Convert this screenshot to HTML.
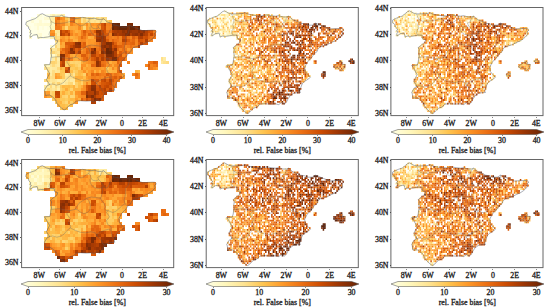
<!DOCTYPE html><html><head><meta charset="utf-8"><style>html,body{margin:0;padding:0;background:#fff;}svg{display:block}text{font-family:"Liberation Serif", serif;fill:#1a1a1a;stroke:#1a1a1a;stroke-width:0.28px}</style></head><body>
<svg width="550" height="308" viewBox="0 0 550 308" shape-rendering="crispEdges">
<defs><linearGradient id="cg" x1="0" x2="1" y1="0" y2="0">
<stop offset="0.000" stop-color="#ffffe5"/>
<stop offset="0.125" stop-color="#fff7bc"/>
<stop offset="0.250" stop-color="#fee391"/>
<stop offset="0.375" stop-color="#fec44f"/>
<stop offset="0.500" stop-color="#fe9929"/>
<stop offset="0.625" stop-color="#ec7014"/>
<stop offset="0.750" stop-color="#cc4c02"/>
<stop offset="0.875" stop-color="#993404"/>
<stop offset="1.000" stop-color="#662506"/>
</linearGradient>
</defs>
<clipPath id="cp0"><rect x="22" y="8" width="152" height="108"/></clipPath><g clip-path="url(#cp0)">
<rect x="36.61" y="14.09" width="2.74" height="3.24" fill="#fffcd4"/><rect x="39.20" y="14.09" width="2.74" height="3.24" fill="#fffdd8"/><rect x="41.79" y="14.09" width="5.33" height="3.24" fill="#ffffe5"/><rect x="46.96" y="14.09" width="2.74" height="3.24" fill="#ffffe4"/><rect x="49.55" y="14.09" width="2.74" height="3.24" fill="#fff8c1"/><rect x="52.14" y="14.09" width="2.74" height="3.24" fill="#fff0ad"/><rect x="54.73" y="14.09" width="2.74" height="3.24" fill="#fff9c6"/><rect x="57.31" y="14.09" width="2.74" height="3.24" fill="#fff7bd"/><rect x="59.90" y="14.09" width="2.74" height="3.24" fill="#fff5b8"/><rect x="62.49" y="14.09" width="2.74" height="3.24" fill="#ffeda7"/><rect x="31.44" y="17.19" width="5.33" height="3.24" fill="#ffffe5"/><rect x="36.61" y="17.19" width="2.74" height="3.24" fill="#fffdd8"/><rect x="39.20" y="17.19" width="2.74" height="3.24" fill="#fffedf"/><rect x="41.79" y="17.19" width="2.74" height="3.24" fill="#ffffe5"/><rect x="44.38" y="17.19" width="2.74" height="3.24" fill="#fffbd1"/><rect x="46.96" y="17.19" width="2.74" height="3.24" fill="#fffacd"/><rect x="49.55" y="17.19" width="2.74" height="3.24" fill="#fff0ac"/><rect x="52.14" y="17.19" width="2.74" height="3.24" fill="#ffeda7"/><rect x="54.73" y="17.19" width="2.74" height="3.24" fill="#f07919"/><rect x="57.31" y="17.19" width="2.74" height="3.24" fill="#e3660f"/><rect x="59.90" y="17.19" width="2.74" height="3.24" fill="#f5851f"/><rect x="62.49" y="17.19" width="2.74" height="3.24" fill="#fa9024"/><rect x="65.08" y="17.19" width="2.74" height="3.24" fill="#fec551"/><rect x="67.66" y="17.19" width="2.74" height="3.24" fill="#fed36f"/><rect x="70.25" y="17.19" width="2.74" height="3.24" fill="#ed7316"/><rect x="72.84" y="17.19" width="2.74" height="3.24" fill="#e86b12"/><rect x="75.43" y="17.19" width="2.74" height="3.24" fill="#feaf3c"/><rect x="78.01" y="17.19" width="2.74" height="3.24" fill="#feac3a"/><rect x="80.60" y="17.19" width="2.74" height="3.24" fill="#fee492"/><rect x="83.19" y="17.19" width="2.74" height="3.24" fill="#fed574"/><rect x="85.78" y="17.19" width="2.74" height="3.24" fill="#fee99d"/><rect x="88.36" y="17.19" width="2.74" height="3.24" fill="#fed879"/><rect x="90.95" y="17.19" width="2.74" height="3.24" fill="#fee18d"/><rect x="93.54" y="17.19" width="2.74" height="3.24" fill="#ffefaa"/><rect x="96.12" y="17.19" width="2.74" height="3.24" fill="#fedb80"/><rect x="98.71" y="17.19" width="2.74" height="3.24" fill="#fee596"/><rect x="101.30" y="17.19" width="2.74" height="3.24" fill="#fed777"/><rect x="103.89" y="17.19" width="2.74" height="3.24" fill="#fedd84"/><rect x="26.26" y="20.28" width="5.33" height="3.24" fill="#ffffe5"/><rect x="31.44" y="20.28" width="2.74" height="3.24" fill="#fffbd3"/><rect x="34.03" y="20.28" width="5.32" height="3.24" fill="#ffffe5"/><rect x="39.20" y="20.28" width="2.74" height="3.24" fill="#fffbd3"/><rect x="41.79" y="20.28" width="2.74" height="3.24" fill="#ffffe5"/><rect x="44.38" y="20.28" width="2.74" height="3.24" fill="#fffee2"/><rect x="46.96" y="20.28" width="2.74" height="3.24" fill="#ffffe5"/><rect x="49.55" y="20.28" width="2.74" height="3.24" fill="#feeca4"/><rect x="52.14" y="20.28" width="2.74" height="3.24" fill="#fff0ac"/><rect x="54.73" y="20.28" width="2.74" height="3.24" fill="#ed7315"/><rect x="57.31" y="20.28" width="2.74" height="3.24" fill="#f5851f"/><rect x="59.90" y="20.28" width="2.74" height="3.24" fill="#fea231"/><rect x="62.49" y="20.28" width="2.74" height="3.24" fill="#fe9929"/><rect x="65.08" y="20.28" width="2.74" height="3.24" fill="#feae3b"/><rect x="67.66" y="20.28" width="2.74" height="3.24" fill="#fed36e"/><rect x="70.25" y="20.28" width="2.74" height="3.24" fill="#ea6e13"/><rect x="72.84" y="20.28" width="2.74" height="3.24" fill="#e46710"/><rect x="75.43" y="20.28" width="2.74" height="3.24" fill="#fec24d"/><rect x="78.01" y="20.28" width="2.74" height="3.24" fill="#feb441"/><rect x="80.60" y="20.28" width="2.74" height="3.24" fill="#fee28e"/><rect x="83.19" y="20.28" width="2.74" height="3.24" fill="#fed26c"/><rect x="85.78" y="20.28" width="2.74" height="3.24" fill="#fedf89"/><rect x="88.36" y="20.28" width="2.74" height="3.24" fill="#fee08a"/><rect x="90.95" y="20.28" width="2.74" height="3.24" fill="#fee494"/><rect x="93.54" y="20.28" width="2.74" height="3.24" fill="#fedf89"/><rect x="96.12" y="20.28" width="2.74" height="3.24" fill="#fee697"/><rect x="98.71" y="20.28" width="2.74" height="3.24" fill="#fee08b"/><rect x="101.30" y="20.28" width="2.74" height="3.24" fill="#fee89c"/><rect x="103.89" y="20.28" width="2.74" height="3.24" fill="#feeaa1"/><rect x="106.47" y="20.28" width="2.74" height="3.24" fill="#fed068"/><rect x="109.06" y="20.28" width="2.74" height="3.24" fill="#febe4a"/><rect x="26.26" y="23.38" width="2.74" height="3.24" fill="#fffddd"/><rect x="28.85" y="23.38" width="5.33" height="3.24" fill="#ffffe5"/><rect x="34.03" y="23.38" width="2.74" height="3.24" fill="#fffdd8"/><rect x="36.61" y="23.38" width="2.74" height="3.24" fill="#fffbd2"/><rect x="39.20" y="23.38" width="2.74" height="3.24" fill="#fffbd0"/><rect x="41.79" y="23.38" width="2.74" height="3.24" fill="#fffcd4"/><rect x="44.38" y="23.38" width="2.74" height="3.24" fill="#fffbd1"/><rect x="46.96" y="23.38" width="2.74" height="3.24" fill="#fffbd0"/><rect x="49.55" y="23.38" width="2.74" height="3.24" fill="#fff6ba"/><rect x="52.14" y="23.38" width="2.74" height="3.24" fill="#fff8c1"/><rect x="54.73" y="23.38" width="2.74" height="3.24" fill="#e46710"/><rect x="57.31" y="23.38" width="2.74" height="3.24" fill="#f17b1a"/><rect x="59.90" y="23.38" width="2.74" height="3.24" fill="#f78a21"/><rect x="62.49" y="23.38" width="2.74" height="3.24" fill="#f68820"/><rect x="65.08" y="23.38" width="2.74" height="3.24" fill="#feb03d"/><rect x="67.66" y="23.38" width="2.74" height="3.24" fill="#febf4b"/><rect x="70.25" y="23.38" width="2.74" height="3.24" fill="#f4831e"/><rect x="72.84" y="23.38" width="2.74" height="3.24" fill="#fc9527"/><rect x="75.43" y="23.38" width="2.74" height="3.24" fill="#fe9c2b"/><rect x="78.01" y="23.38" width="2.74" height="3.24" fill="#fb9125"/><rect x="80.60" y="23.38" width="2.74" height="3.24" fill="#feaa38"/><rect x="83.19" y="23.38" width="2.74" height="3.24" fill="#feae3c"/><rect x="85.78" y="23.38" width="2.74" height="3.24" fill="#f88b22"/><rect x="88.36" y="23.38" width="2.74" height="3.24" fill="#feaf3c"/><rect x="90.95" y="23.38" width="2.74" height="3.24" fill="#fc9326"/><rect x="93.54" y="23.38" width="2.74" height="3.24" fill="#fe9a2a"/><rect x="96.12" y="23.38" width="2.74" height="3.24" fill="#fb9326"/><rect x="98.71" y="23.38" width="2.74" height="3.24" fill="#f78820"/><rect x="101.30" y="23.38" width="2.74" height="3.24" fill="#d65708"/><rect x="103.89" y="23.38" width="2.74" height="3.24" fill="#be4503"/><rect x="106.47" y="23.38" width="2.74" height="3.24" fill="#f4831e"/><rect x="109.06" y="23.38" width="2.74" height="3.24" fill="#f27e1b"/><rect x="111.65" y="23.38" width="2.74" height="3.24" fill="#662506"/><rect x="114.24" y="23.38" width="2.74" height="3.24" fill="#702806"/><rect x="116.83" y="23.38" width="2.74" height="3.24" fill="#662506"/><rect x="127.17" y="23.38" width="2.74" height="3.24" fill="#7e2c05"/><rect x="129.76" y="23.38" width="2.74" height="3.24" fill="#7c2b05"/><rect x="28.85" y="26.47" width="2.74" height="3.24" fill="#fffddb"/><rect x="31.44" y="26.47" width="2.74" height="3.24" fill="#ffffe5"/><rect x="34.03" y="26.47" width="2.74" height="3.24" fill="#fffee1"/><rect x="36.61" y="26.47" width="2.74" height="3.24" fill="#fffbd1"/><rect x="39.20" y="26.47" width="2.74" height="3.24" fill="#ffffe3"/><rect x="41.79" y="26.47" width="2.74" height="3.24" fill="#fffddc"/><rect x="44.38" y="26.47" width="2.74" height="3.24" fill="#ffffe5"/><rect x="46.96" y="26.47" width="2.74" height="3.24" fill="#fffede"/><rect x="49.55" y="26.47" width="2.74" height="3.24" fill="#fff4b7"/><rect x="52.14" y="26.47" width="2.74" height="3.24" fill="#fff5b8"/><rect x="54.73" y="26.47" width="2.74" height="3.24" fill="#ee7517"/><rect x="57.31" y="26.47" width="2.74" height="3.24" fill="#ef7617"/><rect x="59.90" y="26.47" width="2.74" height="3.24" fill="#f4811d"/><rect x="62.49" y="26.47" width="2.74" height="3.24" fill="#feb13e"/><rect x="65.08" y="26.47" width="2.74" height="3.24" fill="#fed675"/><rect x="67.66" y="26.47" width="2.74" height="3.24" fill="#feac3a"/><rect x="70.25" y="26.47" width="2.74" height="3.24" fill="#fea937"/><rect x="72.84" y="26.47" width="2.74" height="3.24" fill="#feac3a"/><rect x="75.43" y="26.47" width="2.74" height="3.24" fill="#fea836"/><rect x="78.01" y="26.47" width="2.74" height="3.24" fill="#f88a21"/><rect x="80.60" y="26.47" width="2.74" height="3.24" fill="#fead3b"/><rect x="83.19" y="26.47" width="2.74" height="3.24" fill="#fed675"/><rect x="85.78" y="26.47" width="2.74" height="3.24" fill="#fe9d2c"/><rect x="88.36" y="26.47" width="2.74" height="3.24" fill="#feae3b"/><rect x="90.95" y="26.47" width="2.74" height="3.24" fill="#fea534"/><rect x="93.54" y="26.47" width="2.74" height="3.24" fill="#fea736"/><rect x="96.12" y="26.47" width="2.74" height="3.24" fill="#fb9225"/><rect x="98.71" y="26.47" width="2.74" height="3.24" fill="#fea130"/><rect x="101.30" y="26.47" width="2.74" height="3.24" fill="#d85a09"/><rect x="103.89" y="26.47" width="2.74" height="3.24" fill="#cc4c02"/><rect x="106.47" y="26.47" width="2.74" height="3.24" fill="#f68720"/><rect x="109.06" y="26.47" width="2.74" height="3.24" fill="#f5841e"/><rect x="111.65" y="26.47" width="2.74" height="3.24" fill="#662506"/><rect x="114.24" y="26.47" width="2.74" height="3.24" fill="#782a05"/><rect x="116.83" y="26.47" width="2.74" height="3.24" fill="#6f2806"/><rect x="119.41" y="26.47" width="7.91" height="3.24" fill="#662506"/><rect x="127.17" y="26.47" width="2.74" height="3.24" fill="#7a2b05"/><rect x="129.76" y="26.47" width="5.33" height="3.24" fill="#662506"/><rect x="134.94" y="26.47" width="2.74" height="3.24" fill="#812d05"/><rect x="137.53" y="26.47" width="2.74" height="3.24" fill="#662506"/><rect x="28.85" y="29.56" width="2.74" height="3.24" fill="#fffcd4"/><rect x="31.44" y="29.56" width="5.33" height="3.24" fill="#ffffe5"/><rect x="36.61" y="29.56" width="2.74" height="3.24" fill="#fffee0"/><rect x="39.20" y="29.56" width="10.50" height="3.24" fill="#ffffe5"/><rect x="49.55" y="29.56" width="2.74" height="3.24" fill="#fd9627"/><rect x="52.14" y="29.56" width="2.74" height="3.24" fill="#fe9929"/><rect x="54.73" y="29.56" width="2.74" height="3.24" fill="#fee89b"/><rect x="57.31" y="29.56" width="2.74" height="3.24" fill="#fee698"/><rect x="59.90" y="29.56" width="2.74" height="3.24" fill="#b74203"/><rect x="62.49" y="29.56" width="2.74" height="3.24" fill="#d65707"/><rect x="65.08" y="29.56" width="2.74" height="3.24" fill="#c84a02"/><rect x="67.66" y="29.56" width="2.74" height="3.24" fill="#df610d"/><rect x="70.25" y="29.56" width="2.74" height="3.24" fill="#f98d23"/><rect x="72.84" y="29.56" width="2.74" height="3.24" fill="#fea130"/><rect x="75.43" y="29.56" width="2.74" height="3.24" fill="#feb03e"/><rect x="78.01" y="29.56" width="2.74" height="3.24" fill="#fea433"/><rect x="80.60" y="29.56" width="2.74" height="3.24" fill="#f27d1b"/><rect x="83.19" y="29.56" width="2.74" height="3.24" fill="#db5c0a"/><rect x="85.78" y="29.56" width="2.74" height="3.24" fill="#ef7718"/><rect x="88.36" y="29.56" width="2.74" height="3.24" fill="#f17a19"/><rect x="90.95" y="29.56" width="2.74" height="3.24" fill="#ef7718"/><rect x="93.54" y="29.56" width="2.74" height="3.24" fill="#db5d0a"/><rect x="96.12" y="29.56" width="2.74" height="3.24" fill="#913204"/><rect x="98.71" y="29.56" width="2.74" height="3.24" fill="#923204"/><rect x="101.30" y="29.56" width="2.74" height="3.24" fill="#bf4603"/><rect x="103.89" y="29.56" width="2.74" height="3.24" fill="#d05104"/><rect x="106.47" y="29.56" width="2.74" height="3.24" fill="#ee7416"/><rect x="109.06" y="29.56" width="2.74" height="3.24" fill="#e66911"/><rect x="111.65" y="29.56" width="2.74" height="3.24" fill="#b84203"/><rect x="114.24" y="29.56" width="2.74" height="3.24" fill="#ac3d03"/><rect x="116.83" y="29.56" width="2.74" height="3.24" fill="#a33904"/><rect x="119.41" y="29.56" width="2.74" height="3.24" fill="#a93c03"/><rect x="122.00" y="29.56" width="2.74" height="3.24" fill="#913204"/><rect x="124.59" y="29.56" width="2.74" height="3.24" fill="#a03704"/><rect x="127.17" y="29.56" width="2.74" height="3.24" fill="#822d05"/><rect x="129.76" y="29.56" width="2.74" height="3.24" fill="#953304"/><rect x="132.35" y="29.56" width="2.74" height="3.24" fill="#9e3604"/><rect x="134.94" y="29.56" width="2.74" height="3.24" fill="#9f3704"/><rect x="137.53" y="29.56" width="2.74" height="3.24" fill="#8d3004"/><rect x="140.11" y="29.56" width="2.74" height="3.24" fill="#9e3604"/><rect x="142.70" y="29.56" width="2.74" height="3.24" fill="#8f3104"/><rect x="145.29" y="29.56" width="2.74" height="3.24" fill="#b54103"/><rect x="147.88" y="29.56" width="2.74" height="3.24" fill="#ce4e03"/><rect x="150.46" y="29.56" width="2.74" height="3.24" fill="#d55607"/><rect x="153.05" y="29.56" width="2.74" height="3.24" fill="#f3811d"/><rect x="28.85" y="32.66" width="2.74" height="3.24" fill="#ffffe4"/><rect x="31.44" y="32.66" width="2.74" height="3.24" fill="#ffffe5"/><rect x="34.03" y="32.66" width="2.74" height="3.24" fill="#fffee2"/><rect x="36.61" y="32.66" width="2.74" height="3.24" fill="#fffdd8"/><rect x="39.20" y="32.66" width="2.74" height="3.24" fill="#fffbd2"/><rect x="41.79" y="32.66" width="7.91" height="3.24" fill="#ffffe5"/><rect x="49.55" y="32.66" width="2.74" height="3.24" fill="#f78a21"/><rect x="52.14" y="32.66" width="2.74" height="3.24" fill="#f68720"/><rect x="54.73" y="32.66" width="2.74" height="3.24" fill="#fed778"/><rect x="57.31" y="32.66" width="2.74" height="3.24" fill="#feeaa1"/><rect x="59.90" y="32.66" width="2.74" height="3.24" fill="#ad3e03"/><rect x="62.49" y="32.66" width="2.74" height="3.24" fill="#c44802"/><rect x="65.08" y="32.66" width="2.74" height="3.24" fill="#dc5e0b"/><rect x="67.66" y="32.66" width="2.74" height="3.24" fill="#be4603"/><rect x="70.25" y="32.66" width="2.74" height="3.24" fill="#f3811d"/><rect x="72.84" y="32.66" width="2.74" height="3.24" fill="#fe9e2d"/><rect x="75.43" y="32.66" width="2.74" height="3.24" fill="#fa9025"/><rect x="78.01" y="32.66" width="2.74" height="3.24" fill="#fea231"/><rect x="80.60" y="32.66" width="2.74" height="3.24" fill="#f27e1b"/><rect x="83.19" y="32.66" width="2.74" height="3.24" fill="#e4670f"/><rect x="85.78" y="32.66" width="2.74" height="3.24" fill="#f78821"/><rect x="88.36" y="32.66" width="2.74" height="3.24" fill="#e0620d"/><rect x="90.95" y="32.66" width="2.74" height="3.24" fill="#eb6f13"/><rect x="93.54" y="32.66" width="2.74" height="3.24" fill="#f5841e"/><rect x="96.12" y="32.66" width="2.74" height="3.24" fill="#b03f03"/><rect x="98.71" y="32.66" width="2.74" height="3.24" fill="#903104"/><rect x="101.30" y="32.66" width="2.74" height="3.24" fill="#b54103"/><rect x="103.89" y="32.66" width="2.74" height="3.24" fill="#d45607"/><rect x="106.47" y="32.66" width="2.74" height="3.24" fill="#da5b0a"/><rect x="109.06" y="32.66" width="2.74" height="3.24" fill="#f5841e"/><rect x="111.65" y="32.66" width="2.74" height="3.24" fill="#832e05"/><rect x="114.24" y="32.66" width="2.74" height="3.24" fill="#9f3704"/><rect x="116.83" y="32.66" width="2.74" height="3.24" fill="#b34003"/><rect x="119.41" y="32.66" width="2.74" height="3.24" fill="#a73a03"/><rect x="122.00" y="32.66" width="2.74" height="3.24" fill="#9c3504"/><rect x="124.59" y="32.66" width="2.74" height="3.24" fill="#872f05"/><rect x="127.17" y="32.66" width="2.74" height="3.24" fill="#832d05"/><rect x="129.76" y="32.66" width="2.74" height="3.24" fill="#af3f03"/><rect x="132.35" y="32.66" width="2.74" height="3.24" fill="#983404"/><rect x="134.94" y="32.66" width="2.74" height="3.24" fill="#903104"/><rect x="137.53" y="32.66" width="2.74" height="3.24" fill="#a23804"/><rect x="140.11" y="32.66" width="2.74" height="3.24" fill="#822d05"/><rect x="142.70" y="32.66" width="2.74" height="3.24" fill="#a73a03"/><rect x="145.29" y="32.66" width="2.74" height="3.24" fill="#b64203"/><rect x="147.88" y="32.66" width="2.74" height="3.24" fill="#de600c"/><rect x="150.46" y="32.66" width="2.74" height="3.24" fill="#c14702"/><rect x="153.05" y="32.66" width="2.74" height="3.24" fill="#ea6d13"/><rect x="28.85" y="35.75" width="2.74" height="3.24" fill="#fffbcf"/><rect x="36.61" y="35.75" width="2.74" height="3.24" fill="#fffbcf"/><rect x="39.20" y="35.75" width="2.74" height="3.24" fill="#fffbd1"/><rect x="41.79" y="35.75" width="2.74" height="3.24" fill="#ffffe5"/><rect x="44.38" y="35.75" width="2.74" height="3.24" fill="#fffdd9"/><rect x="46.96" y="35.75" width="2.74" height="3.24" fill="#fffddb"/><rect x="49.55" y="35.75" width="2.74" height="3.24" fill="#fff3b4"/><rect x="52.14" y="35.75" width="2.74" height="3.24" fill="#fff2b1"/><rect x="54.73" y="35.75" width="2.74" height="3.24" fill="#fed471"/><rect x="57.31" y="35.75" width="2.74" height="3.24" fill="#fede86"/><rect x="59.90" y="35.75" width="2.74" height="3.24" fill="#fea02f"/><rect x="62.49" y="35.75" width="2.74" height="3.24" fill="#fd9728"/><rect x="65.08" y="35.75" width="2.74" height="3.24" fill="#fea836"/><rect x="67.66" y="35.75" width="2.74" height="3.24" fill="#fc9527"/><rect x="70.25" y="35.75" width="2.74" height="3.24" fill="#feb23f"/><rect x="72.84" y="35.75" width="2.74" height="3.24" fill="#feab39"/><rect x="75.43" y="35.75" width="2.74" height="3.24" fill="#fea231"/><rect x="78.01" y="35.75" width="2.74" height="3.24" fill="#f88b22"/><rect x="80.60" y="35.75" width="2.74" height="3.24" fill="#e4670f"/><rect x="83.19" y="35.75" width="2.74" height="3.24" fill="#ef7818"/><rect x="85.78" y="35.75" width="2.74" height="3.24" fill="#fb9326"/><rect x="88.36" y="35.75" width="2.74" height="3.24" fill="#feb13e"/><rect x="90.95" y="35.75" width="2.74" height="3.24" fill="#feaa38"/><rect x="93.54" y="35.75" width="2.74" height="3.24" fill="#f4811d"/><rect x="96.12" y="35.75" width="2.74" height="3.24" fill="#a63a03"/><rect x="98.71" y="35.75" width="2.74" height="3.24" fill="#9f3704"/><rect x="101.30" y="35.75" width="2.74" height="3.24" fill="#963304"/><rect x="103.89" y="35.75" width="2.74" height="3.24" fill="#a63a04"/><rect x="106.47" y="35.75" width="2.74" height="3.24" fill="#ec7115"/><rect x="109.06" y="35.75" width="2.74" height="3.24" fill="#f27d1b"/><rect x="111.65" y="35.75" width="2.74" height="3.24" fill="#f6861f"/><rect x="114.24" y="35.75" width="2.74" height="3.24" fill="#f3801c"/><rect x="116.83" y="35.75" width="2.74" height="3.24" fill="#eb6f14"/><rect x="119.41" y="35.75" width="2.74" height="3.24" fill="#f5851f"/><rect x="122.00" y="35.75" width="2.74" height="3.24" fill="#d05004"/><rect x="124.59" y="35.75" width="2.74" height="3.24" fill="#d35306"/><rect x="127.17" y="35.75" width="2.74" height="3.24" fill="#ee7416"/><rect x="129.76" y="35.75" width="2.74" height="3.24" fill="#f5841e"/><rect x="132.35" y="35.75" width="2.74" height="3.24" fill="#dc5e0b"/><rect x="134.94" y="35.75" width="2.74" height="3.24" fill="#ed7115"/><rect x="137.53" y="35.75" width="2.74" height="3.24" fill="#b74203"/><rect x="140.11" y="35.75" width="2.74" height="3.24" fill="#af3e03"/><rect x="142.70" y="35.75" width="2.74" height="3.24" fill="#d25305"/><rect x="145.29" y="35.75" width="2.74" height="3.24" fill="#cd4d02"/><rect x="147.88" y="35.75" width="2.74" height="3.24" fill="#e46710"/><rect x="150.46" y="35.75" width="2.74" height="3.24" fill="#ee7416"/><rect x="153.05" y="35.75" width="2.74" height="3.24" fill="#f07a19"/><rect x="54.73" y="38.84" width="2.74" height="3.24" fill="#feda7e"/><rect x="57.31" y="38.84" width="2.74" height="3.24" fill="#fed472"/><rect x="59.90" y="38.84" width="2.74" height="3.24" fill="#f5841e"/><rect x="62.49" y="38.84" width="2.74" height="3.24" fill="#fb9326"/><rect x="65.08" y="38.84" width="2.74" height="3.24" fill="#fe9f2f"/><rect x="67.66" y="38.84" width="2.74" height="3.24" fill="#f4821d"/><rect x="70.25" y="38.84" width="2.74" height="3.24" fill="#fb9226"/><rect x="72.84" y="38.84" width="2.74" height="3.24" fill="#feaf3d"/><rect x="75.43" y="38.84" width="2.74" height="3.24" fill="#feae3c"/><rect x="78.01" y="38.84" width="2.74" height="3.24" fill="#f98d23"/><rect x="80.60" y="38.84" width="2.74" height="3.24" fill="#f5861f"/><rect x="83.19" y="38.84" width="2.74" height="3.24" fill="#f78820"/><rect x="85.78" y="38.84" width="2.74" height="3.24" fill="#fe9e2e"/><rect x="88.36" y="38.84" width="2.74" height="3.24" fill="#fe9829"/><rect x="90.95" y="38.84" width="2.74" height="3.24" fill="#fe9c2b"/><rect x="93.54" y="38.84" width="2.74" height="3.24" fill="#fe9a2a"/><rect x="96.12" y="38.84" width="2.74" height="3.24" fill="#943204"/><rect x="98.71" y="38.84" width="2.74" height="3.24" fill="#8e3104"/><rect x="101.30" y="38.84" width="2.74" height="3.24" fill="#9e3604"/><rect x="103.89" y="38.84" width="2.74" height="3.24" fill="#a13804"/><rect x="106.47" y="38.84" width="2.74" height="3.24" fill="#d95b09"/><rect x="109.06" y="38.84" width="2.74" height="3.24" fill="#f17c1a"/><rect x="111.65" y="38.84" width="2.74" height="3.24" fill="#e1640e"/><rect x="114.24" y="38.84" width="2.74" height="3.24" fill="#ed7316"/><rect x="116.83" y="38.84" width="2.74" height="3.24" fill="#ef7718"/><rect x="119.41" y="38.84" width="2.74" height="3.24" fill="#f5851f"/><rect x="122.00" y="38.84" width="2.74" height="3.24" fill="#b64203"/><rect x="124.59" y="38.84" width="2.74" height="3.24" fill="#c04602"/><rect x="127.17" y="38.84" width="2.74" height="3.24" fill="#dd5f0b"/><rect x="129.76" y="38.84" width="2.74" height="3.24" fill="#ed7215"/><rect x="132.35" y="38.84" width="2.74" height="3.24" fill="#e56810"/><rect x="134.94" y="38.84" width="2.74" height="3.24" fill="#f4831e"/><rect x="137.53" y="38.84" width="2.74" height="3.24" fill="#d05004"/><rect x="140.11" y="38.84" width="2.74" height="3.24" fill="#d75908"/><rect x="142.70" y="38.84" width="2.74" height="3.24" fill="#de600c"/><rect x="145.29" y="38.84" width="2.74" height="3.24" fill="#b13f03"/><rect x="147.88" y="38.84" width="2.74" height="3.24" fill="#f27e1b"/><rect x="150.46" y="38.84" width="2.74" height="3.24" fill="#f4811d"/><rect x="54.73" y="41.94" width="2.74" height="3.24" fill="#feeaa1"/><rect x="57.31" y="41.94" width="2.74" height="3.24" fill="#fee697"/><rect x="59.90" y="41.94" width="2.74" height="3.24" fill="#fd9728"/><rect x="62.49" y="41.94" width="2.74" height="3.24" fill="#feab39"/><rect x="65.08" y="41.94" width="2.74" height="3.24" fill="#d95b09"/><rect x="67.66" y="41.94" width="2.74" height="3.24" fill="#d95b0a"/><rect x="70.25" y="41.94" width="2.74" height="3.24" fill="#da5b0a"/><rect x="72.84" y="41.94" width="2.74" height="3.24" fill="#d05004"/><rect x="75.43" y="41.94" width="2.74" height="3.24" fill="#8e3104"/><rect x="78.01" y="41.94" width="2.74" height="3.24" fill="#822d05"/><rect x="80.60" y="41.94" width="2.74" height="3.24" fill="#ec7014"/><rect x="83.19" y="41.94" width="2.74" height="3.24" fill="#dc5e0b"/><rect x="85.78" y="41.94" width="2.74" height="3.24" fill="#fea231"/><rect x="88.36" y="41.94" width="5.32" height="3.24" fill="#fe9929"/><rect x="93.54" y="41.94" width="2.74" height="3.24" fill="#fa9125"/><rect x="96.12" y="41.94" width="2.74" height="3.24" fill="#f27f1c"/><rect x="98.71" y="41.94" width="2.74" height="3.24" fill="#e86b12"/><rect x="101.30" y="41.94" width="2.74" height="3.24" fill="#aa3c03"/><rect x="103.89" y="41.94" width="2.74" height="3.24" fill="#a33904"/><rect x="106.47" y="41.94" width="2.74" height="3.24" fill="#7d2c05"/><rect x="109.06" y="41.94" width="2.74" height="3.24" fill="#812d05"/><rect x="111.65" y="41.94" width="2.74" height="3.24" fill="#b94303"/><rect x="114.24" y="41.94" width="2.74" height="3.24" fill="#de600c"/><rect x="116.83" y="41.94" width="2.74" height="3.24" fill="#f4811d"/><rect x="119.41" y="41.94" width="2.74" height="3.24" fill="#f17c1a"/><rect x="122.00" y="41.94" width="2.74" height="3.24" fill="#e1640e"/><rect x="124.59" y="41.94" width="2.74" height="3.24" fill="#df610d"/><rect x="127.17" y="41.94" width="2.74" height="3.24" fill="#e96c12"/><rect x="129.76" y="41.94" width="2.74" height="3.24" fill="#e4670f"/><rect x="132.35" y="41.94" width="2.74" height="3.24" fill="#e0630d"/><rect x="134.94" y="41.94" width="2.74" height="3.24" fill="#f5851f"/><rect x="137.53" y="41.94" width="2.74" height="3.24" fill="#dc5e0b"/><rect x="140.11" y="41.94" width="2.74" height="3.24" fill="#b54103"/><rect x="142.70" y="41.94" width="2.74" height="3.24" fill="#de600c"/><rect x="145.29" y="41.94" width="2.74" height="3.24" fill="#d75808"/><rect x="49.55" y="45.03" width="2.74" height="3.24" fill="#fffbd3"/><rect x="52.14" y="45.03" width="2.74" height="3.24" fill="#fffcd4"/><rect x="54.73" y="45.03" width="2.74" height="3.24" fill="#fed676"/><rect x="57.31" y="45.03" width="2.74" height="3.24" fill="#fee79a"/><rect x="59.90" y="45.03" width="2.74" height="3.24" fill="#feab38"/><rect x="62.49" y="45.03" width="2.74" height="3.24" fill="#feab39"/><rect x="65.08" y="45.03" width="2.74" height="3.24" fill="#e66911"/><rect x="67.66" y="45.03" width="2.74" height="3.24" fill="#da5c0a"/><rect x="70.25" y="45.03" width="2.74" height="3.24" fill="#cc4c02"/><rect x="72.84" y="45.03" width="2.74" height="3.24" fill="#b34003"/><rect x="75.43" y="45.03" width="2.74" height="3.24" fill="#993404"/><rect x="78.01" y="45.03" width="2.74" height="3.24" fill="#943304"/><rect x="80.60" y="45.03" width="2.74" height="3.24" fill="#e56810"/><rect x="83.19" y="45.03" width="2.74" height="3.24" fill="#e0630d"/><rect x="85.78" y="45.03" width="2.74" height="3.24" fill="#f88c23"/><rect x="88.36" y="45.03" width="2.74" height="3.24" fill="#f3811d"/><rect x="90.95" y="45.03" width="2.74" height="3.24" fill="#f98d23"/><rect x="93.54" y="45.03" width="2.74" height="3.24" fill="#f5851f"/><rect x="96.12" y="45.03" width="2.74" height="3.24" fill="#f27e1b"/><rect x="98.71" y="45.03" width="2.74" height="3.24" fill="#eb6e13"/><rect x="101.30" y="45.03" width="2.74" height="3.24" fill="#933204"/><rect x="103.89" y="45.03" width="2.74" height="3.24" fill="#852e05"/><rect x="106.47" y="45.03" width="2.74" height="3.24" fill="#9a3504"/><rect x="109.06" y="45.03" width="2.74" height="3.24" fill="#872f05"/><rect x="111.65" y="45.03" width="2.74" height="3.24" fill="#d05104"/><rect x="114.24" y="45.03" width="2.74" height="3.24" fill="#c74a02"/><rect x="116.83" y="45.03" width="2.74" height="3.24" fill="#df610c"/><rect x="119.41" y="45.03" width="2.74" height="3.24" fill="#e1630e"/><rect x="122.00" y="45.03" width="2.74" height="3.24" fill="#e66911"/><rect x="124.59" y="45.03" width="2.74" height="3.24" fill="#f78921"/><rect x="127.17" y="45.03" width="2.74" height="3.24" fill="#f3801c"/><rect x="129.76" y="45.03" width="2.74" height="3.24" fill="#ec7014"/><rect x="132.35" y="45.03" width="2.74" height="3.24" fill="#f17c1a"/><rect x="134.94" y="45.03" width="2.74" height="3.24" fill="#f5851f"/><rect x="137.53" y="45.03" width="2.74" height="3.24" fill="#b64203"/><rect x="49.55" y="48.12" width="2.74" height="3.24" fill="#fed36e"/><rect x="52.14" y="48.12" width="2.74" height="3.24" fill="#fee89b"/><rect x="54.73" y="48.12" width="2.74" height="3.24" fill="#fee596"/><rect x="57.31" y="48.12" width="2.74" height="3.24" fill="#fed778"/><rect x="59.90" y="48.12" width="2.74" height="3.24" fill="#f5861f"/><rect x="62.49" y="48.12" width="2.74" height="3.24" fill="#e76a11"/><rect x="65.08" y="48.12" width="2.74" height="3.24" fill="#da5c0a"/><rect x="67.66" y="48.12" width="2.74" height="3.24" fill="#d45507"/><rect x="70.25" y="48.12" width="2.74" height="3.24" fill="#852e05"/><rect x="72.84" y="48.12" width="2.74" height="3.24" fill="#b44103"/><rect x="75.43" y="48.12" width="2.74" height="3.24" fill="#de600c"/><rect x="78.01" y="48.12" width="2.74" height="3.24" fill="#cf5004"/><rect x="80.60" y="48.12" width="2.74" height="3.24" fill="#fe9929"/><rect x="83.19" y="48.12" width="2.74" height="3.24" fill="#f68720"/><rect x="85.78" y="48.12" width="2.74" height="3.24" fill="#e4670f"/><rect x="88.36" y="48.12" width="2.74" height="3.24" fill="#e56910"/><rect x="90.95" y="48.12" width="2.74" height="3.24" fill="#ae3e03"/><rect x="93.54" y="48.12" width="2.74" height="3.24" fill="#7b2b05"/><rect x="96.12" y="48.12" width="2.74" height="3.24" fill="#ee7416"/><rect x="98.71" y="48.12" width="2.74" height="3.24" fill="#e86b12"/><rect x="101.30" y="48.12" width="2.74" height="3.24" fill="#a03704"/><rect x="103.89" y="48.12" width="2.74" height="3.24" fill="#b54103"/><rect x="106.47" y="48.12" width="2.74" height="3.24" fill="#682606"/><rect x="109.06" y="48.12" width="2.74" height="3.24" fill="#7b2b05"/><rect x="111.65" y="48.12" width="2.74" height="3.24" fill="#b64103"/><rect x="114.24" y="48.12" width="2.74" height="3.24" fill="#923204"/><rect x="116.83" y="48.12" width="2.74" height="3.24" fill="#e76a11"/><rect x="119.41" y="48.12" width="2.74" height="3.24" fill="#f5831e"/><rect x="122.00" y="48.12" width="2.74" height="3.24" fill="#ea6e13"/><rect x="124.59" y="48.12" width="2.74" height="3.24" fill="#ef7818"/><rect x="127.17" y="48.12" width="2.74" height="3.24" fill="#fe9f2e"/><rect x="129.76" y="48.12" width="2.74" height="3.24" fill="#f88b22"/><rect x="49.55" y="51.22" width="2.74" height="3.24" fill="#fee391"/><rect x="52.14" y="51.22" width="2.74" height="3.24" fill="#fed573"/><rect x="54.73" y="51.22" width="2.74" height="3.24" fill="#fedf88"/><rect x="57.31" y="51.22" width="2.74" height="3.24" fill="#fee493"/><rect x="59.90" y="51.22" width="2.74" height="3.24" fill="#e76a11"/><rect x="62.49" y="51.22" width="2.74" height="3.24" fill="#f07818"/><rect x="65.08" y="51.22" width="2.74" height="3.24" fill="#da5c0a"/><rect x="67.66" y="51.22" width="2.74" height="3.24" fill="#c14702"/><rect x="70.25" y="51.22" width="2.74" height="3.24" fill="#923204"/><rect x="72.84" y="51.22" width="2.74" height="3.24" fill="#872f05"/><rect x="75.43" y="51.22" width="2.74" height="3.24" fill="#da5c0a"/><rect x="78.01" y="51.22" width="2.74" height="3.24" fill="#b34003"/><rect x="80.60" y="51.22" width="2.74" height="3.24" fill="#f88a21"/><rect x="83.19" y="51.22" width="2.74" height="3.24" fill="#f5841e"/><rect x="85.78" y="51.22" width="2.74" height="3.24" fill="#de600c"/><rect x="88.36" y="51.22" width="2.74" height="3.24" fill="#e56810"/><rect x="90.95" y="51.22" width="2.74" height="3.24" fill="#862e05"/><rect x="93.54" y="51.22" width="2.74" height="3.24" fill="#983404"/><rect x="96.12" y="51.22" width="2.74" height="3.24" fill="#e1640e"/><rect x="98.71" y="51.22" width="2.74" height="3.24" fill="#f37f1c"/><rect x="101.30" y="51.22" width="2.74" height="3.24" fill="#882f05"/><rect x="103.89" y="51.22" width="2.74" height="3.24" fill="#9c3604"/><rect x="106.47" y="51.22" width="2.74" height="3.24" fill="#662506"/><rect x="109.06" y="51.22" width="2.74" height="3.24" fill="#692606"/><rect x="111.65" y="51.22" width="2.74" height="3.24" fill="#872f05"/><rect x="114.24" y="51.22" width="2.74" height="3.24" fill="#b34003"/><rect x="116.83" y="51.22" width="2.74" height="3.24" fill="#f6861f"/><rect x="119.41" y="51.22" width="2.74" height="3.24" fill="#db5d0b"/><rect x="122.00" y="51.22" width="2.74" height="3.24" fill="#ec7114"/><rect x="124.59" y="51.22" width="2.74" height="3.24" fill="#dd5f0b"/><rect x="127.17" y="51.22" width="2.74" height="3.24" fill="#f4831e"/><rect x="129.76" y="51.22" width="2.74" height="3.24" fill="#fa9125"/><rect x="49.55" y="54.31" width="2.74" height="3.24" fill="#fff5b8"/><rect x="52.14" y="54.31" width="2.74" height="3.24" fill="#fffaca"/><rect x="54.73" y="54.31" width="2.74" height="3.24" fill="#feeda6"/><rect x="57.31" y="54.31" width="2.74" height="3.24" fill="#fed778"/><rect x="59.90" y="54.31" width="2.74" height="3.24" fill="#812d05"/><rect x="62.49" y="54.31" width="2.74" height="3.24" fill="#882f05"/><rect x="65.08" y="54.31" width="2.74" height="3.24" fill="#e46710"/><rect x="67.66" y="54.31" width="2.74" height="3.24" fill="#ee7416"/><rect x="70.25" y="54.31" width="2.74" height="3.24" fill="#fea332"/><rect x="72.84" y="54.31" width="2.74" height="3.24" fill="#fead3b"/><rect x="75.43" y="54.31" width="2.74" height="3.24" fill="#fe9d2c"/><rect x="78.01" y="54.31" width="2.74" height="3.24" fill="#fd9627"/><rect x="80.60" y="54.31" width="2.74" height="3.24" fill="#dc5e0b"/><rect x="83.19" y="54.31" width="2.74" height="3.24" fill="#db5d0b"/><rect x="85.78" y="54.31" width="2.74" height="3.24" fill="#ee7416"/><rect x="88.36" y="54.31" width="2.74" height="3.24" fill="#f5841e"/><rect x="90.95" y="54.31" width="2.74" height="3.24" fill="#bb4403"/><rect x="93.54" y="54.31" width="2.74" height="3.24" fill="#be4503"/><rect x="96.12" y="54.31" width="2.74" height="3.24" fill="#de600c"/><rect x="98.71" y="54.31" width="2.74" height="3.24" fill="#ce4e03"/><rect x="101.30" y="54.31" width="2.74" height="3.24" fill="#c14702"/><rect x="103.89" y="54.31" width="2.74" height="3.24" fill="#de600c"/><rect x="106.47" y="54.31" width="2.74" height="3.24" fill="#7f2c05"/><rect x="109.06" y="54.31" width="2.74" height="3.24" fill="#7d2c05"/><rect x="111.65" y="54.31" width="2.74" height="3.24" fill="#8b3005"/><rect x="114.24" y="54.31" width="2.74" height="3.24" fill="#b34003"/><rect x="116.83" y="54.31" width="2.74" height="3.24" fill="#dc5f0b"/><rect x="119.41" y="54.31" width="2.74" height="3.24" fill="#d15205"/><rect x="122.00" y="54.31" width="2.74" height="3.24" fill="#f68720"/><rect x="124.59" y="54.31" width="2.74" height="3.24" fill="#ef7718"/><rect x="49.55" y="57.41" width="2.74" height="3.24" fill="#fffcd4"/><rect x="52.14" y="57.41" width="2.74" height="3.24" fill="#feeca4"/><rect x="54.73" y="57.41" width="2.74" height="3.24" fill="#fed778"/><rect x="57.31" y="57.41" width="2.74" height="3.24" fill="#ffeda7"/><rect x="59.90" y="57.41" width="2.74" height="3.24" fill="#812d05"/><rect x="62.49" y="57.41" width="2.74" height="3.24" fill="#ab3c03"/><rect x="65.08" y="57.41" width="2.74" height="3.24" fill="#f27f1b"/><rect x="67.66" y="57.41" width="2.74" height="3.24" fill="#e56810"/><rect x="70.25" y="57.41" width="2.74" height="3.24" fill="#f5831e"/><rect x="72.84" y="57.41" width="2.74" height="3.24" fill="#feac3a"/><rect x="75.43" y="57.41" width="2.74" height="3.24" fill="#feb23f"/><rect x="78.01" y="57.41" width="2.74" height="3.24" fill="#fea02f"/><rect x="80.60" y="57.41" width="2.74" height="3.24" fill="#f68720"/><rect x="83.19" y="57.41" width="2.74" height="3.24" fill="#e86b12"/><rect x="85.78" y="57.41" width="2.74" height="3.24" fill="#de600c"/><rect x="88.36" y="57.41" width="2.74" height="3.24" fill="#f37f1c"/><rect x="90.95" y="57.41" width="2.74" height="3.24" fill="#db5d0a"/><rect x="93.54" y="57.41" width="2.74" height="3.24" fill="#d25305"/><rect x="96.12" y="57.41" width="2.74" height="3.24" fill="#b03f03"/><rect x="98.71" y="57.41" width="2.74" height="3.24" fill="#da5c0a"/><rect x="101.30" y="57.41" width="2.74" height="3.24" fill="#af3f03"/><rect x="103.89" y="57.41" width="2.74" height="3.24" fill="#d15205"/><rect x="106.47" y="57.41" width="2.74" height="3.24" fill="#9b3504"/><rect x="109.06" y="57.41" width="2.74" height="3.24" fill="#a63a04"/><rect x="111.65" y="57.41" width="2.74" height="3.24" fill="#7e2c05"/><rect x="114.24" y="57.41" width="2.74" height="3.24" fill="#7d2c05"/><rect x="116.83" y="57.41" width="2.74" height="3.24" fill="#c44802"/><rect x="119.41" y="57.41" width="2.74" height="3.24" fill="#d85a09"/><rect x="122.00" y="57.41" width="2.74" height="3.24" fill="#d95b09"/><rect x="124.59" y="57.41" width="2.74" height="3.24" fill="#f5841e"/><rect x="160.81" y="57.41" width="2.74" height="3.24" fill="#fee08b"/><rect x="163.40" y="57.41" width="2.74" height="3.24" fill="#feeba3"/><rect x="49.55" y="60.50" width="2.74" height="3.24" fill="#fed472"/><rect x="52.14" y="60.50" width="2.74" height="3.24" fill="#fed26e"/><rect x="54.73" y="60.50" width="2.74" height="3.24" fill="#fed879"/><rect x="57.31" y="60.50" width="2.74" height="3.24" fill="#fee79b"/><rect x="59.90" y="60.50" width="2.74" height="3.24" fill="#d65708"/><rect x="62.49" y="60.50" width="2.74" height="3.24" fill="#bc4503"/><rect x="65.08" y="60.50" width="2.74" height="3.24" fill="#fecc60"/><rect x="67.66" y="60.50" width="2.74" height="3.24" fill="#fec755"/><rect x="70.25" y="60.50" width="2.74" height="3.24" fill="#fed573"/><rect x="72.84" y="60.50" width="2.74" height="3.24" fill="#fed26c"/><rect x="75.43" y="60.50" width="2.74" height="3.24" fill="#fed675"/><rect x="78.01" y="60.50" width="2.74" height="3.24" fill="#fed470"/><rect x="80.60" y="60.50" width="2.74" height="3.24" fill="#feaf3c"/><rect x="83.19" y="60.50" width="2.74" height="3.24" fill="#fe9d2d"/><rect x="85.78" y="60.50" width="2.74" height="3.24" fill="#fd9728"/><rect x="88.36" y="60.50" width="2.74" height="3.24" fill="#f98d23"/><rect x="90.95" y="60.50" width="2.74" height="3.24" fill="#f4821d"/><rect x="93.54" y="60.50" width="2.74" height="3.24" fill="#ee7416"/><rect x="96.12" y="60.50" width="2.74" height="3.24" fill="#913204"/><rect x="98.71" y="60.50" width="2.74" height="3.24" fill="#b24003"/><rect x="101.30" y="60.50" width="2.74" height="3.24" fill="#ed7315"/><rect x="103.89" y="60.50" width="2.74" height="3.24" fill="#ef7617"/><rect x="106.47" y="60.50" width="2.74" height="3.24" fill="#f4831e"/><rect x="109.06" y="60.50" width="2.74" height="3.24" fill="#feb03d"/><rect x="111.65" y="60.50" width="2.74" height="3.24" fill="#fe9e2d"/><rect x="114.24" y="60.50" width="2.74" height="3.24" fill="#fe9d2d"/><rect x="116.83" y="60.50" width="2.74" height="3.24" fill="#e3660f"/><rect x="119.41" y="60.50" width="2.74" height="3.24" fill="#f07919"/><rect x="127.17" y="60.50" width="2.74" height="3.24" fill="#f27f1b"/><rect x="147.88" y="60.50" width="2.74" height="3.24" fill="#f07a19"/><rect x="150.46" y="60.50" width="2.74" height="3.24" fill="#ed7115"/><rect x="153.05" y="60.50" width="2.74" height="3.24" fill="#db5d0a"/><rect x="155.64" y="60.50" width="2.74" height="3.24" fill="#e1630e"/><rect x="160.81" y="60.50" width="2.74" height="3.24" fill="#fee89d"/><rect x="163.40" y="60.50" width="2.74" height="3.24" fill="#fee18c"/><rect x="165.99" y="60.50" width="2.74" height="3.24" fill="#fedc82"/><rect x="44.38" y="63.59" width="2.74" height="3.24" fill="#fff0ad"/><rect x="46.96" y="63.59" width="2.74" height="3.24" fill="#fff8bf"/><rect x="49.55" y="63.59" width="2.74" height="3.24" fill="#fee596"/><rect x="52.14" y="63.59" width="2.74" height="3.24" fill="#fed97c"/><rect x="54.73" y="63.59" width="2.74" height="3.24" fill="#fee595"/><rect x="57.31" y="63.59" width="2.74" height="3.24" fill="#fee99e"/><rect x="59.90" y="63.59" width="2.74" height="3.24" fill="#ce4e03"/><rect x="62.49" y="63.59" width="2.74" height="3.24" fill="#b13f03"/><rect x="65.08" y="63.59" width="2.74" height="3.24" fill="#fed16b"/><rect x="67.66" y="63.59" width="2.74" height="3.24" fill="#fec552"/><rect x="70.25" y="63.59" width="2.74" height="3.24" fill="#febd49"/><rect x="72.84" y="63.59" width="2.74" height="3.24" fill="#fec550"/><rect x="75.43" y="63.59" width="2.74" height="3.24" fill="#fecf66"/><rect x="78.01" y="63.59" width="2.74" height="3.24" fill="#fed776"/><rect x="80.60" y="63.59" width="2.74" height="3.24" fill="#fa8f24"/><rect x="83.19" y="63.59" width="2.74" height="3.24" fill="#fb9326"/><rect x="85.78" y="63.59" width="2.74" height="3.24" fill="#feb23f"/><rect x="88.36" y="63.59" width="2.74" height="3.24" fill="#fea332"/><rect x="90.95" y="63.59" width="2.74" height="3.24" fill="#e2640e"/><rect x="93.54" y="63.59" width="2.74" height="3.24" fill="#e76a11"/><rect x="96.12" y="63.59" width="2.74" height="3.24" fill="#963304"/><rect x="98.71" y="63.59" width="2.74" height="3.24" fill="#ae3e03"/><rect x="101.30" y="63.59" width="2.74" height="3.24" fill="#e46710"/><rect x="103.89" y="63.59" width="2.74" height="3.24" fill="#ed7115"/><rect x="106.47" y="63.59" width="2.74" height="3.24" fill="#fa9025"/><rect x="109.06" y="63.59" width="2.74" height="3.24" fill="#f88c22"/><rect x="111.65" y="63.59" width="2.74" height="3.24" fill="#fea735"/><rect x="114.24" y="63.59" width="2.74" height="3.24" fill="#f88c22"/><rect x="116.83" y="63.59" width="2.74" height="3.24" fill="#f17b1a"/><rect x="119.41" y="63.59" width="2.74" height="3.24" fill="#d95b0a"/><rect x="145.29" y="63.59" width="2.74" height="3.24" fill="#f4831e"/><rect x="147.88" y="63.59" width="2.74" height="3.24" fill="#dd5f0c"/><rect x="150.46" y="63.59" width="2.74" height="3.24" fill="#f68720"/><rect x="153.05" y="63.59" width="2.74" height="3.24" fill="#f17c1a"/><rect x="155.64" y="63.59" width="2.74" height="3.24" fill="#eb6f13"/><rect x="44.38" y="66.69" width="2.74" height="3.24" fill="#fee08b"/><rect x="46.96" y="66.69" width="2.74" height="3.24" fill="#fee596"/><rect x="49.55" y="66.69" width="2.74" height="3.24" fill="#feeda6"/><rect x="52.14" y="66.69" width="2.74" height="3.24" fill="#fee99e"/><rect x="54.73" y="66.69" width="2.74" height="3.24" fill="#fee89c"/><rect x="57.31" y="66.69" width="2.74" height="3.24" fill="#feda7d"/><rect x="59.90" y="66.69" width="2.74" height="3.24" fill="#feaf3c"/><rect x="62.49" y="66.69" width="2.74" height="3.24" fill="#febf4b"/><rect x="65.08" y="66.69" width="2.74" height="3.24" fill="#de600c"/><rect x="67.66" y="66.69" width="2.74" height="3.24" fill="#ba4403"/><rect x="70.25" y="66.69" width="2.74" height="3.24" fill="#fecb5e"/><rect x="72.84" y="66.69" width="2.74" height="3.24" fill="#feca5c"/><rect x="75.43" y="66.69" width="2.74" height="3.24" fill="#fec24e"/><rect x="78.01" y="66.69" width="2.74" height="3.24" fill="#fecd63"/><rect x="80.60" y="66.69" width="2.74" height="3.24" fill="#f5841e"/><rect x="83.19" y="66.69" width="2.74" height="3.24" fill="#feaa38"/><rect x="85.78" y="66.69" width="2.74" height="3.24" fill="#fe9d2d"/><rect x="88.36" y="66.69" width="2.74" height="3.24" fill="#fea433"/><rect x="90.95" y="66.69" width="2.74" height="3.24" fill="#fe9829"/><rect x="93.54" y="66.69" width="2.74" height="3.24" fill="#fc9527"/><rect x="96.12" y="66.69" width="2.74" height="3.24" fill="#fb9326"/><rect x="98.71" y="66.69" width="2.74" height="3.24" fill="#fd9728"/><rect x="101.30" y="66.69" width="2.74" height="3.24" fill="#fe9e2d"/><rect x="103.89" y="66.69" width="2.74" height="3.24" fill="#fb9226"/><rect x="106.47" y="66.69" width="2.74" height="3.24" fill="#fec857"/><rect x="109.06" y="66.69" width="2.74" height="3.24" fill="#feb642"/><rect x="111.65" y="66.69" width="2.74" height="3.24" fill="#f88b22"/><rect x="114.24" y="66.69" width="2.74" height="3.24" fill="#fea432"/><rect x="116.83" y="66.69" width="2.74" height="3.24" fill="#ef7617"/><rect x="147.88" y="66.69" width="2.74" height="3.24" fill="#e76a11"/><rect x="150.46" y="66.69" width="2.74" height="3.24" fill="#f3811d"/><rect x="153.05" y="66.69" width="2.74" height="3.24" fill="#fa8f24"/><rect x="155.64" y="66.69" width="2.74" height="3.24" fill="#fe9f2e"/><rect x="46.96" y="69.78" width="2.74" height="3.24" fill="#fee08a"/><rect x="49.55" y="69.78" width="2.74" height="3.24" fill="#feeca4"/><rect x="52.14" y="69.78" width="2.74" height="3.24" fill="#fedd84"/><rect x="54.73" y="69.78" width="2.74" height="3.24" fill="#fee799"/><rect x="57.31" y="69.78" width="2.74" height="3.24" fill="#fee492"/><rect x="59.90" y="69.78" width="2.74" height="3.24" fill="#fec756"/><rect x="62.49" y="69.78" width="2.74" height="3.24" fill="#fec551"/><rect x="65.08" y="69.78" width="2.74" height="3.24" fill="#c04602"/><rect x="67.66" y="69.78" width="2.74" height="3.24" fill="#d35406"/><rect x="70.25" y="69.78" width="2.74" height="3.24" fill="#febc48"/><rect x="72.84" y="69.78" width="2.74" height="3.24" fill="#fed472"/><rect x="75.43" y="69.78" width="2.74" height="3.24" fill="#fecb5f"/><rect x="78.01" y="69.78" width="2.74" height="3.24" fill="#feb744"/><rect x="80.60" y="69.78" width="2.74" height="3.24" fill="#feb03d"/><rect x="83.19" y="69.78" width="2.74" height="3.24" fill="#fb9326"/><rect x="85.78" y="69.78" width="2.74" height="3.24" fill="#feb13f"/><rect x="88.36" y="69.78" width="2.74" height="3.24" fill="#fe9a2a"/><rect x="90.95" y="69.78" width="2.74" height="3.24" fill="#f6861f"/><rect x="93.54" y="69.78" width="2.74" height="3.24" fill="#feb23f"/><rect x="96.12" y="69.78" width="2.74" height="3.24" fill="#fd9828"/><rect x="98.71" y="69.78" width="2.74" height="3.24" fill="#feaf3d"/><rect x="101.30" y="69.78" width="2.74" height="3.24" fill="#f68720"/><rect x="103.89" y="69.78" width="2.74" height="3.24" fill="#fa9024"/><rect x="106.47" y="69.78" width="2.74" height="3.24" fill="#feb844"/><rect x="109.06" y="69.78" width="2.74" height="3.24" fill="#febb47"/><rect x="111.65" y="69.78" width="2.74" height="3.24" fill="#feb240"/><rect x="114.24" y="69.78" width="2.74" height="3.24" fill="#feb13e"/><rect x="116.83" y="69.78" width="2.74" height="3.24" fill="#e76b11"/><rect x="119.41" y="69.78" width="2.74" height="3.24" fill="#d95a09"/><rect x="134.94" y="69.78" width="2.74" height="3.24" fill="#feb13e"/><rect x="137.53" y="69.78" width="2.74" height="3.24" fill="#feba46"/><rect x="46.96" y="72.88" width="2.74" height="3.24" fill="#feb845"/><rect x="49.55" y="72.88" width="2.74" height="3.24" fill="#feea9f"/><rect x="52.14" y="72.88" width="2.74" height="3.24" fill="#feda7d"/><rect x="54.73" y="72.88" width="2.74" height="3.24" fill="#fea433"/><rect x="57.31" y="72.88" width="2.74" height="3.24" fill="#fead3b"/><rect x="59.90" y="72.88" width="2.74" height="3.24" fill="#fec552"/><rect x="62.49" y="72.88" width="2.74" height="3.24" fill="#feca5c"/><rect x="65.08" y="72.88" width="2.74" height="3.24" fill="#feeba2"/><rect x="67.66" y="72.88" width="2.74" height="3.24" fill="#fee595"/><rect x="70.25" y="72.88" width="2.74" height="3.24" fill="#fed472"/><rect x="72.84" y="72.88" width="2.74" height="3.24" fill="#fee594"/><rect x="75.43" y="72.88" width="2.74" height="3.24" fill="#fec653"/><rect x="78.01" y="72.88" width="2.74" height="3.24" fill="#feb945"/><rect x="80.60" y="72.88" width="2.74" height="3.24" fill="#fec34e"/><rect x="83.19" y="72.88" width="2.74" height="3.24" fill="#fed26c"/><rect x="85.78" y="72.88" width="2.74" height="3.24" fill="#f5851f"/><rect x="88.36" y="72.88" width="2.74" height="3.24" fill="#fe9c2c"/><rect x="90.95" y="72.88" width="2.74" height="3.24" fill="#e1640e"/><rect x="93.54" y="72.88" width="2.74" height="3.24" fill="#ee7517"/><rect x="96.12" y="72.88" width="2.74" height="3.24" fill="#e0630d"/><rect x="98.71" y="72.88" width="2.74" height="3.24" fill="#ee7517"/><rect x="101.30" y="72.88" width="2.74" height="3.24" fill="#f27e1b"/><rect x="103.89" y="72.88" width="2.74" height="3.24" fill="#f37f1c"/><rect x="106.47" y="72.88" width="2.74" height="3.24" fill="#db5d0a"/><rect x="109.06" y="72.88" width="2.74" height="3.24" fill="#e96c12"/><rect x="111.65" y="72.88" width="2.74" height="3.24" fill="#f6861f"/><rect x="114.24" y="72.88" width="2.74" height="3.24" fill="#ee7517"/><rect x="116.83" y="72.88" width="2.74" height="3.24" fill="#f27d1b"/><rect x="119.41" y="72.88" width="2.74" height="3.24" fill="#f5841e"/><rect x="122.00" y="72.88" width="2.74" height="3.24" fill="#fea937"/><rect x="132.35" y="72.88" width="2.74" height="3.24" fill="#f6861f"/><rect x="134.94" y="72.88" width="2.74" height="3.24" fill="#e76a11"/><rect x="137.53" y="72.88" width="2.74" height="3.24" fill="#f3801c"/><rect x="46.96" y="75.97" width="2.74" height="3.24" fill="#febe4a"/><rect x="49.55" y="75.97" width="2.74" height="3.24" fill="#fedf88"/><rect x="52.14" y="75.97" width="2.74" height="3.24" fill="#fedb81"/><rect x="54.73" y="75.97" width="2.74" height="3.24" fill="#fe9829"/><rect x="57.31" y="75.97" width="2.74" height="3.24" fill="#fea433"/><rect x="59.90" y="75.97" width="2.74" height="3.24" fill="#feb13e"/><rect x="62.49" y="75.97" width="2.74" height="3.24" fill="#fec95b"/><rect x="65.08" y="75.97" width="2.74" height="3.24" fill="#fee493"/><rect x="67.66" y="75.97" width="2.74" height="3.24" fill="#fede87"/><rect x="70.25" y="75.97" width="2.74" height="3.24" fill="#fee290"/><rect x="72.84" y="75.97" width="2.74" height="3.24" fill="#fed26d"/><rect x="75.43" y="75.97" width="2.74" height="3.24" fill="#fead3a"/><rect x="78.01" y="75.97" width="5.32" height="3.24" fill="#feae3b"/><rect x="83.19" y="75.97" width="2.74" height="3.24" fill="#fec04b"/><rect x="85.78" y="75.97" width="2.74" height="3.24" fill="#fe9a29"/><rect x="88.36" y="75.97" width="2.74" height="3.24" fill="#fa8f24"/><rect x="90.95" y="75.97" width="2.74" height="3.24" fill="#f27e1b"/><rect x="93.54" y="75.97" width="2.74" height="3.24" fill="#f17c1a"/><rect x="96.12" y="75.97" width="2.74" height="3.24" fill="#f6861f"/><rect x="98.71" y="75.97" width="2.74" height="3.24" fill="#f3811c"/><rect x="101.30" y="75.97" width="2.74" height="3.24" fill="#f78821"/><rect x="103.89" y="75.97" width="2.74" height="3.24" fill="#e66911"/><rect x="106.47" y="75.97" width="2.74" height="3.24" fill="#f4821d"/><rect x="109.06" y="75.97" width="2.74" height="3.24" fill="#e1640e"/><rect x="111.65" y="75.97" width="2.74" height="3.24" fill="#e56810"/><rect x="114.24" y="75.97" width="2.74" height="3.24" fill="#da5c0a"/><rect x="116.83" y="75.97" width="2.74" height="3.24" fill="#ee7517"/><rect x="119.41" y="75.97" width="2.74" height="3.24" fill="#dc5e0b"/><rect x="122.00" y="75.97" width="2.74" height="3.24" fill="#fe9b2b"/><rect x="134.94" y="75.97" width="2.74" height="3.24" fill="#ef7818"/><rect x="137.53" y="75.97" width="2.74" height="3.24" fill="#f5841e"/><rect x="44.38" y="79.06" width="2.74" height="3.24" fill="#fed573"/><rect x="46.96" y="79.06" width="2.74" height="3.24" fill="#fed87a"/><rect x="49.55" y="79.06" width="2.74" height="3.24" fill="#fee79a"/><rect x="52.14" y="79.06" width="2.74" height="3.24" fill="#fee493"/><rect x="54.73" y="79.06" width="2.74" height="3.24" fill="#fee79a"/><rect x="57.31" y="79.06" width="5.32" height="3.24" fill="#ffeea9"/><rect x="62.49" y="79.06" width="2.74" height="3.24" fill="#fee698"/><rect x="65.08" y="79.06" width="2.74" height="3.24" fill="#feeaa0"/><rect x="67.66" y="79.06" width="2.74" height="3.24" fill="#fee28f"/><rect x="70.25" y="79.06" width="2.74" height="3.24" fill="#feeaa1"/><rect x="72.84" y="79.06" width="2.74" height="3.24" fill="#feeaa0"/><rect x="75.43" y="79.06" width="2.74" height="3.24" fill="#febb47"/><rect x="78.01" y="79.06" width="2.74" height="3.24" fill="#feb844"/><rect x="80.60" y="79.06" width="2.74" height="3.24" fill="#fecb5e"/><rect x="83.19" y="79.06" width="2.74" height="3.24" fill="#feb13f"/><rect x="85.78" y="79.06" width="2.74" height="3.24" fill="#fea634"/><rect x="88.36" y="79.06" width="2.74" height="3.24" fill="#fea130"/><rect x="90.95" y="79.06" width="2.74" height="3.24" fill="#bf4603"/><rect x="93.54" y="79.06" width="2.74" height="3.24" fill="#dd600c"/><rect x="96.12" y="79.06" width="2.74" height="3.24" fill="#db5d0b"/><rect x="98.71" y="79.06" width="2.74" height="3.24" fill="#f5851f"/><rect x="101.30" y="79.06" width="2.74" height="3.24" fill="#ce4e03"/><rect x="103.89" y="79.06" width="2.74" height="3.24" fill="#be4603"/><rect x="106.47" y="79.06" width="2.74" height="3.24" fill="#dd600c"/><rect x="109.06" y="79.06" width="2.74" height="3.24" fill="#b94303"/><rect x="111.65" y="79.06" width="2.74" height="3.24" fill="#da5b0a"/><rect x="114.24" y="79.06" width="2.74" height="3.24" fill="#ed7215"/><rect x="116.83" y="79.06" width="2.74" height="3.24" fill="#f4831e"/><rect x="46.96" y="82.16" width="2.74" height="3.24" fill="#ffeda7"/><rect x="49.55" y="82.16" width="2.74" height="3.24" fill="#feeda6"/><rect x="52.14" y="82.16" width="2.74" height="3.24" fill="#fed97c"/><rect x="54.73" y="82.16" width="2.74" height="3.24" fill="#fee595"/><rect x="57.31" y="82.16" width="2.74" height="3.24" fill="#fed370"/><rect x="59.90" y="82.16" width="2.74" height="3.24" fill="#fee494"/><rect x="62.49" y="82.16" width="2.74" height="3.24" fill="#ffeda7"/><rect x="65.08" y="82.16" width="2.74" height="3.24" fill="#fee595"/><rect x="67.66" y="82.16" width="2.74" height="3.24" fill="#feda7d"/><rect x="70.25" y="82.16" width="2.74" height="3.24" fill="#fed777"/><rect x="72.84" y="82.16" width="2.74" height="3.24" fill="#ffeea9"/><rect x="75.43" y="82.16" width="2.74" height="3.24" fill="#fed068"/><rect x="78.01" y="82.16" width="2.74" height="3.24" fill="#fec450"/><rect x="80.60" y="82.16" width="2.74" height="3.24" fill="#fed26c"/><rect x="83.19" y="82.16" width="2.74" height="3.24" fill="#feb13e"/><rect x="85.78" y="82.16" width="2.74" height="3.24" fill="#f5841e"/><rect x="88.36" y="82.16" width="2.74" height="3.24" fill="#fea231"/><rect x="90.95" y="82.16" width="2.74" height="3.24" fill="#cf4f03"/><rect x="93.54" y="82.16" width="2.74" height="3.24" fill="#c94a02"/><rect x="96.12" y="82.16" width="2.74" height="3.24" fill="#f17b19"/><rect x="98.71" y="82.16" width="2.74" height="3.24" fill="#ea6e13"/><rect x="101.30" y="82.16" width="2.74" height="3.24" fill="#d75908"/><rect x="103.89" y="82.16" width="2.74" height="3.24" fill="#d45506"/><rect x="106.47" y="82.16" width="2.74" height="3.24" fill="#ce4f03"/><rect x="109.06" y="82.16" width="2.74" height="3.24" fill="#c64902"/><rect x="111.65" y="82.16" width="2.74" height="3.24" fill="#eb6e13"/><rect x="114.24" y="82.16" width="2.74" height="3.24" fill="#f17c1a"/><rect x="44.38" y="85.25" width="2.74" height="3.24" fill="#fee99f"/><rect x="46.96" y="85.25" width="2.74" height="3.24" fill="#feeca5"/><rect x="49.55" y="85.25" width="2.74" height="3.24" fill="#fed87b"/><rect x="52.14" y="85.25" width="2.74" height="3.24" fill="#feeda6"/><rect x="54.73" y="85.25" width="2.74" height="3.24" fill="#feda7f"/><rect x="57.31" y="85.25" width="2.74" height="3.24" fill="#fee99e"/><rect x="59.90" y="85.25" width="2.74" height="3.24" fill="#fecc60"/><rect x="62.49" y="85.25" width="2.74" height="3.24" fill="#feb844"/><rect x="65.08" y="85.25" width="2.74" height="3.24" fill="#febc48"/><rect x="67.66" y="85.25" width="2.74" height="3.24" fill="#feb844"/><rect x="70.25" y="85.25" width="2.74" height="3.24" fill="#fec34e"/><rect x="72.84" y="85.25" width="2.74" height="3.24" fill="#feb13f"/><rect x="75.43" y="85.25" width="2.74" height="3.24" fill="#fed26d"/><rect x="78.01" y="85.25" width="2.74" height="3.24" fill="#febd48"/><rect x="80.60" y="85.25" width="2.74" height="3.24" fill="#fead3a"/><rect x="83.19" y="85.25" width="2.74" height="3.24" fill="#f98d23"/><rect x="85.78" y="85.25" width="2.74" height="3.24" fill="#d15205"/><rect x="88.36" y="85.25" width="2.74" height="3.24" fill="#c14702"/><rect x="90.95" y="85.25" width="2.74" height="3.24" fill="#8d3004"/><rect x="93.54" y="85.25" width="2.74" height="3.24" fill="#8f3104"/><rect x="96.12" y="85.25" width="2.74" height="3.24" fill="#d75808"/><rect x="98.71" y="85.25" width="2.74" height="3.24" fill="#b84203"/><rect x="101.30" y="85.25" width="2.74" height="3.24" fill="#d65708"/><rect x="103.89" y="85.25" width="2.74" height="3.24" fill="#cb4b02"/><rect x="106.47" y="85.25" width="2.74" height="3.24" fill="#c14702"/><rect x="109.06" y="85.25" width="2.74" height="3.24" fill="#d65808"/><rect x="111.65" y="85.25" width="2.74" height="3.24" fill="#e76a11"/><rect x="114.24" y="85.25" width="2.74" height="3.24" fill="#f17a19"/><rect x="44.38" y="88.34" width="2.74" height="3.24" fill="#feeba2"/><rect x="46.96" y="88.34" width="2.74" height="3.24" fill="#fed778"/><rect x="49.55" y="88.34" width="2.74" height="3.24" fill="#fee18d"/><rect x="52.14" y="88.34" width="2.74" height="3.24" fill="#fee79a"/><rect x="54.73" y="88.34" width="2.74" height="3.24" fill="#fee08a"/><rect x="57.31" y="88.34" width="2.74" height="3.24" fill="#ffeea9"/><rect x="59.90" y="88.34" width="2.74" height="3.24" fill="#fed26c"/><rect x="62.49" y="88.34" width="2.74" height="3.24" fill="#fec857"/><rect x="65.08" y="88.34" width="2.74" height="3.24" fill="#feab39"/><rect x="67.66" y="88.34" width="2.74" height="3.24" fill="#fec34f"/><rect x="70.25" y="88.34" width="2.74" height="3.24" fill="#fed471"/><rect x="72.84" y="88.34" width="2.74" height="3.24" fill="#feb643"/><rect x="75.43" y="88.34" width="2.74" height="3.24" fill="#feb542"/><rect x="78.01" y="88.34" width="2.74" height="3.24" fill="#feb642"/><rect x="80.60" y="88.34" width="2.74" height="3.24" fill="#fc9627"/><rect x="83.19" y="88.34" width="2.74" height="3.24" fill="#fa8f24"/><rect x="85.78" y="88.34" width="2.74" height="3.24" fill="#d75808"/><rect x="88.36" y="88.34" width="2.74" height="3.24" fill="#be4503"/><rect x="90.95" y="88.34" width="2.74" height="3.24" fill="#862e05"/><rect x="93.54" y="88.34" width="2.74" height="3.24" fill="#892f05"/><rect x="96.12" y="88.34" width="2.74" height="3.24" fill="#d25205"/><rect x="98.71" y="88.34" width="2.74" height="3.24" fill="#c64902"/><rect x="101.30" y="88.34" width="2.74" height="3.24" fill="#c44802"/><rect x="103.89" y="88.34" width="2.74" height="3.24" fill="#b34003"/><rect x="106.47" y="88.34" width="2.74" height="3.24" fill="#db5d0a"/><rect x="109.06" y="88.34" width="2.74" height="3.24" fill="#b84203"/><rect x="111.65" y="88.34" width="2.74" height="3.24" fill="#eb6f13"/><rect x="44.38" y="91.44" width="2.74" height="3.24" fill="#fea02f"/><rect x="46.96" y="91.44" width="2.74" height="3.24" fill="#fe9b2b"/><rect x="49.55" y="91.44" width="2.74" height="3.24" fill="#fed676"/><rect x="52.14" y="91.44" width="2.74" height="3.24" fill="#fece65"/><rect x="54.73" y="91.44" width="2.74" height="3.24" fill="#c34802"/><rect x="57.31" y="91.44" width="2.74" height="3.24" fill="#c24702"/><rect x="59.90" y="91.44" width="2.74" height="3.24" fill="#fec44f"/><rect x="62.49" y="91.44" width="2.74" height="3.24" fill="#fead3a"/><rect x="65.08" y="91.44" width="2.74" height="3.24" fill="#fec551"/><rect x="67.66" y="91.44" width="2.74" height="3.24" fill="#fecb5e"/><rect x="70.25" y="91.44" width="2.74" height="3.24" fill="#feb23f"/><rect x="72.84" y="91.44" width="2.74" height="3.24" fill="#fecd62"/><rect x="75.43" y="91.44" width="2.74" height="3.24" fill="#fc9426"/><rect x="78.01" y="91.44" width="2.74" height="3.24" fill="#fa8f24"/><rect x="80.60" y="91.44" width="2.74" height="3.24" fill="#e0620d"/><rect x="83.19" y="91.44" width="2.74" height="3.24" fill="#e1640e"/><rect x="85.78" y="91.44" width="2.74" height="3.24" fill="#a03704"/><rect x="88.36" y="91.44" width="2.74" height="3.24" fill="#b44103"/><rect x="90.95" y="91.44" width="2.74" height="3.24" fill="#b54103"/><rect x="93.54" y="91.44" width="2.74" height="3.24" fill="#8b3005"/><rect x="96.12" y="91.44" width="2.74" height="3.24" fill="#b03f03"/><rect x="98.71" y="91.44" width="2.74" height="3.24" fill="#d25305"/><rect x="101.30" y="91.44" width="2.74" height="3.24" fill="#ce4f03"/><rect x="103.89" y="91.44" width="2.74" height="3.24" fill="#be4503"/><rect x="44.38" y="94.53" width="2.74" height="3.24" fill="#fb9125"/><rect x="46.96" y="94.53" width="2.74" height="3.24" fill="#fea534"/><rect x="49.55" y="94.53" width="2.74" height="3.24" fill="#febb47"/><rect x="52.14" y="94.53" width="2.74" height="3.24" fill="#fecb5e"/><rect x="54.73" y="94.53" width="2.74" height="3.24" fill="#d25205"/><rect x="57.31" y="94.53" width="2.74" height="3.24" fill="#ca4b02"/><rect x="59.90" y="94.53" width="2.74" height="3.24" fill="#feb844"/><rect x="62.49" y="94.53" width="2.74" height="3.24" fill="#fed16b"/><rect x="65.08" y="94.53" width="2.74" height="3.24" fill="#fed675"/><rect x="67.66" y="94.53" width="2.74" height="3.24" fill="#febd49"/><rect x="70.25" y="94.53" width="2.74" height="3.24" fill="#fed675"/><rect x="72.84" y="94.53" width="2.74" height="3.24" fill="#fed573"/><rect x="75.43" y="94.53" width="2.74" height="3.24" fill="#fea736"/><rect x="78.01" y="94.53" width="2.74" height="3.24" fill="#fb9125"/><rect x="80.60" y="94.53" width="2.74" height="3.24" fill="#f5851f"/><rect x="83.19" y="94.53" width="2.74" height="3.24" fill="#f5861f"/><rect x="85.78" y="94.53" width="2.74" height="3.24" fill="#7c2c05"/><rect x="88.36" y="94.53" width="2.74" height="3.24" fill="#9e3604"/><rect x="90.95" y="94.53" width="2.74" height="3.24" fill="#812d05"/><rect x="93.54" y="94.53" width="2.74" height="3.24" fill="#aa3c03"/><rect x="96.12" y="94.53" width="2.74" height="3.24" fill="#ce4f03"/><rect x="98.71" y="94.53" width="2.74" height="3.24" fill="#d15205"/><rect x="101.30" y="94.53" width="2.74" height="3.24" fill="#d85a09"/><rect x="52.14" y="97.62" width="2.74" height="3.24" fill="#feca5d"/><rect x="54.73" y="97.62" width="2.74" height="3.24" fill="#feab39"/><rect x="57.31" y="97.62" width="2.74" height="3.24" fill="#feb744"/><rect x="59.90" y="97.62" width="2.74" height="3.24" fill="#fec858"/><rect x="62.49" y="97.62" width="2.74" height="3.24" fill="#fec756"/><rect x="65.08" y="97.62" width="2.74" height="3.24" fill="#fecd62"/><rect x="67.66" y="97.62" width="2.74" height="3.24" fill="#fec24e"/><rect x="70.25" y="97.62" width="2.74" height="3.24" fill="#feb844"/><rect x="72.84" y="97.62" width="2.74" height="3.24" fill="#feba46"/><rect x="75.43" y="97.62" width="2.74" height="3.24" fill="#fe9b2b"/><rect x="78.01" y="97.62" width="2.74" height="3.24" fill="#feb13e"/><rect x="80.60" y="97.62" width="2.74" height="3.24" fill="#dc5e0b"/><rect x="83.19" y="97.62" width="2.74" height="3.24" fill="#ee7416"/><rect x="85.78" y="97.62" width="2.74" height="3.24" fill="#d05104"/><rect x="88.36" y="97.62" width="2.74" height="3.24" fill="#df610d"/><rect x="90.95" y="97.62" width="2.74" height="3.24" fill="#af3e03"/><rect x="93.54" y="97.62" width="2.74" height="3.24" fill="#822d05"/><rect x="96.12" y="97.62" width="2.74" height="3.24" fill="#983404"/><rect x="98.71" y="97.62" width="2.74" height="3.24" fill="#8b3005"/><rect x="101.30" y="97.62" width="2.74" height="3.24" fill="#da5b0a"/><rect x="54.73" y="100.72" width="2.74" height="3.24" fill="#feca5c"/><rect x="57.31" y="100.72" width="2.74" height="3.24" fill="#feb23f"/><rect x="59.90" y="100.72" width="2.74" height="3.24" fill="#feb340"/><rect x="62.49" y="100.72" width="2.74" height="3.24" fill="#fecd63"/><rect x="65.08" y="100.72" width="2.74" height="3.24" fill="#fed675"/><rect x="67.66" y="100.72" width="2.74" height="3.24" fill="#feb441"/><rect x="70.25" y="100.72" width="2.74" height="3.24" fill="#fed069"/><rect x="72.84" y="100.72" width="2.74" height="3.24" fill="#feb542"/><rect x="75.43" y="100.72" width="2.74" height="3.24" fill="#fa9024"/><rect x="90.95" y="100.72" width="2.74" height="3.24" fill="#ad3e03"/><rect x="93.54" y="100.72" width="2.74" height="3.24" fill="#b34003"/><rect x="57.31" y="103.81" width="2.74" height="3.24" fill="#feae3b"/><rect x="59.90" y="103.81" width="2.74" height="3.24" fill="#febf4b"/><rect x="62.49" y="103.81" width="2.74" height="3.24" fill="#febe4a"/><rect x="65.08" y="103.81" width="2.74" height="3.24" fill="#fec652"/><rect x="67.66" y="103.81" width="2.74" height="3.24" fill="#fed16b"/><rect x="70.25" y="103.81" width="2.74" height="3.24" fill="#febf4a"/><rect x="59.90" y="106.91" width="2.74" height="3.24" fill="#fecd63"/><rect x="62.49" y="106.91" width="2.74" height="3.24" fill="#feb441"/><rect x="65.08" y="106.91" width="2.74" height="3.24" fill="#feb844"/>
<path d="M30.2,37.4 30.1,35.1 31.4,33.3 29.9,32.7 30.9,30.8 28.9,28.9 28.3,26.5 25.7,24.6 26.3,22.1 28.9,20.9 32.0,19.7 35.1,18.7 37.1,17.2 40.2,14.5 42.3,13.7 46.4,15.9 49.1,16.6 54.7,16.4 59.9,16.2 61.5,15.2 64.0,16.6 68.2,17.4 72.8,18.2 77.5,18.4 82.7,17.4 86.8,18.2 91.0,18.7 94.1,18.2 98.2,19.4 101.5,19.4 103.5,18.7 105.4,20.3 107.5,22.1 111.7,23.4 114.8,25.2 118.9,25.9 122.0,27.1 126.1,27.1 129.2,25.2 132.3,26.5 137.0,28.3 140.1,29.6 142.7,30.8 147.9,30.4 153.1,30.2 154.8,30.4 156.4,31.8 154.6,33.3 155.1,35.8 153.1,38.2 151.0,39.8 147.9,41.9 144.8,43.2 140.6,45.3 136.5,46.6 133.4,47.5 131.3,50.0 130.8,51.8 128.2,53.7 125.6,57.4 123.0,59.9 121.0,62.4 118.9,66.7 119.4,70.4 122.0,73.5 124.4,76.0 122.0,77.8 118.9,79.7 116.8,81.5 115.3,85.2 114.2,89.0 114.8,90.2 111.7,90.4 108.5,90.8 104.9,93.3 102.9,96.4 101.3,99.5 99.3,101.1 96.6,99.7 94.1,101.6 91.0,100.8 85.8,101.1 80.6,100.7 76.3,101.1 73.4,103.8 70.2,104.8 67.1,107.5 65.6,109.4 64.0,110.0 60.9,107.5 58.9,105.7 56.8,103.2 55.8,100.1 52.7,97.0 49.6,95.1 45.4,95.4 44.9,91.4 44.4,90.2 47.0,85.9 49.6,84.6 48.5,82.8 46.4,79.7 48.0,76.6 49.6,73.5 48.5,71.6 46.4,67.9 44.4,64.8 49.6,64.6 50.6,61.7 51.1,57.4 51.6,56.2 51.1,53.1 51.6,50.0 50.6,48.1 53.7,45.6 56.8,43.2 57.8,40.7 54.7,39.8 54.2,36.4 50.6,36.4 47.5,37.0 43.3,37.6 40.2,37.4 38.2,38.2 37.1,34.5 33.5,35.1Z" fill="none" stroke="#4a5064" stroke-opacity="0.85" stroke-width="0.55" stroke-linejoin="round" shape-rendering="auto"/>
<path d="M49.1,16.6 50.1,19.0 51.1,21.5 51.1,24.6 50.1,26.5 51.1,29.6 49.6,32.0 49.0,34.5 50.6,36.4M51.1,21.5 54.7,23.4 59.9,23.4 65.1,22.8 70.2,21.5 72.8,21.5 74.9,19.7 75.4,18.2M72.8,21.5 75.4,22.8 78.0,24.6 80.6,25.9 83.2,25.2 86.3,22.8 88.9,21.5 89.4,18.8M88.9,21.5 90.4,23.4 91.0,26.5 93.0,28.3 96.1,28.9 98.7,27.7 97.7,25.2 100.3,24.0 101.3,20.9 103.4,18.9M98.7,27.7 101.3,30.2 103.4,33.9 105.4,36.4 108.0,35.1 109.6,31.4 111.7,27.7 114.2,25.0M91.0,26.5 89.9,27.7 90.4,30.8 92.0,33.9 95.1,35.8 99.2,36.4 102.3,35.8 103.4,33.9M102.3,35.8 102.3,40.7 101.3,44.4 100.8,46.3M100.8,46.3 96.1,45.6 91.0,45.0 86.8,46.3 82.7,48.7 79.0,51.2 77.0,54.3 74.9,57.4 70.2,58.6 65.1,58.0 59.9,56.8 55.8,56.8 51.1,57.4M86.8,46.3 88.9,48.7 90.4,53.1 89.9,58.0 87.3,60.5 83.7,61.7 80.1,59.9 77.0,57.4 74.9,57.4M70.2,58.6 66.6,61.7 70.2,66.7 68.2,71.0 70.8,74.1 70.2,76.0M70.2,76.0 67.1,78.4 64.0,82.2 60.9,84.0 56.8,85.2 52.7,84.0 48.5,84.6M70.2,76.0 75.4,78.4 80.6,80.3 85.8,80.9 91.0,79.7 95.6,80.9 96.6,84.0 99.2,85.9 101.3,88.3 102.9,92.1 104.9,93.2M96.6,84.0 97.7,81.5 101.3,79.7 104.4,78.4 108.5,77.2 111.1,78.4 111.7,82.2 112.2,85.2 114.2,87.1M111.1,78.4 111.1,74.7 107.5,72.3 106.5,68.5 109.6,64.8 106.5,60.5 108.0,58.6 112.7,60.5 115.8,59.3 118.9,56.8 122.5,53.1 125.1,51.8 127.4,54.1M100.8,46.3 101.8,48.7 103.9,51.2 105.4,54.9 104.4,56.8 106.0,58.6 108.0,58.6M129.2,25.2 129.2,29.6 128.2,33.3 125.6,36.4 125.6,40.7 125.1,44.4 124.1,48.1 125.1,51.8" fill="none" stroke="#5a5e62" stroke-opacity="0.7" stroke-width="0.45" stroke-linejoin="round" shape-rendering="auto"/>
</g>
<rect x="21.6" y="7.5" width="152.1" height="108.1" fill="none" stroke="#666" stroke-width="1" shape-rendering="auto"/>
<line x1="19.5" x2="21" y1="11.0" y2="11.0" stroke="#333" stroke-width="0.8"/>
<text transform="translate(18.50,13.50) scale(1.08,1)" font-size="7.3" text-anchor="end">44N</text>
<line x1="19.5" x2="21" y1="35.8" y2="35.8" stroke="#333" stroke-width="0.8"/>
<text transform="translate(18.50,38.25) scale(1.08,1)" font-size="7.3" text-anchor="end">42N</text>
<line x1="19.5" x2="21" y1="60.5" y2="60.5" stroke="#333" stroke-width="0.8"/>
<text transform="translate(18.50,63.00) scale(1.08,1)" font-size="7.3" text-anchor="end">40N</text>
<line x1="19.5" x2="21" y1="85.2" y2="85.2" stroke="#333" stroke-width="0.8"/>
<text transform="translate(18.50,87.75) scale(1.08,1)" font-size="7.3" text-anchor="end">38N</text>
<line x1="19.5" x2="21" y1="110.0" y2="110.0" stroke="#333" stroke-width="0.8"/>
<text transform="translate(18.50,112.50) scale(1.08,1)" font-size="7.3" text-anchor="end">36N</text>
<line x1="39.2" x2="39.2" y1="117" y2="118.2" stroke="#555" stroke-width="0.7"/>
<text transform="translate(39.20,125.80) scale(1.08,1)" font-size="7.3" text-anchor="middle">8W</text>
<line x1="59.9" x2="59.9" y1="117" y2="118.2" stroke="#555" stroke-width="0.7"/>
<text transform="translate(59.90,125.80) scale(1.08,1)" font-size="7.3" text-anchor="middle">6W</text>
<line x1="80.6" x2="80.6" y1="117" y2="118.2" stroke="#555" stroke-width="0.7"/>
<text transform="translate(80.60,125.80) scale(1.08,1)" font-size="7.3" text-anchor="middle">4W</text>
<line x1="101.3" x2="101.3" y1="117" y2="118.2" stroke="#555" stroke-width="0.7"/>
<text transform="translate(101.30,125.80) scale(1.08,1)" font-size="7.3" text-anchor="middle">2W</text>
<line x1="122.0" x2="122.0" y1="117" y2="118.2" stroke="#555" stroke-width="0.7"/>
<text transform="translate(122.00,125.80) scale(1.08,1)" font-size="7.3" text-anchor="middle">0</text>
<line x1="142.7" x2="142.7" y1="117" y2="118.2" stroke="#555" stroke-width="0.7"/>
<text transform="translate(142.70,125.80) scale(1.08,1)" font-size="7.3" text-anchor="middle">2E</text>
<line x1="163.4" x2="163.4" y1="117" y2="118.2" stroke="#555" stroke-width="0.7"/>
<text transform="translate(163.40,125.80) scale(1.08,1)" font-size="7.3" text-anchor="middle">4E</text>
<polygon points="21,132.0 28,129.5 166.6,129.5 174,132.0 166.6,134.5 28,134.5" fill="url(#cg)" stroke="#444" stroke-width="0.5" shape-rendering="auto"/>
<line x1="28.0" x2="28.0" y1="134.5" y2="136.0" stroke="#333" stroke-width="0.6"/>
<text transform="translate(28.00,143.30) scale(1.08,1)" font-size="7.3" text-anchor="middle">0</text>
<line x1="62.6" x2="62.6" y1="134.5" y2="136.0" stroke="#333" stroke-width="0.6"/>
<text transform="translate(62.65,143.30) scale(1.08,1)" font-size="7.3" text-anchor="middle">10</text>
<line x1="97.3" x2="97.3" y1="134.5" y2="136.0" stroke="#333" stroke-width="0.6"/>
<text transform="translate(97.30,143.30) scale(1.08,1)" font-size="7.3" text-anchor="middle">20</text>
<line x1="131.9" x2="131.9" y1="134.5" y2="136.0" stroke="#333" stroke-width="0.6"/>
<text transform="translate(131.95,143.30) scale(1.08,1)" font-size="7.3" text-anchor="middle">30</text>
<line x1="166.6" x2="166.6" y1="134.5" y2="136.0" stroke="#333" stroke-width="0.6"/>
<text transform="translate(166.60,143.30) scale(1.08,1)" font-size="7.3" text-anchor="middle">40</text>
<text transform="translate(97.30,153.20) scale(1.08,1)" font-size="7.3" text-anchor="middle">rel. False bias [%]</text>
<clipPath id="cp1"><rect x="207" y="8" width="152" height="108"/></clipPath><g clip-path="url(#cp1)">
<g transform="translate(202.89,6.68) scale(1.5162,1.8480)" shape-rendering="auto"><path fill="#fff0ae" d="M14 2h1v1h-1zM16 3h2v1h-2zM21 4h1v1h-1zM34 4h1v1h-1zM15 6h1v1h-1zM53 6h1v1h-1zM4 7h2v1h-2zM11 8h1v1h-1zM18 8h1v1h-1zM3 9h1v1h-1zM9 9h1v1h-1zM12 9h1v1h-1zM16 10h1v1h-1zM14 11h1v1h-1zM52 11h1v1h-1zM9 12h1v1h-1zM25 12h1v1h-1zM7 13h1v1h-1zM49 13h1v1h-1zM6 14h1v1h-1zM11 14h1v1h-1zM16 14h1v1h-1zM18 14h1v1h-1zM12 15h1v1h-1zM14 15h1v1h-1zM18 15h1v1h-1zM31 16h1v1h-1zM25 18h1v1h-1zM32 18h1v1h-1zM29 19h1v1h-1zM32 19h1v1h-1zM25 20h1v1h-1zM27 22h1v1h-1zM20 26h1v1h-1zM20 27h1v1h-1zM21 29h1v1h-1zM26 35h1v1h-1zM17 41h1v1h-1zM29 41h1v1h-1zM36 41h1v1h-1zM35 44h1v1h-1zM27 49h1v1h-1z"/><path fill="#fffaca" d="M15 2h1v1h-1zM7 5h1v1h-1zM11 5h1v1h-1zM15 5h1v1h-1zM14 7h1v1h-1zM16 7h1v1h-1zM9 8h1v1h-1zM7 10h1v1h-1zM40 11h1v1h-1zM12 13h1v1h-1zM9 14h1v1h-1zM15 14h1v1h-1zM6 15h1v1h-1zM11 15h1v1h-1zM17 15h1v1h-1zM25 24h1v1h-1zM32 27h1v1h-1zM24 29h1v1h-1zM32 33h1v1h-1zM32 46h1v1h-1zM36 46h1v1h-1zM40 50h1v1h-1z"/><path fill="#fffcd7" d="M12 3h1v1h-1zM9 5h1v1h-1zM13 5h1v1h-1zM5 6h1v1h-1zM9 7h1v1h-1zM19 8h1v1h-1zM53 8h1v1h-1zM10 9h1v1h-1zM16 9h4v1h-4zM11 10h1v1h-1zM12 11h1v1h-1zM8 12h1v1h-1zM11 16h1v1h-1z"/><path fill="#ffffe5" d="M15 3h1v1h-1zM18 4h1v1h-1zM12 5h1v1h-1zM8 6h1v1h-1zM12 6h1v1h-1zM10 7h1v1h-1zM15 7h1v1h-1zM10 8h1v1h-1zM12 8h1v1h-1zM5 9h2v1h-2zM13 9h1v1h-1zM5 10h1v1h-1zM14 10h1v1h-1zM9 11h1v1h-1zM15 11h1v1h-1zM17 11h1v1h-1zM15 12h1v1h-1zM18 12h1v1h-1zM11 13h1v1h-1zM18 13h1v1h-1zM7 14h1v1h-1zM10 14h1v1h-1zM14 14h1v1h-1z"/><path fill="#feea9f" d="M18 3h1v1h-1zM20 4h1v1h-1zM14 5h1v1h-1zM16 5h1v1h-1zM18 5h1v1h-1zM10 6h1v1h-1zM54 6h1v1h-1zM54 7h1v1h-1zM15 8h1v1h-1zM47 8h1v1h-1zM22 9h1v1h-1zM6 10h1v1h-1zM27 10h1v1h-1zM37 11h1v1h-1zM5 13h1v1h-1zM14 13h1v1h-1zM28 13h1v1h-1zM17 14h1v1h-1zM20 14h2v1h-2zM29 14h1v1h-1zM5 15h1v1h-1zM16 15h1v1h-1zM19 15h1v1h-1zM21 15h1v1h-1zM22 17h1v1h-1zM37 19h1v1h-1zM49 19h1v1h-1zM21 25h1v1h-1zM24 25h1v1h-1zM27 25h1v1h-1zM30 26h1v1h-1zM29 28h2v1h-2zM23 29h1v1h-1zM25 29h1v1h-1zM17 31h1v1h-1zM36 31h1v1h-1zM90 33h1v1h-1zM23 34h1v1h-1zM24 35h1v1h-1zM39 35h1v1h-1zM50 37h1v1h-1zM21 41h1v1h-1zM32 42h1v1h-1zM38 42h1v1h-1zM28 44h1v1h-1zM30 44h1v1h-1zM30 48h1v1h-1zM24 51h1v1h-1z"/><path fill="#fe9929" d="M19 3h1v1h-1zM35 4h1v1h-1zM24 5h1v1h-1zM29 5h2v1h-2zM56 5h1v1h-1zM23 6h1v1h-1zM28 6h1v1h-1zM42 6h1v1h-1zM44 6h1v1h-1zM46 7h1v1h-1zM50 7h1v1h-1zM43 8h1v1h-1zM51 8h1v1h-1zM55 8h2v1h-2zM62 8h1v1h-1zM24 9h1v1h-1zM28 9h1v1h-1zM33 9h2v1h-2zM50 9h1v1h-1zM61 9h1v1h-1zM58 10h1v1h-1zM8 11h1v1h-1zM26 11h1v1h-1zM29 11h1v1h-1zM33 11h1v1h-1zM51 11h1v1h-1zM62 11h1v1h-1zM49 12h1v1h-1zM85 12h2v1h-2zM88 12h1v1h-1zM22 13h2v1h-2zM29 13h1v1h-1zM39 13h1v1h-1zM47 13h1v1h-1zM51 13h1v1h-1zM54 13h1v1h-1zM79 13h1v1h-1zM25 14h1v1h-1zM32 14h1v1h-1zM77 14h1v1h-1zM83 14h1v1h-1zM22 15h1v1h-1zM25 15h1v1h-1zM33 15h1v1h-1zM33 16h1v1h-1zM44 16h1v1h-1zM48 16h1v1h-1zM50 16h2v1h-2zM85 16h1v1h-1zM48 17h1v1h-1zM51 17h1v1h-1zM74 18h1v1h-1zM85 18h1v1h-1zM33 19h1v1h-1zM38 19h1v1h-1zM51 19h1v1h-1zM37 20h1v1h-1zM43 20h1v1h-1zM53 20h1v1h-1zM25 21h1v1h-1zM68 21h1v1h-1zM74 21h1v1h-1zM23 22h1v1h-1zM32 22h1v1h-1zM40 22h1v1h-1zM69 22h1v1h-1zM74 22h1v1h-1zM24 24h1v1h-1zM46 24h1v1h-1zM31 25h1v1h-1zM33 25h1v1h-1zM38 25h1v1h-1zM23 27h1v1h-1zM35 27h1v1h-1zM25 28h1v1h-1zM27 28h2v1h-2zM70 28h1v1h-1zM29 29h1v1h-1zM38 29h1v1h-1zM29 30h1v1h-1zM49 30h1v1h-1zM63 30h1v1h-1zM90 30h1v1h-1zM24 31h1v1h-1zM26 31h1v1h-1zM53 31h1v1h-1zM88 31h1v1h-1zM93 31h1v1h-1zM32 32h1v1h-1zM18 33h1v1h-1zM31 33h1v1h-1zM39 33h1v1h-1zM50 33h1v1h-1zM89 33h1v1h-1zM26 34h1v1h-1zM29 34h1v1h-1zM37 34h1v1h-1zM65 34h1v1h-1zM22 35h1v1h-1zM32 35h1v1h-1zM35 35h1v1h-1zM47 35h1v1h-1zM44 36h1v1h-1zM53 36h1v1h-1zM68 36h1v1h-1zM37 37h1v1h-1zM46 37h1v1h-1zM21 38h1v1h-1zM41 38h1v1h-1zM48 38h2v1h-2zM67 38h1v1h-1zM19 39h1v1h-1zM26 40h1v1h-1zM34 40h1v1h-1zM38 40h1v1h-1zM43 40h1v1h-1zM62 40h1v1h-1zM26 41h1v1h-1zM28 41h1v1h-1zM35 41h1v1h-1zM18 42h1v1h-1zM27 42h1v1h-1zM43 42h1v1h-1zM21 44h1v1h-1zM37 44h1v1h-1zM21 45h1v1h-1zM30 45h1v1h-1zM39 45h1v1h-1zM18 46h1v1h-1zM21 46h1v1h-1zM25 47h1v1h-1zM31 47h1v1h-1zM36 47h1v1h-1zM27 48h1v1h-1zM31 48h1v1h-1zM30 49h1v1h-1zM23 50h1v1h-1zM27 50h1v1h-1zM36 51h1v1h-1zM42 51h1v1h-1zM51 51h1v1h-1zM30 52h1v1h-1zM38 52h1v1h-1zM27 53h1v1h-1zM29 53h1v1h-1zM35 53h1v1h-1zM32 54h1v1h-1zM31 55h1v1h-1zM26 56h1v1h-1zM29 57h1v1h-1z"/><path fill="#feb642" d="M22 3h1v1h-1zM25 3h2v1h-2zM28 3h1v1h-1zM25 4h1v1h-1zM28 4h1v1h-1zM43 4h1v1h-1zM23 5h1v1h-1zM50 5h1v1h-1zM6 6h1v1h-1zM13 6h1v1h-1zM21 6h1v1h-1zM21 7h2v1h-2zM29 7h1v1h-1zM59 7h1v1h-1zM40 8h1v1h-1zM42 8h1v1h-1zM60 8h1v1h-1zM26 9h2v1h-2zM9 10h1v1h-1zM32 10h1v1h-1zM5 11h1v1h-1zM13 11h1v1h-1zM16 11h1v1h-1zM20 11h1v1h-1zM25 11h1v1h-1zM27 11h1v1h-1zM34 11h1v1h-1zM53 11h1v1h-1zM83 13h1v1h-1zM13 14h1v1h-1zM24 14h1v1h-1zM30 14h1v1h-1zM72 15h1v1h-1zM32 16h1v1h-1zM37 16h1v1h-1zM39 16h1v1h-1zM23 17h1v1h-1zM27 17h2v1h-2zM30 17h1v1h-1zM32 17h1v1h-1zM34 17h1v1h-1zM37 17h1v1h-1zM27 18h1v1h-1zM30 18h1v1h-1zM68 18h1v1h-1zM36 19h1v1h-1zM44 19h1v1h-1zM81 19h1v1h-1zM33 20h1v1h-1zM47 20h1v1h-1zM50 20h1v1h-1zM33 21h1v1h-1zM29 22h1v1h-1zM31 23h1v1h-1zM43 23h1v1h-1zM26 25h1v1h-1zM29 25h1v1h-1zM40 25h1v1h-1zM25 26h2v1h-2zM48 26h1v1h-1zM21 27h1v1h-1zM25 27h1v1h-1zM44 27h1v1h-1zM46 27h1v1h-1zM26 28h1v1h-1zM42 28h1v1h-1zM49 28h1v1h-1zM20 29h1v1h-1zM51 29h1v1h-1zM18 31h2v1h-2zM22 31h1v1h-1zM31 31h1v1h-1zM26 32h1v1h-1zM31 32h1v1h-1zM46 32h1v1h-1zM55 32h1v1h-1zM30 33h1v1h-1zM49 33h1v1h-1zM88 33h1v1h-1zM24 34h1v1h-1zM31 34h1v1h-1zM38 34h1v1h-1zM45 34h1v1h-1zM18 35h1v1h-1zM21 35h1v1h-1zM36 35h1v1h-1zM20 36h1v1h-1zM27 36h1v1h-1zM33 36h1v1h-1zM38 36h1v1h-1zM40 36h1v1h-1zM42 36h1v1h-1zM23 37h1v1h-1zM27 37h1v1h-1zM54 37h1v1h-1zM65 37h1v1h-1zM22 38h1v1h-1zM28 38h1v1h-1zM46 38h1v1h-1zM68 38h1v1h-1zM32 39h2v1h-2zM35 39h1v1h-1zM43 39h1v1h-1zM66 39h1v1h-1zM21 40h1v1h-1zM36 40h1v1h-1zM49 40h2v1h-2zM27 41h1v1h-1zM30 41h1v1h-1zM29 42h1v1h-1zM31 42h1v1h-1zM34 42h1v1h-1zM50 42h1v1h-1zM38 43h1v1h-1zM40 44h2v1h-2zM19 45h1v1h-1zM35 46h1v1h-1zM37 46h1v1h-1zM17 47h1v1h-1zM27 47h1v1h-1zM32 47h1v1h-1zM37 47h1v1h-1zM29 48h1v1h-1zM35 48h1v1h-1zM20 49h1v1h-1zM36 49h1v1h-1zM20 50h1v1h-1zM28 50h1v1h-1zM35 50h1v1h-1zM27 51h1v1h-1zM29 51h1v1h-1zM26 55h1v1h-1zM29 56h1v1h-1zM28 57h1v1h-1z"/><path fill="#fed97b" d="M23 3h1v1h-1zM14 4h1v1h-1zM23 4h1v1h-1zM29 4h1v1h-1zM33 4h1v1h-1zM42 4h1v1h-1zM8 5h1v1h-1zM51 5h2v1h-2zM4 6h1v1h-1zM14 6h1v1h-1zM58 6h1v1h-1zM7 7h1v1h-1zM12 7h1v1h-1zM48 7h1v1h-1zM7 8h1v1h-1zM21 8h1v1h-1zM27 8h2v1h-2zM54 8h1v1h-1zM57 8h1v1h-1zM8 9h1v1h-1zM57 9h1v1h-1zM12 10h1v1h-1zM18 10h3v1h-3zM29 10h1v1h-1zM46 10h1v1h-1zM19 11h1v1h-1zM36 11h1v1h-1zM7 12h1v1h-1zM11 12h1v1h-1zM16 12h1v1h-1zM9 13h1v1h-1zM13 13h1v1h-1zM42 13h1v1h-1zM48 13h1v1h-1zM26 15h1v1h-1zM31 15h1v1h-1zM37 15h1v1h-1zM14 16h1v1h-1zM36 16h1v1h-1zM25 22h1v1h-1zM21 23h2v1h-2zM28 24h1v1h-1zM34 24h1v1h-1zM48 25h1v1h-1zM32 26h1v1h-1zM22 27h1v1h-1zM47 27h1v1h-1zM27 29h1v1h-1zM31 29h4v1h-4zM24 30h1v1h-1zM28 31h1v1h-1zM49 31h1v1h-1zM19 32h2v1h-2zM38 32h1v1h-1zM34 33h1v1h-1zM38 33h1v1h-1zM45 33h1v1h-1zM92 33h2v1h-2zM46 34h1v1h-1zM19 36h1v1h-1zM36 36h1v1h-1zM21 37h1v1h-1zM20 38h1v1h-1zM29 38h1v1h-1zM34 38h1v1h-1zM27 39h2v1h-2zM31 39h1v1h-1zM47 40h1v1h-1zM31 41h1v1h-1zM26 42h1v1h-1zM39 42h1v1h-1zM36 44h1v1h-1zM38 44h1v1h-1zM23 45h1v1h-1zM25 45h1v1h-1zM28 45h1v1h-1zM32 45h1v1h-1zM26 48h1v1h-1zM41 50h1v1h-1zM33 51h1v1h-1zM35 52h1v1h-1zM40 52h1v1h-1zM23 53h2v1h-2zM33 53h1v1h-1zM24 54h1v1h-1zM33 54h1v1h-1zM27 55h1v1h-1z"/><path fill="#fea736" d="M24 3h1v1h-1zM29 3h1v1h-1zM27 4h1v1h-1zM32 4h1v1h-1zM28 5h1v1h-1zM41 5h1v1h-1zM57 5h1v1h-1zM34 6h1v1h-1zM52 6h1v1h-1zM25 7h1v1h-1zM32 7h1v1h-1zM44 7h1v1h-1zM48 8h1v1h-1zM58 8h1v1h-1zM63 8h1v1h-1zM21 9h1v1h-1zM43 9h1v1h-1zM56 9h1v1h-1zM23 10h1v1h-1zM25 10h1v1h-1zM33 10h1v1h-1zM35 10h1v1h-1zM37 10h1v1h-1zM40 10h1v1h-1zM38 11h1v1h-1zM47 11h1v1h-1zM50 11h1v1h-1zM22 12h1v1h-1zM35 12h1v1h-1zM45 12h1v1h-1zM48 12h1v1h-1zM52 12h1v1h-1zM20 13h2v1h-2zM31 13h1v1h-1zM38 14h1v1h-1zM40 14h1v1h-1zM45 14h1v1h-1zM49 14h1v1h-1zM51 14h1v1h-1zM27 15h1v1h-1zM36 15h1v1h-1zM38 15h1v1h-1zM81 15h1v1h-1zM80 16h1v1h-1zM84 16h1v1h-1zM31 17h1v1h-1zM33 17h1v1h-1zM84 17h1v1h-1zM33 18h1v1h-1zM41 18h1v1h-1zM50 18h1v1h-1zM83 18h1v1h-1zM41 19h1v1h-1zM36 20h1v1h-1zM49 20h1v1h-1zM24 21h1v1h-1zM31 21h1v1h-1zM45 21h1v1h-1zM39 22h1v1h-1zM43 22h1v1h-1zM23 23h1v1h-1zM26 23h2v1h-2zM21 24h1v1h-1zM28 26h1v1h-1zM38 26h1v1h-1zM47 26h1v1h-1zM39 27h1v1h-1zM48 27h1v1h-1zM24 28h1v1h-1zM34 28h1v1h-1zM36 28h1v1h-1zM44 28h1v1h-1zM26 29h1v1h-1zM28 29h1v1h-1zM21 30h2v1h-2zM28 30h1v1h-1zM35 30h1v1h-1zM41 30h1v1h-1zM48 30h1v1h-1zM50 30h1v1h-1zM73 30h1v1h-1zM33 31h3v1h-3zM42 31h2v1h-2zM46 31h1v1h-1zM50 31h1v1h-1zM22 32h1v1h-1zM34 32h1v1h-1zM41 32h1v1h-1zM50 32h1v1h-1zM87 32h1v1h-1zM19 33h1v1h-1zM27 33h2v1h-2zM87 33h1v1h-1zM20 34h1v1h-1zM36 34h1v1h-1zM43 34h2v1h-2zM67 34h1v1h-1zM91 34h2v1h-2zM31 35h1v1h-1zM33 35h2v1h-2zM43 35h2v1h-2zM65 35h1v1h-1zM18 36h1v1h-1zM32 36h1v1h-1zM47 36h1v1h-1zM64 36h1v1h-1zM29 37h1v1h-1zM39 37h1v1h-1zM68 37h1v1h-1zM27 38h1v1h-1zM37 38h1v1h-1zM45 38h1v1h-1zM47 38h1v1h-1zM47 39h1v1h-1zM67 39h1v1h-1zM35 40h1v1h-1zM55 40h1v1h-1zM65 40h2v1h-2zM25 41h1v1h-1zM33 41h1v1h-1zM37 41h1v1h-1zM22 42h1v1h-1zM24 42h2v1h-2zM36 42h1v1h-1zM41 42h1v1h-1zM45 42h1v1h-1zM25 43h1v1h-1zM35 43h1v1h-1zM41 43h1v1h-1zM24 44h1v1h-1zM39 44h1v1h-1zM17 45h1v1h-1zM46 45h1v1h-1zM38 47h1v1h-1zM40 47h1v1h-1zM17 48h1v1h-1zM33 48h1v1h-1zM16 49h1v1h-1zM25 49h1v1h-1zM28 49h1v1h-1zM35 49h1v1h-1zM30 51h1v1h-1zM37 51h1v1h-1zM24 52h1v1h-1zM26 52h1v1h-1zM28 52h1v1h-1zM31 52h2v1h-2zM34 53h1v1h-1zM30 56h1v1h-1z"/><path fill="#f88b22" d="M27 3h1v1h-1zM36 4h1v1h-1zM44 5h1v1h-1zM9 6h1v1h-1zM27 6h1v1h-1zM47 6h1v1h-1zM37 7h1v1h-1zM34 8h1v1h-1zM45 8h1v1h-1zM36 9h1v1h-1zM41 9h1v1h-1zM47 9h1v1h-1zM52 9h1v1h-1zM39 10h1v1h-1zM49 10h2v1h-2zM56 10h1v1h-1zM6 11h1v1h-1zM22 11h1v1h-1zM48 11h2v1h-2zM54 11h1v1h-1zM43 12h1v1h-1zM58 12h1v1h-1zM84 12h1v1h-1zM90 12h1v1h-1zM92 12h1v1h-1zM38 13h1v1h-1zM43 13h1v1h-1zM61 13h1v1h-1zM67 13h1v1h-1zM28 14h1v1h-1zM31 14h1v1h-1zM70 14h1v1h-1zM28 15h1v1h-1zM41 15h1v1h-1zM43 15h1v1h-1zM25 16h1v1h-1zM34 16h1v1h-1zM45 16h1v1h-1zM86 16h1v1h-1zM24 17h1v1h-1zM39 17h1v1h-1zM41 17h1v1h-1zM65 17h1v1h-1zM71 17h1v1h-1zM77 17h2v1h-2zM83 17h1v1h-1zM38 18h1v1h-1zM46 18h1v1h-1zM75 18h1v1h-1zM28 19h1v1h-1zM39 19h2v1h-2zM45 19h1v1h-1zM24 20h1v1h-1zM28 20h1v1h-1zM31 20h1v1h-1zM44 20h1v1h-1zM46 20h1v1h-1zM48 20h1v1h-1zM27 21h1v1h-1zM44 21h1v1h-1zM71 21h1v1h-1zM46 22h1v1h-1zM75 22h1v1h-1zM34 23h1v1h-1zM72 24h1v1h-1zM32 25h1v1h-1zM34 25h1v1h-1zM36 26h1v1h-1zM71 26h1v1h-1zM28 27h2v1h-2zM38 27h1v1h-1zM41 27h1v1h-1zM43 27h1v1h-1zM23 28h1v1h-1zM48 28h1v1h-1zM51 28h1v1h-1zM66 28h1v1h-1zM57 29h1v1h-1zM53 30h1v1h-1zM23 31h1v1h-1zM25 31h1v1h-1zM30 31h1v1h-1zM37 31h1v1h-1zM44 31h1v1h-1zM66 31h1v1h-1zM86 31h2v1h-2zM23 32h1v1h-1zM27 32h2v1h-2zM56 32h1v1h-1zM62 32h1v1h-1zM92 32h1v1h-1zM42 35h1v1h-1zM49 35h1v1h-1zM61 35h1v1h-1zM67 35h1v1h-1zM45 36h1v1h-1zM63 36h1v1h-1zM66 36h1v1h-1zM69 36h1v1h-1zM24 37h1v1h-1zM26 37h1v1h-1zM41 37h1v1h-1zM53 37h1v1h-1zM56 37h1v1h-1zM61 37h1v1h-1zM69 37h1v1h-1zM38 38h1v1h-1zM40 38h1v1h-1zM62 38h1v1h-1zM22 39h1v1h-1zM29 39h1v1h-1zM49 39h1v1h-1zM51 39h1v1h-1zM58 39h1v1h-1zM44 40h1v1h-1zM46 40h1v1h-1zM57 40h1v1h-1zM22 41h1v1h-1zM45 41h1v1h-1zM47 41h1v1h-1zM35 42h1v1h-1zM40 42h1v1h-1zM44 42h1v1h-1zM46 42h1v1h-1zM20 43h1v1h-1zM31 43h1v1h-1zM39 43h1v1h-1zM26 44h1v1h-1zM34 44h1v1h-1zM29 45h1v1h-1zM17 46h1v1h-1zM20 46h1v1h-1zM31 46h1v1h-1zM38 46h1v1h-1zM48 46h1v1h-1zM42 47h1v1h-1zM43 48h1v1h-1zM29 49h1v1h-1zM42 49h3v1h-3zM30 50h1v1h-1zM43 50h1v1h-1zM26 51h1v1h-1zM34 51h1v1h-1zM34 52h1v1h-1zM26 54h1v1h-1z"/><path fill="#fff7bc" d="M10 4h2v1h-2zM15 4h2v1h-2zM54 5h1v1h-1zM18 6h1v1h-1zM20 6h1v1h-1zM11 7h1v1h-1zM3 8h1v1h-1zM14 8h1v1h-1zM20 9h1v1h-1zM16 13h1v1h-1zM15 15h1v1h-1zM24 15h1v1h-1zM48 15h1v1h-1zM35 16h1v1h-1zM26 22h1v1h-1zM47 33h1v1h-1zM33 34h1v1h-1zM34 36h1v1h-1zM20 42h1v1h-1zM23 47h1v1h-1zM28 48h1v1h-1zM39 48h1v1h-1zM29 52h1v1h-1z"/><path fill="#fee391" d="M12 4h2v1h-2zM24 4h1v1h-1zM26 4h1v1h-1zM41 4h1v1h-1zM53 5h1v1h-1zM17 6h1v1h-1zM19 6h1v1h-1zM22 6h1v1h-1zM8 7h1v1h-1zM13 7h1v1h-1zM23 7h1v1h-1zM57 7h2v1h-2zM20 8h1v1h-1zM46 8h1v1h-1zM7 9h1v1h-1zM51 9h1v1h-1zM4 10h1v1h-1zM10 10h1v1h-1zM15 10h1v1h-1zM28 10h1v1h-1zM18 11h1v1h-1zM12 12h3v1h-3zM17 12h1v1h-1zM20 12h1v1h-1zM39 12h1v1h-1zM10 13h1v1h-1zM15 13h1v1h-1zM25 13h1v1h-1zM8 14h1v1h-1zM22 14h1v1h-1zM13 15h1v1h-1zM23 15h1v1h-1zM30 16h1v1h-1zM38 16h1v1h-1zM73 18h1v1h-1zM25 19h1v1h-1zM29 20h1v1h-1zM22 21h2v1h-2zM36 21h1v1h-1zM22 22h1v1h-1zM20 23h1v1h-1zM28 25h1v1h-1zM34 26h1v1h-1zM31 27h1v1h-1zM33 27h1v1h-1zM30 30h1v1h-1zM20 31h1v1h-1zM25 32h1v1h-1zM34 34h2v1h-2zM40 34h1v1h-1zM45 35h1v1h-1zM29 36h1v1h-1zM20 37h1v1h-1zM25 37h1v1h-1zM45 37h1v1h-1zM26 38h1v1h-1zM18 39h1v1h-1zM20 39h2v1h-2zM27 40h1v1h-1zM32 40h1v1h-1zM19 41h1v1h-1zM39 41h1v1h-1zM29 43h1v1h-1zM33 43h1v1h-1zM25 44h1v1h-1zM40 45h1v1h-1zM16 46h1v1h-1zM33 46h1v1h-1zM24 47h1v1h-1zM41 47h1v1h-1zM34 49h1v1h-1zM38 49h1v1h-1zM24 50h1v1h-1zM22 51h1v1h-1zM25 55h1v1h-1z"/><path fill="#fece65" d="M17 4h1v1h-1zM22 4h1v1h-1zM45 4h1v1h-1zM19 5h2v1h-2zM25 5h1v1h-1zM47 5h1v1h-1zM29 6h2v1h-2zM3 7h1v1h-1zM6 7h1v1h-1zM18 7h1v1h-1zM55 7h2v1h-2zM61 7h1v1h-1zM13 8h1v1h-1zM16 8h1v1h-1zM22 8h2v1h-2zM49 8h1v1h-1zM14 9h1v1h-1zM25 9h1v1h-1zM8 10h1v1h-1zM13 10h1v1h-1zM21 10h1v1h-1zM26 10h1v1h-1zM45 10h1v1h-1zM7 11h1v1h-1zM6 12h1v1h-1zM10 12h1v1h-1zM27 12h1v1h-1zM33 12h1v1h-1zM40 12h1v1h-1zM51 12h1v1h-1zM6 13h1v1h-1zM8 13h1v1h-1zM17 13h1v1h-1zM19 13h1v1h-1zM26 13h2v1h-2zM19 14h1v1h-1zM20 15h1v1h-1zM40 15h1v1h-1zM22 16h1v1h-1zM24 16h1v1h-1zM26 17h1v1h-1zM36 17h1v1h-1zM26 18h1v1h-1zM34 18h2v1h-2zM26 19h1v1h-1zM30 19h1v1h-1zM21 21h1v1h-1zM31 22h1v1h-1zM29 23h1v1h-1zM20 24h1v1h-1zM22 24h1v1h-1zM22 25h1v1h-1zM25 25h1v1h-1zM23 26h1v1h-1zM31 26h1v1h-1zM34 27h1v1h-1zM31 28h1v1h-1zM69 28h1v1h-1zM91 29h1v1h-1zM40 30h1v1h-1zM16 31h1v1h-1zM64 31h1v1h-1zM92 31h1v1h-1zM30 32h1v1h-1zM36 32h1v1h-1zM43 32h1v1h-1zM67 32h1v1h-1zM89 32h1v1h-1zM91 32h1v1h-1zM21 33h1v1h-1zM25 33h1v1h-1zM33 33h1v1h-1zM28 34h1v1h-1zM32 34h1v1h-1zM30 35h1v1h-1zM41 35h1v1h-1zM21 36h1v1h-1zM39 36h1v1h-1zM19 37h1v1h-1zM33 37h2v1h-2zM44 37h1v1h-1zM70 37h1v1h-1zM23 38h1v1h-1zM17 40h2v1h-2zM20 40h1v1h-1zM23 40h1v1h-1zM25 40h1v1h-1zM23 42h1v1h-1zM37 42h1v1h-1zM36 43h1v1h-1zM17 44h1v1h-1zM32 44h2v1h-2zM34 46h1v1h-1zM29 47h1v1h-1zM33 47h1v1h-1zM36 48h1v1h-1zM38 48h1v1h-1zM22 49h1v1h-1zM31 49h1v1h-1zM33 49h1v1h-1zM31 50h1v1h-1zM34 50h1v1h-1zM23 51h1v1h-1zM39 52h1v1h-1zM25 53h1v1h-1zM36 53h1v1h-1z"/><path fill="#fec44f" d="M31 4h1v1h-1zM50 4h1v1h-1zM45 5h1v1h-1zM55 5h1v1h-1zM11 6h1v1h-1zM48 6h1v1h-1zM26 7h1v1h-1zM43 7h1v1h-1zM45 7h1v1h-1zM53 7h1v1h-1zM6 8h1v1h-1zM8 8h1v1h-1zM26 8h1v1h-1zM4 9h1v1h-1zM15 9h1v1h-1zM23 9h1v1h-1zM29 9h1v1h-1zM39 9h1v1h-1zM38 10h1v1h-1zM10 11h1v1h-1zM21 11h1v1h-1zM43 11h1v1h-1zM45 11h1v1h-1zM23 12h1v1h-1zM28 12h1v1h-1zM32 12h1v1h-1zM50 12h1v1h-1zM85 13h1v1h-1zM37 14h1v1h-1zM39 14h1v1h-1zM47 14h1v1h-1zM63 14h1v1h-1zM89 14h1v1h-1zM39 15h1v1h-1zM26 16h1v1h-1zM41 16h1v1h-1zM43 16h1v1h-1zM49 16h1v1h-1zM29 18h1v1h-1zM31 18h1v1h-1zM51 18h1v1h-1zM24 19h1v1h-1zM27 19h1v1h-1zM20 22h2v1h-2zM32 23h1v1h-1zM38 23h1v1h-1zM44 23h1v1h-1zM56 23h1v1h-1zM29 24h1v1h-1zM45 24h1v1h-1zM35 26h1v1h-1zM24 27h1v1h-1zM40 27h1v1h-1zM22 28h1v1h-1zM38 28h1v1h-1zM20 30h1v1h-1zM25 30h1v1h-1zM27 30h1v1h-1zM38 30h1v1h-1zM32 31h1v1h-1zM47 31h1v1h-1zM15 32h2v1h-2zM37 32h1v1h-1zM17 33h1v1h-1zM22 33h1v1h-1zM26 33h1v1h-1zM36 33h1v1h-1zM42 33h2v1h-2zM42 34h1v1h-1zM19 35h1v1h-1zM23 35h1v1h-1zM38 35h1v1h-1zM68 35h1v1h-1zM24 36h2v1h-2zM30 36h1v1h-1zM28 37h1v1h-1zM43 37h1v1h-1zM18 38h1v1h-1zM24 38h1v1h-1zM35 38h1v1h-1zM43 38h1v1h-1zM52 38h1v1h-1zM17 39h1v1h-1zM24 39h1v1h-1zM34 39h1v1h-1zM40 39h1v1h-1zM44 39h2v1h-2zM30 40h1v1h-1zM37 40h1v1h-1zM40 40h1v1h-1zM18 41h1v1h-1zM40 41h1v1h-1zM52 41h1v1h-1zM19 43h1v1h-1zM30 43h1v1h-1zM26 45h1v1h-1zM31 45h1v1h-1zM35 45h1v1h-1zM30 46h1v1h-1zM19 48h1v1h-1zM25 48h1v1h-1zM17 49h1v1h-1zM25 50h1v1h-1zM37 50h2v1h-2zM40 51h1v1h-1zM26 53h1v1h-1zM30 53h2v1h-2zM31 54h1v1h-1zM28 56h1v1h-1z"/><path fill="#cc4c02" d="M37 4h1v1h-1zM38 7h1v1h-1zM32 8h1v1h-1zM32 9h1v1h-1zM64 9h1v1h-1zM77 9h1v1h-1zM48 10h1v1h-1zM78 10h1v1h-1zM39 11h1v1h-1zM44 11h1v1h-1zM55 11h1v1h-1zM59 11h1v1h-1zM75 11h1v1h-1zM78 11h1v1h-1zM80 11h1v1h-1zM24 12h1v1h-1zM33 13h1v1h-1zM91 13h1v1h-1zM42 14h1v1h-1zM55 14h1v1h-1zM57 14h1v1h-1zM35 15h1v1h-1zM47 15h1v1h-1zM67 16h1v1h-1zM70 16h1v1h-1zM77 16h1v1h-1zM54 18h1v1h-1zM70 18h3v1h-3zM35 19h1v1h-1zM66 19h1v1h-1zM79 19h1v1h-1zM80 20h1v1h-1zM67 21h1v1h-1zM75 21h1v1h-1zM41 22h1v1h-1zM59 22h2v1h-2zM65 22h1v1h-1zM36 23h1v1h-1zM40 23h1v1h-1zM50 23h1v1h-1zM52 23h1v1h-1zM59 23h1v1h-1zM63 23h1v1h-1zM71 23h1v1h-1zM39 24h1v1h-1zM63 24h1v1h-1zM39 26h1v1h-1zM41 26h1v1h-1zM52 26h1v1h-1zM52 28h1v1h-1zM42 29h1v1h-1zM52 29h1v1h-1zM64 29h1v1h-1zM98 29h1v1h-1zM42 30h1v1h-1zM41 31h1v1h-1zM90 31h1v1h-1zM64 32h1v1h-1zM55 33h1v1h-1zM63 33h1v1h-1zM56 34h1v1h-1zM63 34h1v1h-1zM55 35h1v1h-1zM57 35h2v1h-2zM63 35h1v1h-1zM55 37h1v1h-1zM59 37h1v1h-1zM78 37h1v1h-1zM56 38h1v1h-1zM61 38h1v1h-1zM64 38h1v1h-1zM56 39h1v1h-1zM64 40h1v1h-1zM53 41h1v1h-1zM58 41h1v1h-1zM51 42h1v1h-1zM56 42h1v1h-1zM53 43h2v1h-2zM48 44h1v1h-1zM64 44h1v1h-1zM61 45h2v1h-2zM47 46h1v1h-1zM60 46h1v1h-1zM49 47h1v1h-1zM46 48h1v1h-1zM19 49h1v1h-1zM45 49h1v1h-1zM50 49h1v1h-1zM42 50h1v1h-1zM46 50h1v1h-1zM43 51h1v1h-1zM43 52h2v1h-2z"/><path fill="#e1640e" d="M40 4h1v1h-1zM37 5h1v1h-1zM43 5h1v1h-1zM33 6h1v1h-1zM39 6h1v1h-1zM56 6h1v1h-1zM28 7h1v1h-1zM35 7h1v1h-1zM54 9h1v1h-1zM31 10h1v1h-1zM64 10h1v1h-1zM30 11h1v1h-1zM61 11h1v1h-1zM79 11h1v1h-1zM42 12h1v1h-1zM62 12h1v1h-1zM67 12h1v1h-1zM79 12h2v1h-2zM46 13h1v1h-1zM58 13h1v1h-1zM66 13h1v1h-1zM84 13h1v1h-1zM87 13h1v1h-1zM26 14h1v1h-1zM44 14h1v1h-1zM54 14h1v1h-1zM61 14h1v1h-1zM82 14h1v1h-1zM62 15h1v1h-1zM40 16h1v1h-1zM53 16h1v1h-1zM78 16h2v1h-2zM89 16h1v1h-1zM53 17h1v1h-1zM76 17h1v1h-1zM24 18h1v1h-1zM40 18h1v1h-1zM82 18h1v1h-1zM84 18h1v1h-1zM31 19h1v1h-1zM48 19h1v1h-1zM62 19h1v1h-1zM84 19h1v1h-1zM55 20h2v1h-2zM66 20h1v1h-1zM74 20h1v1h-1zM76 20h1v1h-1zM39 21h1v1h-1zM41 21h1v1h-1zM63 21h1v1h-1zM37 22h1v1h-1zM47 22h1v1h-1zM49 22h1v1h-1zM51 23h1v1h-1zM55 23h1v1h-1zM67 23h1v1h-1zM73 23h1v1h-1zM31 24h1v1h-1zM47 24h1v1h-1zM66 24h1v1h-1zM65 25h1v1h-1zM73 25h1v1h-1zM42 26h2v1h-2zM64 26h2v1h-2zM70 26h1v1h-1zM30 27h1v1h-1zM36 27h1v1h-1zM45 27h1v1h-1zM68 27h1v1h-1zM61 28h1v1h-1zM64 28h1v1h-1zM30 29h1v1h-1zM37 29h1v1h-1zM47 29h1v1h-1zM65 29h1v1h-1zM31 30h1v1h-1zM62 30h1v1h-1zM66 30h1v1h-1zM74 30h1v1h-1zM21 31h1v1h-1zM58 31h1v1h-1zM91 31h1v1h-1zM53 32h1v1h-1zM88 32h1v1h-1zM48 33h1v1h-1zM60 33h1v1h-1zM18 34h1v1h-1zM49 34h1v1h-1zM61 34h1v1h-1zM90 34h1v1h-1zM46 36h1v1h-1zM32 37h1v1h-1zM25 39h1v1h-1zM42 39h1v1h-1zM42 40h1v1h-1zM34 41h1v1h-1zM59 41h1v1h-1zM53 42h1v1h-1zM46 43h1v1h-1zM49 43h1v1h-1zM61 43h1v1h-1zM43 44h1v1h-1zM54 45h1v1h-1zM53 46h1v1h-1zM58 46h1v1h-1zM44 47h1v1h-1zM20 48h1v1h-1zM24 48h1v1h-1zM34 48h1v1h-1zM21 49h1v1h-1zM32 49h1v1h-1zM39 49h1v1h-1zM26 50h1v1h-1zM29 50h1v1h-1zM53 50h1v1h-1zM35 51h1v1h-1zM38 51h1v1h-1zM41 51h1v1h-1zM54 51h1v1h-1zM28 53h1v1h-1z"/><path fill="#f27e1b" d="M27 5h1v1h-1zM31 6h1v1h-1zM35 6h1v1h-1zM49 6h1v1h-1zM31 7h1v1h-1zM24 8h1v1h-1zM61 8h1v1h-1zM30 9h1v1h-1zM42 9h1v1h-1zM58 9h1v1h-1zM60 9h1v1h-1zM62 9h1v1h-1zM36 10h1v1h-1zM53 10h1v1h-1zM60 10h1v1h-1zM68 10h1v1h-1zM42 11h1v1h-1zM56 11h2v1h-2zM64 11h1v1h-1zM26 12h1v1h-1zM82 12h1v1h-1zM30 13h1v1h-1zM53 13h1v1h-1zM78 13h1v1h-1zM90 13h1v1h-1zM81 14h1v1h-1zM90 14h1v1h-1zM29 15h2v1h-2zM45 15h2v1h-2zM49 15h3v1h-3zM46 16h1v1h-1zM66 16h1v1h-1zM73 16h2v1h-2zM43 17h2v1h-2zM75 17h1v1h-1zM85 17h2v1h-2zM37 18h1v1h-1zM39 18h1v1h-1zM53 18h1v1h-1zM72 19h2v1h-2zM77 19h1v1h-1zM39 20h1v1h-1zM45 20h1v1h-1zM77 20h1v1h-1zM30 21h1v1h-1zM38 21h1v1h-1zM76 21h1v1h-1zM28 22h1v1h-1zM34 22h1v1h-1zM44 22h1v1h-1zM46 23h1v1h-1zM48 23h1v1h-1zM68 23h2v1h-2zM33 24h1v1h-1zM37 24h1v1h-1zM41 24h1v1h-1zM44 24h1v1h-1zM57 25h1v1h-1zM27 26h1v1h-1zM40 26h1v1h-1zM50 26h1v1h-1zM66 26h1v1h-1zM51 27h1v1h-1zM71 27h1v1h-1zM35 29h2v1h-2zM40 29h1v1h-1zM44 29h1v1h-1zM48 29h1v1h-1zM67 29h1v1h-1zM32 30h1v1h-1zM52 30h1v1h-1zM57 30h1v1h-1zM60 30h1v1h-1zM64 30h2v1h-2zM45 31h1v1h-1zM63 31h1v1h-1zM89 31h1v1h-1zM29 32h1v1h-1zM40 32h1v1h-1zM49 32h1v1h-1zM58 32h1v1h-1zM66 32h1v1h-1zM44 33h1v1h-1zM64 33h2v1h-2zM31 36h1v1h-1zM43 36h1v1h-1zM50 36h1v1h-1zM30 37h2v1h-2zM40 37h1v1h-1zM54 38h1v1h-1zM23 39h1v1h-1zM30 39h1v1h-1zM46 39h1v1h-1zM55 39h1v1h-1zM65 39h1v1h-1zM39 40h1v1h-1zM45 40h1v1h-1zM20 41h1v1h-1zM19 44h2v1h-2zM22 44h1v1h-1zM16 45h1v1h-1zM20 45h1v1h-1zM22 45h1v1h-1zM42 45h1v1h-1zM39 46h1v1h-1zM42 46h1v1h-1zM18 47h1v1h-1zM26 47h1v1h-1zM37 48h1v1h-1zM42 48h1v1h-1zM44 48h1v1h-1zM23 49h1v1h-1zM40 49h1v1h-1zM47 50h1v1h-1zM32 51h1v1h-1zM25 52h1v1h-1zM27 52h1v1h-1zM33 52h1v1h-1zM36 52h2v1h-2zM28 54h1v1h-1zM32 55h1v1h-1z"/><path fill="#ec7014" d="M31 5h1v1h-1zM39 5h1v1h-1zM46 5h1v1h-1zM46 6h1v1h-1zM41 7h2v1h-2zM60 7h1v1h-1zM62 7h1v1h-1zM25 8h1v1h-1zM29 8h1v1h-1zM35 8h1v1h-1zM38 8h1v1h-1zM64 8h1v1h-1zM45 9h1v1h-1zM59 9h1v1h-1zM51 10h1v1h-1zM62 10h1v1h-1zM66 11h1v1h-1zM81 11h1v1h-1zM91 11h1v1h-1zM30 12h1v1h-1zM34 12h1v1h-1zM41 12h1v1h-1zM44 12h1v1h-1zM61 12h1v1h-1zM89 12h1v1h-1zM41 13h1v1h-1zM88 13h1v1h-1zM35 14h1v1h-1zM50 14h1v1h-1zM65 14h1v1h-1zM67 14h1v1h-1zM53 15h1v1h-1zM87 15h1v1h-1zM42 16h1v1h-1zM55 16h1v1h-1zM60 16h1v1h-1zM69 16h1v1h-1zM82 16h1v1h-1zM45 17h1v1h-1zM47 17h1v1h-1zM43 18h2v1h-2zM47 18h2v1h-2zM66 18h1v1h-1zM76 18h1v1h-1zM81 18h1v1h-1zM87 18h1v1h-1zM43 19h1v1h-1zM46 19h2v1h-2zM75 19h1v1h-1zM22 20h1v1h-1zM63 20h1v1h-1zM65 20h1v1h-1zM69 20h3v1h-3zM73 20h1v1h-1zM43 21h1v1h-1zM49 21h3v1h-3zM73 21h1v1h-1zM42 22h1v1h-1zM51 22h3v1h-3zM72 22h1v1h-1zM37 23h1v1h-1zM42 23h1v1h-1zM70 23h1v1h-1zM74 23h1v1h-1zM27 24h1v1h-1zM70 24h1v1h-1zM50 25h1v1h-1zM54 25h1v1h-1zM37 26h1v1h-1zM44 26h1v1h-1zM49 26h1v1h-1zM55 26h1v1h-1zM69 27h1v1h-1zM39 28h1v1h-1zM65 28h1v1h-1zM43 29h1v1h-1zM61 29h1v1h-1zM73 29h1v1h-1zM34 30h1v1h-1zM37 30h1v1h-1zM56 30h1v1h-1zM40 31h1v1h-1zM51 31h1v1h-1zM65 31h1v1h-1zM17 32h1v1h-1zM39 32h1v1h-1zM42 32h1v1h-1zM44 32h1v1h-1zM60 32h1v1h-1zM40 33h1v1h-1zM58 33h1v1h-1zM61 33h1v1h-1zM53 34h3v1h-3zM52 35h1v1h-1zM56 35h1v1h-1zM60 35h1v1h-1zM22 36h1v1h-1zM28 36h1v1h-1zM58 36h1v1h-1zM60 36h1v1h-1zM22 37h1v1h-1zM51 37h2v1h-2zM32 38h1v1h-1zM36 38h1v1h-1zM42 38h1v1h-1zM55 38h1v1h-1zM53 39h1v1h-1zM57 39h1v1h-1zM41 40h1v1h-1zM48 40h1v1h-1zM52 40h1v1h-1zM61 40h1v1h-1zM38 41h1v1h-1zM44 41h1v1h-1zM30 42h1v1h-1zM54 42h1v1h-1zM18 43h1v1h-1zM21 43h1v1h-1zM24 43h1v1h-1zM32 43h1v1h-1zM45 43h1v1h-1zM47 43h1v1h-1zM18 45h1v1h-1zM27 45h1v1h-1zM56 45h1v1h-1zM22 47h1v1h-1zM43 47h1v1h-1zM41 48h1v1h-1zM22 50h1v1h-1zM33 50h1v1h-1zM39 50h1v1h-1zM31 51h1v1h-1zM23 52h1v1h-1zM41 52h1v1h-1zM27 54h1v1h-1zM30 54h1v1h-1z"/><path fill="#d75808" d="M35 5h1v1h-1zM48 5h1v1h-1zM38 6h1v1h-1zM45 6h1v1h-1zM34 7h1v1h-1zM31 8h1v1h-1zM37 8h1v1h-1zM44 8h1v1h-1zM38 9h1v1h-1zM46 9h1v1h-1zM49 9h1v1h-1zM63 9h1v1h-1zM42 10h1v1h-1zM59 10h1v1h-1zM65 10h1v1h-1zM35 11h1v1h-1zM60 11h1v1h-1zM68 11h1v1h-1zM36 12h1v1h-1zM47 12h1v1h-1zM57 12h1v1h-1zM64 12h1v1h-1zM44 13h1v1h-1zM52 13h1v1h-1zM57 13h1v1h-1zM73 13h1v1h-1zM69 14h1v1h-1zM79 14h1v1h-1zM32 15h1v1h-1zM55 15h1v1h-1zM47 16h1v1h-1zM76 16h1v1h-1zM83 16h1v1h-1zM87 16h1v1h-1zM40 17h1v1h-1zM55 17h1v1h-1zM68 17h1v1h-1zM82 17h1v1h-1zM88 17h1v1h-1zM49 18h1v1h-1zM61 18h2v1h-2zM79 18h1v1h-1zM74 19h1v1h-1zM78 19h1v1h-1zM80 19h1v1h-1zM23 20h1v1h-1zM32 20h1v1h-1zM51 20h1v1h-1zM75 20h1v1h-1zM42 21h1v1h-1zM57 21h1v1h-1zM77 21h1v1h-1zM79 21h1v1h-1zM36 22h1v1h-1zM45 22h1v1h-1zM64 22h1v1h-1zM30 24h1v1h-1zM51 24h1v1h-1zM73 24h1v1h-1zM43 25h1v1h-1zM51 25h1v1h-1zM69 25h1v1h-1zM71 25h2v1h-2zM46 26h1v1h-1zM54 26h1v1h-1zM54 27h1v1h-1zM33 28h1v1h-1zM43 28h1v1h-1zM55 28h3v1h-3zM60 28h1v1h-1zM63 28h1v1h-1zM45 30h1v1h-1zM59 30h1v1h-1zM68 30h1v1h-1zM88 30h2v1h-2zM59 31h1v1h-1zM59 32h1v1h-1zM86 32h1v1h-1zM93 32h1v1h-1zM52 33h2v1h-2zM56 33h1v1h-1zM91 33h1v1h-1zM52 34h1v1h-1zM57 34h1v1h-1zM59 34h1v1h-1zM25 35h1v1h-1zM51 35h1v1h-1zM53 35h1v1h-1zM62 35h1v1h-1zM66 35h1v1h-1zM51 36h1v1h-1zM78 36h1v1h-1zM49 37h1v1h-1zM67 37h1v1h-1zM51 38h1v1h-1zM61 39h1v1h-1zM32 41h1v1h-1zM48 41h1v1h-1zM44 43h1v1h-1zM56 43h1v1h-1zM47 44h1v1h-1zM52 44h2v1h-2zM48 45h1v1h-1zM22 46h1v1h-1zM57 47h1v1h-1zM16 48h1v1h-1zM40 48h1v1h-1zM48 48h1v1h-1zM45 51h1v1h-1zM50 51h1v1h-1zM45 52h1v1h-1zM47 52h1v1h-1zM35 54h1v1h-1z"/><path fill="#bb4403" d="M36 5h1v1h-1zM40 5h1v1h-1zM40 7h1v1h-1zM48 9h1v1h-1zM55 9h1v1h-1zM66 9h2v1h-2zM63 10h1v1h-1zM67 10h1v1h-1zM32 11h1v1h-1zM69 11h1v1h-1zM83 11h1v1h-1zM90 11h1v1h-1zM65 12h2v1h-2zM78 12h1v1h-1zM87 12h1v1h-1zM68 13h1v1h-1zM85 14h2v1h-2zM65 15h1v1h-1zM69 15h1v1h-1zM91 15h1v1h-1zM63 16h1v1h-1zM52 17h1v1h-1zM74 17h1v1h-1zM52 18h1v1h-1zM69 18h1v1h-1zM71 19h1v1h-1zM82 19h1v1h-1zM54 20h1v1h-1zM61 20h1v1h-1zM78 20h1v1h-1zM47 21h1v1h-1zM54 21h1v1h-1zM66 21h1v1h-1zM48 22h1v1h-1zM50 22h1v1h-1zM66 22h2v1h-2zM45 23h1v1h-1zM53 23h2v1h-2zM57 23h1v1h-1zM38 24h1v1h-1zM48 24h1v1h-1zM53 24h1v1h-1zM53 26h1v1h-1zM56 26h1v1h-1zM67 26h1v1h-1zM55 27h1v1h-1zM62 27h1v1h-1zM70 27h1v1h-1zM54 28h1v1h-1zM59 28h1v1h-1zM97 28h1v1h-1zM41 29h1v1h-1zM56 29h1v1h-1zM74 29h1v1h-1zM90 29h1v1h-1zM55 30h1v1h-1zM67 30h1v1h-1zM91 30h1v1h-1zM97 30h1v1h-1zM54 31h1v1h-1zM54 32h1v1h-1zM61 32h1v1h-1zM90 32h1v1h-1zM66 33h1v1h-1zM58 34h1v1h-1zM50 35h1v1h-1zM64 35h1v1h-1zM56 36h1v1h-1zM59 36h1v1h-1zM61 36h1v1h-1zM67 36h1v1h-1zM25 38h1v1h-1zM65 38h1v1h-1zM54 40h1v1h-1zM54 41h1v1h-1zM56 41h1v1h-1zM58 42h1v1h-1zM60 42h1v1h-1zM62 42h2v1h-2zM62 43h1v1h-1zM61 44h1v1h-1zM59 45h1v1h-1zM45 47h1v1h-1zM23 48h1v1h-1zM45 48h1v1h-1zM51 48h1v1h-1zM55 49h1v1h-1z"/><path fill="#772a05" d="M38 5h1v1h-1zM80 10h1v1h-1zM63 11h1v1h-1zM65 11h1v1h-1zM72 11h1v1h-1zM68 12h1v1h-1zM40 13h1v1h-1zM59 13h1v1h-1zM70 13h1v1h-1zM71 14h1v1h-1zM70 15h1v1h-1zM82 15h1v1h-1zM62 16h1v1h-1zM54 19h1v1h-1zM59 19h1v1h-1zM65 19h1v1h-1zM53 21h1v1h-1zM63 22h1v1h-1zM60 23h1v1h-1zM64 23h1v1h-1zM56 24h1v1h-1zM60 26h1v1h-1zM53 27h1v1h-1zM59 27h1v1h-1zM65 27h1v1h-1zM58 29h1v1h-1zM96 29h1v1h-1zM48 31h1v1h-1zM80 36h1v1h-1zM51 46h2v1h-2zM46 47h1v1h-1zM52 51h1v1h-1z"/><path fill="#993404" d="M36 6h1v1h-1zM36 7h1v1h-1zM72 10h1v1h-1zM74 11h1v1h-1zM73 12h1v1h-1zM65 13h1v1h-1zM53 14h1v1h-1zM62 14h1v1h-1zM76 14h1v1h-1zM68 15h1v1h-1zM76 15h1v1h-1zM89 15h1v1h-1zM57 17h1v1h-1zM66 17h2v1h-2zM57 18h1v1h-1zM55 19h2v1h-2zM63 19h1v1h-1zM52 20h1v1h-1zM72 20h1v1h-1zM81 20h1v1h-1zM55 21h1v1h-1zM58 21h1v1h-1zM64 21h1v1h-1zM70 21h1v1h-1zM58 22h1v1h-1zM50 24h1v1h-1zM53 25h1v1h-1zM63 26h1v1h-1zM58 27h1v1h-1zM50 28h1v1h-1zM50 29h1v1h-1zM66 29h1v1h-1zM98 30h1v1h-1zM54 33h1v1h-1zM66 34h1v1h-1zM80 37h1v1h-1zM60 38h1v1h-1zM63 40h1v1h-1zM47 42h1v1h-1zM61 42h1v1h-1zM58 43h2v1h-2zM49 44h1v1h-1zM50 45h1v1h-1zM19 46h1v1h-1zM46 46h1v1h-1zM62 46h1v1h-1zM52 47h1v1h-1zM50 48h1v1h-1zM51 49h2v1h-2zM21 50h1v1h-1z"/><path fill="#aa3c03" d="M37 9h1v1h-1zM68 9h1v1h-1zM73 9h1v1h-1zM30 10h1v1h-1zM69 10h1v1h-1zM58 11h1v1h-1zM67 11h1v1h-1zM82 11h1v1h-1zM31 12h1v1h-1zM75 12h1v1h-1zM56 13h1v1h-1zM63 13h1v1h-1zM69 13h1v1h-1zM81 13h1v1h-1zM59 14h1v1h-1zM80 14h1v1h-1zM92 14h1v1h-1zM59 15h1v1h-1zM64 15h1v1h-1zM66 15h2v1h-2zM71 15h1v1h-1zM56 16h1v1h-1zM90 16h1v1h-1zM60 17h1v1h-1zM64 18h1v1h-1zM58 19h1v1h-1zM70 19h1v1h-1zM57 20h1v1h-1zM67 20h1v1h-1zM69 21h1v1h-1zM57 22h1v1h-1zM62 22h1v1h-1zM35 23h1v1h-1zM61 23h1v1h-1zM37 25h1v1h-1zM64 25h1v1h-1zM68 25h1v1h-1zM51 26h1v1h-1zM63 27h1v1h-1zM40 28h1v1h-1zM53 29h2v1h-2zM58 30h1v1h-1zM56 31h1v1h-1zM52 32h1v1h-1zM48 34h1v1h-1zM64 34h1v1h-1zM79 36h1v1h-1zM57 38h1v1h-1zM59 38h1v1h-1zM63 38h1v1h-1zM79 38h1v1h-1zM29 40h1v1h-1zM59 40h1v1h-1zM50 41h1v1h-1zM64 41h1v1h-1zM57 43h1v1h-1zM60 43h1v1h-1zM45 44h1v1h-1zM62 44h1v1h-1zM63 46h1v1h-1zM54 47h2v1h-2zM58 47h1v1h-1zM54 50h1v1h-1zM49 51h1v1h-1zM46 52h1v1h-1zM52 52h1v1h-1z"/><path fill="#662506" d="M69 9h1v1h-1zM74 9h1v1h-1zM76 9h1v1h-1zM66 10h1v1h-1zM74 10h2v1h-2zM79 10h1v1h-1zM71 11h1v1h-1zM77 11h1v1h-1zM83 12h1v1h-1zM71 13h1v1h-1zM58 14h1v1h-1zM52 15h1v1h-1zM63 15h1v1h-1zM84 15h1v1h-1zM61 16h1v1h-1zM64 16h1v1h-1zM70 17h1v1h-1zM60 19h1v1h-1zM62 20h1v1h-1zM64 20h1v1h-1zM62 23h1v1h-1zM52 24h1v1h-1zM64 24h1v1h-1zM63 25h1v1h-1zM66 25h1v1h-1zM59 26h1v1h-1zM62 26h1v1h-1zM58 28h1v1h-1zM62 28h1v1h-1zM67 28h1v1h-1zM98 28h1v1h-1zM97 29h1v1h-1zM99 29h1v1h-1zM99 30h1v1h-1zM79 35h2v1h-2zM56 44h1v1h-1zM63 44h1v1h-1zM57 45h2v1h-2zM63 45h1v1h-1zM50 46h1v1h-1zM48 47h1v1h-1zM50 47h1v1h-1zM56 47h1v1h-1zM47 48h1v1h-1zM53 48h1v1h-1zM46 49h3v1h-3zM53 49h2v1h-2zM44 51h1v1h-1zM46 51h1v1h-1z"/><path fill="#882f05" d="M73 10h1v1h-1zM70 12h3v1h-3zM86 13h1v1h-1zM61 15h1v1h-1zM59 18h1v1h-1zM65 18h1v1h-1zM56 21h1v1h-1zM47 23h1v1h-1zM65 23h1v1h-1zM60 27h1v1h-1zM66 27h1v1h-1zM55 29h1v1h-1zM60 31h1v1h-1zM62 34h1v1h-1zM59 35h1v1h-1zM48 37h1v1h-1zM79 37h1v1h-1zM58 38h1v1h-1zM41 39h1v1h-1zM53 40h1v1h-1zM56 40h1v1h-1zM57 42h1v1h-1zM55 43h1v1h-1zM43 45h1v1h-1zM47 45h1v1h-1zM52 45h2v1h-2zM49 46h1v1h-1zM51 47h1v1h-1zM53 47h1v1h-1zM54 48h1v1h-1zM51 50h1v1h-1zM53 52h1v1h-1z"/></g>
<path d="M211.9,36.1 211.8,33.7 213.2,31.8 211.6,31.1 212.6,29.1 210.5,27.1 209.9,24.5 207.2,22.5 207.8,19.9 210.5,18.6 213.7,17.2 217.0,16.2 219.1,14.6 222.4,11.7 224.5,10.9 228.9,13.3 231.7,13.9 237.5,13.8 243.0,13.5 244.6,12.5 247.3,13.9 251.6,14.9 256.5,15.7 261.4,15.9 266.8,14.9 271.1,15.7 275.4,16.2 278.7,15.7 283.0,17.0 286.5,17.0 288.6,16.2 290.6,17.9 292.8,19.9 297.1,21.2 300.4,23.2 304.7,23.8 307.9,25.2 312.3,25.2 315.5,23.2 318.8,24.5 323.6,26.5 326.9,27.8 329.6,29.1 335.0,28.7 340.4,28.5 342.3,28.7 343.9,30.2 342.1,31.8 342.6,34.4 340.4,37.0 338.3,38.8 335.0,41.0 331.8,42.3 327.4,44.6 323.1,46.0 319.9,46.9 317.7,49.6 317.1,51.6 314.4,53.5 311.7,57.5 309.0,60.1 306.9,62.8 304.7,67.4 305.2,71.4 307.9,74.7 310.4,77.3 307.9,79.3 304.7,81.3 302.5,83.2 300.9,87.2 299.8,91.2 300.4,92.5 297.1,92.7 293.9,93.1 290.1,95.8 287.9,99.1 286.3,102.4 284.2,104.1 281.4,102.6 278.7,104.6 275.4,103.8 270.0,104.1 264.6,103.7 260.1,104.1 257.0,107.0 253.8,108.1 250.5,111.0 248.9,112.9 247.3,113.6 244.0,111.0 241.9,109.0 239.7,106.3 238.6,103.0 235.4,99.7 232.1,97.8 227.8,98.0 227.3,93.8 226.7,92.5 229.4,87.9 232.1,86.5 231.0,84.6 228.9,81.3 230.5,78.0 232.1,74.7 231.0,72.7 228.9,68.7 226.7,65.4 232.1,65.2 233.2,62.1 233.8,57.5 234.3,56.2 233.8,52.9 234.3,49.6 233.2,47.6 236.5,45.0 239.7,42.3 240.8,39.7 237.5,38.8 237.0,35.1 233.2,35.1 230.0,35.7 225.6,36.4 222.4,36.1 220.2,37.0 219.1,33.1 215.3,33.7ZM333.4,66.7 335.6,64.8 338.3,62.8 341.5,61.5 342.6,62.8 341.5,64.1 345.3,64.5 344.2,68.1 341.5,70.7 339.9,69.4 337.7,67.4 335.6,68.1ZM349.3,60.8 352.3,59.7 354.5,62.4 352.3,62.8 349.6,62.1ZM320.9,74.7 323.1,72.7 325.3,73.3 324.7,75.6 322.6,76.0Z" fill="none" stroke="#4a5064" stroke-opacity="0.85" stroke-width="0.55" stroke-linejoin="round" shape-rendering="auto"/>
<path d="M231.7,13.9 232.7,16.6 233.8,19.2 233.8,22.5 232.7,24.5 233.8,27.8 232.1,30.4 231.6,33.1 233.2,35.1M233.8,19.2 237.5,21.2 243.0,21.2 248.4,20.5 253.8,19.2 256.5,19.2 258.7,17.2 259.2,15.7M256.5,19.2 259.2,20.5 261.9,22.5 264.6,23.8 267.3,23.2 270.6,20.5 273.3,19.2 273.8,16.3M273.3,19.2 274.9,21.2 275.4,24.5 277.6,26.5 280.9,27.1 283.6,25.8 282.5,23.2 285.2,21.9 286.3,18.6 288.4,16.4M283.6,25.8 286.3,28.5 288.4,32.4 290.6,35.1 293.3,33.7 294.9,29.8 297.1,25.8 299.8,22.9M275.4,24.5 274.4,25.8 274.9,29.1 276.5,32.4 279.8,34.4 284.1,35.1 287.4,34.4 288.4,32.4M287.4,34.4 287.4,39.7 286.3,43.6 285.7,45.6M285.7,45.6 280.9,45.0 275.4,44.3 271.1,45.6 266.8,48.3 263.0,50.9 260.8,54.2 258.7,57.5 253.8,58.8 248.4,58.2 243.0,56.8 238.6,56.8 233.8,57.5M271.1,45.6 273.3,48.3 274.9,52.9 274.4,58.2 271.7,60.8 267.9,62.1 264.1,60.1 260.8,57.5 258.7,57.5M253.8,58.8 250.0,62.1 253.8,67.4 251.6,72.0 254.3,75.3 253.8,77.3M253.8,77.3 250.5,79.9 247.3,83.9 244.0,85.9 239.7,87.2 235.4,85.9 231.0,86.5M253.8,77.3 259.2,79.9 264.6,81.9 270.0,82.6 275.4,81.3 280.3,82.6 281.4,85.9 284.1,87.9 286.3,90.5 287.9,94.5 290.1,95.6M281.4,85.9 282.5,83.2 286.3,81.3 289.5,79.9 293.9,78.6 296.6,79.9 297.1,83.9 297.7,87.2 299.8,89.2M296.6,79.9 296.6,76.0 292.8,73.3 291.7,69.4 294.9,65.4 291.7,60.8 293.3,58.8 298.2,60.8 301.4,59.5 304.7,56.8 308.5,52.9 311.2,51.6 313.6,53.9M285.7,45.6 286.8,48.3 289.0,50.9 290.6,54.9 289.5,56.8 291.2,58.8 293.3,58.8M315.5,23.2 315.5,27.8 314.4,31.8 311.7,35.1 311.7,39.7 311.2,43.6 310.1,47.6 311.2,51.6" fill="none" stroke="#5a5e62" stroke-opacity="0.7" stroke-width="0.45" stroke-linejoin="round" shape-rendering="auto"/>
</g>
<rect x="206.2" y="7.5" width="152.1" height="108.1" fill="none" stroke="#666" stroke-width="1" shape-rendering="auto"/>
<line x1="204.5" x2="206" y1="8.0" y2="8.0" stroke="#333" stroke-width="0.8"/>
<text transform="translate(203.50,10.50) scale(1.08,1)" font-size="7.3" text-anchor="end">44N</text>
<line x1="204.5" x2="206" y1="34.4" y2="34.4" stroke="#333" stroke-width="0.8"/>
<text transform="translate(203.50,36.90) scale(1.08,1)" font-size="7.3" text-anchor="end">42N</text>
<line x1="204.5" x2="206" y1="60.8" y2="60.8" stroke="#333" stroke-width="0.8"/>
<text transform="translate(203.50,63.30) scale(1.08,1)" font-size="7.3" text-anchor="end">40N</text>
<line x1="204.5" x2="206" y1="87.2" y2="87.2" stroke="#333" stroke-width="0.8"/>
<text transform="translate(203.50,89.70) scale(1.08,1)" font-size="7.3" text-anchor="end">38N</text>
<line x1="204.5" x2="206" y1="113.6" y2="113.6" stroke="#333" stroke-width="0.8"/>
<text transform="translate(203.50,116.10) scale(1.08,1)" font-size="7.3" text-anchor="end">36N</text>
<line x1="221.3" x2="221.3" y1="117" y2="118.2" stroke="#555" stroke-width="0.7"/>
<text transform="translate(221.30,125.80) scale(1.08,1)" font-size="7.3" text-anchor="middle">8W</text>
<line x1="243.0" x2="243.0" y1="117" y2="118.2" stroke="#555" stroke-width="0.7"/>
<text transform="translate(242.96,125.80) scale(1.08,1)" font-size="7.3" text-anchor="middle">6W</text>
<line x1="264.6" x2="264.6" y1="117" y2="118.2" stroke="#555" stroke-width="0.7"/>
<text transform="translate(264.62,125.80) scale(1.08,1)" font-size="7.3" text-anchor="middle">4W</text>
<line x1="286.3" x2="286.3" y1="117" y2="118.2" stroke="#555" stroke-width="0.7"/>
<text transform="translate(286.28,125.80) scale(1.08,1)" font-size="7.3" text-anchor="middle">2W</text>
<line x1="307.9" x2="307.9" y1="117" y2="118.2" stroke="#555" stroke-width="0.7"/>
<text transform="translate(307.94,125.80) scale(1.08,1)" font-size="7.3" text-anchor="middle">0</text>
<line x1="329.6" x2="329.6" y1="117" y2="118.2" stroke="#555" stroke-width="0.7"/>
<text transform="translate(329.60,125.80) scale(1.08,1)" font-size="7.3" text-anchor="middle">2E</text>
<line x1="351.3" x2="351.3" y1="117" y2="118.2" stroke="#555" stroke-width="0.7"/>
<text transform="translate(351.26,125.80) scale(1.08,1)" font-size="7.3" text-anchor="middle">4E</text>
<polygon points="206,132.0 213,129.5 351.6,129.5 359,132.0 351.6,134.5 213,134.5" fill="url(#cg)" stroke="#444" stroke-width="0.5" shape-rendering="auto"/>
<line x1="213.0" x2="213.0" y1="134.5" y2="136.0" stroke="#333" stroke-width="0.6"/>
<text transform="translate(213.00,143.30) scale(1.08,1)" font-size="7.3" text-anchor="middle">0</text>
<line x1="247.7" x2="247.7" y1="134.5" y2="136.0" stroke="#333" stroke-width="0.6"/>
<text transform="translate(247.65,143.30) scale(1.08,1)" font-size="7.3" text-anchor="middle">10</text>
<line x1="282.3" x2="282.3" y1="134.5" y2="136.0" stroke="#333" stroke-width="0.6"/>
<text transform="translate(282.30,143.30) scale(1.08,1)" font-size="7.3" text-anchor="middle">20</text>
<line x1="317.0" x2="317.0" y1="134.5" y2="136.0" stroke="#333" stroke-width="0.6"/>
<text transform="translate(316.95,143.30) scale(1.08,1)" font-size="7.3" text-anchor="middle">30</text>
<line x1="351.6" x2="351.6" y1="134.5" y2="136.0" stroke="#333" stroke-width="0.6"/>
<text transform="translate(351.60,143.30) scale(1.08,1)" font-size="7.3" text-anchor="middle">40</text>
<text transform="translate(282.30,153.20) scale(1.08,1)" font-size="7.3" text-anchor="middle">rel. False bias [%]</text>
<clipPath id="cp2"><rect x="392" y="8" width="152" height="108"/></clipPath><g clip-path="url(#cp2)">
<g transform="translate(387.89,6.68) scale(1.5162,1.8480)" shape-rendering="auto"><path fill="#fed97b" d="M13 2h1v1h-1zM21 3h1v1h-1zM24 3h1v1h-1zM28 3h1v1h-1zM17 4h1v1h-1zM20 4h1v1h-1zM22 4h1v1h-1zM28 4h1v1h-1zM5 7h1v1h-1zM12 7h1v1h-1zM20 7h1v1h-1zM27 7h1v1h-1zM34 7h1v1h-1zM51 7h1v1h-1zM10 8h1v1h-1zM12 8h1v1h-1zM14 8h1v1h-1zM17 8h1v1h-1zM25 8h1v1h-1zM34 8h1v1h-1zM55 8h1v1h-1zM8 9h1v1h-1zM11 9h2v1h-2zM30 9h1v1h-1zM6 10h1v1h-1zM11 10h1v1h-1zM14 10h1v1h-1zM10 11h1v1h-1zM21 11h1v1h-1zM11 12h1v1h-1zM16 12h1v1h-1zM18 12h1v1h-1zM30 12h1v1h-1zM90 12h1v1h-1zM92 12h1v1h-1zM13 13h1v1h-1zM17 13h1v1h-1zM49 13h1v1h-1zM16 14h1v1h-1zM21 14h2v1h-2zM85 14h1v1h-1zM16 15h1v1h-1zM78 15h1v1h-1zM80 15h1v1h-1zM80 16h1v1h-1zM47 17h1v1h-1zM78 18h1v1h-1zM78 19h1v1h-1zM78 20h1v1h-1zM38 21h1v1h-1zM25 23h1v1h-1zM31 23h1v1h-1zM28 25h1v1h-1zM70 25h1v1h-1zM20 26h1v1h-1zM69 26h1v1h-1zM21 27h1v1h-1zM37 27h1v1h-1zM23 30h1v1h-1zM18 31h1v1h-1zM30 31h1v1h-1zM89 31h1v1h-1zM26 32h1v1h-1zM67 32h1v1h-1zM28 33h1v1h-1zM20 34h1v1h-1zM66 34h1v1h-1zM18 35h1v1h-1zM22 35h1v1h-1zM32 36h1v1h-1zM69 36h1v1h-1zM24 37h1v1h-1zM69 37h1v1h-1zM78 37h1v1h-1zM26 39h1v1h-1zM29 39h1v1h-1zM17 41h1v1h-1zM29 41h1v1h-1zM54 41h1v1h-1zM59 41h1v1h-1zM61 42h1v1h-1zM27 44h1v1h-1zM16 45h1v1h-1zM26 47h1v1h-1zM17 48h1v1h-1zM26 48h3v1h-3zM38 48h1v1h-1zM17 49h1v1h-1zM22 49h1v1h-1zM52 50h1v1h-1zM32 51h1v1h-1zM26 52h1v1h-1zM25 53h1v1h-1zM35 54h1v1h-1zM27 55h1v1h-1zM30 55h2v1h-2zM29 56h1v1h-1z"/><path fill="#feea9f" d="M15 2h1v1h-1zM15 3h1v1h-1zM16 4h1v1h-1zM11 5h1v1h-1zM25 5h1v1h-1zM51 5h1v1h-1zM6 6h1v1h-1zM8 6h1v1h-1zM11 6h1v1h-1zM50 6h1v1h-1zM56 6h1v1h-1zM7 7h1v1h-1zM52 8h1v1h-1zM14 9h2v1h-2zM16 10h1v1h-1zM19 10h1v1h-1zM5 11h1v1h-1zM16 11h1v1h-1zM24 11h1v1h-1zM48 11h1v1h-1zM5 13h1v1h-1zM11 13h1v1h-1zM16 13h1v1h-1zM19 14h1v1h-1zM28 14h2v1h-2zM19 15h1v1h-1zM28 15h1v1h-1zM11 16h1v1h-1zM24 21h1v1h-1zM67 29h1v1h-1zM25 30h1v1h-1zM66 31h1v1h-1zM19 32h1v1h-1zM17 34h1v1h-1zM19 34h1v1h-1zM24 35h1v1h-1zM27 35h1v1h-1zM18 36h1v1h-1zM23 36h1v1h-1zM65 36h1v1h-1zM22 37h1v1h-1zM18 38h1v1h-1zM29 38h1v1h-1zM20 40h1v1h-1zM37 42h1v1h-1zM46 42h1v1h-1zM16 46h1v1h-1zM23 49h1v1h-1zM54 50h1v1h-1zM27 56h1v1h-1z"/><path fill="#fff0ae" d="M12 3h1v1h-1zM14 3h1v1h-1zM16 3h1v1h-1zM21 4h1v1h-1zM25 4h1v1h-1zM10 5h1v1h-1zM37 5h1v1h-1zM55 5h1v1h-1zM4 6h1v1h-1zM22 6h1v1h-1zM9 7h1v1h-1zM13 7h1v1h-1zM17 7h1v1h-1zM55 7h1v1h-1zM59 7h1v1h-1zM3 8h1v1h-1zM6 8h1v1h-1zM15 8h1v1h-1zM21 8h1v1h-1zM29 8h1v1h-1zM61 8h1v1h-1zM21 9h1v1h-1zM7 11h1v1h-1zM15 13h1v1h-1zM13 14h2v1h-2zM91 14h1v1h-1zM5 15h1v1h-1zM80 19h1v1h-1zM45 26h1v1h-1zM22 27h1v1h-1zM62 30h1v1h-1zM18 32h1v1h-1zM57 34h1v1h-1zM34 39h1v1h-1zM19 41h1v1h-1zM63 42h1v1h-1zM28 44h1v1h-1zM23 47h1v1h-1zM19 48h1v1h-1z"/><path fill="#fff7bc" d="M13 3h1v1h-1zM18 3h1v1h-1zM12 4h1v1h-1zM18 4h1v1h-1zM27 4h1v1h-1zM22 5h1v1h-1zM16 6h1v1h-1zM10 7h1v1h-1zM23 7h1v1h-1zM56 7h1v1h-1zM9 8h1v1h-1zM17 10h1v1h-1zM12 11h1v1h-1zM18 11h1v1h-1zM20 11h1v1h-1zM6 12h1v1h-1zM9 12h1v1h-1zM8 13h1v1h-1zM11 15h1v1h-1zM87 18h1v1h-1zM82 19h1v1h-1zM24 20h1v1h-1zM21 24h1v1h-1zM19 36h1v1h-1zM45 41h1v1h-1zM35 42h1v1h-1z"/><path fill="#ffffe5" d="M17 3h1v1h-1zM7 6h1v1h-1zM19 6h1v1h-1zM15 7h1v1h-1zM18 7h1v1h-1zM22 8h1v1h-1zM10 10h1v1h-1z"/><path fill="#fffaca" d="M22 3h1v1h-1zM15 4h1v1h-1zM19 4h1v1h-1zM15 5h1v1h-1zM17 5h1v1h-1zM15 6h1v1h-1zM6 7h1v1h-1zM19 8h1v1h-1zM24 8h1v1h-1zM16 9h1v1h-1zM8 10h2v1h-2zM15 11h1v1h-1zM8 12h1v1h-1zM15 12h1v1h-1zM24 13h1v1h-1zM7 14h1v1h-1zM22 21h1v1h-1zM23 33h1v1h-1zM67 39h1v1h-1zM42 47h1v1h-1z"/><path fill="#fe9929" d="M23 3h1v1h-1zM27 3h1v1h-1zM30 4h1v1h-1zM36 4h1v1h-1zM42 4h1v1h-1zM44 5h1v1h-1zM46 5h1v1h-1zM21 6h1v1h-1zM51 6h1v1h-1zM21 7h1v1h-1zM42 7h1v1h-1zM45 7h1v1h-1zM50 7h1v1h-1zM20 8h1v1h-1zM31 8h1v1h-1zM46 8h1v1h-1zM54 8h1v1h-1zM27 9h2v1h-2zM38 9h1v1h-1zM48 9h2v1h-2zM12 10h1v1h-1zM26 10h1v1h-1zM30 10h1v1h-1zM38 10h1v1h-1zM29 11h1v1h-1zM54 11h1v1h-1zM60 11h1v1h-1zM88 11h1v1h-1zM28 12h1v1h-1zM31 12h1v1h-1zM55 12h1v1h-1zM86 12h1v1h-1zM89 12h1v1h-1zM29 13h1v1h-1zM48 13h1v1h-1zM51 13h1v1h-1zM62 13h1v1h-1zM86 13h1v1h-1zM12 14h1v1h-1zM23 14h2v1h-2zM65 14h1v1h-1zM86 14h1v1h-1zM32 15h1v1h-1zM53 15h1v1h-1zM66 15h1v1h-1zM74 15h1v1h-1zM87 15h1v1h-1zM39 16h1v1h-1zM33 17h1v1h-1zM49 17h1v1h-1zM68 17h1v1h-1zM30 18h1v1h-1zM32 18h1v1h-1zM39 18h1v1h-1zM45 18h1v1h-1zM25 19h1v1h-1zM32 19h1v1h-1zM44 20h1v1h-1zM50 20h1v1h-1zM52 20h1v1h-1zM64 20h1v1h-1zM79 20h1v1h-1zM29 21h1v1h-1zM40 21h1v1h-1zM48 21h1v1h-1zM75 21h1v1h-1zM34 22h1v1h-1zM64 22h1v1h-1zM29 23h1v1h-1zM32 23h1v1h-1zM39 23h1v1h-1zM64 23h1v1h-1zM69 23h2v1h-2zM26 24h2v1h-2zM72 24h1v1h-1zM37 25h1v1h-1zM22 26h1v1h-1zM44 26h1v1h-1zM48 26h1v1h-1zM52 27h1v1h-1zM42 28h1v1h-1zM28 29h1v1h-1zM30 29h1v1h-1zM34 29h1v1h-1zM64 29h1v1h-1zM91 29h1v1h-1zM30 30h1v1h-1zM32 30h1v1h-1zM37 30h1v1h-1zM42 30h2v1h-2zM50 30h1v1h-1zM53 30h1v1h-1zM60 30h1v1h-1zM65 30h1v1h-1zM38 31h1v1h-1zM50 31h1v1h-1zM52 31h1v1h-1zM55 31h1v1h-1zM92 31h1v1h-1zM16 32h1v1h-1zM21 32h1v1h-1zM31 32h1v1h-1zM33 32h1v1h-1zM36 32h1v1h-1zM66 32h1v1h-1zM89 32h1v1h-1zM92 32h1v1h-1zM27 33h1v1h-1zM35 33h1v1h-1zM38 33h1v1h-1zM48 33h1v1h-1zM89 33h1v1h-1zM93 33h1v1h-1zM46 34h1v1h-1zM53 34h1v1h-1zM65 34h1v1h-1zM90 34h1v1h-1zM34 35h1v1h-1zM37 35h1v1h-1zM40 35h1v1h-1zM42 35h1v1h-1zM46 35h1v1h-1zM55 35h1v1h-1zM80 35h1v1h-1zM21 36h1v1h-1zM25 36h1v1h-1zM29 36h1v1h-1zM44 36h1v1h-1zM79 36h1v1h-1zM28 37h1v1h-1zM31 37h1v1h-1zM41 37h1v1h-1zM46 37h1v1h-1zM37 38h1v1h-1zM46 38h1v1h-1zM55 38h1v1h-1zM18 39h1v1h-1zM24 39h1v1h-1zM38 39h2v1h-2zM65 39h1v1h-1zM25 40h1v1h-1zM27 40h2v1h-2zM34 40h1v1h-1zM44 40h1v1h-1zM48 40h1v1h-1zM28 41h1v1h-1zM44 41h1v1h-1zM48 41h1v1h-1zM22 42h1v1h-1zM28 42h1v1h-1zM40 42h1v1h-1zM47 42h2v1h-2zM53 42h1v1h-1zM58 42h2v1h-2zM36 43h1v1h-1zM42 43h1v1h-1zM63 43h1v1h-1zM24 44h1v1h-1zM29 44h2v1h-2zM51 44h1v1h-1zM64 44h1v1h-1zM33 45h1v1h-1zM40 45h2v1h-2zM57 45h1v1h-1zM63 45h1v1h-1zM47 46h1v1h-1zM57 46h1v1h-1zM18 47h1v1h-1zM31 47h1v1h-1zM41 48h1v1h-1zM49 48h2v1h-2zM26 49h1v1h-1zM29 49h1v1h-1zM46 49h1v1h-1zM53 49h2v1h-2zM22 50h1v1h-1zM24 50h1v1h-1zM31 50h1v1h-1zM24 51h1v1h-1zM33 51h1v1h-1zM24 52h1v1h-1zM34 52h1v1h-1zM41 52h1v1h-1zM26 53h1v1h-1zM24 54h1v1h-1zM26 54h1v1h-1zM28 54h1v1h-1z"/><path fill="#fece65" d="M25 3h1v1h-1zM30 5h1v1h-1zM43 5h1v1h-1zM52 5h1v1h-1zM13 6h1v1h-1zM30 6h1v1h-1zM34 6h1v1h-1zM49 6h1v1h-1zM58 6h1v1h-1zM26 7h1v1h-1zM33 7h1v1h-1zM58 7h1v1h-1zM8 8h1v1h-1zM13 8h1v1h-1zM16 8h1v1h-1zM27 8h1v1h-1zM7 9h1v1h-1zM22 9h1v1h-1zM54 9h1v1h-1zM4 10h1v1h-1zM15 10h1v1h-1zM6 11h1v1h-1zM9 11h1v1h-1zM42 11h1v1h-1zM44 11h1v1h-1zM87 11h1v1h-1zM10 12h1v1h-1zM48 12h1v1h-1zM87 12h1v1h-1zM19 13h1v1h-1zM25 13h1v1h-1zM50 13h1v1h-1zM89 13h1v1h-1zM9 14h1v1h-1zM18 14h1v1h-1zM20 14h1v1h-1zM75 14h3v1h-3zM82 14h1v1h-1zM13 15h1v1h-1zM15 15h1v1h-1zM20 15h1v1h-1zM22 15h1v1h-1zM31 15h1v1h-1zM35 16h1v1h-1zM78 16h1v1h-1zM81 16h1v1h-1zM83 16h1v1h-1zM89 16h1v1h-1zM71 17h1v1h-1zM81 18h1v1h-1zM79 19h1v1h-1zM27 20h1v1h-1zM76 20h1v1h-1zM73 21h1v1h-1zM24 22h1v1h-1zM45 23h1v1h-1zM23 24h1v1h-1zM39 25h1v1h-1zM23 26h1v1h-1zM28 26h1v1h-1zM20 27h1v1h-1zM48 27h2v1h-2zM71 27h1v1h-1zM38 29h1v1h-1zM41 29h1v1h-1zM52 29h1v1h-1zM68 29h1v1h-1zM90 29h1v1h-1zM96 29h2v1h-2zM24 30h1v1h-1zM28 30h1v1h-1zM36 30h1v1h-1zM40 30h1v1h-1zM67 30h2v1h-2zM91 30h1v1h-1zM24 31h1v1h-1zM24 32h1v1h-1zM87 32h1v1h-1zM91 32h1v1h-1zM21 33h1v1h-1zM42 33h1v1h-1zM52 33h2v1h-2zM18 34h1v1h-1zM25 34h1v1h-1zM19 35h1v1h-1zM23 35h1v1h-1zM65 35h1v1h-1zM36 36h1v1h-1zM26 37h1v1h-1zM42 37h1v1h-1zM48 37h1v1h-1zM30 38h1v1h-1zM32 39h1v1h-1zM41 39h1v1h-1zM49 39h1v1h-1zM59 39h1v1h-1zM18 41h1v1h-1zM24 41h1v1h-1zM51 41h1v1h-1zM64 41h1v1h-1zM23 43h1v1h-1zM39 43h1v1h-1zM17 44h1v1h-1zM35 44h1v1h-1zM37 44h1v1h-1zM40 44h1v1h-1zM17 45h1v1h-1zM29 45h1v1h-1zM35 45h1v1h-1zM38 45h1v1h-1zM40 46h1v1h-1zM29 48h1v1h-1zM44 48h1v1h-1zM25 49h1v1h-1zM28 50h1v1h-1zM30 50h1v1h-1zM23 51h1v1h-1zM53 51h1v1h-1zM35 52h2v1h-2zM35 53h1v1h-1zM27 54h1v1h-1z"/><path fill="#fec44f" d="M29 3h1v1h-1zM13 4h1v1h-1zM29 4h1v1h-1zM31 5h1v1h-1zM53 5h1v1h-1zM56 5h1v1h-1zM9 6h1v1h-1zM27 6h1v1h-1zM31 6h1v1h-1zM54 6h1v1h-1zM24 7h1v1h-1zM28 7h1v1h-1zM48 7h1v1h-1zM57 7h1v1h-1zM36 8h1v1h-1zM59 8h1v1h-1zM47 9h1v1h-1zM23 10h1v1h-1zM34 10h1v1h-1zM49 10h1v1h-1zM54 10h1v1h-1zM22 11h1v1h-1zM35 11h1v1h-1zM50 11h1v1h-1zM7 12h1v1h-1zM19 12h1v1h-1zM47 12h1v1h-1zM31 13h1v1h-1zM44 13h1v1h-1zM75 13h1v1h-1zM82 13h1v1h-1zM91 13h1v1h-1zM10 14h1v1h-1zM17 14h1v1h-1zM27 14h1v1h-1zM87 14h2v1h-2zM21 15h1v1h-1zM47 15h1v1h-1zM64 15h1v1h-1zM82 15h1v1h-1zM88 15h1v1h-1zM22 16h1v1h-1zM82 16h1v1h-1zM23 17h1v1h-1zM28 17h1v1h-1zM42 17h1v1h-1zM26 18h1v1h-1zM79 18h1v1h-1zM86 18h1v1h-1zM83 19h1v1h-1zM41 20h1v1h-1zM68 20h1v1h-1zM20 22h1v1h-1zM49 22h1v1h-1zM72 22h1v1h-1zM74 22h1v1h-1zM22 23h1v1h-1zM72 23h2v1h-2zM20 24h1v1h-1zM22 24h1v1h-1zM39 24h1v1h-1zM42 24h1v1h-1zM21 25h1v1h-1zM71 26h1v1h-1zM25 27h1v1h-1zM65 27h1v1h-1zM67 27h1v1h-1zM21 28h1v1h-1zM23 28h1v1h-1zM25 28h1v1h-1zM34 28h1v1h-1zM64 28h1v1h-1zM68 28h1v1h-1zM33 29h1v1h-1zM39 29h1v1h-1zM20 30h2v1h-2zM33 30h1v1h-1zM38 30h1v1h-1zM64 30h1v1h-1zM66 30h1v1h-1zM89 30h1v1h-1zM19 31h1v1h-1zM21 31h1v1h-1zM26 31h1v1h-1zM31 31h2v1h-2zM87 31h2v1h-2zM90 31h1v1h-1zM17 32h1v1h-1zM37 32h1v1h-1zM41 32h1v1h-1zM17 33h1v1h-1zM20 33h1v1h-1zM25 33h1v1h-1zM87 33h1v1h-1zM91 33h1v1h-1zM36 34h1v1h-1zM42 34h1v1h-1zM56 34h1v1h-1zM61 34h1v1h-1zM91 34h1v1h-1zM44 35h1v1h-1zM51 35h1v1h-1zM60 36h1v1h-1zM80 36h1v1h-1zM20 37h1v1h-1zM29 37h1v1h-1zM37 37h1v1h-1zM36 38h1v1h-1zM41 38h1v1h-1zM33 39h1v1h-1zM48 39h1v1h-1zM56 39h1v1h-1zM61 39h1v1h-1zM68 39h1v1h-1zM24 40h1v1h-1zM30 40h1v1h-1zM45 40h1v1h-1zM23 41h1v1h-1zM37 41h1v1h-1zM40 41h1v1h-1zM56 41h1v1h-1zM65 41h1v1h-1zM18 42h2v1h-2zM21 42h1v1h-1zM21 43h1v1h-1zM32 43h1v1h-1zM59 43h1v1h-1zM32 44h1v1h-1zM61 44h1v1h-1zM27 46h1v1h-1zM34 46h1v1h-1zM43 46h1v1h-1zM35 47h1v1h-1zM44 47h1v1h-1zM38 50h1v1h-1zM30 51h2v1h-2zM45 51h1v1h-1zM28 52h1v1h-1zM30 52h1v1h-1zM37 52h1v1h-1zM29 55h1v1h-1zM32 55h1v1h-1zM28 57h1v1h-1z"/><path fill="#fffcd7" d="M10 4h1v1h-1zM20 5h1v1h-1zM14 7h1v1h-1zM52 7h1v1h-1zM11 8h1v1h-1zM18 8h1v1h-1zM5 10h1v1h-1zM7 10h1v1h-1zM13 12h1v1h-1zM12 15h1v1h-1zM47 27h1v1h-1z"/><path fill="#fee391" d="M11 4h1v1h-1zM9 5h1v1h-1zM12 5h1v1h-1zM19 5h1v1h-1zM23 5h1v1h-1zM17 6h1v1h-1zM23 6h2v1h-2zM32 6h1v1h-1zM54 7h1v1h-1zM18 9h1v1h-1zM23 9h1v1h-1zM18 10h1v1h-1zM22 10h1v1h-1zM24 10h2v1h-2zM13 11h1v1h-1zM19 11h1v1h-1zM17 12h1v1h-1zM21 12h1v1h-1zM12 13h1v1h-1zM18 13h1v1h-1zM20 13h1v1h-1zM37 13h1v1h-1zM8 14h1v1h-1zM15 14h1v1h-1zM6 15h1v1h-1zM17 15h1v1h-1zM27 15h1v1h-1zM46 15h1v1h-1zM91 15h1v1h-1zM14 16h1v1h-1zM84 16h1v1h-1zM79 17h1v1h-1zM41 19h1v1h-1zM84 19h1v1h-1zM22 20h1v1h-1zM72 20h1v1h-1zM80 20h1v1h-1zM21 21h1v1h-1zM42 22h1v1h-1zM50 22h1v1h-1zM26 23h1v1h-1zM47 23h1v1h-1zM22 25h1v1h-1zM32 27h1v1h-1zM20 29h1v1h-1zM22 31h1v1h-1zM24 34h1v1h-1zM69 38h1v1h-1zM52 39h1v1h-1zM20 41h1v1h-1zM27 42h1v1h-1zM30 42h1v1h-1zM20 43h1v1h-1zM36 44h1v1h-1zM41 44h1v1h-1zM33 46h1v1h-1zM30 47h1v1h-1zM41 47h1v1h-1zM42 48h1v1h-1zM20 49h1v1h-1zM25 51h1v1h-1zM25 55h1v1h-1z"/><path fill="#feb642" d="M14 4h1v1h-1zM33 4h1v1h-1zM43 4h1v1h-1zM7 5h1v1h-1zM21 5h1v1h-1zM26 5h1v1h-1zM41 6h1v1h-1zM48 6h1v1h-1zM53 6h1v1h-1zM55 6h1v1h-1zM4 7h1v1h-1zM8 7h1v1h-1zM11 7h1v1h-1zM60 7h1v1h-1zM48 8h1v1h-1zM36 9h1v1h-1zM46 9h1v1h-1zM62 9h1v1h-1zM36 10h1v1h-1zM67 10h1v1h-1zM28 11h1v1h-1zM51 11h1v1h-1zM90 11h2v1h-2zM41 12h1v1h-1zM78 12h1v1h-1zM85 12h1v1h-1zM22 13h1v1h-1zM81 14h1v1h-1zM41 15h2v1h-2zM79 15h1v1h-1zM26 16h1v1h-1zM41 16h1v1h-1zM46 16h1v1h-1zM69 16h1v1h-1zM79 16h1v1h-1zM69 17h1v1h-1zM31 18h1v1h-1zM34 18h1v1h-1zM36 18h1v1h-1zM44 18h1v1h-1zM68 18h1v1h-1zM70 18h1v1h-1zM77 18h1v1h-1zM80 18h1v1h-1zM82 18h3v1h-3zM30 19h1v1h-1zM34 19h1v1h-1zM43 19h1v1h-1zM70 19h1v1h-1zM73 19h1v1h-1zM76 19h1v1h-1zM49 20h1v1h-1zM75 20h1v1h-1zM82 20h1v1h-1zM41 21h1v1h-1zM47 21h1v1h-1zM21 22h1v1h-1zM36 22h1v1h-1zM65 22h1v1h-1zM70 22h2v1h-2zM20 23h1v1h-1zM52 23h1v1h-1zM75 23h1v1h-1zM28 24h1v1h-1zM32 25h1v1h-1zM35 25h1v1h-1zM41 25h1v1h-1zM49 25h1v1h-1zM51 26h2v1h-2zM35 27h1v1h-1zM47 28h1v1h-1zM53 28h1v1h-1zM97 28h1v1h-1zM29 29h1v1h-1zM26 30h1v1h-1zM29 30h1v1h-1zM35 30h1v1h-1zM73 30h1v1h-1zM17 31h1v1h-1zM53 31h1v1h-1zM91 31h1v1h-1zM86 32h1v1h-1zM93 32h1v1h-1zM16 33h1v1h-1zM19 33h1v1h-1zM34 33h1v1h-1zM36 33h1v1h-1zM64 33h1v1h-1zM67 33h1v1h-1zM92 33h1v1h-1zM22 34h2v1h-2zM37 34h1v1h-1zM67 34h1v1h-1zM20 35h1v1h-1zM31 35h1v1h-1zM39 35h1v1h-1zM41 35h1v1h-1zM20 36h1v1h-1zM22 36h1v1h-1zM30 36h1v1h-1zM56 36h1v1h-1zM33 37h1v1h-1zM53 37h1v1h-1zM79 37h1v1h-1zM23 38h2v1h-2zM34 38h2v1h-2zM38 38h2v1h-2zM43 38h1v1h-1zM58 38h1v1h-1zM65 38h1v1h-1zM33 40h1v1h-1zM37 40h1v1h-1zM43 40h1v1h-1zM52 40h1v1h-1zM57 40h1v1h-1zM26 41h1v1h-1zM50 41h1v1h-1zM63 41h1v1h-1zM27 43h1v1h-1zM58 43h1v1h-1zM60 43h1v1h-1zM34 44h1v1h-1zM43 44h1v1h-1zM62 44h1v1h-1zM30 45h1v1h-1zM62 45h1v1h-1zM29 46h1v1h-1zM44 46h1v1h-1zM24 47h1v1h-1zM38 47h1v1h-1zM24 48h1v1h-1zM32 49h1v1h-1zM40 49h1v1h-1zM51 49h1v1h-1zM47 50h1v1h-1zM36 51h1v1h-1zM29 52h1v1h-1zM33 52h1v1h-1zM23 53h1v1h-1zM36 53h1v1h-1zM25 54h1v1h-1zM32 54h1v1h-1zM34 54h1v1h-1zM29 57h1v1h-1z"/><path fill="#fea736" d="M23 4h1v1h-1zM32 4h1v1h-1zM27 5h1v1h-1zM48 5h1v1h-1zM50 5h1v1h-1zM33 6h1v1h-1zM36 6h1v1h-1zM47 6h1v1h-1zM52 6h1v1h-1zM31 7h2v1h-2zM35 7h1v1h-1zM61 7h1v1h-1zM28 8h1v1h-1zM58 8h1v1h-1zM62 8h2v1h-2zM5 9h2v1h-2zM20 9h1v1h-1zM33 9h1v1h-1zM57 9h1v1h-1zM45 10h1v1h-1zM30 11h1v1h-1zM40 11h1v1h-1zM57 11h1v1h-1zM82 11h1v1h-1zM12 12h1v1h-1zM7 13h1v1h-1zM21 13h1v1h-1zM26 13h1v1h-1zM47 13h1v1h-1zM74 13h1v1h-1zM77 13h1v1h-1zM90 13h1v1h-1zM26 14h1v1h-1zM37 14h1v1h-1zM47 14h1v1h-1zM51 14h1v1h-1zM80 14h1v1h-1zM89 14h1v1h-1zM92 14h1v1h-1zM18 15h1v1h-1zM65 15h1v1h-1zM77 15h1v1h-1zM81 15h1v1h-1zM28 16h1v1h-1zM49 16h1v1h-1zM68 16h1v1h-1zM76 16h1v1h-1zM85 16h1v1h-1zM26 17h2v1h-2zM44 17h1v1h-1zM66 17h1v1h-1zM70 17h1v1h-1zM75 17h1v1h-1zM84 17h5v1h-5zM41 18h2v1h-2zM47 18h2v1h-2zM72 18h1v1h-1zM85 18h1v1h-1zM31 19h1v1h-1zM42 19h1v1h-1zM44 19h1v1h-1zM63 19h1v1h-1zM23 20h1v1h-1zM28 20h1v1h-1zM69 20h1v1h-1zM71 20h1v1h-1zM28 21h1v1h-1zM78 21h1v1h-1zM28 22h1v1h-1zM38 22h1v1h-1zM48 22h1v1h-1zM53 22h1v1h-1zM44 23h1v1h-1zM48 23h1v1h-1zM24 24h1v1h-1zM53 24h1v1h-1zM74 24h1v1h-1zM25 25h3v1h-3zM43 26h1v1h-1zM27 27h1v1h-1zM33 27h1v1h-1zM54 27h1v1h-1zM24 28h1v1h-1zM32 28h1v1h-1zM25 29h3v1h-3zM98 29h1v1h-1zM23 31h1v1h-1zM28 31h1v1h-1zM34 31h1v1h-1zM48 31h1v1h-1zM93 31h1v1h-1zM22 32h1v1h-1zM54 32h1v1h-1zM65 32h1v1h-1zM90 32h1v1h-1zM37 33h1v1h-1zM39 33h1v1h-1zM51 33h1v1h-1zM66 33h1v1h-1zM32 34h1v1h-1zM34 34h1v1h-1zM26 35h1v1h-1zM33 35h1v1h-1zM35 35h2v1h-2zM64 35h1v1h-1zM45 36h1v1h-1zM55 36h1v1h-1zM66 36h1v1h-1zM21 37h1v1h-1zM34 37h1v1h-1zM50 37h1v1h-1zM70 37h1v1h-1zM25 38h1v1h-1zM52 38h1v1h-1zM59 38h1v1h-1zM19 39h1v1h-1zM21 39h3v1h-3zM51 39h1v1h-1zM17 40h2v1h-2zM22 40h1v1h-1zM26 40h1v1h-1zM66 40h1v1h-1zM35 41h2v1h-2zM60 41h1v1h-1zM31 42h1v1h-1zM33 42h1v1h-1zM41 42h1v1h-1zM44 42h1v1h-1zM64 42h1v1h-1zM26 44h1v1h-1zM57 44h1v1h-1zM21 45h1v1h-1zM25 45h1v1h-1zM43 45h1v1h-1zM45 45h1v1h-1zM30 46h1v1h-1zM36 46h1v1h-1zM19 47h1v1h-1zM32 47h1v1h-1zM34 47h1v1h-1zM37 47h1v1h-1zM43 47h1v1h-1zM16 48h1v1h-1zM32 48h1v1h-1zM35 48h1v1h-1zM54 48h1v1h-1zM28 49h1v1h-1zM30 49h2v1h-2zM38 49h1v1h-1zM40 50h1v1h-1zM43 50h1v1h-1zM41 51h1v1h-1zM50 51h1v1h-1zM25 52h1v1h-1zM32 52h1v1h-1zM27 53h1v1h-1zM34 53h1v1h-1zM31 54h1v1h-1zM26 56h1v1h-1z"/><path fill="#f88b22" d="M24 4h1v1h-1zM31 4h1v1h-1zM28 5h1v1h-1zM37 6h1v1h-1zM46 6h1v1h-1zM57 6h1v1h-1zM25 7h1v1h-1zM47 7h1v1h-1zM23 8h1v1h-1zM26 8h1v1h-1zM34 9h1v1h-1zM60 9h1v1h-1zM27 10h1v1h-1zM50 10h1v1h-1zM27 11h1v1h-1zM37 11h1v1h-1zM47 11h1v1h-1zM55 11h1v1h-1zM59 11h1v1h-1zM63 11h1v1h-1zM83 11h1v1h-1zM89 11h1v1h-1zM22 12h1v1h-1zM24 12h1v1h-1zM26 12h1v1h-1zM61 12h1v1h-1zM71 12h1v1h-1zM74 12h1v1h-1zM91 12h1v1h-1zM27 13h2v1h-2zM36 13h1v1h-1zM40 13h1v1h-1zM42 13h1v1h-1zM73 13h1v1h-1zM88 13h1v1h-1zM44 14h1v1h-1zM52 14h1v1h-1zM44 15h1v1h-1zM85 15h1v1h-1zM24 16h2v1h-2zM29 16h1v1h-1zM34 16h1v1h-1zM37 16h1v1h-1zM50 16h1v1h-1zM64 16h1v1h-1zM70 16h1v1h-1zM74 16h1v1h-1zM88 16h1v1h-1zM43 17h1v1h-1zM45 17h1v1h-1zM62 17h1v1h-1zM25 18h1v1h-1zM28 18h1v1h-1zM49 18h1v1h-1zM75 18h1v1h-1zM53 19h1v1h-1zM62 19h1v1h-1zM69 19h1v1h-1zM29 20h3v1h-3zM42 20h1v1h-1zM45 20h1v1h-1zM30 21h1v1h-1zM44 21h1v1h-1zM49 21h1v1h-1zM22 22h1v1h-1zM27 22h1v1h-1zM30 22h1v1h-1zM47 22h1v1h-1zM66 22h2v1h-2zM24 23h1v1h-1zM37 23h1v1h-1zM68 23h1v1h-1zM71 23h1v1h-1zM25 24h1v1h-1zM36 24h1v1h-1zM44 24h1v1h-1zM73 24h1v1h-1zM23 25h2v1h-2zM53 25h1v1h-1zM66 25h1v1h-1zM34 26h1v1h-1zM40 26h2v1h-2zM23 27h1v1h-1zM40 27h1v1h-1zM44 27h1v1h-1zM53 27h1v1h-1zM31 28h1v1h-1zM65 28h1v1h-1zM24 29h1v1h-1zM36 29h1v1h-1zM54 29h1v1h-1zM62 29h1v1h-1zM73 29h1v1h-1zM99 29h1v1h-1zM27 30h1v1h-1zM31 30h1v1h-1zM46 30h1v1h-1zM25 31h1v1h-1zM35 31h1v1h-1zM86 31h1v1h-1zM40 32h1v1h-1zM43 32h2v1h-2zM55 32h1v1h-1zM33 33h1v1h-1zM43 33h1v1h-1zM54 33h1v1h-1zM63 33h1v1h-1zM27 34h1v1h-1zM29 34h1v1h-1zM49 34h1v1h-1zM62 34h1v1h-1zM92 34h1v1h-1zM21 35h1v1h-1zM29 35h1v1h-1zM56 35h1v1h-1zM63 35h1v1h-1zM79 35h1v1h-1zM27 36h1v1h-1zM33 36h1v1h-1zM37 36h1v1h-1zM46 36h1v1h-1zM61 36h3v1h-3zM56 37h2v1h-2zM19 38h1v1h-1zM40 38h1v1h-1zM44 38h1v1h-1zM53 38h1v1h-1zM60 38h1v1h-1zM35 39h1v1h-1zM46 39h1v1h-1zM54 39h1v1h-1zM57 39h1v1h-1zM40 40h1v1h-1zM49 40h1v1h-1zM60 40h1v1h-1zM64 40h1v1h-1zM32 41h1v1h-1zM47 41h1v1h-1zM58 41h1v1h-1zM61 41h1v1h-1zM20 42h1v1h-1zM39 42h1v1h-1zM22 43h1v1h-1zM28 43h2v1h-2zM33 43h1v1h-1zM38 43h1v1h-1zM43 43h3v1h-3zM54 43h1v1h-1zM18 44h1v1h-1zM21 44h2v1h-2zM25 44h1v1h-1zM47 44h1v1h-1zM23 45h1v1h-1zM61 45h1v1h-1zM20 46h2v1h-2zM31 46h1v1h-1zM53 46h1v1h-1zM62 46h1v1h-1zM28 47h1v1h-1zM33 47h1v1h-1zM48 47h1v1h-1zM54 47h1v1h-1zM34 48h1v1h-1zM45 48h1v1h-1zM47 48h1v1h-1zM56 48h1v1h-1zM16 49h1v1h-1zM18 49h2v1h-2zM49 49h1v1h-1zM21 50h1v1h-1zM23 50h1v1h-1zM29 50h1v1h-1zM32 50h1v1h-1zM27 52h1v1h-1zM28 56h1v1h-1zM30 56h1v1h-1z"/><path fill="#ec7014" d="M26 4h1v1h-1zM35 4h1v1h-1zM41 4h1v1h-1zM29 5h1v1h-1zM42 5h1v1h-1zM45 6h1v1h-1zM41 7h1v1h-1zM62 7h1v1h-1zM45 8h1v1h-1zM47 8h1v1h-1zM56 8h1v1h-1zM39 9h1v1h-1zM43 9h1v1h-1zM59 9h1v1h-1zM68 9h1v1h-1zM47 10h1v1h-1zM62 10h2v1h-2zM74 10h1v1h-1zM79 10h1v1h-1zM33 11h1v1h-1zM38 11h1v1h-1zM46 11h1v1h-1zM52 11h1v1h-1zM61 11h1v1h-1zM65 11h1v1h-1zM74 11h1v1h-1zM38 12h1v1h-1zM51 12h2v1h-2zM66 12h1v1h-1zM68 12h1v1h-1zM36 14h1v1h-1zM54 14h1v1h-1zM68 14h1v1h-1zM70 14h1v1h-1zM83 14h1v1h-1zM34 15h1v1h-1zM75 15h1v1h-1zM36 16h1v1h-1zM43 16h1v1h-1zM45 16h1v1h-1zM62 16h1v1h-1zM75 16h1v1h-1zM87 16h1v1h-1zM39 17h1v1h-1zM46 17h1v1h-1zM67 17h1v1h-1zM72 17h1v1h-1zM37 18h1v1h-1zM28 19h1v1h-1zM33 19h1v1h-1zM38 19h2v1h-2zM47 19h1v1h-1zM50 19h1v1h-1zM61 19h1v1h-1zM65 19h1v1h-1zM67 19h1v1h-1zM75 19h1v1h-1zM59 20h1v1h-1zM27 21h1v1h-1zM31 21h1v1h-1zM43 21h1v1h-1zM45 21h1v1h-1zM39 22h1v1h-1zM38 23h1v1h-1zM42 23h1v1h-1zM50 23h1v1h-1zM63 23h1v1h-1zM37 24h1v1h-1zM62 24h1v1h-1zM33 25h1v1h-1zM43 25h2v1h-2zM47 25h1v1h-1zM63 25h1v1h-1zM69 25h1v1h-1zM72 25h1v1h-1zM35 26h1v1h-1zM46 26h1v1h-1zM68 26h1v1h-1zM28 27h1v1h-1zM30 27h1v1h-1zM66 27h1v1h-1zM39 28h1v1h-1zM46 28h1v1h-1zM55 28h1v1h-1zM59 28h1v1h-1zM61 28h1v1h-1zM70 28h1v1h-1zM22 30h1v1h-1zM55 30h1v1h-1zM88 30h1v1h-1zM98 30h2v1h-2zM16 31h1v1h-1zM29 31h1v1h-1zM36 31h1v1h-1zM44 31h2v1h-2zM47 31h1v1h-1zM65 33h1v1h-1zM28 34h1v1h-1zM31 34h1v1h-1zM50 34h1v1h-1zM59 34h1v1h-1zM25 35h1v1h-1zM28 35h1v1h-1zM32 35h1v1h-1zM48 35h1v1h-1zM50 35h1v1h-1zM52 35h1v1h-1zM26 36h1v1h-1zM28 36h1v1h-1zM41 36h1v1h-1zM48 36h1v1h-1zM54 36h1v1h-1zM67 36h1v1h-1zM44 37h1v1h-1zM55 37h1v1h-1zM63 37h1v1h-1zM45 38h1v1h-1zM56 38h2v1h-2zM67 38h1v1h-1zM17 39h1v1h-1zM25 39h1v1h-1zM27 39h2v1h-2zM36 39h1v1h-1zM45 39h1v1h-1zM64 39h1v1h-1zM32 40h1v1h-1zM53 40h1v1h-1zM58 40h2v1h-2zM38 41h2v1h-2zM42 41h1v1h-1zM62 41h1v1h-1zM24 42h1v1h-1zM52 42h1v1h-1zM60 42h1v1h-1zM26 43h1v1h-1zM49 43h1v1h-1zM64 43h1v1h-1zM42 44h1v1h-1zM49 44h1v1h-1zM59 44h1v1h-1zM44 45h1v1h-1zM50 45h2v1h-2zM55 45h1v1h-1zM24 46h1v1h-1zM37 46h1v1h-1zM46 46h1v1h-1zM48 46h1v1h-1zM51 47h1v1h-1zM18 48h1v1h-1zM20 48h3v1h-3zM51 48h2v1h-2zM21 49h1v1h-1zM37 49h1v1h-1zM50 49h1v1h-1zM27 50h1v1h-1zM35 50h1v1h-1zM41 50h1v1h-1zM53 50h1v1h-1zM34 51h1v1h-1zM47 51h1v1h-1zM31 52h1v1h-1zM31 53h1v1h-1zM29 54h1v1h-1z"/><path fill="#993404" d="M39 4h1v1h-1zM39 7h1v1h-1zM56 9h1v1h-1zM66 9h1v1h-1zM58 11h1v1h-1zM46 12h1v1h-1zM63 12h1v1h-1zM41 14h1v1h-1zM58 17h1v1h-1zM57 18h1v1h-1zM58 21h1v1h-1zM43 22h1v1h-1zM56 22h1v1h-1zM60 24h1v1h-1zM54 25h2v1h-2zM58 26h1v1h-1zM38 27h1v1h-1zM57 28h1v1h-1zM44 33h1v1h-1zM30 35h1v1h-1zM53 35h1v1h-1zM55 49h1v1h-1zM48 50h1v1h-1z"/><path fill="#f27e1b" d="M40 4h1v1h-1zM38 5h1v1h-1zM54 5h1v1h-1zM28 6h1v1h-1zM40 6h1v1h-1zM19 7h1v1h-1zM29 7h1v1h-1zM49 7h1v1h-1zM5 8h1v1h-1zM49 8h1v1h-1zM57 8h1v1h-1zM31 9h1v1h-1zM50 9h1v1h-1zM75 9h1v1h-1zM28 10h1v1h-1zM48 10h1v1h-1zM51 10h1v1h-1zM55 10h1v1h-1zM32 11h1v1h-1zM45 11h1v1h-1zM78 11h1v1h-1zM33 12h1v1h-1zM36 12h2v1h-2zM45 12h1v1h-1zM57 12h1v1h-1zM76 12h2v1h-2zM82 12h1v1h-1zM30 13h1v1h-1zM34 13h1v1h-1zM65 13h1v1h-1zM87 13h1v1h-1zM35 14h1v1h-1zM38 14h1v1h-1zM78 14h1v1h-1zM29 15h1v1h-1zM49 15h1v1h-1zM54 15h1v1h-1zM60 15h1v1h-1zM70 15h1v1h-1zM83 15h2v1h-2zM86 15h1v1h-1zM27 16h1v1h-1zM52 16h1v1h-1zM71 16h1v1h-1zM24 17h2v1h-2zM32 17h1v1h-1zM35 17h1v1h-1zM37 17h1v1h-1zM50 17h1v1h-1zM65 17h1v1h-1zM81 17h2v1h-2zM71 18h1v1h-1zM76 18h1v1h-1zM40 19h1v1h-1zM49 19h1v1h-1zM52 19h1v1h-1zM59 19h1v1h-1zM35 20h1v1h-1zM47 20h1v1h-1zM62 20h1v1h-1zM65 20h1v1h-1zM74 20h1v1h-1zM26 21h1v1h-1zM34 21h1v1h-1zM64 21h2v1h-2zM33 22h1v1h-1zM62 22h1v1h-1zM73 22h1v1h-1zM75 22h1v1h-1zM28 23h1v1h-1zM36 23h1v1h-1zM46 23h1v1h-1zM74 23h1v1h-1zM31 24h1v1h-1zM40 24h1v1h-1zM43 24h1v1h-1zM50 24h1v1h-1zM63 24h1v1h-1zM66 24h2v1h-2zM20 25h1v1h-1zM62 25h1v1h-1zM73 25h1v1h-1zM27 26h1v1h-1zM29 26h2v1h-2zM39 26h1v1h-1zM53 26h1v1h-1zM65 26h1v1h-1zM26 27h1v1h-1zM34 27h1v1h-1zM39 27h1v1h-1zM46 27h1v1h-1zM51 27h1v1h-1zM36 28h3v1h-3zM43 28h1v1h-1zM98 28h1v1h-1zM23 29h1v1h-1zM35 29h1v1h-1zM44 29h1v1h-1zM53 29h1v1h-1zM56 30h3v1h-3zM74 30h1v1h-1zM37 31h1v1h-1zM40 31h1v1h-1zM58 31h1v1h-1zM60 31h1v1h-1zM30 32h1v1h-1zM32 32h1v1h-1zM46 32h1v1h-1zM60 32h1v1h-1zM88 32h1v1h-1zM40 33h1v1h-1zM50 33h1v1h-1zM88 33h1v1h-1zM43 34h2v1h-2zM55 34h1v1h-1zM57 35h1v1h-1zM24 36h1v1h-1zM39 36h1v1h-1zM78 36h1v1h-1zM25 37h1v1h-1zM27 37h1v1h-1zM39 37h2v1h-2zM51 37h2v1h-2zM54 37h1v1h-1zM48 38h2v1h-2zM64 38h1v1h-1zM30 39h1v1h-1zM42 39h1v1h-1zM35 40h1v1h-1zM39 40h1v1h-1zM41 40h1v1h-1zM47 40h1v1h-1zM27 41h1v1h-1zM41 41h1v1h-1zM43 41h1v1h-1zM25 42h1v1h-1zM34 42h1v1h-1zM38 42h1v1h-1zM50 42h1v1h-1zM48 43h1v1h-1zM39 44h1v1h-1zM44 44h1v1h-1zM19 45h2v1h-2zM39 45h1v1h-1zM56 45h1v1h-1zM59 45h1v1h-1zM17 46h1v1h-1zM19 46h1v1h-1zM38 46h1v1h-1zM51 46h1v1h-1zM55 46h1v1h-1zM60 46h1v1h-1zM55 47h1v1h-1zM23 48h1v1h-1zM30 48h1v1h-1zM48 48h1v1h-1zM24 49h1v1h-1zM27 49h1v1h-1zM41 49h1v1h-1zM47 49h1v1h-1zM28 51h2v1h-2zM44 51h1v1h-1zM46 51h1v1h-1zM42 52h1v1h-1zM49 52h1v1h-1zM30 54h1v1h-1z"/><path fill="#cc4c02" d="M45 4h1v1h-1zM41 5h1v1h-1zM38 6h1v1h-1zM42 6h1v1h-1zM35 8h1v1h-1zM38 8h1v1h-1zM42 8h1v1h-1zM60 8h1v1h-1zM63 9h1v1h-1zM76 9h1v1h-1zM29 10h1v1h-1zM58 10h3v1h-3zM73 10h1v1h-1zM68 11h1v1h-1zM67 12h1v1h-1zM84 12h1v1h-1zM56 13h1v1h-1zM63 13h1v1h-1zM66 13h1v1h-1zM76 13h1v1h-1zM45 14h1v1h-1zM56 14h1v1h-1zM43 15h1v1h-1zM59 15h1v1h-1zM61 15h1v1h-1zM67 15h1v1h-1zM89 15h1v1h-1zM56 16h1v1h-1zM59 16h1v1h-1zM53 17h1v1h-1zM60 17h1v1h-1zM53 18h1v1h-1zM66 18h1v1h-1zM54 19h1v1h-1zM64 19h1v1h-1zM66 19h1v1h-1zM37 20h1v1h-1zM50 21h1v1h-1zM52 21h1v1h-1zM62 21h1v1h-1zM77 21h1v1h-1zM29 22h1v1h-1zM44 22h1v1h-1zM57 22h1v1h-1zM61 22h1v1h-1zM63 22h1v1h-1zM61 23h1v1h-1zM49 24h1v1h-1zM54 24h1v1h-1zM30 25h1v1h-1zM40 25h1v1h-1zM60 25h1v1h-1zM49 26h1v1h-1zM59 26h1v1h-1zM50 27h1v1h-1zM64 27h1v1h-1zM52 28h1v1h-1zM56 28h1v1h-1zM60 28h1v1h-1zM43 29h1v1h-1zM74 29h1v1h-1zM46 31h1v1h-1zM57 31h1v1h-1zM53 32h1v1h-1zM64 32h1v1h-1zM60 33h1v1h-1zM54 34h1v1h-1zM63 34h1v1h-1zM59 35h1v1h-1zM52 36h1v1h-1zM45 37h1v1h-1zM47 37h1v1h-1zM44 39h1v1h-1zM62 39h1v1h-1zM53 41h1v1h-1zM26 42h1v1h-1zM25 50h1v1h-1zM36 50h1v1h-1zM40 51h1v1h-1zM49 51h1v1h-1z"/><path fill="#e1640e" d="M39 5h1v1h-1zM43 6h1v1h-1zM36 7h1v1h-1zM64 8h1v1h-1zM35 9h1v1h-1zM37 9h1v1h-1zM42 9h1v1h-1zM55 9h1v1h-1zM77 9h1v1h-1zM37 10h1v1h-1zM64 10h1v1h-1zM26 11h1v1h-1zM49 11h1v1h-1zM79 11h1v1h-1zM25 12h1v1h-1zM39 12h2v1h-2zM43 12h1v1h-1zM56 12h1v1h-1zM81 12h1v1h-1zM53 13h1v1h-1zM31 14h1v1h-1zM33 14h2v1h-2zM39 14h1v1h-1zM53 14h1v1h-1zM60 14h1v1h-1zM64 14h1v1h-1zM25 15h1v1h-1zM33 15h1v1h-1zM37 15h1v1h-1zM40 15h1v1h-1zM55 15h1v1h-1zM63 15h1v1h-1zM47 16h1v1h-1zM65 16h1v1h-1zM72 16h1v1h-1zM38 17h1v1h-1zM46 18h1v1h-1zM51 18h1v1h-1zM55 18h1v1h-1zM24 19h1v1h-1zM27 19h1v1h-1zM58 19h1v1h-1zM71 19h1v1h-1zM38 20h1v1h-1zM54 20h1v1h-1zM32 21h1v1h-1zM37 21h1v1h-1zM67 21h2v1h-2zM31 22h2v1h-2zM45 22h2v1h-2zM51 22h1v1h-1zM54 22h1v1h-1zM60 22h1v1h-1zM40 23h1v1h-1zM49 23h1v1h-1zM53 23h1v1h-1zM57 23h1v1h-1zM33 24h1v1h-1zM52 25h1v1h-1zM31 26h1v1h-1zM42 26h1v1h-1zM72 26h1v1h-1zM36 27h1v1h-1zM41 27h2v1h-2zM70 27h1v1h-1zM30 28h1v1h-1zM40 28h1v1h-1zM45 28h1v1h-1zM51 28h1v1h-1zM54 28h1v1h-1zM37 29h1v1h-1zM40 29h1v1h-1zM47 29h1v1h-1zM51 29h1v1h-1zM57 29h1v1h-1zM60 29h2v1h-2zM65 29h1v1h-1zM39 30h1v1h-1zM41 30h1v1h-1zM44 30h1v1h-1zM49 30h1v1h-1zM61 30h1v1h-1zM97 30h1v1h-1zM39 31h1v1h-1zM41 31h1v1h-1zM43 31h1v1h-1zM51 31h1v1h-1zM65 31h1v1h-1zM29 32h1v1h-1zM45 32h1v1h-1zM32 33h1v1h-1zM90 33h1v1h-1zM38 34h1v1h-1zM40 34h1v1h-1zM64 34h1v1h-1zM47 35h1v1h-1zM47 36h1v1h-1zM49 36h1v1h-1zM53 36h1v1h-1zM43 37h1v1h-1zM61 37h2v1h-2zM65 37h1v1h-1zM80 37h1v1h-1zM26 38h1v1h-1zM32 38h1v1h-1zM62 38h1v1h-1zM31 39h1v1h-1zM38 40h1v1h-1zM51 40h1v1h-1zM62 40h1v1h-1zM33 41h1v1h-1zM19 43h1v1h-1zM41 43h1v1h-1zM47 43h1v1h-1zM20 44h1v1h-1zM50 44h1v1h-1zM53 44h1v1h-1zM27 45h2v1h-2zM34 45h1v1h-1zM48 45h2v1h-2zM53 45h1v1h-1zM45 46h1v1h-1zM49 46h1v1h-1zM27 47h1v1h-1zM39 47h1v1h-1zM33 48h1v1h-1zM37 48h1v1h-1zM34 49h1v1h-1zM48 49h1v1h-1zM37 50h1v1h-1zM44 50h1v1h-1zM22 51h1v1h-1zM44 52h1v1h-1zM46 52h1v1h-1zM48 52h1v1h-1z"/><path fill="#d75808" d="M35 6h1v1h-1zM39 8h1v1h-1zM29 9h1v1h-1zM41 9h1v1h-1zM69 9h1v1h-1zM41 10h1v1h-1zM66 10h1v1h-1zM80 10h1v1h-1zM36 11h1v1h-1zM41 11h1v1h-1zM43 11h1v1h-1zM76 11h1v1h-1zM35 12h1v1h-1zM60 12h1v1h-1zM80 12h1v1h-1zM83 12h1v1h-1zM35 13h1v1h-1zM46 13h1v1h-1zM54 13h1v1h-1zM58 13h1v1h-1zM81 13h1v1h-1zM85 13h1v1h-1zM30 14h1v1h-1zM40 14h1v1h-1zM57 14h1v1h-1zM62 14h1v1h-1zM66 14h1v1h-1zM74 14h1v1h-1zM84 14h1v1h-1zM90 14h1v1h-1zM62 15h1v1h-1zM73 15h1v1h-1zM23 16h1v1h-1zM66 16h1v1h-1zM61 17h1v1h-1zM73 17h1v1h-1zM29 18h1v1h-1zM52 18h1v1h-1zM62 18h1v1h-1zM74 18h1v1h-1zM55 19h1v1h-1zM60 19h1v1h-1zM68 19h1v1h-1zM48 20h1v1h-1zM53 20h1v1h-1zM56 20h1v1h-1zM61 20h1v1h-1zM66 20h2v1h-2zM23 21h1v1h-1zM36 21h1v1h-1zM51 21h1v1h-1zM63 21h1v1h-1zM41 22h1v1h-1zM35 23h1v1h-1zM54 23h1v1h-1zM67 23h1v1h-1zM46 24h1v1h-1zM51 24h1v1h-1zM59 24h1v1h-1zM65 24h1v1h-1zM69 24h1v1h-1zM31 25h1v1h-1zM56 25h1v1h-1zM61 25h1v1h-1zM67 25h1v1h-1zM32 26h1v1h-1zM36 26h1v1h-1zM61 26h1v1h-1zM68 27h1v1h-1zM48 28h1v1h-1zM52 30h1v1h-1zM90 30h1v1h-1zM49 31h1v1h-1zM61 31h1v1h-1zM28 32h1v1h-1zM29 33h1v1h-1zM55 33h1v1h-1zM41 34h1v1h-1zM51 34h1v1h-1zM58 34h1v1h-1zM43 35h1v1h-1zM58 35h1v1h-1zM61 35h1v1h-1zM31 36h1v1h-1zM40 36h1v1h-1zM58 36h1v1h-1zM50 38h1v1h-1zM61 38h1v1h-1zM47 39h1v1h-1zM42 40h1v1h-1zM46 40h1v1h-1zM54 42h1v1h-1zM57 42h1v1h-1zM50 43h1v1h-1zM62 43h1v1h-1zM56 44h1v1h-1zM60 44h1v1h-1zM54 45h1v1h-1zM18 46h1v1h-1zM23 46h1v1h-1zM59 46h1v1h-1zM46 47h1v1h-1zM49 47h1v1h-1zM56 47h1v1h-1zM25 48h1v1h-1zM49 50h1v1h-1zM55 50h1v1h-1zM35 51h1v1h-1zM51 51h1v1h-1zM54 51h1v1h-1zM52 52h1v1h-1z"/><path fill="#772a05" d="M40 7h1v1h-1zM74 9h1v1h-1zM42 10h1v1h-1zM58 15h1v1h-1zM40 16h1v1h-1zM56 18h1v1h-1zM54 21h1v1h-1zM52 22h1v1h-1zM58 27h1v1h-1zM44 28h1v1h-1zM59 33h1v1h-1zM58 45h1v1h-1z"/><path fill="#882f05" d="M41 8h1v1h-1zM61 9h1v1h-1zM65 10h1v1h-1zM78 10h1v1h-1zM66 11h1v1h-1zM70 11h1v1h-1zM77 11h1v1h-1zM70 13h1v1h-1zM67 14h1v1h-1zM52 17h1v1h-1zM60 21h1v1h-1zM65 23h1v1h-1zM58 24h1v1h-1zM61 24h1v1h-1zM57 27h1v1h-1zM58 28h1v1h-1zM62 32h1v1h-1zM38 44h1v1h-1zM35 49h1v1h-1z"/><path fill="#bb4403" d="M40 9h1v1h-1zM56 10h1v1h-1zM61 10h1v1h-1zM69 10h1v1h-1zM71 10h1v1h-1zM75 10h1v1h-1zM56 11h1v1h-1zM75 11h1v1h-1zM53 12h1v1h-1zM59 12h1v1h-1zM72 12h1v1h-1zM55 13h1v1h-1zM60 13h2v1h-2zM69 13h1v1h-1zM55 14h1v1h-1zM58 14h1v1h-1zM79 14h1v1h-1zM76 15h1v1h-1zM51 16h1v1h-1zM54 16h1v1h-1zM67 16h1v1h-1zM73 16h1v1h-1zM29 17h1v1h-1zM57 17h1v1h-1zM46 19h1v1h-1zM51 19h1v1h-1zM72 19h1v1h-1zM33 20h2v1h-2zM33 21h1v1h-1zM35 21h1v1h-1zM53 21h1v1h-1zM56 21h2v1h-2zM70 21h1v1h-1zM69 22h1v1h-1zM62 23h1v1h-1zM41 24h1v1h-1zM64 24h1v1h-1zM70 24h2v1h-2zM46 25h1v1h-1zM58 25h2v1h-2zM37 26h1v1h-1zM61 27h1v1h-1zM26 28h1v1h-1zM63 28h1v1h-1zM66 28h1v1h-1zM46 29h1v1h-1zM59 29h1v1h-1zM45 30h1v1h-1zM33 31h1v1h-1zM63 31h2v1h-2zM47 32h1v1h-1zM50 32h1v1h-1zM59 32h1v1h-1zM46 33h1v1h-1zM49 33h1v1h-1zM49 35h1v1h-1zM60 35h1v1h-1zM50 36h1v1h-1zM49 37h1v1h-1zM64 37h1v1h-1zM79 38h1v1h-1zM46 41h1v1h-1zM34 43h1v1h-1zM51 43h1v1h-1zM53 43h1v1h-1zM57 43h1v1h-1zM46 45h1v1h-1zM53 47h1v1h-1zM58 47h1v1h-1zM46 48h1v1h-1zM53 48h1v1h-1zM43 49h1v1h-1zM46 50h1v1h-1zM39 52h1v1h-1zM53 52h1v1h-1z"/><path fill="#aa3c03" d="M64 9h1v1h-1zM73 9h1v1h-1zM43 10h1v1h-1zM72 10h1v1h-1zM39 11h1v1h-1zM69 11h1v1h-1zM81 11h1v1h-1zM49 12h1v1h-1zM64 12h1v1h-1zM73 12h1v1h-1zM67 13h2v1h-2zM71 13h1v1h-1zM59 14h1v1h-1zM71 14h1v1h-1zM52 15h1v1h-1zM72 15h1v1h-1zM33 16h1v1h-1zM60 16h1v1h-1zM55 17h1v1h-1zM59 17h1v1h-1zM63 17h1v1h-1zM60 18h1v1h-1zM65 18h1v1h-1zM73 18h1v1h-1zM48 19h1v1h-1zM40 20h1v1h-1zM55 20h1v1h-1zM58 20h1v1h-1zM39 21h1v1h-1zM59 22h1v1h-1zM34 23h1v1h-1zM41 23h1v1h-1zM43 23h1v1h-1zM35 24h1v1h-1zM57 24h1v1h-1zM51 25h1v1h-1zM55 29h2v1h-2zM58 29h1v1h-1zM54 30h1v1h-1zM39 32h1v1h-1zM48 32h2v1h-2zM34 36h1v1h-1zM63 38h1v1h-1zM55 40h1v1h-1zM21 41h1v1h-1zM52 45h1v1h-1zM35 46h1v1h-1zM52 49h1v1h-1zM52 51h1v1h-1zM23 52h1v1h-1z"/><path fill="#662506" d="M70 10h1v1h-1zM59 13h1v1h-1zM56 17h1v1h-1zM61 18h1v1h-1zM57 20h1v1h-1zM56 23h1v1h-1zM60 26h1v1h-1z"/></g>
<path d="M396.9,36.1 396.8,33.7 398.2,31.8 396.6,31.1 397.6,29.1 395.5,27.1 394.9,24.5 392.2,22.5 392.8,19.9 395.5,18.6 398.7,17.2 402.0,16.2 404.1,14.6 407.4,11.7 409.5,10.9 413.9,13.3 416.7,13.9 422.5,13.8 428.0,13.5 429.6,12.5 432.3,13.9 436.6,14.9 441.5,15.7 446.4,15.9 451.8,14.9 456.1,15.7 460.4,16.2 463.7,15.7 468.0,17.0 471.5,17.0 473.6,16.2 475.6,17.9 477.8,19.9 482.1,21.2 485.4,23.2 489.7,23.8 492.9,25.2 497.3,25.2 500.5,23.2 503.8,24.5 508.6,26.5 511.9,27.8 514.6,29.1 520.0,28.7 525.4,28.5 527.3,28.7 528.9,30.2 527.1,31.8 527.6,34.4 525.4,37.0 523.3,38.8 520.0,41.0 516.8,42.3 512.4,44.6 508.1,46.0 504.9,46.9 502.7,49.6 502.1,51.6 499.4,53.5 496.7,57.5 494.0,60.1 491.9,62.8 489.7,67.4 490.2,71.4 492.9,74.7 495.4,77.3 492.9,79.3 489.7,81.3 487.5,83.2 485.9,87.2 484.8,91.2 485.4,92.5 482.1,92.7 478.9,93.1 475.1,95.8 472.9,99.1 471.3,102.4 469.2,104.1 466.4,102.6 463.7,104.6 460.4,103.8 455.0,104.1 449.6,103.7 445.1,104.1 442.0,107.0 438.8,108.1 435.5,111.0 433.9,112.9 432.3,113.6 429.0,111.0 426.9,109.0 424.7,106.3 423.6,103.0 420.4,99.7 417.1,97.8 412.8,98.0 412.3,93.8 411.7,92.5 414.4,87.9 417.1,86.5 416.0,84.6 413.9,81.3 415.5,78.0 417.1,74.7 416.0,72.7 413.9,68.7 411.7,65.4 417.1,65.2 418.2,62.1 418.8,57.5 419.3,56.2 418.8,52.9 419.3,49.6 418.2,47.6 421.5,45.0 424.7,42.3 425.8,39.7 422.5,38.8 422.0,35.1 418.2,35.1 415.0,35.7 410.6,36.4 407.4,36.1 405.2,37.0 404.1,33.1 400.3,33.7ZM518.4,66.7 520.6,64.8 523.3,62.8 526.5,61.5 527.6,62.8 526.5,64.1 530.3,64.5 529.2,68.1 526.5,70.7 524.9,69.4 522.7,67.4 520.6,68.1ZM534.3,60.8 537.3,59.7 539.5,62.4 537.3,62.8 534.6,62.1ZM505.9,74.7 508.1,72.7 510.3,73.3 509.7,75.6 507.6,76.0Z" fill="none" stroke="#4a5064" stroke-opacity="0.85" stroke-width="0.55" stroke-linejoin="round" shape-rendering="auto"/>
<path d="M416.7,13.9 417.7,16.6 418.8,19.2 418.8,22.5 417.7,24.5 418.8,27.8 417.1,30.4 416.6,33.1 418.2,35.1M418.8,19.2 422.5,21.2 428.0,21.2 433.4,20.5 438.8,19.2 441.5,19.2 443.7,17.2 444.2,15.7M441.5,19.2 444.2,20.5 446.9,22.5 449.6,23.8 452.3,23.2 455.6,20.5 458.3,19.2 458.8,16.3M458.3,19.2 459.9,21.2 460.4,24.5 462.6,26.5 465.9,27.1 468.6,25.8 467.5,23.2 470.2,21.9 471.3,18.6 473.4,16.4M468.6,25.8 471.3,28.5 473.4,32.4 475.6,35.1 478.3,33.7 479.9,29.8 482.1,25.8 484.8,22.9M460.4,24.5 459.4,25.8 459.9,29.1 461.5,32.4 464.8,34.4 469.1,35.1 472.4,34.4 473.4,32.4M472.4,34.4 472.4,39.7 471.3,43.6 470.7,45.6M470.7,45.6 465.9,45.0 460.4,44.3 456.1,45.6 451.8,48.3 448.0,50.9 445.8,54.2 443.7,57.5 438.8,58.8 433.4,58.2 428.0,56.8 423.6,56.8 418.8,57.5M456.1,45.6 458.3,48.3 459.9,52.9 459.4,58.2 456.7,60.8 452.9,62.1 449.1,60.1 445.8,57.5 443.7,57.5M438.8,58.8 435.0,62.1 438.8,67.4 436.6,72.0 439.3,75.3 438.8,77.3M438.8,77.3 435.5,79.9 432.3,83.9 429.0,85.9 424.7,87.2 420.4,85.9 416.0,86.5M438.8,77.3 444.2,79.9 449.6,81.9 455.0,82.6 460.4,81.3 465.3,82.6 466.4,85.9 469.1,87.9 471.3,90.5 472.9,94.5 475.1,95.6M466.4,85.9 467.5,83.2 471.3,81.3 474.5,79.9 478.9,78.6 481.6,79.9 482.1,83.9 482.7,87.2 484.8,89.2M481.6,79.9 481.6,76.0 477.8,73.3 476.7,69.4 479.9,65.4 476.7,60.8 478.3,58.8 483.2,60.8 486.4,59.5 489.7,56.8 493.5,52.9 496.2,51.6 498.6,53.9M470.7,45.6 471.8,48.3 474.0,50.9 475.6,54.9 474.5,56.8 476.2,58.8 478.3,58.8M500.5,23.2 500.5,27.8 499.4,31.8 496.7,35.1 496.7,39.7 496.2,43.6 495.1,47.6 496.2,51.6" fill="none" stroke="#5a5e62" stroke-opacity="0.7" stroke-width="0.45" stroke-linejoin="round" shape-rendering="auto"/>
</g>
<rect x="390.9" y="7.5" width="152.1" height="108.1" fill="none" stroke="#666" stroke-width="1" shape-rendering="auto"/>
<line x1="389.5" x2="391" y1="8.0" y2="8.0" stroke="#333" stroke-width="0.8"/>
<text transform="translate(388.50,10.50) scale(1.08,1)" font-size="7.3" text-anchor="end">44N</text>
<line x1="389.5" x2="391" y1="34.4" y2="34.4" stroke="#333" stroke-width="0.8"/>
<text transform="translate(388.50,36.90) scale(1.08,1)" font-size="7.3" text-anchor="end">42N</text>
<line x1="389.5" x2="391" y1="60.8" y2="60.8" stroke="#333" stroke-width="0.8"/>
<text transform="translate(388.50,63.30) scale(1.08,1)" font-size="7.3" text-anchor="end">40N</text>
<line x1="389.5" x2="391" y1="87.2" y2="87.2" stroke="#333" stroke-width="0.8"/>
<text transform="translate(388.50,89.70) scale(1.08,1)" font-size="7.3" text-anchor="end">38N</text>
<line x1="389.5" x2="391" y1="113.6" y2="113.6" stroke="#333" stroke-width="0.8"/>
<text transform="translate(388.50,116.10) scale(1.08,1)" font-size="7.3" text-anchor="end">36N</text>
<line x1="406.3" x2="406.3" y1="117" y2="118.2" stroke="#555" stroke-width="0.7"/>
<text transform="translate(406.30,125.80) scale(1.08,1)" font-size="7.3" text-anchor="middle">8W</text>
<line x1="428.0" x2="428.0" y1="117" y2="118.2" stroke="#555" stroke-width="0.7"/>
<text transform="translate(427.96,125.80) scale(1.08,1)" font-size="7.3" text-anchor="middle">6W</text>
<line x1="449.6" x2="449.6" y1="117" y2="118.2" stroke="#555" stroke-width="0.7"/>
<text transform="translate(449.62,125.80) scale(1.08,1)" font-size="7.3" text-anchor="middle">4W</text>
<line x1="471.3" x2="471.3" y1="117" y2="118.2" stroke="#555" stroke-width="0.7"/>
<text transform="translate(471.28,125.80) scale(1.08,1)" font-size="7.3" text-anchor="middle">2W</text>
<line x1="492.9" x2="492.9" y1="117" y2="118.2" stroke="#555" stroke-width="0.7"/>
<text transform="translate(492.94,125.80) scale(1.08,1)" font-size="7.3" text-anchor="middle">0</text>
<line x1="514.6" x2="514.6" y1="117" y2="118.2" stroke="#555" stroke-width="0.7"/>
<text transform="translate(514.60,125.80) scale(1.08,1)" font-size="7.3" text-anchor="middle">2E</text>
<line x1="536.3" x2="536.3" y1="117" y2="118.2" stroke="#555" stroke-width="0.7"/>
<text transform="translate(536.26,125.80) scale(1.08,1)" font-size="7.3" text-anchor="middle">4E</text>
<polygon points="391,132.0 398,129.5 536.6,129.5 544,132.0 536.6,134.5 398,134.5" fill="url(#cg)" stroke="#444" stroke-width="0.5" shape-rendering="auto"/>
<line x1="398.0" x2="398.0" y1="134.5" y2="136.0" stroke="#333" stroke-width="0.6"/>
<text transform="translate(398.00,143.30) scale(1.08,1)" font-size="7.3" text-anchor="middle">0</text>
<line x1="432.6" x2="432.6" y1="134.5" y2="136.0" stroke="#333" stroke-width="0.6"/>
<text transform="translate(432.65,143.30) scale(1.08,1)" font-size="7.3" text-anchor="middle">10</text>
<line x1="467.3" x2="467.3" y1="134.5" y2="136.0" stroke="#333" stroke-width="0.6"/>
<text transform="translate(467.30,143.30) scale(1.08,1)" font-size="7.3" text-anchor="middle">20</text>
<line x1="502.0" x2="502.0" y1="134.5" y2="136.0" stroke="#333" stroke-width="0.6"/>
<text transform="translate(501.95,143.30) scale(1.08,1)" font-size="7.3" text-anchor="middle">30</text>
<line x1="536.6" x2="536.6" y1="134.5" y2="136.0" stroke="#333" stroke-width="0.6"/>
<text transform="translate(536.60,143.30) scale(1.08,1)" font-size="7.3" text-anchor="middle">40</text>
<text transform="translate(467.30,153.20) scale(1.08,1)" font-size="7.3" text-anchor="middle">rel. False bias [%]</text>
<clipPath id="cp3"><rect x="22" y="160" width="152" height="108"/></clipPath><g clip-path="url(#cp3)">
<rect x="36.61" y="166.09" width="2.74" height="3.24" fill="#fece64"/><rect x="39.20" y="166.09" width="2.74" height="3.24" fill="#fee18d"/><rect x="41.79" y="166.09" width="2.74" height="3.24" fill="#fee698"/><rect x="44.38" y="166.09" width="2.74" height="3.24" fill="#fedf89"/><rect x="46.96" y="166.09" width="2.74" height="3.24" fill="#fede87"/><rect x="49.55" y="166.09" width="2.74" height="3.24" fill="#feaf3d"/><rect x="52.14" y="166.09" width="2.74" height="3.24" fill="#feb23f"/><rect x="54.73" y="166.09" width="2.74" height="3.24" fill="#f78820"/><rect x="57.31" y="166.09" width="2.74" height="3.24" fill="#fea534"/><rect x="59.90" y="166.09" width="2.74" height="3.24" fill="#fea735"/><rect x="62.49" y="166.09" width="2.74" height="3.24" fill="#f3811d"/><rect x="31.44" y="169.19" width="2.74" height="3.24" fill="#fff7bd"/><rect x="34.03" y="169.19" width="2.74" height="3.24" fill="#ffefab"/><rect x="36.61" y="169.19" width="2.74" height="3.24" fill="#fff7bd"/><rect x="39.20" y="169.19" width="2.74" height="3.24" fill="#fff4b5"/><rect x="41.79" y="169.19" width="2.74" height="3.24" fill="#fffacd"/><rect x="44.38" y="169.19" width="2.74" height="3.24" fill="#fff4b5"/><rect x="46.96" y="169.19" width="2.74" height="3.24" fill="#ffeea9"/><rect x="49.55" y="169.19" width="2.74" height="3.24" fill="#fec34e"/><rect x="52.14" y="169.19" width="2.74" height="3.24" fill="#feb844"/><rect x="54.73" y="169.19" width="2.74" height="3.24" fill="#8f3104"/><rect x="57.31" y="169.19" width="2.74" height="3.24" fill="#b44103"/><rect x="59.90" y="169.19" width="2.74" height="3.24" fill="#f88c22"/><rect x="62.49" y="169.19" width="2.74" height="3.24" fill="#fc9527"/><rect x="65.08" y="169.19" width="2.74" height="3.24" fill="#fea332"/><rect x="67.66" y="169.19" width="2.74" height="3.24" fill="#feb13e"/><rect x="70.25" y="169.19" width="2.74" height="3.24" fill="#b64103"/><rect x="72.84" y="169.19" width="2.74" height="3.24" fill="#cd4d03"/><rect x="75.43" y="169.19" width="2.74" height="3.24" fill="#f98e23"/><rect x="78.01" y="169.19" width="2.74" height="3.24" fill="#f6861f"/><rect x="80.60" y="169.19" width="2.74" height="3.24" fill="#feb945"/><rect x="83.19" y="169.19" width="2.74" height="3.24" fill="#feae3c"/><rect x="85.78" y="169.19" width="2.74" height="3.24" fill="#fec857"/><rect x="88.36" y="169.19" width="2.74" height="3.24" fill="#feb441"/><rect x="90.95" y="169.19" width="2.74" height="3.24" fill="#fec653"/><rect x="93.54" y="169.19" width="2.74" height="3.24" fill="#feae3b"/><rect x="96.12" y="169.19" width="2.74" height="3.24" fill="#fed573"/><rect x="98.71" y="169.19" width="2.74" height="3.24" fill="#feeda6"/><rect x="101.30" y="169.19" width="2.74" height="3.24" fill="#feeca4"/><rect x="103.89" y="169.19" width="2.74" height="3.24" fill="#feeaa0"/><rect x="26.26" y="172.28" width="2.74" height="3.24" fill="#feac3a"/><rect x="28.85" y="172.28" width="2.74" height="3.24" fill="#fff8bf"/><rect x="31.44" y="172.28" width="2.74" height="3.24" fill="#fff4b5"/><rect x="34.03" y="172.28" width="2.74" height="3.24" fill="#fff9c6"/><rect x="36.61" y="172.28" width="2.74" height="3.24" fill="#fff7bc"/><rect x="39.20" y="172.28" width="2.74" height="3.24" fill="#fff8c2"/><rect x="41.79" y="172.28" width="2.74" height="3.24" fill="#fff8c3"/><rect x="44.38" y="172.28" width="5.33" height="3.24" fill="#fff5b8"/><rect x="49.55" y="172.28" width="2.74" height="3.24" fill="#feaf3d"/><rect x="52.14" y="172.28" width="2.74" height="3.24" fill="#febb47"/><rect x="54.73" y="172.28" width="2.74" height="3.24" fill="#7f2c05"/><rect x="57.31" y="172.28" width="2.74" height="3.24" fill="#832e05"/><rect x="59.90" y="172.28" width="2.74" height="3.24" fill="#f3811d"/><rect x="62.49" y="172.28" width="2.74" height="3.24" fill="#fa9125"/><rect x="65.08" y="172.28" width="2.74" height="3.24" fill="#feaa38"/><rect x="67.66" y="172.28" width="2.74" height="3.24" fill="#f68720"/><rect x="70.25" y="172.28" width="2.74" height="3.24" fill="#b03f03"/><rect x="72.84" y="172.28" width="2.74" height="3.24" fill="#b34003"/><rect x="75.43" y="172.28" width="2.74" height="3.24" fill="#fd9627"/><rect x="78.01" y="172.28" width="2.74" height="3.24" fill="#f98e24"/><rect x="80.60" y="172.28" width="2.74" height="3.24" fill="#fecf66"/><rect x="83.19" y="172.28" width="2.74" height="3.24" fill="#feb340"/><rect x="85.78" y="172.28" width="2.74" height="3.24" fill="#fec04c"/><rect x="88.36" y="172.28" width="2.74" height="3.24" fill="#fecc60"/><rect x="90.95" y="172.28" width="2.74" height="3.24" fill="#fed472"/><rect x="93.54" y="172.28" width="2.74" height="3.24" fill="#feb23f"/><rect x="96.12" y="172.28" width="2.74" height="3.24" fill="#fed16a"/><rect x="98.71" y="172.28" width="2.74" height="3.24" fill="#feeda6"/><rect x="101.30" y="172.28" width="2.74" height="3.24" fill="#fed879"/><rect x="103.89" y="172.28" width="2.74" height="3.24" fill="#fee596"/><rect x="106.47" y="172.28" width="2.74" height="3.24" fill="#fed16b"/><rect x="109.06" y="172.28" width="2.74" height="3.24" fill="#fecc5f"/><rect x="26.26" y="175.38" width="2.74" height="3.24" fill="#feb643"/><rect x="28.85" y="175.38" width="2.74" height="3.24" fill="#ffeea9"/><rect x="31.44" y="175.38" width="2.74" height="3.24" fill="#fffbd2"/><rect x="34.03" y="175.38" width="2.74" height="3.24" fill="#fff4b6"/><rect x="36.61" y="175.38" width="2.74" height="3.24" fill="#fffbd2"/><rect x="39.20" y="175.38" width="2.74" height="3.24" fill="#fff2b1"/><rect x="41.79" y="175.38" width="2.74" height="3.24" fill="#fff9c4"/><rect x="44.38" y="175.38" width="2.74" height="3.24" fill="#ffeea8"/><rect x="46.96" y="175.38" width="2.74" height="3.24" fill="#feeba3"/><rect x="49.55" y="175.38" width="2.74" height="3.24" fill="#fec44f"/><rect x="52.14" y="175.38" width="2.74" height="3.24" fill="#feaa38"/><rect x="54.73" y="175.38" width="2.74" height="3.24" fill="#f07919"/><rect x="57.31" y="175.38" width="2.74" height="3.24" fill="#f5851f"/><rect x="59.90" y="175.38" width="2.74" height="3.24" fill="#fc9426"/><rect x="62.49" y="175.38" width="2.74" height="3.24" fill="#feb13e"/><rect x="65.08" y="175.38" width="2.74" height="3.24" fill="#d85909"/><rect x="67.66" y="175.38" width="2.74" height="3.24" fill="#d05004"/><rect x="70.25" y="175.38" width="2.74" height="3.24" fill="#fc9426"/><rect x="72.84" y="175.38" width="2.74" height="3.24" fill="#feab39"/><rect x="75.43" y="175.38" width="2.74" height="3.24" fill="#feb13e"/><rect x="78.01" y="175.38" width="2.74" height="3.24" fill="#f68720"/><rect x="80.60" y="175.38" width="2.74" height="3.24" fill="#fea331"/><rect x="83.19" y="175.38" width="2.74" height="3.24" fill="#f4821d"/><rect x="85.78" y="175.38" width="2.74" height="3.24" fill="#f5851f"/><rect x="88.36" y="175.38" width="2.74" height="3.24" fill="#fe9f2f"/><rect x="90.95" y="175.38" width="2.74" height="3.24" fill="#fec552"/><rect x="93.54" y="175.38" width="2.74" height="3.24" fill="#fec34e"/><rect x="96.12" y="175.38" width="2.74" height="3.24" fill="#febd48"/><rect x="98.71" y="175.38" width="2.74" height="3.24" fill="#febf4b"/><rect x="101.30" y="175.38" width="2.74" height="3.24" fill="#fec14c"/><rect x="103.89" y="175.38" width="2.74" height="3.24" fill="#febe4a"/><rect x="106.47" y="175.38" width="2.74" height="3.24" fill="#db5d0a"/><rect x="109.06" y="175.38" width="2.74" height="3.24" fill="#ec7014"/><rect x="111.65" y="175.38" width="2.74" height="3.24" fill="#6a2606"/><rect x="114.24" y="175.38" width="2.74" height="3.24" fill="#662506"/><rect x="116.83" y="175.38" width="2.74" height="3.24" fill="#762a05"/><rect x="127.17" y="175.38" width="2.74" height="3.24" fill="#722906"/><rect x="129.76" y="175.38" width="2.74" height="3.24" fill="#662506"/><rect x="28.85" y="178.47" width="2.74" height="3.24" fill="#fff6bb"/><rect x="31.44" y="178.47" width="2.74" height="3.24" fill="#fff6ba"/><rect x="34.03" y="178.47" width="2.74" height="3.24" fill="#fffcd4"/><rect x="36.61" y="178.47" width="2.74" height="3.24" fill="#fff8c0"/><rect x="39.20" y="178.47" width="2.74" height="3.24" fill="#fff5b8"/><rect x="41.79" y="178.47" width="2.74" height="3.24" fill="#fffcd4"/><rect x="44.38" y="178.47" width="2.74" height="3.24" fill="#fff4b6"/><rect x="46.96" y="178.47" width="2.74" height="3.24" fill="#fff4b5"/><rect x="49.55" y="178.47" width="2.74" height="3.24" fill="#fed472"/><rect x="52.14" y="178.47" width="2.74" height="3.24" fill="#febd49"/><rect x="54.73" y="178.47" width="2.74" height="3.24" fill="#ed7215"/><rect x="57.31" y="178.47" width="2.74" height="3.24" fill="#e56810"/><rect x="59.90" y="178.47" width="2.74" height="3.24" fill="#fea130"/><rect x="62.49" y="178.47" width="2.74" height="3.24" fill="#fa8f24"/><rect x="65.08" y="178.47" width="2.74" height="3.24" fill="#bd4503"/><rect x="67.66" y="178.47" width="2.74" height="3.24" fill="#de610c"/><rect x="70.25" y="178.47" width="2.74" height="3.24" fill="#feb03d"/><rect x="72.84" y="178.47" width="2.74" height="3.24" fill="#fa9025"/><rect x="75.43" y="178.47" width="2.74" height="3.24" fill="#f4821d"/><rect x="78.01" y="178.47" width="2.74" height="3.24" fill="#fea634"/><rect x="80.60" y="178.47" width="2.74" height="3.24" fill="#fe9b2b"/><rect x="83.19" y="178.47" width="2.74" height="3.24" fill="#fc9427"/><rect x="85.78" y="178.47" width="2.74" height="3.24" fill="#fea231"/><rect x="88.36" y="178.47" width="2.74" height="3.24" fill="#fea02f"/><rect x="90.95" y="178.47" width="2.74" height="3.24" fill="#fecb5e"/><rect x="93.54" y="178.47" width="2.74" height="3.24" fill="#fec959"/><rect x="96.12" y="178.47" width="2.74" height="3.24" fill="#febf4b"/><rect x="98.71" y="178.47" width="2.74" height="3.24" fill="#fecb5f"/><rect x="101.30" y="178.47" width="2.74" height="3.24" fill="#fec959"/><rect x="103.89" y="178.47" width="2.74" height="3.24" fill="#feb643"/><rect x="106.47" y="178.47" width="2.74" height="3.24" fill="#f68720"/><rect x="109.06" y="178.47" width="2.74" height="3.24" fill="#e96d13"/><rect x="111.65" y="178.47" width="2.74" height="3.24" fill="#662506"/><rect x="114.24" y="178.47" width="2.74" height="3.24" fill="#722806"/><rect x="116.83" y="178.47" width="2.74" height="3.24" fill="#772a05"/><rect x="119.41" y="178.47" width="2.74" height="3.24" fill="#662506"/><rect x="122.00" y="178.47" width="2.74" height="3.24" fill="#762a05"/><rect x="124.59" y="178.47" width="2.74" height="3.24" fill="#792b05"/><rect x="127.17" y="178.47" width="2.74" height="3.24" fill="#6a2606"/><rect x="129.76" y="178.47" width="2.74" height="3.24" fill="#662506"/><rect x="132.35" y="178.47" width="2.74" height="3.24" fill="#7e2c05"/><rect x="134.94" y="178.47" width="2.74" height="3.24" fill="#712806"/><rect x="137.53" y="178.47" width="2.74" height="3.24" fill="#702806"/><rect x="28.85" y="181.56" width="2.74" height="3.24" fill="#ffefab"/><rect x="31.44" y="181.56" width="2.74" height="3.24" fill="#fff8bf"/><rect x="34.03" y="181.56" width="2.74" height="3.24" fill="#ffeeaa"/><rect x="36.61" y="181.56" width="2.74" height="3.24" fill="#fffacc"/><rect x="39.20" y="181.56" width="2.74" height="3.24" fill="#fff9c4"/><rect x="41.79" y="181.56" width="2.74" height="3.24" fill="#fff3b4"/><rect x="44.38" y="181.56" width="2.74" height="3.24" fill="#fed573"/><rect x="46.96" y="181.56" width="2.74" height="3.24" fill="#fee494"/><rect x="49.55" y="181.56" width="2.74" height="3.24" fill="#d75808"/><rect x="52.14" y="181.56" width="2.74" height="3.24" fill="#db5c0a"/><rect x="54.73" y="181.56" width="2.74" height="3.24" fill="#fd9828"/><rect x="57.31" y="181.56" width="2.74" height="3.24" fill="#fea937"/><rect x="59.90" y="181.56" width="2.74" height="3.24" fill="#b94303"/><rect x="62.49" y="181.56" width="2.74" height="3.24" fill="#b74203"/><rect x="65.08" y="181.56" width="2.74" height="3.24" fill="#f3801c"/><rect x="67.66" y="181.56" width="2.74" height="3.24" fill="#f17b1a"/><rect x="70.25" y="181.56" width="2.74" height="3.24" fill="#f78a21"/><rect x="72.84" y="181.56" width="2.74" height="3.24" fill="#fb9225"/><rect x="75.43" y="181.56" width="2.74" height="3.24" fill="#f78a21"/><rect x="78.01" y="181.56" width="2.74" height="3.24" fill="#fea130"/><rect x="80.60" y="181.56" width="2.74" height="3.24" fill="#feac3a"/><rect x="83.19" y="181.56" width="2.74" height="3.24" fill="#fea432"/><rect x="85.78" y="181.56" width="2.74" height="3.24" fill="#f88b22"/><rect x="88.36" y="181.56" width="2.74" height="3.24" fill="#fea533"/><rect x="90.95" y="181.56" width="2.74" height="3.24" fill="#fea130"/><rect x="93.54" y="181.56" width="2.74" height="3.24" fill="#fe9d2d"/><rect x="96.12" y="181.56" width="5.32" height="3.24" fill="#ee7416"/><rect x="101.30" y="181.56" width="2.74" height="3.24" fill="#b24003"/><rect x="103.89" y="181.56" width="2.74" height="3.24" fill="#d95b09"/><rect x="106.47" y="181.56" width="2.74" height="3.24" fill="#df610d"/><rect x="109.06" y="181.56" width="2.74" height="3.24" fill="#b13f03"/><rect x="111.65" y="181.56" width="2.74" height="3.24" fill="#dd600c"/><rect x="114.24" y="181.56" width="2.74" height="3.24" fill="#d95b09"/><rect x="116.83" y="181.56" width="2.74" height="3.24" fill="#cf4f03"/><rect x="119.41" y="181.56" width="2.74" height="3.24" fill="#b03f03"/><rect x="122.00" y="181.56" width="2.74" height="3.24" fill="#b24003"/><rect x="124.59" y="181.56" width="2.74" height="3.24" fill="#d75808"/><rect x="127.17" y="181.56" width="2.74" height="3.24" fill="#bd4503"/><rect x="129.76" y="181.56" width="2.74" height="3.24" fill="#b74203"/><rect x="132.35" y="181.56" width="2.74" height="3.24" fill="#c24702"/><rect x="134.94" y="181.56" width="2.74" height="3.24" fill="#cb4b02"/><rect x="137.53" y="181.56" width="2.74" height="3.24" fill="#d45507"/><rect x="140.11" y="181.56" width="2.74" height="3.24" fill="#d25305"/><rect x="142.70" y="181.56" width="2.74" height="3.24" fill="#d65808"/><rect x="145.29" y="181.56" width="2.74" height="3.24" fill="#dd5f0b"/><rect x="147.88" y="181.56" width="2.74" height="3.24" fill="#fc9527"/><rect x="150.46" y="181.56" width="2.74" height="3.24" fill="#fea433"/><rect x="153.05" y="181.56" width="2.74" height="3.24" fill="#f78a21"/><rect x="28.85" y="184.66" width="2.74" height="3.24" fill="#fffbd2"/><rect x="31.44" y="184.66" width="2.74" height="3.24" fill="#ffeda7"/><rect x="34.03" y="184.66" width="2.74" height="3.24" fill="#fff2b2"/><rect x="36.61" y="184.66" width="2.74" height="3.24" fill="#feeda6"/><rect x="39.20" y="184.66" width="2.74" height="3.24" fill="#ffeda8"/><rect x="41.79" y="184.66" width="2.74" height="3.24" fill="#ffeda7"/><rect x="44.38" y="184.66" width="2.74" height="3.24" fill="#fee08b"/><rect x="46.96" y="184.66" width="2.74" height="3.24" fill="#ffefaa"/><rect x="49.55" y="184.66" width="2.74" height="3.24" fill="#bd4503"/><rect x="52.14" y="184.66" width="2.74" height="3.24" fill="#d95a09"/><rect x="54.73" y="184.66" width="2.74" height="3.24" fill="#fea332"/><rect x="57.31" y="184.66" width="2.74" height="3.24" fill="#fa9125"/><rect x="59.90" y="184.66" width="2.74" height="3.24" fill="#ca4b02"/><rect x="62.49" y="184.66" width="2.74" height="3.24" fill="#cf5004"/><rect x="65.08" y="184.66" width="2.74" height="3.24" fill="#db5d0b"/><rect x="67.66" y="184.66" width="2.74" height="3.24" fill="#e86b12"/><rect x="70.25" y="184.66" width="2.74" height="3.24" fill="#fea130"/><rect x="72.84" y="184.66" width="2.74" height="3.24" fill="#fea634"/><rect x="75.43" y="184.66" width="2.74" height="3.24" fill="#f68720"/><rect x="78.01" y="184.66" width="2.74" height="3.24" fill="#fe9a2a"/><rect x="80.60" y="184.66" width="2.74" height="3.24" fill="#f88b22"/><rect x="83.19" y="184.66" width="2.74" height="3.24" fill="#fea130"/><rect x="85.78" y="184.66" width="2.74" height="3.24" fill="#fea937"/><rect x="88.36" y="184.66" width="2.74" height="3.24" fill="#fd9728"/><rect x="90.95" y="184.66" width="2.74" height="3.24" fill="#f78921"/><rect x="93.54" y="184.66" width="2.74" height="3.24" fill="#feaa38"/><rect x="96.12" y="184.66" width="2.74" height="3.24" fill="#e1630e"/><rect x="98.71" y="184.66" width="2.74" height="3.24" fill="#dc5e0b"/><rect x="101.30" y="184.66" width="2.74" height="3.24" fill="#b94303"/><rect x="103.89" y="184.66" width="2.74" height="3.24" fill="#b84303"/><rect x="106.47" y="184.66" width="2.74" height="3.24" fill="#df610d"/><rect x="109.06" y="184.66" width="2.74" height="3.24" fill="#c44802"/><rect x="111.65" y="184.66" width="2.74" height="3.24" fill="#de600c"/><rect x="114.24" y="184.66" width="2.74" height="3.24" fill="#f6861f"/><rect x="116.83" y="184.66" width="5.32" height="3.24" fill="#d55607"/><rect x="122.00" y="184.66" width="2.74" height="3.24" fill="#ca4b02"/><rect x="124.59" y="184.66" width="2.74" height="3.24" fill="#cf4f04"/><rect x="127.17" y="184.66" width="2.74" height="3.24" fill="#cd4d03"/><rect x="129.76" y="184.66" width="2.74" height="3.24" fill="#bb4403"/><rect x="132.35" y="184.66" width="2.74" height="3.24" fill="#df620d"/><rect x="134.94" y="184.66" width="2.74" height="3.24" fill="#dd5f0c"/><rect x="137.53" y="184.66" width="5.32" height="3.24" fill="#da5c0a"/><rect x="142.70" y="184.66" width="2.74" height="3.24" fill="#dd5f0b"/><rect x="145.29" y="184.66" width="2.74" height="3.24" fill="#af3e03"/><rect x="147.88" y="184.66" width="2.74" height="3.24" fill="#f68820"/><rect x="150.46" y="184.66" width="2.74" height="3.24" fill="#feae3c"/><rect x="153.05" y="184.66" width="2.74" height="3.24" fill="#fe9929"/><rect x="28.85" y="187.75" width="2.74" height="3.24" fill="#fee79a"/><rect x="36.61" y="187.75" width="2.74" height="3.24" fill="#fee79b"/><rect x="39.20" y="187.75" width="2.74" height="3.24" fill="#fee799"/><rect x="41.79" y="187.75" width="2.74" height="3.24" fill="#fede85"/><rect x="44.38" y="187.75" width="2.74" height="3.24" fill="#e96c12"/><rect x="46.96" y="187.75" width="2.74" height="3.24" fill="#ef7718"/><rect x="49.55" y="187.75" width="2.74" height="3.24" fill="#fecf67"/><rect x="52.14" y="187.75" width="2.74" height="3.24" fill="#feca5d"/><rect x="54.73" y="187.75" width="2.74" height="3.24" fill="#feac3a"/><rect x="57.31" y="187.75" width="2.74" height="3.24" fill="#fd9628"/><rect x="59.90" y="187.75" width="2.74" height="3.24" fill="#f98e24"/><rect x="62.49" y="187.75" width="2.74" height="3.24" fill="#fe9f2e"/><rect x="65.08" y="187.75" width="2.74" height="3.24" fill="#feaf3c"/><rect x="67.66" y="187.75" width="2.74" height="3.24" fill="#feaa38"/><rect x="70.25" y="187.75" width="2.74" height="3.24" fill="#fea02f"/><rect x="72.84" y="187.75" width="2.74" height="3.24" fill="#fc9426"/><rect x="75.43" y="187.75" width="2.74" height="3.24" fill="#f88b22"/><rect x="78.01" y="187.75" width="2.74" height="3.24" fill="#fe9f2e"/><rect x="80.60" y="187.75" width="2.74" height="3.24" fill="#f78a21"/><rect x="83.19" y="187.75" width="2.74" height="3.24" fill="#fb9326"/><rect x="85.78" y="187.75" width="2.74" height="3.24" fill="#fe9d2c"/><rect x="88.36" y="187.75" width="2.74" height="3.24" fill="#fea02f"/><rect x="90.95" y="187.75" width="2.74" height="3.24" fill="#fe9929"/><rect x="93.54" y="187.75" width="2.74" height="3.24" fill="#fa8f24"/><rect x="96.12" y="187.75" width="2.74" height="3.24" fill="#fe9d2d"/><rect x="98.71" y="187.75" width="2.74" height="3.24" fill="#fa8f24"/><rect x="101.30" y="187.75" width="2.74" height="3.24" fill="#ce4e03"/><rect x="103.89" y="187.75" width="2.74" height="3.24" fill="#d65708"/><rect x="106.47" y="187.75" width="2.74" height="3.24" fill="#eb6e13"/><rect x="109.06" y="187.75" width="2.74" height="3.24" fill="#e56810"/><rect x="111.65" y="187.75" width="2.74" height="3.24" fill="#f5851f"/><rect x="114.24" y="187.75" width="5.32" height="3.24" fill="#ee7416"/><rect x="119.41" y="187.75" width="2.74" height="3.24" fill="#dd600c"/><rect x="122.00" y="187.75" width="2.74" height="3.24" fill="#db5d0b"/><rect x="124.59" y="187.75" width="2.74" height="3.24" fill="#ef7617"/><rect x="127.17" y="187.75" width="2.74" height="3.24" fill="#dd5f0b"/><rect x="129.76" y="187.75" width="2.74" height="3.24" fill="#e1630e"/><rect x="132.35" y="187.75" width="2.74" height="3.24" fill="#fea534"/><rect x="134.94" y="187.75" width="2.74" height="3.24" fill="#fe9b2b"/><rect x="137.53" y="187.75" width="2.74" height="3.24" fill="#feac3a"/><rect x="140.11" y="187.75" width="2.74" height="3.24" fill="#f78a21"/><rect x="142.70" y="187.75" width="2.74" height="3.24" fill="#fa9125"/><rect x="145.29" y="187.75" width="2.74" height="3.24" fill="#f6861f"/><rect x="147.88" y="187.75" width="2.74" height="3.24" fill="#f88b22"/><rect x="150.46" y="187.75" width="2.74" height="3.24" fill="#fa9125"/><rect x="153.05" y="187.75" width="2.74" height="3.24" fill="#f98e23"/><rect x="54.73" y="190.84" width="2.74" height="3.24" fill="#fd9627"/><rect x="57.31" y="190.84" width="2.74" height="3.24" fill="#fead3b"/><rect x="59.90" y="190.84" width="2.74" height="3.24" fill="#fc9527"/><rect x="62.49" y="190.84" width="2.74" height="3.24" fill="#feb340"/><rect x="65.08" y="190.84" width="2.74" height="3.24" fill="#feab39"/><rect x="67.66" y="190.84" width="2.74" height="3.24" fill="#f88c22"/><rect x="70.25" y="190.84" width="2.74" height="3.24" fill="#feb13e"/><rect x="72.84" y="190.84" width="2.74" height="3.24" fill="#feae3c"/><rect x="75.43" y="190.84" width="2.74" height="3.24" fill="#feae3b"/><rect x="78.01" y="190.84" width="2.74" height="3.24" fill="#f6861f"/><rect x="80.60" y="190.84" width="2.74" height="3.24" fill="#feaa38"/><rect x="83.19" y="190.84" width="2.74" height="3.24" fill="#feb23f"/><rect x="85.78" y="190.84" width="2.74" height="3.24" fill="#f78820"/><rect x="88.36" y="190.84" width="2.74" height="3.24" fill="#fead3a"/><rect x="90.95" y="190.84" width="2.74" height="3.24" fill="#f78820"/><rect x="93.54" y="190.84" width="2.74" height="3.24" fill="#fa9025"/><rect x="96.12" y="190.84" width="2.74" height="3.24" fill="#f78821"/><rect x="98.71" y="190.84" width="2.74" height="3.24" fill="#f4831e"/><rect x="101.30" y="190.84" width="2.74" height="3.24" fill="#c74a02"/><rect x="103.89" y="190.84" width="2.74" height="3.24" fill="#ba4303"/><rect x="106.47" y="190.84" width="2.74" height="3.24" fill="#f68720"/><rect x="109.06" y="190.84" width="2.74" height="3.24" fill="#e2640e"/><rect x="111.65" y="190.84" width="2.74" height="3.24" fill="#ec7014"/><rect x="114.24" y="190.84" width="2.74" height="3.24" fill="#e4670f"/><rect x="116.83" y="190.84" width="2.74" height="3.24" fill="#f4831e"/><rect x="119.41" y="190.84" width="2.74" height="3.24" fill="#e2650f"/><rect x="122.00" y="190.84" width="2.74" height="3.24" fill="#db5d0b"/><rect x="124.59" y="190.84" width="2.74" height="3.24" fill="#f5861f"/><rect x="127.17" y="190.84" width="2.74" height="3.24" fill="#f07918"/><rect x="129.76" y="190.84" width="2.74" height="3.24" fill="#ea6d13"/><rect x="132.35" y="190.84" width="2.74" height="3.24" fill="#f78921"/><rect x="134.94" y="190.84" width="2.74" height="3.24" fill="#fea635"/><rect x="137.53" y="190.84" width="2.74" height="3.24" fill="#feaa38"/><rect x="140.11" y="190.84" width="2.74" height="3.24" fill="#fea634"/><rect x="142.70" y="190.84" width="2.74" height="3.24" fill="#fb9326"/><rect x="145.29" y="190.84" width="2.74" height="3.24" fill="#f98d23"/><rect x="147.88" y="190.84" width="2.74" height="3.24" fill="#fe9e2e"/><rect x="150.46" y="190.84" width="2.74" height="3.24" fill="#fea02f"/><rect x="54.73" y="193.94" width="2.74" height="3.24" fill="#fe9e2e"/><rect x="57.31" y="193.94" width="2.74" height="3.24" fill="#fea130"/><rect x="59.90" y="193.94" width="2.74" height="3.24" fill="#ee7416"/><rect x="62.49" y="193.94" width="2.74" height="3.24" fill="#f5851f"/><rect x="65.08" y="193.94" width="2.74" height="3.24" fill="#fe9929"/><rect x="67.66" y="193.94" width="2.74" height="3.24" fill="#f4821d"/><rect x="70.25" y="193.94" width="2.74" height="3.24" fill="#cf5004"/><rect x="72.84" y="193.94" width="2.74" height="3.24" fill="#bd4503"/><rect x="75.43" y="193.94" width="2.74" height="3.24" fill="#d95b09"/><rect x="78.01" y="193.94" width="2.74" height="3.24" fill="#c04702"/><rect x="80.60" y="193.94" width="2.74" height="3.24" fill="#e2650e"/><rect x="83.19" y="193.94" width="2.74" height="3.24" fill="#e56810"/><rect x="85.78" y="193.94" width="2.74" height="3.24" fill="#fe9829"/><rect x="88.36" y="193.94" width="2.74" height="3.24" fill="#fe9a2a"/><rect x="90.95" y="193.94" width="2.74" height="3.24" fill="#fb9225"/><rect x="93.54" y="193.94" width="2.74" height="3.24" fill="#f5851f"/><rect x="96.12" y="193.94" width="2.74" height="3.24" fill="#feab39"/><rect x="98.71" y="193.94" width="2.74" height="3.24" fill="#feae3b"/><rect x="101.30" y="193.94" width="2.74" height="3.24" fill="#f98d23"/><rect x="103.89" y="193.94" width="2.74" height="3.24" fill="#f5851f"/><rect x="106.47" y="193.94" width="2.74" height="3.24" fill="#fe9829"/><rect x="109.06" y="193.94" width="2.74" height="3.24" fill="#fe9c2c"/><rect x="111.65" y="193.94" width="2.74" height="3.24" fill="#f98e23"/><rect x="114.24" y="193.94" width="2.74" height="3.24" fill="#fea937"/><rect x="116.83" y="193.94" width="2.74" height="3.24" fill="#fea534"/><rect x="119.41" y="193.94" width="2.74" height="3.24" fill="#fea937"/><rect x="122.00" y="193.94" width="2.74" height="3.24" fill="#fc9527"/><rect x="124.59" y="193.94" width="2.74" height="3.24" fill="#fea331"/><rect x="127.17" y="193.94" width="2.74" height="3.24" fill="#f27d1b"/><rect x="129.76" y="193.94" width="2.74" height="3.24" fill="#e56810"/><rect x="132.35" y="193.94" width="2.74" height="3.24" fill="#7d2c05"/><rect x="134.94" y="193.94" width="2.74" height="3.24" fill="#a53a04"/><rect x="137.53" y="193.94" width="2.74" height="3.24" fill="#bf4602"/><rect x="140.11" y="193.94" width="2.74" height="3.24" fill="#cf5004"/><rect x="142.70" y="193.94" width="2.74" height="3.24" fill="#f68820"/><rect x="145.29" y="193.94" width="2.74" height="3.24" fill="#fc9527"/><rect x="49.55" y="197.03" width="2.74" height="3.24" fill="#fea534"/><rect x="52.14" y="197.03" width="2.74" height="3.24" fill="#fea836"/><rect x="54.73" y="197.03" width="2.74" height="3.24" fill="#feb23f"/><rect x="57.31" y="197.03" width="2.74" height="3.24" fill="#fe9a2a"/><rect x="59.90" y="197.03" width="2.74" height="3.24" fill="#ef7617"/><rect x="62.49" y="197.03" width="2.74" height="3.24" fill="#f3801c"/><rect x="65.08" y="197.03" width="2.74" height="3.24" fill="#fea02f"/><rect x="67.66" y="197.03" width="2.74" height="3.24" fill="#fea231"/><rect x="70.25" y="197.03" width="2.74" height="3.24" fill="#bb4403"/><rect x="72.84" y="197.03" width="2.74" height="3.24" fill="#da5b0a"/><rect x="75.43" y="197.03" width="2.74" height="3.24" fill="#ae3e03"/><rect x="78.01" y="197.03" width="2.74" height="3.24" fill="#cd4d02"/><rect x="80.60" y="197.03" width="2.74" height="3.24" fill="#e86c12"/><rect x="83.19" y="197.03" width="2.74" height="3.24" fill="#ed7215"/><rect x="85.78" y="197.03" width="5.32" height="3.24" fill="#f78921"/><rect x="90.95" y="197.03" width="2.74" height="3.24" fill="#fd9628"/><rect x="93.54" y="197.03" width="2.74" height="3.24" fill="#fe9a2a"/><rect x="96.12" y="197.03" width="2.74" height="3.24" fill="#f98e23"/><rect x="98.71" y="197.03" width="2.74" height="3.24" fill="#f68720"/><rect x="101.30" y="197.03" width="2.74" height="3.24" fill="#fe9e2e"/><rect x="103.89" y="197.03" width="2.74" height="3.24" fill="#f98e23"/><rect x="106.47" y="197.03" width="2.74" height="3.24" fill="#f4821d"/><rect x="109.06" y="197.03" width="2.74" height="3.24" fill="#fe9b2a"/><rect x="111.65" y="197.03" width="5.32" height="3.24" fill="#fea735"/><rect x="116.83" y="197.03" width="2.74" height="3.24" fill="#f98e24"/><rect x="119.41" y="197.03" width="2.74" height="3.24" fill="#fa9025"/><rect x="122.00" y="197.03" width="2.74" height="3.24" fill="#f4821d"/><rect x="124.59" y="197.03" width="2.74" height="3.24" fill="#f68820"/><rect x="127.17" y="197.03" width="2.74" height="3.24" fill="#f27d1a"/><rect x="129.76" y="197.03" width="2.74" height="3.24" fill="#f37f1c"/><rect x="132.35" y="197.03" width="2.74" height="3.24" fill="#a83b03"/><rect x="134.94" y="197.03" width="2.74" height="3.24" fill="#ac3d03"/><rect x="137.53" y="197.03" width="2.74" height="3.24" fill="#bf4602"/><rect x="49.55" y="200.12" width="2.74" height="3.24" fill="#f68720"/><rect x="52.14" y="200.12" width="2.74" height="3.24" fill="#f5851f"/><rect x="54.73" y="200.12" width="2.74" height="3.24" fill="#fea634"/><rect x="57.31" y="200.12" width="2.74" height="3.24" fill="#f68720"/><rect x="59.90" y="200.12" width="2.74" height="3.24" fill="#a43904"/><rect x="62.49" y="200.12" width="2.74" height="3.24" fill="#9e3604"/><rect x="65.08" y="200.12" width="2.74" height="3.24" fill="#8b3005"/><rect x="67.66" y="200.12" width="2.74" height="3.24" fill="#b24003"/><rect x="70.25" y="200.12" width="2.74" height="3.24" fill="#dc5e0b"/><rect x="72.84" y="200.12" width="2.74" height="3.24" fill="#b84203"/><rect x="75.43" y="200.12" width="2.74" height="3.24" fill="#fea432"/><rect x="78.01" y="200.12" width="2.74" height="3.24" fill="#fea030"/><rect x="80.60" y="200.12" width="2.74" height="3.24" fill="#fc9527"/><rect x="83.19" y="200.12" width="2.74" height="3.24" fill="#fa9025"/><rect x="85.78" y="200.12" width="2.74" height="3.24" fill="#feb23f"/><rect x="88.36" y="200.12" width="2.74" height="3.24" fill="#fea231"/><rect x="90.95" y="200.12" width="2.74" height="3.24" fill="#ce4f03"/><rect x="93.54" y="200.12" width="2.74" height="3.24" fill="#cd4d02"/><rect x="96.12" y="200.12" width="2.74" height="3.24" fill="#fea836"/><rect x="98.71" y="200.12" width="2.74" height="3.24" fill="#fc9527"/><rect x="101.30" y="200.12" width="2.74" height="3.24" fill="#f4831e"/><rect x="103.89" y="200.12" width="2.74" height="3.24" fill="#fe9f2e"/><rect x="106.47" y="200.12" width="2.74" height="3.24" fill="#fec24d"/><rect x="109.06" y="200.12" width="2.74" height="3.24" fill="#fed26d"/><rect x="111.65" y="200.12" width="2.74" height="3.24" fill="#fea533"/><rect x="114.24" y="200.12" width="2.74" height="3.24" fill="#fa9125"/><rect x="116.83" y="200.12" width="2.74" height="3.24" fill="#fead3b"/><rect x="119.41" y="200.12" width="2.74" height="3.24" fill="#f6861f"/><rect x="122.00" y="200.12" width="2.74" height="3.24" fill="#f5851f"/><rect x="124.59" y="200.12" width="2.74" height="3.24" fill="#feae3b"/><rect x="127.17" y="200.12" width="2.74" height="3.24" fill="#db5d0a"/><rect x="129.76" y="200.12" width="2.74" height="3.24" fill="#ef7617"/><rect x="49.55" y="203.22" width="2.74" height="3.24" fill="#f88c22"/><rect x="52.14" y="203.22" width="2.74" height="3.24" fill="#f88c23"/><rect x="54.73" y="203.22" width="2.74" height="3.24" fill="#fea432"/><rect x="57.31" y="203.22" width="2.74" height="3.24" fill="#fa9025"/><rect x="59.90" y="203.22" width="2.74" height="3.24" fill="#903104"/><rect x="62.49" y="203.22" width="2.74" height="3.24" fill="#862e05"/><rect x="65.08" y="203.22" width="2.74" height="3.24" fill="#a73b03"/><rect x="67.66" y="203.22" width="2.74" height="3.24" fill="#892f05"/><rect x="70.25" y="203.22" width="2.74" height="3.24" fill="#b03f03"/><rect x="72.84" y="203.22" width="2.74" height="3.24" fill="#c14702"/><rect x="75.43" y="203.22" width="2.74" height="3.24" fill="#fd9728"/><rect x="78.01" y="203.22" width="2.74" height="3.24" fill="#fead3b"/><rect x="80.60" y="203.22" width="2.74" height="3.24" fill="#fe9929"/><rect x="83.19" y="203.22" width="2.74" height="3.24" fill="#fea130"/><rect x="85.78" y="203.22" width="2.74" height="3.24" fill="#f98e24"/><rect x="88.36" y="203.22" width="2.74" height="3.24" fill="#fa9025"/><rect x="90.95" y="203.22" width="2.74" height="3.24" fill="#c84a02"/><rect x="93.54" y="203.22" width="2.74" height="3.24" fill="#d85a09"/><rect x="96.12" y="203.22" width="2.74" height="3.24" fill="#fb9225"/><rect x="98.71" y="203.22" width="2.74" height="3.24" fill="#fb9326"/><rect x="101.30" y="203.22" width="2.74" height="3.24" fill="#feaa38"/><rect x="103.89" y="203.22" width="2.74" height="3.24" fill="#f6861f"/><rect x="106.47" y="203.22" width="2.74" height="3.24" fill="#febc48"/><rect x="109.06" y="203.22" width="2.74" height="3.24" fill="#fed26d"/><rect x="111.65" y="203.22" width="2.74" height="3.24" fill="#f5841e"/><rect x="114.24" y="203.22" width="2.74" height="3.24" fill="#feac39"/><rect x="116.83" y="203.22" width="2.74" height="3.24" fill="#fea231"/><rect x="119.41" y="203.22" width="2.74" height="3.24" fill="#f98e23"/><rect x="122.00" y="203.22" width="2.74" height="3.24" fill="#fc9427"/><rect x="124.59" y="203.22" width="2.74" height="3.24" fill="#fd9628"/><rect x="127.17" y="203.22" width="2.74" height="3.24" fill="#e66a11"/><rect x="129.76" y="203.22" width="2.74" height="3.24" fill="#ed7215"/><rect x="49.55" y="206.31" width="2.74" height="3.24" fill="#fecb5e"/><rect x="52.14" y="206.31" width="2.74" height="3.24" fill="#fed069"/><rect x="54.73" y="206.31" width="2.74" height="3.24" fill="#feaf3d"/><rect x="57.31" y="206.31" width="2.74" height="3.24" fill="#f98e24"/><rect x="59.90" y="206.31" width="2.74" height="3.24" fill="#892f05"/><rect x="62.49" y="206.31" width="2.74" height="3.24" fill="#963304"/><rect x="65.08" y="206.31" width="2.74" height="3.24" fill="#bd4503"/><rect x="67.66" y="206.31" width="2.74" height="3.24" fill="#d15205"/><rect x="70.25" y="206.31" width="2.74" height="3.24" fill="#fea534"/><rect x="72.84" y="206.31" width="2.74" height="3.24" fill="#fe9f2e"/><rect x="75.43" y="206.31" width="2.74" height="3.24" fill="#f68720"/><rect x="78.01" y="206.31" width="2.74" height="3.24" fill="#feb13e"/><rect x="80.60" y="206.31" width="2.74" height="3.24" fill="#fe9929"/><rect x="83.19" y="206.31" width="2.74" height="3.24" fill="#fea635"/><rect x="85.78" y="206.31" width="2.74" height="3.24" fill="#f88c22"/><rect x="88.36" y="206.31" width="2.74" height="3.24" fill="#fea130"/><rect x="90.95" y="206.31" width="2.74" height="3.24" fill="#f07818"/><rect x="93.54" y="206.31" width="2.74" height="3.24" fill="#ee7516"/><rect x="96.12" y="206.31" width="2.74" height="3.24" fill="#fd9728"/><rect x="98.71" y="206.31" width="2.74" height="3.24" fill="#f88c22"/><rect x="101.30" y="206.31" width="2.74" height="3.24" fill="#fea130"/><rect x="103.89" y="206.31" width="2.74" height="3.24" fill="#f78820"/><rect x="106.47" y="206.31" width="2.74" height="3.24" fill="#fed26e"/><rect x="109.06" y="206.31" width="2.74" height="3.24" fill="#fecd61"/><rect x="111.65" y="206.31" width="2.74" height="3.24" fill="#fed36f"/><rect x="114.24" y="206.31" width="2.74" height="3.24" fill="#fed26e"/><rect x="116.83" y="206.31" width="2.74" height="3.24" fill="#feb642"/><rect x="119.41" y="206.31" width="2.74" height="3.24" fill="#feb845"/><rect x="122.00" y="206.31" width="5.32" height="3.24" fill="#fea937"/><rect x="49.55" y="209.41" width="2.74" height="3.24" fill="#fec756"/><rect x="52.14" y="209.41" width="2.74" height="3.24" fill="#feb744"/><rect x="54.73" y="209.41" width="2.74" height="3.24" fill="#f78921"/><rect x="57.31" y="209.41" width="2.74" height="3.24" fill="#f98d23"/><rect x="59.90" y="209.41" width="2.74" height="3.24" fill="#933204"/><rect x="62.49" y="209.41" width="2.74" height="3.24" fill="#af3e03"/><rect x="65.08" y="209.41" width="2.74" height="3.24" fill="#d05004"/><rect x="67.66" y="209.41" width="2.74" height="3.24" fill="#d85909"/><rect x="70.25" y="209.41" width="2.74" height="3.24" fill="#fd9828"/><rect x="72.84" y="209.41" width="2.74" height="3.24" fill="#fd9627"/><rect x="75.43" y="209.41" width="2.74" height="3.24" fill="#fea837"/><rect x="78.01" y="209.41" width="2.74" height="3.24" fill="#fea634"/><rect x="80.60" y="209.41" width="2.74" height="3.24" fill="#f88b22"/><rect x="83.19" y="209.41" width="2.74" height="3.24" fill="#feb13e"/><rect x="85.78" y="209.41" width="2.74" height="3.24" fill="#f78a21"/><rect x="88.36" y="209.41" width="2.74" height="3.24" fill="#f6861f"/><rect x="90.95" y="209.41" width="2.74" height="3.24" fill="#db5d0a"/><rect x="93.54" y="209.41" width="2.74" height="3.24" fill="#ef7617"/><rect x="96.12" y="209.41" width="2.74" height="3.24" fill="#fd9628"/><rect x="98.71" y="209.41" width="2.74" height="3.24" fill="#fc9527"/><rect x="101.30" y="209.41" width="2.74" height="3.24" fill="#fb9226"/><rect x="103.89" y="209.41" width="2.74" height="3.24" fill="#f4821d"/><rect x="106.47" y="209.41" width="2.74" height="3.24" fill="#feba46"/><rect x="109.06" y="209.41" width="2.74" height="3.24" fill="#fecb5f"/><rect x="111.65" y="209.41" width="2.74" height="3.24" fill="#feb13f"/><rect x="114.24" y="209.41" width="2.74" height="3.24" fill="#fec550"/><rect x="116.83" y="209.41" width="2.74" height="3.24" fill="#febf4a"/><rect x="119.41" y="209.41" width="2.74" height="3.24" fill="#feb845"/><rect x="122.00" y="209.41" width="2.74" height="3.24" fill="#feb340"/><rect x="124.59" y="209.41" width="2.74" height="3.24" fill="#f88c22"/><rect x="160.81" y="209.41" width="2.74" height="3.24" fill="#e66911"/><rect x="163.40" y="209.41" width="2.74" height="3.24" fill="#ec7014"/><rect x="49.55" y="212.50" width="2.74" height="3.24" fill="#fd9828"/><rect x="52.14" y="212.50" width="2.74" height="3.24" fill="#fe9b2b"/><rect x="54.73" y="212.50" width="2.74" height="3.24" fill="#fea937"/><rect x="57.31" y="212.50" width="2.74" height="3.24" fill="#fd9828"/><rect x="59.90" y="212.50" width="2.74" height="3.24" fill="#f68720"/><rect x="62.49" y="212.50" width="2.74" height="3.24" fill="#ec7014"/><rect x="65.08" y="212.50" width="2.74" height="3.24" fill="#febc48"/><rect x="67.66" y="212.50" width="2.74" height="3.24" fill="#fec653"/><rect x="70.25" y="212.50" width="2.74" height="3.24" fill="#fd9627"/><rect x="72.84" y="212.50" width="2.74" height="3.24" fill="#f4821d"/><rect x="75.43" y="212.50" width="2.74" height="3.24" fill="#feb03d"/><rect x="78.01" y="212.50" width="2.74" height="3.24" fill="#fed26c"/><rect x="80.60" y="212.50" width="2.74" height="3.24" fill="#f88b22"/><rect x="83.19" y="212.50" width="2.74" height="3.24" fill="#fb9326"/><rect x="85.78" y="212.50" width="2.74" height="3.24" fill="#feb03d"/><rect x="88.36" y="212.50" width="2.74" height="3.24" fill="#fea02f"/><rect x="90.95" y="212.50" width="2.74" height="3.24" fill="#fea735"/><rect x="93.54" y="212.50" width="2.74" height="3.24" fill="#feaf3c"/><rect x="96.12" y="212.50" width="2.74" height="3.24" fill="#ca4b02"/><rect x="98.71" y="212.50" width="2.74" height="3.24" fill="#b24003"/><rect x="101.30" y="212.50" width="2.74" height="3.24" fill="#fea231"/><rect x="103.89" y="212.50" width="2.74" height="3.24" fill="#f68720"/><rect x="106.47" y="212.50" width="2.74" height="3.24" fill="#feba46"/><rect x="109.06" y="212.50" width="2.74" height="3.24" fill="#fed26c"/><rect x="111.65" y="212.50" width="2.74" height="3.24" fill="#feb23f"/><rect x="114.24" y="212.50" width="2.74" height="3.24" fill="#febf4a"/><rect x="116.83" y="212.50" width="2.74" height="3.24" fill="#f5841e"/><rect x="119.41" y="212.50" width="2.74" height="3.24" fill="#f98e24"/><rect x="127.17" y="212.50" width="2.74" height="3.24" fill="#bd4503"/><rect x="147.88" y="212.50" width="2.74" height="3.24" fill="#d25305"/><rect x="150.46" y="212.50" width="2.74" height="3.24" fill="#b94303"/><rect x="153.05" y="212.50" width="2.74" height="3.24" fill="#db5d0b"/><rect x="155.64" y="212.50" width="2.74" height="3.24" fill="#de600c"/><rect x="160.81" y="212.50" width="2.74" height="3.24" fill="#ed7316"/><rect x="163.40" y="212.50" width="2.74" height="3.24" fill="#e2650e"/><rect x="165.99" y="212.50" width="2.74" height="3.24" fill="#ec7114"/><rect x="44.38" y="215.59" width="2.74" height="3.24" fill="#fed36e"/><rect x="46.96" y="215.59" width="2.74" height="3.24" fill="#fed573"/><rect x="49.55" y="215.59" width="2.74" height="3.24" fill="#feaf3c"/><rect x="52.14" y="215.59" width="2.74" height="3.24" fill="#fea837"/><rect x="54.73" y="215.59" width="2.74" height="3.24" fill="#feab38"/><rect x="57.31" y="215.59" width="2.74" height="3.24" fill="#fe9929"/><rect x="59.90" y="215.59" width="2.74" height="3.24" fill="#e46710"/><rect x="62.49" y="215.59" width="2.74" height="3.24" fill="#eb6e13"/><rect x="65.08" y="215.59" width="2.74" height="3.24" fill="#fec755"/><rect x="67.66" y="215.59" width="2.74" height="3.24" fill="#febc48"/><rect x="70.25" y="215.59" width="2.74" height="3.24" fill="#fea332"/><rect x="72.84" y="215.59" width="2.74" height="3.24" fill="#fe9b2b"/><rect x="75.43" y="215.59" width="2.74" height="3.24" fill="#feb743"/><rect x="78.01" y="215.59" width="2.74" height="3.24" fill="#fec857"/><rect x="80.60" y="215.59" width="2.74" height="3.24" fill="#fea938"/><rect x="83.19" y="215.59" width="2.74" height="3.24" fill="#f5851f"/><rect x="85.78" y="215.59" width="2.74" height="3.24" fill="#f98e23"/><rect x="88.36" y="215.59" width="5.32" height="3.24" fill="#fea02f"/><rect x="93.54" y="215.59" width="2.74" height="3.24" fill="#fd9828"/><rect x="96.12" y="215.59" width="2.74" height="3.24" fill="#c64902"/><rect x="98.71" y="215.59" width="2.74" height="3.24" fill="#d75808"/><rect x="101.30" y="215.59" width="2.74" height="3.24" fill="#feb340"/><rect x="103.89" y="215.59" width="2.74" height="3.24" fill="#fea836"/><rect x="106.47" y="215.59" width="2.74" height="3.24" fill="#feb542"/><rect x="109.06" y="215.59" width="2.74" height="3.24" fill="#fed16b"/><rect x="111.65" y="215.59" width="2.74" height="3.24" fill="#fec552"/><rect x="114.24" y="215.59" width="2.74" height="3.24" fill="#fecf67"/><rect x="116.83" y="215.59" width="2.74" height="3.24" fill="#fea836"/><rect x="119.41" y="215.59" width="2.74" height="3.24" fill="#feaa38"/><rect x="145.29" y="215.59" width="2.74" height="3.24" fill="#d05004"/><rect x="147.88" y="215.59" width="2.74" height="3.24" fill="#d95a09"/><rect x="150.46" y="215.59" width="2.74" height="3.24" fill="#de600c"/><rect x="153.05" y="215.59" width="2.74" height="3.24" fill="#f4831e"/><rect x="155.64" y="215.59" width="2.74" height="3.24" fill="#f3801c"/><rect x="44.38" y="218.69" width="2.74" height="3.24" fill="#fec450"/><rect x="46.96" y="218.69" width="2.74" height="3.24" fill="#fed472"/><rect x="49.55" y="218.69" width="2.74" height="3.24" fill="#feb23f"/><rect x="52.14" y="218.69" width="2.74" height="3.24" fill="#fe9c2b"/><rect x="54.73" y="218.69" width="2.74" height="3.24" fill="#fec756"/><rect x="57.31" y="218.69" width="2.74" height="3.24" fill="#feba46"/><rect x="59.90" y="218.69" width="2.74" height="3.24" fill="#fed573"/><rect x="62.49" y="218.69" width="2.74" height="3.24" fill="#fec857"/><rect x="65.08" y="218.69" width="2.74" height="3.24" fill="#d05004"/><rect x="67.66" y="218.69" width="2.74" height="3.24" fill="#de600c"/><rect x="70.25" y="218.69" width="2.74" height="3.24" fill="#feac3a"/><rect x="72.84" y="218.69" width="2.74" height="3.24" fill="#fece65"/><rect x="75.43" y="218.69" width="2.74" height="3.24" fill="#fed36f"/><rect x="78.01" y="218.69" width="2.74" height="3.24" fill="#fec551"/><rect x="80.60" y="218.69" width="2.74" height="3.24" fill="#fed06a"/><rect x="83.19" y="218.69" width="2.74" height="3.24" fill="#febe49"/><rect x="85.78" y="218.69" width="2.74" height="3.24" fill="#fea130"/><rect x="88.36" y="218.69" width="2.74" height="3.24" fill="#feac3a"/><rect x="90.95" y="218.69" width="2.74" height="3.24" fill="#feb03d"/><rect x="93.54" y="218.69" width="2.74" height="3.24" fill="#f98e23"/><rect x="96.12" y="218.69" width="2.74" height="3.24" fill="#fea533"/><rect x="98.71" y="218.69" width="2.74" height="3.24" fill="#f88b22"/><rect x="101.30" y="218.69" width="2.74" height="3.24" fill="#fe9b2b"/><rect x="103.89" y="218.69" width="2.74" height="3.24" fill="#f5841e"/><rect x="106.47" y="218.69" width="2.74" height="3.24" fill="#fecb5f"/><rect x="109.06" y="218.69" width="2.74" height="3.24" fill="#fecd63"/><rect x="111.65" y="218.69" width="2.74" height="3.24" fill="#fecd62"/><rect x="114.24" y="218.69" width="2.74" height="3.24" fill="#feb441"/><rect x="116.83" y="218.69" width="2.74" height="3.24" fill="#fb9326"/><rect x="147.88" y="218.69" width="2.74" height="3.24" fill="#d25305"/><rect x="150.46" y="218.69" width="2.74" height="3.24" fill="#dc5e0b"/><rect x="153.05" y="218.69" width="2.74" height="3.24" fill="#c14702"/><rect x="155.64" y="218.69" width="2.74" height="3.24" fill="#af3e03"/><rect x="46.96" y="221.78" width="2.74" height="3.24" fill="#febf4b"/><rect x="49.55" y="221.78" width="2.74" height="3.24" fill="#feb340"/><rect x="52.14" y="221.78" width="2.74" height="3.24" fill="#feb13e"/><rect x="54.73" y="221.78" width="2.74" height="3.24" fill="#fed36f"/><rect x="57.31" y="221.78" width="2.74" height="3.24" fill="#fed069"/><rect x="59.90" y="221.78" width="2.74" height="3.24" fill="#fed574"/><rect x="62.49" y="221.78" width="2.74" height="3.24" fill="#fed572"/><rect x="65.08" y="221.78" width="2.74" height="3.24" fill="#c34802"/><rect x="67.66" y="221.78" width="2.74" height="3.24" fill="#b44003"/><rect x="70.25" y="221.78" width="2.74" height="3.24" fill="#fecf67"/><rect x="72.84" y="221.78" width="2.74" height="3.24" fill="#feac39"/><rect x="75.43" y="221.78" width="2.74" height="3.24" fill="#fec551"/><rect x="78.01" y="221.78" width="2.74" height="3.24" fill="#feb441"/><rect x="80.60" y="221.78" width="2.74" height="3.24" fill="#feae3c"/><rect x="83.19" y="221.78" width="2.74" height="3.24" fill="#fead3b"/><rect x="85.78" y="221.78" width="2.74" height="3.24" fill="#feb13e"/><rect x="88.36" y="221.78" width="2.74" height="3.24" fill="#fea332"/><rect x="90.95" y="221.78" width="2.74" height="3.24" fill="#fc9426"/><rect x="93.54" y="221.78" width="2.74" height="3.24" fill="#f4831e"/><rect x="96.12" y="221.78" width="2.74" height="3.24" fill="#feae3c"/><rect x="98.71" y="221.78" width="2.74" height="3.24" fill="#fea432"/><rect x="101.30" y="221.78" width="2.74" height="3.24" fill="#f68820"/><rect x="103.89" y="221.78" width="2.74" height="3.24" fill="#fead3b"/><rect x="106.47" y="221.78" width="2.74" height="3.24" fill="#fec858"/><rect x="109.06" y="221.78" width="2.74" height="3.24" fill="#feca5c"/><rect x="111.65" y="221.78" width="2.74" height="3.24" fill="#febb47"/><rect x="114.24" y="221.78" width="2.74" height="3.24" fill="#feae3b"/><rect x="116.83" y="221.78" width="2.74" height="3.24" fill="#feaa38"/><rect x="119.41" y="221.78" width="2.74" height="3.24" fill="#f98d23"/><rect x="134.94" y="221.78" width="2.74" height="3.24" fill="#f98d23"/><rect x="137.53" y="221.78" width="2.74" height="3.24" fill="#f78821"/><rect x="46.96" y="224.88" width="2.74" height="3.24" fill="#fec14d"/><rect x="49.55" y="224.88" width="2.74" height="3.24" fill="#feae3c"/><rect x="52.14" y="224.88" width="2.74" height="3.24" fill="#fec95a"/><rect x="54.73" y="224.88" width="2.74" height="3.24" fill="#fe9d2d"/><rect x="57.31" y="224.88" width="2.74" height="3.24" fill="#fea735"/><rect x="59.90" y="224.88" width="2.74" height="3.24" fill="#feb642"/><rect x="62.49" y="224.88" width="2.74" height="3.24" fill="#fec551"/><rect x="65.08" y="224.88" width="2.74" height="3.24" fill="#fea534"/><rect x="67.66" y="224.88" width="2.74" height="3.24" fill="#feaa38"/><rect x="70.25" y="224.88" width="2.74" height="3.24" fill="#feb945"/><rect x="72.84" y="224.88" width="2.74" height="3.24" fill="#febf4a"/><rect x="75.43" y="224.88" width="2.74" height="3.24" fill="#feb945"/><rect x="78.01" y="224.88" width="2.74" height="3.24" fill="#fec858"/><rect x="80.60" y="224.88" width="2.74" height="3.24" fill="#fec450"/><rect x="83.19" y="224.88" width="2.74" height="3.24" fill="#fed16a"/><rect x="85.78" y="224.88" width="2.74" height="3.24" fill="#f98f24"/><rect x="88.36" y="224.88" width="2.74" height="3.24" fill="#feb23f"/><rect x="90.95" y="224.88" width="2.74" height="3.24" fill="#ed7215"/><rect x="93.54" y="224.88" width="2.74" height="3.24" fill="#e2650e"/><rect x="96.12" y="224.88" width="2.74" height="3.24" fill="#e56810"/><rect x="98.71" y="224.88" width="2.74" height="3.24" fill="#f5841e"/><rect x="101.30" y="224.88" width="2.74" height="3.24" fill="#fea735"/><rect x="103.89" y="224.88" width="2.74" height="3.24" fill="#f78820"/><rect x="106.47" y="224.88" width="2.74" height="3.24" fill="#fb9225"/><rect x="109.06" y="224.88" width="2.74" height="3.24" fill="#f6861f"/><rect x="111.65" y="224.88" width="2.74" height="3.24" fill="#f68720"/><rect x="114.24" y="224.88" width="2.74" height="3.24" fill="#fe9c2b"/><rect x="116.83" y="224.88" width="2.74" height="3.24" fill="#dd5f0b"/><rect x="119.41" y="224.88" width="2.74" height="3.24" fill="#e3660f"/><rect x="122.00" y="224.88" width="2.74" height="3.24" fill="#f07818"/><rect x="132.35" y="224.88" width="2.74" height="3.24" fill="#d15205"/><rect x="134.94" y="224.88" width="2.74" height="3.24" fill="#dc5e0b"/><rect x="137.53" y="224.88" width="2.74" height="3.24" fill="#d05004"/><rect x="46.96" y="227.97" width="2.74" height="3.24" fill="#feac3a"/><rect x="49.55" y="227.97" width="2.74" height="3.24" fill="#fed36e"/><rect x="52.14" y="227.97" width="2.74" height="3.24" fill="#fec04c"/><rect x="54.73" y="227.97" width="2.74" height="3.24" fill="#fead3b"/><rect x="57.31" y="227.97" width="2.74" height="3.24" fill="#feaf3c"/><rect x="59.90" y="227.97" width="2.74" height="3.24" fill="#febc48"/><rect x="62.49" y="227.97" width="2.74" height="3.24" fill="#fece64"/><rect x="65.08" y="227.97" width="2.74" height="3.24" fill="#feb03e"/><rect x="67.66" y="227.97" width="2.74" height="3.24" fill="#feab39"/><rect x="70.25" y="227.97" width="2.74" height="3.24" fill="#febd48"/><rect x="72.84" y="227.97" width="2.74" height="3.24" fill="#fec04b"/><rect x="75.43" y="227.97" width="2.74" height="3.24" fill="#fed676"/><rect x="78.01" y="227.97" width="2.74" height="3.24" fill="#fece64"/><rect x="80.60" y="227.97" width="2.74" height="3.24" fill="#feac3a"/><rect x="83.19" y="227.97" width="2.74" height="3.24" fill="#fece65"/><rect x="85.78" y="227.97" width="2.74" height="3.24" fill="#fd9627"/><rect x="88.36" y="227.97" width="2.74" height="3.24" fill="#fe9d2d"/><rect x="90.95" y="227.97" width="2.74" height="3.24" fill="#e1640e"/><rect x="93.54" y="227.97" width="2.74" height="3.24" fill="#e86b12"/><rect x="96.12" y="227.97" width="2.74" height="3.24" fill="#e1640e"/><rect x="98.71" y="227.97" width="2.74" height="3.24" fill="#eb6e13"/><rect x="101.30" y="227.97" width="2.74" height="3.24" fill="#fea937"/><rect x="103.89" y="227.97" width="2.74" height="3.24" fill="#feaa38"/><rect x="106.47" y="227.97" width="2.74" height="3.24" fill="#feaf3c"/><rect x="109.06" y="227.97" width="2.74" height="3.24" fill="#f78921"/><rect x="111.65" y="227.97" width="2.74" height="3.24" fill="#fead3b"/><rect x="114.24" y="227.97" width="2.74" height="3.24" fill="#feb23f"/><rect x="116.83" y="227.97" width="2.74" height="3.24" fill="#da5c0a"/><rect x="119.41" y="227.97" width="2.74" height="3.24" fill="#f27f1c"/><rect x="122.00" y="227.97" width="2.74" height="3.24" fill="#dd5f0c"/><rect x="134.94" y="227.97" width="2.74" height="3.24" fill="#dc5e0b"/><rect x="137.53" y="227.97" width="2.74" height="3.24" fill="#cd4e03"/><rect x="44.38" y="231.06" width="2.74" height="3.24" fill="#fece65"/><rect x="46.96" y="231.06" width="2.74" height="3.24" fill="#feb340"/><rect x="49.55" y="231.06" width="2.74" height="3.24" fill="#febe4a"/><rect x="52.14" y="231.06" width="2.74" height="3.24" fill="#febd49"/><rect x="54.73" y="231.06" width="2.74" height="3.24" fill="#feb743"/><rect x="57.31" y="231.06" width="2.74" height="3.24" fill="#feb13e"/><rect x="59.90" y="231.06" width="2.74" height="3.24" fill="#feca5b"/><rect x="62.49" y="231.06" width="2.74" height="3.24" fill="#febf4a"/><rect x="65.08" y="231.06" width="2.74" height="3.24" fill="#fec653"/><rect x="67.66" y="231.06" width="2.74" height="3.24" fill="#fed26e"/><rect x="70.25" y="231.06" width="2.74" height="3.24" fill="#feb340"/><rect x="72.84" y="231.06" width="2.74" height="3.24" fill="#febf4b"/><rect x="75.43" y="231.06" width="2.74" height="3.24" fill="#feb441"/><rect x="78.01" y="231.06" width="2.74" height="3.24" fill="#fecf66"/><rect x="80.60" y="231.06" width="2.74" height="3.24" fill="#fd9728"/><rect x="83.19" y="231.06" width="2.74" height="3.24" fill="#fe9b2b"/><rect x="85.78" y="231.06" width="2.74" height="3.24" fill="#e3660f"/><rect x="88.36" y="231.06" width="2.74" height="3.24" fill="#f5851f"/><rect x="90.95" y="231.06" width="2.74" height="3.24" fill="#ef7818"/><rect x="93.54" y="231.06" width="2.74" height="3.24" fill="#ec7114"/><rect x="96.12" y="231.06" width="2.74" height="3.24" fill="#dc5f0b"/><rect x="98.71" y="231.06" width="2.74" height="3.24" fill="#c94a02"/><rect x="101.30" y="231.06" width="2.74" height="3.24" fill="#be4503"/><rect x="103.89" y="231.06" width="2.74" height="3.24" fill="#cf4f04"/><rect x="106.47" y="231.06" width="2.74" height="3.24" fill="#e66a11"/><rect x="109.06" y="231.06" width="2.74" height="3.24" fill="#e86b12"/><rect x="111.65" y="231.06" width="2.74" height="3.24" fill="#d75808"/><rect x="114.24" y="231.06" width="2.74" height="3.24" fill="#d25205"/><rect x="116.83" y="231.06" width="2.74" height="3.24" fill="#d95b09"/><rect x="46.96" y="234.16" width="2.74" height="3.24" fill="#feca5c"/><rect x="49.55" y="234.16" width="2.74" height="3.24" fill="#fec754"/><rect x="52.14" y="234.16" width="2.74" height="3.24" fill="#fed370"/><rect x="54.73" y="234.16" width="2.74" height="3.24" fill="#fece65"/><rect x="57.31" y="234.16" width="2.74" height="3.24" fill="#fed06a"/><rect x="59.90" y="234.16" width="2.74" height="3.24" fill="#feae3b"/><rect x="62.49" y="234.16" width="2.74" height="3.24" fill="#feb845"/><rect x="65.08" y="234.16" width="2.74" height="3.24" fill="#feb13e"/><rect x="67.66" y="234.16" width="2.74" height="3.24" fill="#feab39"/><rect x="70.25" y="234.16" width="2.74" height="3.24" fill="#febe4a"/><rect x="72.84" y="234.16" width="2.74" height="3.24" fill="#feae3b"/><rect x="75.43" y="234.16" width="2.74" height="3.24" fill="#fec24d"/><rect x="78.01" y="234.16" width="2.74" height="3.24" fill="#fec755"/><rect x="80.60" y="234.16" width="2.74" height="3.24" fill="#f4831e"/><rect x="83.19" y="234.16" width="2.74" height="3.24" fill="#f5851f"/><rect x="85.78" y="234.16" width="2.74" height="3.24" fill="#db5d0a"/><rect x="88.36" y="234.16" width="2.74" height="3.24" fill="#ec7114"/><rect x="90.95" y="234.16" width="2.74" height="3.24" fill="#e1640e"/><rect x="93.54" y="234.16" width="2.74" height="3.24" fill="#ee7516"/><rect x="96.12" y="234.16" width="2.74" height="3.24" fill="#ae3e03"/><rect x="98.71" y="234.16" width="2.74" height="3.24" fill="#b24003"/><rect x="101.30" y="234.16" width="2.74" height="3.24" fill="#d45506"/><rect x="103.89" y="234.16" width="2.74" height="3.24" fill="#b13f03"/><rect x="106.47" y="234.16" width="2.74" height="3.24" fill="#f3801c"/><rect x="109.06" y="234.16" width="2.74" height="3.24" fill="#f5841e"/><rect x="111.65" y="234.16" width="2.74" height="3.24" fill="#be4603"/><rect x="114.24" y="234.16" width="2.74" height="3.24" fill="#d45506"/><rect x="44.38" y="237.25" width="2.74" height="3.24" fill="#fec34e"/><rect x="46.96" y="237.25" width="2.74" height="3.24" fill="#febd49"/><rect x="49.55" y="237.25" width="2.74" height="3.24" fill="#fed573"/><rect x="52.14" y="237.25" width="2.74" height="3.24" fill="#feb744"/><rect x="54.73" y="237.25" width="2.74" height="3.24" fill="#fecc61"/><rect x="57.31" y="237.25" width="2.74" height="3.24" fill="#fec754"/><rect x="59.90" y="237.25" width="2.74" height="3.24" fill="#feca5b"/><rect x="62.49" y="237.25" width="2.74" height="3.24" fill="#feb844"/><rect x="65.08" y="237.25" width="2.74" height="3.24" fill="#feb744"/><rect x="67.66" y="237.25" width="2.74" height="3.24" fill="#fecc60"/><rect x="70.25" y="237.25" width="2.74" height="3.24" fill="#fed36e"/><rect x="72.84" y="237.25" width="2.74" height="3.24" fill="#fecb5f"/><rect x="75.43" y="237.25" width="2.74" height="3.24" fill="#fe9e2d"/><rect x="78.01" y="237.25" width="2.74" height="3.24" fill="#feaf3c"/><rect x="80.60" y="237.25" width="2.74" height="3.24" fill="#f3811d"/><rect x="83.19" y="237.25" width="2.74" height="3.24" fill="#e2650e"/><rect x="85.78" y="237.25" width="2.74" height="3.24" fill="#c04602"/><rect x="88.36" y="237.25" width="2.74" height="3.24" fill="#af3e03"/><rect x="90.95" y="237.25" width="2.74" height="3.24" fill="#7c2b05"/><rect x="93.54" y="237.25" width="2.74" height="3.24" fill="#822d05"/><rect x="96.12" y="237.25" width="2.74" height="3.24" fill="#d15205"/><rect x="98.71" y="237.25" width="2.74" height="3.24" fill="#d95b09"/><rect x="101.30" y="237.25" width="2.74" height="3.24" fill="#a53904"/><rect x="103.89" y="237.25" width="2.74" height="3.24" fill="#9b3504"/><rect x="106.47" y="237.25" width="2.74" height="3.24" fill="#973404"/><rect x="109.06" y="237.25" width="2.74" height="3.24" fill="#963304"/><rect x="111.65" y="237.25" width="2.74" height="3.24" fill="#a23804"/><rect x="114.24" y="237.25" width="2.74" height="3.24" fill="#832e05"/><rect x="44.38" y="240.34" width="2.74" height="3.24" fill="#fecc60"/><rect x="46.96" y="240.34" width="2.74" height="3.24" fill="#fec552"/><rect x="49.55" y="240.34" width="2.74" height="3.24" fill="#feb03d"/><rect x="52.14" y="240.34" width="2.74" height="3.24" fill="#feb441"/><rect x="54.73" y="240.34" width="2.74" height="3.24" fill="#fecc5f"/><rect x="57.31" y="240.34" width="2.74" height="3.24" fill="#fece63"/><rect x="59.90" y="240.34" width="2.74" height="3.24" fill="#feb441"/><rect x="62.49" y="240.34" width="2.74" height="3.24" fill="#fed676"/><rect x="65.08" y="240.34" width="2.74" height="3.24" fill="#fed26c"/><rect x="67.66" y="240.34" width="2.74" height="3.24" fill="#fec24e"/><rect x="70.25" y="240.34" width="2.74" height="3.24" fill="#fec24d"/><rect x="72.84" y="240.34" width="2.74" height="3.24" fill="#fed069"/><rect x="75.43" y="240.34" width="2.74" height="3.24" fill="#feb03e"/><rect x="78.01" y="240.34" width="2.74" height="3.24" fill="#fea837"/><rect x="80.60" y="240.34" width="2.74" height="3.24" fill="#e2640e"/><rect x="83.19" y="240.34" width="2.74" height="3.24" fill="#ed7215"/><rect x="85.78" y="240.34" width="2.74" height="3.24" fill="#af3e03"/><rect x="88.36" y="240.34" width="2.74" height="3.24" fill="#bb4403"/><rect x="90.95" y="240.34" width="2.74" height="3.24" fill="#7c2b05"/><rect x="93.54" y="240.34" width="2.74" height="3.24" fill="#b54103"/><rect x="96.12" y="240.34" width="2.74" height="3.24" fill="#d85a09"/><rect x="98.71" y="240.34" width="2.74" height="3.24" fill="#df610d"/><rect x="101.30" y="240.34" width="2.74" height="3.24" fill="#9d3604"/><rect x="103.89" y="240.34" width="2.74" height="3.24" fill="#a33904"/><rect x="106.47" y="240.34" width="2.74" height="3.24" fill="#b44103"/><rect x="109.06" y="240.34" width="2.74" height="3.24" fill="#963304"/><rect x="111.65" y="240.34" width="2.74" height="3.24" fill="#b24003"/><rect x="44.38" y="243.44" width="2.74" height="3.24" fill="#d35406"/><rect x="46.96" y="243.44" width="2.74" height="3.24" fill="#d65707"/><rect x="49.55" y="243.44" width="2.74" height="3.24" fill="#f78a21"/><rect x="52.14" y="243.44" width="2.74" height="3.24" fill="#fe9d2d"/><rect x="54.73" y="243.44" width="2.74" height="3.24" fill="#fea534"/><rect x="57.31" y="243.44" width="2.74" height="3.24" fill="#feb13e"/><rect x="59.90" y="243.44" width="2.74" height="3.24" fill="#fe9d2c"/><rect x="62.49" y="243.44" width="2.74" height="3.24" fill="#fb9326"/><rect x="65.08" y="243.44" width="2.74" height="3.24" fill="#febb47"/><rect x="67.66" y="243.44" width="2.74" height="3.24" fill="#feaf3c"/><rect x="70.25" y="243.44" width="2.74" height="3.24" fill="#f78a21"/><rect x="72.84" y="243.44" width="2.74" height="3.24" fill="#fea635"/><rect x="75.43" y="243.44" width="2.74" height="3.24" fill="#f4821d"/><rect x="78.01" y="243.44" width="2.74" height="3.24" fill="#e2650e"/><rect x="80.60" y="243.44" width="2.74" height="3.24" fill="#ba4403"/><rect x="83.19" y="243.44" width="2.74" height="3.24" fill="#cb4c02"/><rect x="85.78" y="243.44" width="2.74" height="3.24" fill="#852e05"/><rect x="88.36" y="243.44" width="2.74" height="3.24" fill="#963304"/><rect x="90.95" y="243.44" width="2.74" height="3.24" fill="#a63a03"/><rect x="93.54" y="243.44" width="2.74" height="3.24" fill="#ad3e03"/><rect x="96.12" y="243.44" width="2.74" height="3.24" fill="#b74203"/><rect x="98.71" y="243.44" width="2.74" height="3.24" fill="#903104"/><rect x="101.30" y="243.44" width="2.74" height="3.24" fill="#812d05"/><rect x="103.89" y="243.44" width="2.74" height="3.24" fill="#802d05"/><rect x="44.38" y="246.53" width="2.74" height="3.24" fill="#cd4d03"/><rect x="46.96" y="246.53" width="2.74" height="3.24" fill="#c24702"/><rect x="49.55" y="246.53" width="2.74" height="3.24" fill="#f5841e"/><rect x="52.14" y="246.53" width="2.74" height="3.24" fill="#f78a21"/><rect x="54.73" y="246.53" width="2.74" height="3.24" fill="#fc9426"/><rect x="57.31" y="246.53" width="2.74" height="3.24" fill="#fe9d2d"/><rect x="59.90" y="246.53" width="2.74" height="3.24" fill="#fe9829"/><rect x="62.49" y="246.53" width="2.74" height="3.24" fill="#feaa38"/><rect x="65.08" y="246.53" width="2.74" height="3.24" fill="#fed068"/><rect x="67.66" y="246.53" width="2.74" height="3.24" fill="#febb47"/><rect x="70.25" y="246.53" width="2.74" height="3.24" fill="#f3811d"/><rect x="72.84" y="246.53" width="2.74" height="3.24" fill="#fd9728"/><rect x="75.43" y="246.53" width="2.74" height="3.24" fill="#ee7516"/><rect x="78.01" y="246.53" width="2.74" height="3.24" fill="#ef7718"/><rect x="80.60" y="246.53" width="2.74" height="3.24" fill="#ce4e03"/><rect x="83.19" y="246.53" width="2.74" height="3.24" fill="#b94303"/><rect x="85.78" y="246.53" width="2.74" height="3.24" fill="#9c3504"/><rect x="88.36" y="246.53" width="2.74" height="3.24" fill="#7d2c05"/><rect x="90.95" y="246.53" width="2.74" height="3.24" fill="#ae3e03"/><rect x="93.54" y="246.53" width="2.74" height="3.24" fill="#a43904"/><rect x="96.12" y="246.53" width="2.74" height="3.24" fill="#983404"/><rect x="98.71" y="246.53" width="2.74" height="3.24" fill="#9e3704"/><rect x="101.30" y="246.53" width="2.74" height="3.24" fill="#842e05"/><rect x="52.14" y="249.62" width="2.74" height="3.24" fill="#f78921"/><rect x="54.73" y="249.62" width="2.74" height="3.24" fill="#db5d0b"/><rect x="57.31" y="249.62" width="2.74" height="3.24" fill="#e86b12"/><rect x="59.90" y="249.62" width="2.74" height="3.24" fill="#feb13e"/><rect x="62.49" y="249.62" width="2.74" height="3.24" fill="#fc9527"/><rect x="65.08" y="249.62" width="2.74" height="3.24" fill="#fd9728"/><rect x="67.66" y="249.62" width="2.74" height="3.24" fill="#fe9a2a"/><rect x="70.25" y="249.62" width="2.74" height="3.24" fill="#f17b1a"/><rect x="72.84" y="249.62" width="2.74" height="3.24" fill="#e4670f"/><rect x="75.43" y="249.62" width="2.74" height="3.24" fill="#b34003"/><rect x="78.01" y="249.62" width="2.74" height="3.24" fill="#db5d0b"/><rect x="80.60" y="249.62" width="2.74" height="3.24" fill="#8f3104"/><rect x="83.19" y="249.62" width="2.74" height="3.24" fill="#a13804"/><rect x="85.78" y="249.62" width="2.74" height="3.24" fill="#cb4c02"/><rect x="88.36" y="249.62" width="2.74" height="3.24" fill="#b44103"/><rect x="90.95" y="249.62" width="2.74" height="3.24" fill="#b03f03"/><rect x="93.54" y="249.62" width="2.74" height="3.24" fill="#c34802"/><rect x="96.12" y="249.62" width="2.74" height="3.24" fill="#ac3d03"/><rect x="98.71" y="249.62" width="2.74" height="3.24" fill="#7f2c05"/><rect x="101.30" y="249.62" width="2.74" height="3.24" fill="#d85a09"/><rect x="54.73" y="252.72" width="2.74" height="3.24" fill="#ef7617"/><rect x="57.31" y="252.72" width="2.74" height="3.24" fill="#df620d"/><rect x="59.90" y="252.72" width="2.74" height="3.24" fill="#fea231"/><rect x="62.49" y="252.72" width="2.74" height="3.24" fill="#fea533"/><rect x="65.08" y="252.72" width="5.32" height="3.24" fill="#f4831e"/><rect x="70.25" y="252.72" width="2.74" height="3.24" fill="#f07919"/><rect x="72.84" y="252.72" width="2.74" height="3.24" fill="#ee7517"/><rect x="75.43" y="252.72" width="2.74" height="3.24" fill="#d45507"/><rect x="90.95" y="252.72" width="2.74" height="3.24" fill="#da5c0a"/><rect x="93.54" y="252.72" width="2.74" height="3.24" fill="#d65707"/><rect x="57.31" y="255.81" width="2.74" height="3.24" fill="#7c2b05"/><rect x="59.90" y="255.81" width="2.74" height="3.24" fill="#b34003"/><rect x="62.49" y="255.81" width="2.74" height="3.24" fill="#aa3c03"/><rect x="65.08" y="255.81" width="2.74" height="3.24" fill="#d85908"/><rect x="67.66" y="255.81" width="2.74" height="3.24" fill="#dc5e0b"/><rect x="70.25" y="255.81" width="2.74" height="3.24" fill="#ca4b02"/><rect x="59.90" y="258.91" width="2.74" height="3.24" fill="#8a3005"/><rect x="62.49" y="258.91" width="2.74" height="3.24" fill="#842e05"/><rect x="65.08" y="258.91" width="2.74" height="3.24" fill="#c44802"/>
<path d="M30.2,189.4 30.1,187.1 31.4,185.3 29.9,184.7 30.9,182.8 28.9,180.9 28.3,178.5 25.7,176.6 26.3,174.1 28.9,172.9 32.0,171.7 35.1,170.7 37.1,169.2 40.2,166.5 42.3,165.7 46.4,167.9 49.1,168.6 54.7,168.4 59.9,168.2 61.5,167.2 64.0,168.6 68.2,169.4 72.8,170.2 77.5,170.4 82.7,169.4 86.8,170.2 91.0,170.7 94.1,170.2 98.2,171.4 101.5,171.4 103.5,170.7 105.4,172.3 107.5,174.1 111.7,175.4 114.8,177.2 118.9,177.9 122.0,179.1 126.1,179.1 129.2,177.2 132.3,178.5 137.0,180.3 140.1,181.6 142.7,182.8 147.9,182.4 153.1,182.2 154.8,182.4 156.4,183.8 154.6,185.3 155.1,187.8 153.1,190.2 151.0,191.8 147.9,193.9 144.8,195.2 140.6,197.3 136.5,198.6 133.4,199.5 131.3,202.0 130.8,203.8 128.2,205.7 125.6,209.4 123.0,211.9 121.0,214.4 118.9,218.7 119.4,222.4 122.0,225.5 124.4,228.0 122.0,229.8 118.9,231.7 116.8,233.5 115.3,237.2 114.2,241.0 114.8,242.2 111.7,242.4 108.5,242.8 104.9,245.3 102.9,248.4 101.3,251.5 99.3,253.1 96.6,251.7 94.1,253.6 91.0,252.8 85.8,253.1 80.6,252.7 76.3,253.1 73.4,255.8 70.2,256.8 67.1,259.5 65.6,261.4 64.0,262.0 60.9,259.5 58.9,257.7 56.8,255.2 55.8,252.1 52.7,249.0 49.6,247.1 45.4,247.4 44.9,243.4 44.4,242.2 47.0,237.9 49.6,236.6 48.5,234.8 46.4,231.7 48.0,228.6 49.6,225.5 48.5,223.6 46.4,219.9 44.4,216.8 49.6,216.6 50.6,213.7 51.1,209.4 51.6,208.2 51.1,205.1 51.6,202.0 50.6,200.1 53.7,197.6 56.8,195.2 57.8,192.7 54.7,191.8 54.2,188.4 50.6,188.4 47.5,189.0 43.3,189.6 40.2,189.4 38.2,190.2 37.1,186.5 33.5,187.1Z" fill="none" stroke="#4a5064" stroke-opacity="0.85" stroke-width="0.55" stroke-linejoin="round" shape-rendering="auto"/>
<path d="M49.1,168.6 50.1,171.0 51.1,173.5 51.1,176.6 50.1,178.5 51.1,181.6 49.6,184.0 49.0,186.5 50.6,188.4M51.1,173.5 54.7,175.4 59.9,175.4 65.1,174.8 70.2,173.5 72.8,173.5 74.9,171.7 75.4,170.2M72.8,173.5 75.4,174.8 78.0,176.6 80.6,177.9 83.2,177.2 86.3,174.8 88.9,173.5 89.4,170.8M88.9,173.5 90.4,175.4 91.0,178.5 93.0,180.3 96.1,180.9 98.7,179.7 97.7,177.2 100.3,176.0 101.3,172.9 103.4,170.9M98.7,179.7 101.3,182.2 103.4,185.9 105.4,188.4 108.0,187.1 109.6,183.4 111.7,179.7 114.2,177.0M91.0,178.5 89.9,179.7 90.4,182.8 92.0,185.9 95.1,187.8 99.2,188.4 102.3,187.8 103.4,185.9M102.3,187.8 102.3,192.7 101.3,196.4 100.8,198.3M100.8,198.3 96.1,197.6 91.0,197.0 86.8,198.3 82.7,200.7 79.0,203.2 77.0,206.3 74.9,209.4 70.2,210.6 65.1,210.0 59.9,208.8 55.8,208.8 51.1,209.4M86.8,198.3 88.9,200.7 90.4,205.1 89.9,210.0 87.3,212.5 83.7,213.7 80.1,211.9 77.0,209.4 74.9,209.4M70.2,210.6 66.6,213.7 70.2,218.7 68.2,223.0 70.8,226.1 70.2,228.0M70.2,228.0 67.1,230.4 64.0,234.2 60.9,236.0 56.8,237.2 52.7,236.0 48.5,236.6M70.2,228.0 75.4,230.4 80.6,232.3 85.8,232.9 91.0,231.7 95.6,232.9 96.6,236.0 99.2,237.9 101.3,240.3 102.9,244.1 104.9,245.2M96.6,236.0 97.7,233.5 101.3,231.7 104.4,230.4 108.5,229.2 111.1,230.4 111.7,234.2 112.2,237.2 114.2,239.1M111.1,230.4 111.1,226.7 107.5,224.3 106.5,220.5 109.6,216.8 106.5,212.5 108.0,210.6 112.7,212.5 115.8,211.3 118.9,208.8 122.5,205.1 125.1,203.8 127.4,206.1M100.8,198.3 101.8,200.7 103.9,203.2 105.4,206.9 104.4,208.8 106.0,210.6 108.0,210.6M129.2,177.2 129.2,181.6 128.2,185.3 125.6,188.4 125.6,192.7 125.1,196.4 124.1,200.1 125.1,203.8" fill="none" stroke="#5a5e62" stroke-opacity="0.7" stroke-width="0.45" stroke-linejoin="round" shape-rendering="auto"/>
</g>
<rect x="21.6" y="159.5" width="152.1" height="108.1" fill="none" stroke="#666" stroke-width="1" shape-rendering="auto"/>
<line x1="19.5" x2="21" y1="163.0" y2="163.0" stroke="#333" stroke-width="0.8"/>
<text transform="translate(18.50,165.50) scale(1.08,1)" font-size="7.3" text-anchor="end">44N</text>
<line x1="19.5" x2="21" y1="187.8" y2="187.8" stroke="#333" stroke-width="0.8"/>
<text transform="translate(18.50,190.25) scale(1.08,1)" font-size="7.3" text-anchor="end">42N</text>
<line x1="19.5" x2="21" y1="212.5" y2="212.5" stroke="#333" stroke-width="0.8"/>
<text transform="translate(18.50,215.00) scale(1.08,1)" font-size="7.3" text-anchor="end">40N</text>
<line x1="19.5" x2="21" y1="237.2" y2="237.2" stroke="#333" stroke-width="0.8"/>
<text transform="translate(18.50,239.75) scale(1.08,1)" font-size="7.3" text-anchor="end">38N</text>
<line x1="19.5" x2="21" y1="262.0" y2="262.0" stroke="#333" stroke-width="0.8"/>
<text transform="translate(18.50,264.50) scale(1.08,1)" font-size="7.3" text-anchor="end">36N</text>
<line x1="39.2" x2="39.2" y1="269" y2="270.2" stroke="#555" stroke-width="0.7"/>
<text transform="translate(39.20,277.80) scale(1.08,1)" font-size="7.3" text-anchor="middle">8W</text>
<line x1="59.9" x2="59.9" y1="269" y2="270.2" stroke="#555" stroke-width="0.7"/>
<text transform="translate(59.90,277.80) scale(1.08,1)" font-size="7.3" text-anchor="middle">6W</text>
<line x1="80.6" x2="80.6" y1="269" y2="270.2" stroke="#555" stroke-width="0.7"/>
<text transform="translate(80.60,277.80) scale(1.08,1)" font-size="7.3" text-anchor="middle">4W</text>
<line x1="101.3" x2="101.3" y1="269" y2="270.2" stroke="#555" stroke-width="0.7"/>
<text transform="translate(101.30,277.80) scale(1.08,1)" font-size="7.3" text-anchor="middle">2W</text>
<line x1="122.0" x2="122.0" y1="269" y2="270.2" stroke="#555" stroke-width="0.7"/>
<text transform="translate(122.00,277.80) scale(1.08,1)" font-size="7.3" text-anchor="middle">0</text>
<line x1="142.7" x2="142.7" y1="269" y2="270.2" stroke="#555" stroke-width="0.7"/>
<text transform="translate(142.70,277.80) scale(1.08,1)" font-size="7.3" text-anchor="middle">2E</text>
<line x1="163.4" x2="163.4" y1="269" y2="270.2" stroke="#555" stroke-width="0.7"/>
<text transform="translate(163.40,277.80) scale(1.08,1)" font-size="7.3" text-anchor="middle">4E</text>
<polygon points="21,284.0 28,281.5 166.6,281.5 174,284.0 166.6,286.5 28,286.5" fill="url(#cg)" stroke="#444" stroke-width="0.5" shape-rendering="auto"/>
<line x1="28.0" x2="28.0" y1="286.5" y2="288.0" stroke="#333" stroke-width="0.6"/>
<text transform="translate(28.00,295.30) scale(1.08,1)" font-size="7.3" text-anchor="middle">0</text>
<line x1="74.2" x2="74.2" y1="286.5" y2="288.0" stroke="#333" stroke-width="0.6"/>
<text transform="translate(74.20,295.30) scale(1.08,1)" font-size="7.3" text-anchor="middle">10</text>
<line x1="120.4" x2="120.4" y1="286.5" y2="288.0" stroke="#333" stroke-width="0.6"/>
<text transform="translate(120.40,295.30) scale(1.08,1)" font-size="7.3" text-anchor="middle">20</text>
<line x1="166.6" x2="166.6" y1="286.5" y2="288.0" stroke="#333" stroke-width="0.6"/>
<text transform="translate(166.60,295.30) scale(1.08,1)" font-size="7.3" text-anchor="middle">30</text>
<text transform="translate(97.30,305.20) scale(1.08,1)" font-size="7.3" text-anchor="middle">rel. False bias [%]</text>
<clipPath id="cp4"><rect x="207" y="160" width="152" height="108"/></clipPath><g clip-path="url(#cp4)">
<g transform="translate(202.89,158.68) scale(1.5162,1.8480)" shape-rendering="auto"><path fill="#fe9929" d="M13 2h1v1h-1zM12 3h1v1h-1zM19 5h1v1h-1zM21 5h1v1h-1zM6 7h1v1h-1zM51 7h1v1h-1zM54 7h1v1h-1zM8 8h1v1h-1zM10 8h2v1h-2zM18 8h1v1h-1zM25 8h1v1h-1zM57 8h1v1h-1zM6 9h1v1h-1zM20 10h1v1h-1zM18 11h1v1h-1zM20 11h1v1h-1zM7 12h1v1h-1zM31 12h1v1h-1zM50 12h1v1h-1zM19 13h2v1h-2zM31 13h1v1h-1zM39 13h1v1h-1zM44 13h1v1h-1zM46 13h1v1h-1zM25 14h1v1h-1zM27 14h1v1h-1zM33 14h1v1h-1zM45 15h1v1h-1zM74 15h1v1h-1zM86 15h1v1h-1zM55 16h1v1h-1zM52 17h1v1h-1zM33 18h1v1h-1zM48 18h1v1h-1zM37 19h1v1h-1zM51 19h1v1h-1zM21 21h1v1h-1zM27 21h1v1h-1zM36 21h1v1h-1zM57 21h1v1h-1zM20 22h1v1h-1zM47 23h1v1h-1zM74 23h1v1h-1zM22 24h1v1h-1zM52 24h1v1h-1zM73 24h1v1h-1zM20 25h1v1h-1zM25 25h1v1h-1zM53 26h1v1h-1zM72 26h1v1h-1zM21 27h1v1h-1zM53 27h1v1h-1zM68 27h1v1h-1zM29 28h1v1h-1zM56 28h1v1h-1zM22 29h2v1h-2zM35 29h1v1h-1zM63 29h1v1h-1zM68 29h1v1h-1zM42 31h1v1h-1zM52 31h1v1h-1zM93 31h1v1h-1zM35 32h1v1h-1zM60 32h1v1h-1zM30 33h3v1h-3zM37 33h1v1h-1zM50 33h1v1h-1zM28 34h1v1h-1zM31 34h1v1h-1zM46 34h1v1h-1zM21 35h2v1h-2zM35 35h1v1h-1zM53 35h1v1h-1zM49 36h1v1h-1zM58 36h1v1h-1zM22 37h1v1h-1zM24 37h1v1h-1zM30 37h1v1h-1zM32 37h1v1h-1zM36 37h1v1h-1zM41 37h1v1h-1zM43 37h1v1h-1zM67 37h1v1h-1zM18 38h1v1h-1zM26 38h1v1h-1zM40 38h1v1h-1zM48 39h1v1h-1zM20 40h1v1h-1zM23 41h1v1h-1zM51 42h1v1h-1zM30 43h1v1h-1zM19 44h1v1h-1zM22 44h1v1h-1zM25 44h1v1h-1zM43 44h1v1h-1zM29 45h1v1h-1zM21 46h1v1h-1zM28 46h1v1h-1zM36 46h1v1h-1zM36 47h1v1h-1zM32 48h1v1h-1zM28 49h1v1h-1zM30 49h1v1h-1zM34 50h1v1h-1zM38 50h1v1h-1zM29 51h2v1h-2zM34 51h1v1h-1zM35 53h1v1h-1zM27 55h1v1h-1z"/><path fill="#fea736" d="M13 3h1v1h-1zM21 4h1v1h-1zM8 5h1v1h-1zM20 6h1v1h-1zM22 6h1v1h-1zM7 7h1v1h-1zM55 7h1v1h-1zM61 7h1v1h-1zM3 8h1v1h-1zM5 8h2v1h-2zM22 8h1v1h-1zM29 8h1v1h-1zM53 8h1v1h-1zM7 9h1v1h-1zM27 9h1v1h-1zM31 9h1v1h-1zM48 9h1v1h-1zM5 11h1v1h-1zM15 12h1v1h-1zM54 12h1v1h-1zM7 13h1v1h-1zM29 13h1v1h-1zM32 13h1v1h-1zM35 13h1v1h-1zM43 13h1v1h-1zM56 13h1v1h-1zM14 14h1v1h-1zM22 14h1v1h-1zM68 15h1v1h-1zM34 17h1v1h-1zM73 22h1v1h-1zM21 23h1v1h-1zM53 23h1v1h-1zM24 25h1v1h-1zM30 25h1v1h-1zM37 26h1v1h-1zM70 26h1v1h-1zM33 27h1v1h-1zM44 27h1v1h-1zM33 28h1v1h-1zM41 29h1v1h-1zM39 31h1v1h-1zM23 32h2v1h-2zM33 32h1v1h-1zM47 32h1v1h-1zM51 32h1v1h-1zM53 32h1v1h-1zM62 32h1v1h-1zM19 33h1v1h-1zM29 33h1v1h-1zM18 34h1v1h-1zM27 34h1v1h-1zM51 34h1v1h-1zM28 35h1v1h-1zM38 35h1v1h-1zM43 35h1v1h-1zM23 36h1v1h-1zM33 36h1v1h-1zM35 36h1v1h-1zM37 36h1v1h-1zM48 36h1v1h-1zM35 37h1v1h-1zM39 37h1v1h-1zM47 37h1v1h-1zM24 38h1v1h-1zM32 38h1v1h-1zM43 38h1v1h-1zM46 38h1v1h-1zM48 38h1v1h-1zM58 38h1v1h-1zM25 39h2v1h-2zM30 39h1v1h-1zM35 39h1v1h-1zM40 39h1v1h-1zM19 40h1v1h-1zM32 40h1v1h-1zM20 41h1v1h-1zM33 41h1v1h-1zM38 41h1v1h-1zM22 42h2v1h-2zM29 42h1v1h-1zM45 42h1v1h-1zM50 42h1v1h-1zM40 43h1v1h-1zM20 44h1v1h-1zM23 44h1v1h-1zM26 44h1v1h-1zM31 44h1v1h-1zM34 44h1v1h-1zM39 44h1v1h-1zM31 45h1v1h-1zM20 46h1v1h-1zM25 46h1v1h-1zM31 46h1v1h-1zM43 46h1v1h-1zM18 47h1v1h-1zM33 47h1v1h-1zM18 48h1v1h-1zM23 48h1v1h-1zM17 49h1v1h-1zM20 49h1v1h-1zM23 50h1v1h-1zM22 51h1v1h-1zM26 52h1v1h-1zM26 53h1v1h-1zM31 54h1v1h-1zM29 55h1v1h-1z"/><path fill="#fff7bc" d="M14 3h1v1h-1zM17 4h1v1h-1zM16 8h1v1h-1zM12 12h1v1h-1zM17 13h1v1h-1z"/><path fill="#fed97b" d="M15 3h1v1h-1zM16 4h1v1h-1zM10 6h1v1h-1zM14 9h1v1h-1zM19 9h1v1h-1zM19 10h1v1h-1zM17 12h1v1h-1zM36 13h1v1h-1zM9 14h1v1h-1zM21 14h1v1h-1zM17 15h1v1h-1zM24 19h1v1h-1zM25 26h1v1h-1zM24 27h1v1h-1zM32 30h1v1h-1zM20 31h1v1h-1zM15 32h1v1h-1zM38 34h1v1h-1zM42 34h1v1h-1zM18 36h1v1h-1zM24 36h1v1h-1zM28 38h1v1h-1zM29 39h1v1h-1zM22 40h1v1h-1zM37 43h1v1h-1zM36 44h1v1h-1zM28 50h1v1h-1z"/><path fill="#fec44f" d="M17 3h1v1h-1zM23 4h1v1h-1zM7 5h1v1h-1zM9 5h1v1h-1zM12 5h1v1h-1zM20 5h1v1h-1zM9 6h1v1h-1zM11 6h1v1h-1zM16 6h1v1h-1zM19 6h1v1h-1zM3 7h1v1h-1zM22 7h1v1h-1zM53 7h1v1h-1zM7 8h1v1h-1zM19 8h2v1h-2zM8 9h2v1h-2zM12 9h1v1h-1zM17 9h1v1h-1zM20 9h1v1h-1zM12 11h1v1h-1zM27 11h1v1h-1zM49 11h1v1h-1zM22 12h1v1h-1zM9 13h1v1h-1zM42 13h1v1h-1zM6 14h1v1h-1zM23 14h1v1h-1zM27 16h1v1h-1zM45 16h1v1h-1zM27 17h1v1h-1zM27 20h1v1h-1zM41 21h1v1h-1zM21 22h1v1h-1zM51 24h1v1h-1zM51 28h1v1h-1zM27 29h1v1h-1zM31 29h1v1h-1zM31 30h1v1h-1zM18 31h1v1h-1zM23 31h1v1h-1zM19 32h1v1h-1zM22 32h1v1h-1zM65 32h1v1h-1zM22 33h1v1h-1zM24 33h1v1h-1zM36 33h1v1h-1zM41 33h1v1h-1zM51 33h1v1h-1zM33 34h1v1h-1zM41 34h1v1h-1zM26 35h1v1h-1zM31 35h1v1h-1zM28 36h1v1h-1zM34 36h1v1h-1zM45 36h1v1h-1zM50 36h1v1h-1zM20 37h2v1h-2zM30 38h1v1h-1zM34 38h1v1h-1zM19 39h1v1h-1zM23 39h1v1h-1zM30 40h1v1h-1zM39 40h1v1h-1zM21 41h1v1h-1zM28 42h1v1h-1zM41 42h1v1h-1zM21 43h2v1h-2zM26 43h1v1h-1zM35 44h1v1h-1zM27 47h1v1h-1zM24 48h1v1h-1zM24 49h1v1h-1zM27 52h1v1h-1zM27 54h1v1h-1z"/><path fill="#feb642" d="M18 3h1v1h-1zM22 3h1v1h-1zM27 6h1v1h-1zM41 6h1v1h-1zM54 6h1v1h-1zM9 8h1v1h-1zM17 8h1v1h-1zM21 8h1v1h-1zM13 9h1v1h-1zM15 9h1v1h-1zM12 10h1v1h-1zM17 10h2v1h-2zM26 10h1v1h-1zM7 11h1v1h-1zM28 11h1v1h-1zM30 11h2v1h-2zM11 12h1v1h-1zM21 12h1v1h-1zM6 13h1v1h-1zM10 13h1v1h-1zM12 13h1v1h-1zM18 13h1v1h-1zM26 13h1v1h-1zM34 13h1v1h-1zM50 13h1v1h-1zM16 14h2v1h-2zM20 14h1v1h-1zM31 14h1v1h-1zM28 16h1v1h-1zM49 16h1v1h-1zM23 17h1v1h-1zM27 19h1v1h-1zM29 19h1v1h-1zM52 19h1v1h-1zM55 28h1v1h-1zM29 29h1v1h-1zM32 29h1v1h-1zM34 29h1v1h-1zM51 29h1v1h-1zM73 29h1v1h-1zM54 30h1v1h-1zM19 31h1v1h-1zM28 31h1v1h-1zM38 31h1v1h-1zM40 31h1v1h-1zM29 32h1v1h-1zM36 32h3v1h-3zM16 33h1v1h-1zM35 33h1v1h-1zM55 33h1v1h-1zM39 34h1v1h-1zM49 35h1v1h-1zM41 36h1v1h-1zM25 37h1v1h-1zM34 37h1v1h-1zM38 37h1v1h-1zM44 37h1v1h-1zM19 38h1v1h-1zM27 38h1v1h-1zM51 38h1v1h-1zM36 40h1v1h-1zM38 40h1v1h-1zM46 40h1v1h-1zM24 41h1v1h-1zM37 41h1v1h-1zM20 42h1v1h-1zM37 42h1v1h-1zM27 43h1v1h-1zM38 43h1v1h-1zM41 43h1v1h-1zM16 45h1v1h-1zM35 45h1v1h-1zM26 46h1v1h-1zM37 46h1v1h-1zM23 47h1v1h-1zM29 48h1v1h-1zM37 48h1v1h-1zM23 49h1v1h-1zM21 50h2v1h-2zM25 50h1v1h-1zM27 53h1v1h-1z"/><path fill="#fffaca" d="M19 3h1v1h-1zM13 6h1v1h-1zM8 7h1v1h-1zM10 7h1v1h-1zM20 7h1v1h-1zM13 11h1v1h-1zM20 38h1v1h-1z"/><path fill="#fece65" d="M21 3h1v1h-1zM15 4h1v1h-1zM19 4h1v1h-1zM32 5h1v1h-1zM6 6h1v1h-1zM17 6h1v1h-1zM16 7h1v1h-1zM52 7h1v1h-1zM5 9h1v1h-1zM18 9h1v1h-1zM4 10h1v1h-1zM8 11h1v1h-1zM22 11h1v1h-1zM16 12h1v1h-1zM7 14h1v1h-1zM11 14h3v1h-3zM53 14h1v1h-1zM12 15h1v1h-1zM14 15h1v1h-1zM24 17h1v1h-1zM29 24h1v1h-1zM24 26h1v1h-1zM36 30h1v1h-1zM39 30h1v1h-1zM51 30h1v1h-1zM21 31h2v1h-2zM16 32h1v1h-1zM39 32h1v1h-1zM48 32h1v1h-1zM33 33h1v1h-1zM18 35h1v1h-1zM23 35h1v1h-1zM26 37h1v1h-1zM35 38h2v1h-2zM54 38h1v1h-1zM37 39h1v1h-1zM47 39h1v1h-1zM22 41h1v1h-1zM19 43h1v1h-1zM33 43h2v1h-2zM24 44h1v1h-1zM32 45h1v1h-1zM22 48h1v1h-1z"/><path fill="#bb4403" d="M23 3h1v1h-1zM35 4h1v1h-1zM39 4h1v1h-1zM50 5h1v1h-1zM29 6h1v1h-1zM23 7h1v1h-1zM30 7h1v1h-1zM24 8h1v1h-1zM59 9h1v1h-1zM61 9h1v1h-1zM63 9h2v1h-2zM24 10h1v1h-1zM50 10h1v1h-1zM57 10h1v1h-1zM64 10h1v1h-1zM68 10h1v1h-1zM37 11h1v1h-1zM44 11h1v1h-1zM63 11h1v1h-1zM74 11h1v1h-1zM81 11h1v1h-1zM47 12h1v1h-1zM76 12h1v1h-1zM79 12h1v1h-1zM89 12h1v1h-1zM45 13h1v1h-1zM82 13h1v1h-1zM40 14h1v1h-1zM43 14h1v1h-1zM51 14h1v1h-1zM57 14h1v1h-1zM61 14h1v1h-1zM76 14h1v1h-1zM85 14h1v1h-1zM58 15h1v1h-1zM61 15h1v1h-1zM65 15h1v1h-1zM70 15h1v1h-1zM80 15h1v1h-1zM87 15h1v1h-1zM33 16h2v1h-2zM41 16h1v1h-1zM59 16h2v1h-2zM68 16h1v1h-1zM80 16h1v1h-1zM40 17h1v1h-1zM62 17h1v1h-1zM78 17h1v1h-1zM40 18h1v1h-1zM42 18h1v1h-1zM47 18h1v1h-1zM59 18h1v1h-1zM66 18h1v1h-1zM71 18h1v1h-1zM60 19h1v1h-1zM76 19h2v1h-2zM83 19h1v1h-1zM29 20h1v1h-1zM45 20h1v1h-1zM54 20h1v1h-1zM57 20h1v1h-1zM59 20h1v1h-1zM31 21h1v1h-1zM33 21h1v1h-1zM49 21h1v1h-1zM56 21h1v1h-1zM64 21h1v1h-1zM74 21h1v1h-1zM29 22h1v1h-1zM43 22h1v1h-1zM57 22h1v1h-1zM28 23h1v1h-1zM67 23h1v1h-1zM26 24h1v1h-1zM31 24h1v1h-1zM34 24h1v1h-1zM71 24h1v1h-1zM41 25h1v1h-1zM55 25h1v1h-1zM57 25h2v1h-2zM33 26h1v1h-1zM43 26h1v1h-1zM48 26h2v1h-2zM22 27h1v1h-1zM42 27h1v1h-1zM70 27h1v1h-1zM46 29h1v1h-1zM74 29h1v1h-1zM90 29h1v1h-1zM99 30h1v1h-1zM88 31h1v1h-1zM59 32h1v1h-1zM92 32h2v1h-2zM54 33h1v1h-1zM56 33h1v1h-1zM59 33h1v1h-1zM89 33h1v1h-1zM60 34h1v1h-1zM64 34h1v1h-1zM58 35h1v1h-1zM32 36h1v1h-1zM65 36h1v1h-1zM68 36h1v1h-1zM37 37h1v1h-1zM57 37h1v1h-1zM37 38h1v1h-1zM66 38h1v1h-1zM29 40h1v1h-1zM57 40h1v1h-1zM61 42h1v1h-1zM63 42h1v1h-1zM48 43h1v1h-1zM55 43h1v1h-1zM60 43h1v1h-1zM21 44h1v1h-1zM52 44h1v1h-1zM53 45h1v1h-1zM58 45h1v1h-1zM18 46h1v1h-1zM45 46h2v1h-2zM50 47h1v1h-1zM17 48h1v1h-1zM35 48h1v1h-1zM47 48h2v1h-2zM36 49h1v1h-1zM47 49h1v1h-1zM50 50h1v1h-1zM43 51h1v1h-1zM51 51h1v1h-1zM49 52h1v1h-1zM30 53h1v1h-1z"/><path fill="#cc4c02" d="M24 3h1v1h-1zM17 5h1v1h-1zM39 5h1v1h-1zM42 5h1v1h-1zM26 6h1v1h-1zM35 6h2v1h-2zM45 6h1v1h-1zM49 6h1v1h-1zM62 7h1v1h-1zM37 8h4v1h-4zM59 8h1v1h-1zM33 9h1v1h-1zM47 9h1v1h-1zM56 9h1v1h-1zM28 10h1v1h-1zM55 11h1v1h-1zM60 11h1v1h-1zM28 12h1v1h-1zM36 12h1v1h-1zM46 12h1v1h-1zM52 12h1v1h-1zM77 12h1v1h-1zM62 13h1v1h-1zM67 13h1v1h-1zM30 14h1v1h-1zM42 14h1v1h-1zM45 14h1v1h-1zM47 14h1v1h-1zM56 14h1v1h-1zM65 14h1v1h-1zM78 14h1v1h-1zM37 15h1v1h-1zM55 15h1v1h-1zM73 15h1v1h-1zM23 16h1v1h-1zM25 16h1v1h-1zM37 16h1v1h-1zM64 16h1v1h-1zM55 17h1v1h-1zM60 17h1v1h-1zM64 17h2v1h-2zM73 17h1v1h-1zM80 17h1v1h-1zM24 18h1v1h-1zM34 18h1v1h-1zM76 18h1v1h-1zM33 19h1v1h-1zM41 19h1v1h-1zM45 19h1v1h-1zM66 19h2v1h-2zM75 19h1v1h-1zM38 20h1v1h-1zM50 20h2v1h-2zM70 20h2v1h-2zM73 20h1v1h-1zM47 21h1v1h-1zM60 21h1v1h-1zM69 21h1v1h-1zM78 21h2v1h-2zM58 22h1v1h-1zM60 22h1v1h-1zM25 23h1v1h-1zM34 23h1v1h-1zM37 23h1v1h-1zM53 24h1v1h-1zM55 24h1v1h-1zM57 24h1v1h-1zM64 24h1v1h-1zM35 25h1v1h-1zM60 25h1v1h-1zM71 25h1v1h-1zM41 26h1v1h-1zM55 26h1v1h-1zM43 27h1v1h-1zM45 27h1v1h-1zM63 27h2v1h-2zM67 27h1v1h-1zM98 28h1v1h-1zM65 29h1v1h-1zM99 29h1v1h-1zM24 30h1v1h-1zM35 30h1v1h-1zM45 30h1v1h-1zM73 30h1v1h-1zM24 31h1v1h-1zM35 31h1v1h-1zM43 31h1v1h-1zM45 31h1v1h-1zM61 31h1v1h-1zM26 32h1v1h-1zM46 32h1v1h-1zM49 33h1v1h-1zM48 34h1v1h-1zM55 34h1v1h-1zM66 34h1v1h-1zM30 36h1v1h-1zM42 36h1v1h-1zM66 36h1v1h-1zM48 37h1v1h-1zM50 37h1v1h-1zM68 37h1v1h-1zM29 38h1v1h-1zM55 39h1v1h-1zM41 41h1v1h-1zM46 41h1v1h-1zM50 41h1v1h-1zM58 41h1v1h-1zM60 41h1v1h-1zM60 42h1v1h-1zM46 43h1v1h-1zM45 44h2v1h-2zM59 44h1v1h-1zM22 45h1v1h-1zM46 45h1v1h-1zM35 46h1v1h-1zM52 46h1v1h-1zM54 46h1v1h-1zM29 47h1v1h-1zM40 47h1v1h-1zM44 47h1v1h-1zM43 48h2v1h-2zM22 49h1v1h-1zM52 49h1v1h-1zM20 50h1v1h-1zM38 51h1v1h-1zM44 52h1v1h-1zM30 55h2v1h-2zM29 56h1v1h-1z"/><path fill="#d75808" d="M25 3h1v1h-1zM29 3h1v1h-1zM22 4h1v1h-1zM28 4h1v1h-1zM50 4h1v1h-1zM23 5h1v1h-1zM43 5h1v1h-1zM42 6h2v1h-2zM48 6h1v1h-1zM24 7h1v1h-1zM41 7h1v1h-1zM49 7h1v1h-1zM49 8h2v1h-2zM60 8h1v1h-1zM40 9h1v1h-1zM50 9h1v1h-1zM43 10h1v1h-1zM23 11h1v1h-1zM29 11h1v1h-1zM35 11h1v1h-1zM18 12h1v1h-1zM29 12h1v1h-1zM55 12h1v1h-1zM83 12h1v1h-1zM33 13h1v1h-1zM48 13h1v1h-1zM54 13h1v1h-1zM65 13h1v1h-1zM80 13h1v1h-1zM39 14h1v1h-1zM52 14h1v1h-1zM55 14h1v1h-1zM66 14h1v1h-1zM68 14h1v1h-1zM77 14h1v1h-1zM82 14h1v1h-1zM22 15h1v1h-1zM59 15h1v1h-1zM72 15h1v1h-1zM75 15h1v1h-1zM88 15h1v1h-1zM38 16h1v1h-1zM40 16h1v1h-1zM42 16h1v1h-1zM51 16h1v1h-1zM54 16h1v1h-1zM62 16h1v1h-1zM39 17h1v1h-1zM69 17h1v1h-1zM72 17h1v1h-1zM82 17h2v1h-2zM35 18h1v1h-1zM53 18h1v1h-1zM75 18h1v1h-1zM30 19h1v1h-1zM40 19h1v1h-1zM48 19h1v1h-1zM63 19h1v1h-1zM24 20h1v1h-1zM28 20h1v1h-1zM63 20h1v1h-1zM44 21h1v1h-1zM59 21h1v1h-1zM24 22h2v1h-2zM34 22h2v1h-2zM48 22h1v1h-1zM54 22h1v1h-1zM56 22h1v1h-1zM74 22h1v1h-1zM23 23h1v1h-1zM26 23h1v1h-1zM42 23h1v1h-1zM55 23h1v1h-1zM58 23h1v1h-1zM68 23h1v1h-1zM35 24h1v1h-1zM38 24h1v1h-1zM49 24h1v1h-1zM54 24h1v1h-1zM58 24h2v1h-2zM72 24h1v1h-1zM74 24h1v1h-1zM32 25h1v1h-1zM45 25h1v1h-1zM47 25h1v1h-1zM49 25h1v1h-1zM53 25h2v1h-2zM61 25h1v1h-1zM68 25h1v1h-1zM72 25h1v1h-1zM28 26h2v1h-2zM32 26h1v1h-1zM45 26h1v1h-1zM47 26h1v1h-1zM52 26h1v1h-1zM56 26h1v1h-1zM31 27h1v1h-1zM35 27h1v1h-1zM49 27h1v1h-1zM67 28h1v1h-1zM70 28h1v1h-1zM43 29h1v1h-1zM29 30h1v1h-1zM47 30h1v1h-1zM56 30h1v1h-1zM63 30h1v1h-1zM48 31h1v1h-1zM63 31h1v1h-1zM66 31h1v1h-1zM30 32h1v1h-1zM41 32h1v1h-1zM34 33h1v1h-1zM47 34h1v1h-1zM50 34h1v1h-1zM45 35h1v1h-1zM65 35h1v1h-1zM68 35h1v1h-1zM47 36h1v1h-1zM56 36h1v1h-1zM61 36h1v1h-1zM19 37h1v1h-1zM23 38h1v1h-1zM44 38h1v1h-1zM18 39h1v1h-1zM42 39h2v1h-2zM49 39h1v1h-1zM51 39h1v1h-1zM63 39h1v1h-1zM53 40h1v1h-1zM55 40h1v1h-1zM61 40h1v1h-1zM65 40h1v1h-1zM53 41h1v1h-1zM54 42h1v1h-1zM62 42h1v1h-1zM64 42h1v1h-1zM25 43h1v1h-1zM43 43h1v1h-1zM49 43h1v1h-1zM57 43h1v1h-1zM32 44h1v1h-1zM47 44h1v1h-1zM49 44h1v1h-1zM51 44h1v1h-1zM49 45h1v1h-1zM54 45h1v1h-1zM58 46h1v1h-1zM22 47h1v1h-1zM25 47h2v1h-2zM42 47h1v1h-1zM27 48h1v1h-1zM33 48h1v1h-1zM39 48h1v1h-1zM45 48h1v1h-1zM31 49h1v1h-1zM37 49h1v1h-1zM42 49h1v1h-1zM36 50h1v1h-1zM27 51h1v1h-1zM33 51h1v1h-1zM23 52h2v1h-2zM32 53h1v1h-1zM34 53h1v1h-1zM28 55h1v1h-1z"/><path fill="#aa3c03" d="M27 3h1v1h-1zM37 5h1v1h-1zM33 6h2v1h-2zM40 6h1v1h-1zM44 7h1v1h-1zM46 7h1v1h-1zM44 8h1v1h-1zM47 8h1v1h-1zM55 8h1v1h-1zM23 9h1v1h-1zM42 9h1v1h-1zM42 10h1v1h-1zM59 10h1v1h-1zM74 10h1v1h-1zM48 11h1v1h-1zM51 11h1v1h-1zM66 11h2v1h-2zM77 11h1v1h-1zM20 12h1v1h-1zM39 12h1v1h-1zM61 12h1v1h-1zM67 12h2v1h-2zM92 12h1v1h-1zM59 13h1v1h-1zM73 13h1v1h-1zM75 13h1v1h-1zM84 13h1v1h-1zM89 13h1v1h-1zM26 14h1v1h-1zM87 14h1v1h-1zM54 15h1v1h-1zM56 15h1v1h-1zM69 15h1v1h-1zM73 16h1v1h-1zM76 16h2v1h-2zM84 16h1v1h-1zM86 16h1v1h-1zM37 17h1v1h-1zM77 17h1v1h-1zM49 18h1v1h-1zM63 18h1v1h-1zM69 18h1v1h-1zM69 19h1v1h-1zM73 19h1v1h-1zM32 20h1v1h-1zM43 20h1v1h-1zM68 20h2v1h-2zM34 21h1v1h-1zM40 21h1v1h-1zM66 21h1v1h-1zM70 21h1v1h-1zM44 22h1v1h-1zM61 22h1v1h-1zM63 22h1v1h-1zM68 22h2v1h-2zM72 22h1v1h-1zM24 23h1v1h-1zM43 23h2v1h-2zM63 23h1v1h-1zM63 24h1v1h-1zM23 25h1v1h-1zM39 25h2v1h-2zM52 25h1v1h-1zM64 25h1v1h-1zM58 26h2v1h-2zM68 26h1v1h-1zM71 26h1v1h-1zM47 27h1v1h-1zM42 28h1v1h-1zM45 28h1v1h-1zM48 28h1v1h-1zM61 28h1v1h-1zM55 29h1v1h-1zM59 29h1v1h-1zM89 30h1v1h-1zM64 31h1v1h-1zM89 32h2v1h-2zM63 34h1v1h-1zM92 34h1v1h-1zM62 35h1v1h-1zM64 35h1v1h-1zM60 36h1v1h-1zM31 38h1v1h-1zM64 38h1v1h-1zM67 38h1v1h-1zM59 39h1v1h-1zM62 39h1v1h-1zM62 40h1v1h-1zM64 40h1v1h-1zM42 41h1v1h-1zM42 42h1v1h-1zM42 43h1v1h-1zM33 44h1v1h-1zM50 44h1v1h-1zM61 45h1v1h-1zM51 46h1v1h-1zM59 46h1v1h-1zM45 47h1v1h-1zM42 48h1v1h-1zM41 50h1v1h-1zM33 53h1v1h-1zM33 54h1v1h-1zM26 55h1v1h-1z"/><path fill="#ec7014" d="M28 3h1v1h-1zM34 5h1v1h-1zM40 5h1v1h-1zM23 6h1v1h-1zM39 6h1v1h-1zM56 6h2v1h-2zM25 7h1v1h-1zM42 7h1v1h-1zM30 8h1v1h-1zM36 8h1v1h-1zM4 9h1v1h-1zM21 10h1v1h-1zM34 10h1v1h-1zM53 10h1v1h-1zM60 10h1v1h-1zM34 11h1v1h-1zM50 11h1v1h-1zM91 11h1v1h-1zM30 12h1v1h-1zM37 12h1v1h-1zM49 12h1v1h-1zM59 12h1v1h-1zM82 12h1v1h-1zM87 12h1v1h-1zM37 13h1v1h-1zM61 13h1v1h-1zM70 13h1v1h-1zM35 14h2v1h-2zM49 14h1v1h-1zM64 14h1v1h-1zM20 15h1v1h-1zM41 15h1v1h-1zM44 15h1v1h-1zM53 15h1v1h-1zM26 16h1v1h-1zM30 16h1v1h-1zM35 16h1v1h-1zM58 16h1v1h-1zM79 16h1v1h-1zM29 17h1v1h-1zM36 17h1v1h-1zM43 17h1v1h-1zM46 17h1v1h-1zM48 17h1v1h-1zM71 17h1v1h-1zM50 18h1v1h-1zM64 18h1v1h-1zM74 19h1v1h-1zM41 20h1v1h-1zM47 20h1v1h-1zM52 20h1v1h-1zM62 20h1v1h-1zM80 20h2v1h-2zM29 21h1v1h-1zM52 21h1v1h-1zM55 21h1v1h-1zM62 21h1v1h-1zM73 21h1v1h-1zM27 22h1v1h-1zM41 22h1v1h-1zM45 22h1v1h-1zM59 22h1v1h-1zM22 23h1v1h-1zM57 23h1v1h-1zM61 23h1v1h-1zM24 24h1v1h-1zM27 24h1v1h-1zM43 24h2v1h-2zM22 25h1v1h-1zM38 25h1v1h-1zM51 25h1v1h-1zM20 26h1v1h-1zM65 26h1v1h-1zM26 27h1v1h-1zM50 27h1v1h-1zM62 27h1v1h-1zM22 28h1v1h-1zM31 28h1v1h-1zM38 28h1v1h-1zM40 28h1v1h-1zM53 28h2v1h-2zM59 28h1v1h-1zM58 29h1v1h-1zM60 29h1v1h-1zM22 30h1v1h-1zM40 30h1v1h-1zM58 30h1v1h-1zM60 30h1v1h-1zM34 31h1v1h-1zM46 31h1v1h-1zM62 31h1v1h-1zM27 32h1v1h-1zM55 32h1v1h-1zM57 32h1v1h-1zM21 33h1v1h-1zM38 33h1v1h-1zM43 33h1v1h-1zM53 33h1v1h-1zM63 33h1v1h-1zM23 34h1v1h-1zM29 34h1v1h-1zM34 34h2v1h-2zM37 34h1v1h-1zM40 34h1v1h-1zM54 34h1v1h-1zM62 34h1v1h-1zM25 35h1v1h-1zM37 35h1v1h-1zM47 35h2v1h-2zM50 35h1v1h-1zM40 36h1v1h-1zM44 36h1v1h-1zM46 37h1v1h-1zM55 37h1v1h-1zM58 37h1v1h-1zM70 37h1v1h-1zM21 38h1v1h-1zM33 38h1v1h-1zM60 38h1v1h-1zM67 39h1v1h-1zM42 40h1v1h-1zM50 40h2v1h-2zM63 40h1v1h-1zM45 41h1v1h-1zM49 41h1v1h-1zM63 41h1v1h-1zM35 42h2v1h-2zM47 42h1v1h-1zM55 42h1v1h-1zM52 43h1v1h-1zM37 44h1v1h-1zM28 45h1v1h-1zM40 45h1v1h-1zM48 45h1v1h-1zM55 45h1v1h-1zM32 46h2v1h-2zM49 47h1v1h-1zM20 48h1v1h-1zM30 48h1v1h-1zM18 49h1v1h-1zM37 50h1v1h-1zM24 51h1v1h-1zM26 51h1v1h-1zM28 51h1v1h-1zM45 51h1v1h-1zM54 51h1v1h-1zM25 52h1v1h-1zM29 52h1v1h-1zM32 52h1v1h-1zM38 52h1v1h-1zM42 52h1v1h-1zM25 53h1v1h-1z"/><path fill="#f27e1b" d="M10 4h1v1h-1zM27 4h1v1h-1zM35 5h1v1h-1zM41 5h1v1h-1zM7 6h1v1h-1zM32 6h1v1h-1zM60 7h1v1h-1zM27 8h1v1h-1zM24 9h1v1h-1zM26 9h1v1h-1zM32 9h1v1h-1zM57 9h1v1h-1zM60 9h1v1h-1zM7 10h1v1h-1zM29 10h1v1h-1zM35 10h1v1h-1zM37 10h2v1h-2zM55 10h1v1h-1zM26 12h1v1h-1zM32 12h1v1h-1zM38 12h1v1h-1zM43 12h1v1h-1zM48 12h1v1h-1zM5 13h1v1h-1zM21 13h1v1h-1zM27 13h1v1h-1zM30 13h1v1h-1zM10 14h1v1h-1zM37 14h1v1h-1zM23 15h1v1h-1zM26 15h1v1h-1zM39 15h1v1h-1zM62 15h1v1h-1zM76 15h1v1h-1zM82 15h1v1h-1zM84 15h1v1h-1zM43 16h1v1h-1zM61 16h1v1h-1zM71 16h1v1h-1zM31 17h1v1h-1zM74 17h1v1h-1zM26 18h1v1h-1zM43 18h1v1h-1zM52 18h1v1h-1zM26 20h1v1h-1zM34 20h1v1h-1zM40 20h1v1h-1zM44 20h1v1h-1zM77 20h1v1h-1zM28 21h1v1h-1zM43 21h1v1h-1zM28 22h1v1h-1zM30 22h1v1h-1zM52 22h1v1h-1zM62 22h1v1h-1zM40 23h1v1h-1zM50 23h1v1h-1zM28 24h1v1h-1zM48 24h1v1h-1zM69 24h1v1h-1zM31 26h1v1h-1zM35 26h2v1h-2zM40 26h1v1h-1zM46 26h1v1h-1zM57 26h1v1h-1zM69 26h1v1h-1zM27 27h1v1h-1zM34 27h1v1h-1zM40 27h1v1h-1zM48 27h1v1h-1zM65 27h2v1h-2zM39 28h1v1h-1zM47 28h1v1h-1zM57 28h1v1h-1zM25 29h1v1h-1zM33 29h1v1h-1zM23 30h1v1h-1zM27 30h1v1h-1zM30 30h1v1h-1zM34 30h1v1h-1zM53 30h1v1h-1zM55 30h1v1h-1zM67 30h1v1h-1zM74 30h1v1h-1zM27 31h1v1h-1zM41 31h1v1h-1zM49 31h1v1h-1zM25 32h1v1h-1zM32 32h1v1h-1zM34 32h1v1h-1zM42 32h1v1h-1zM49 32h1v1h-1zM25 33h1v1h-1zM27 33h1v1h-1zM48 33h1v1h-1zM25 34h2v1h-2zM43 34h1v1h-1zM45 34h1v1h-1zM53 34h1v1h-1zM57 34h1v1h-1zM24 35h1v1h-1zM52 35h1v1h-1zM59 35h1v1h-1zM66 35h1v1h-1zM19 36h1v1h-1zM21 36h1v1h-1zM39 36h1v1h-1zM52 36h1v1h-1zM59 36h1v1h-1zM64 36h1v1h-1zM33 37h1v1h-1zM45 37h1v1h-1zM52 37h1v1h-1zM62 37h1v1h-1zM52 38h1v1h-1zM59 38h1v1h-1zM62 38h1v1h-1zM69 38h1v1h-1zM20 39h1v1h-1zM24 39h1v1h-1zM41 39h1v1h-1zM53 39h1v1h-1zM21 40h1v1h-1zM23 40h1v1h-1zM44 40h1v1h-1zM18 41h1v1h-1zM26 41h2v1h-2zM44 41h1v1h-1zM51 41h1v1h-1zM19 42h1v1h-1zM27 42h1v1h-1zM38 42h1v1h-1zM43 42h1v1h-1zM20 43h1v1h-1zM31 43h2v1h-2zM35 43h1v1h-1zM18 44h1v1h-1zM27 44h1v1h-1zM30 44h1v1h-1zM41 44h1v1h-1zM27 45h1v1h-1zM34 45h1v1h-1zM36 45h1v1h-1zM41 45h1v1h-1zM30 46h1v1h-1zM42 46h1v1h-1zM20 47h2v1h-2zM31 47h1v1h-1zM38 47h1v1h-1zM21 48h1v1h-1zM25 48h1v1h-1zM36 48h1v1h-1zM38 48h1v1h-1zM44 49h1v1h-1zM24 50h1v1h-1zM26 50h1v1h-1zM29 50h1v1h-1zM36 52h1v1h-1zM23 53h1v1h-1zM36 53h1v1h-1zM26 54h1v1h-1zM32 54h1v1h-1zM26 56h1v1h-1z"/><path fill="#feea9f" d="M11 4h1v1h-1zM8 6h1v1h-1zM14 6h2v1h-2zM11 7h1v1h-1zM19 7h1v1h-1zM15 10h1v1h-1zM15 11h1v1h-1zM6 12h1v1h-1zM32 31h1v1h-1zM17 33h1v1h-1zM17 34h1v1h-1zM29 41h1v1h-1zM35 41h1v1h-1zM39 41h1v1h-1zM25 42h1v1h-1z"/><path fill="#fee391" d="M12 4h1v1h-1zM14 4h1v1h-1zM18 4h1v1h-1zM15 5h1v1h-1zM18 6h1v1h-1zM12 7h1v1h-1zM18 7h1v1h-1zM13 8h1v1h-1zM26 8h1v1h-1zM16 9h1v1h-1zM5 10h1v1h-1zM13 10h1v1h-1zM14 12h1v1h-1zM14 13h1v1h-1zM18 14h1v1h-1zM5 15h1v1h-1zM16 15h1v1h-1zM23 26h1v1h-1zM20 28h1v1h-1zM28 30h1v1h-1zM17 32h1v1h-1zM20 35h1v1h-1zM25 36h1v1h-1zM28 39h1v1h-1zM19 48h1v1h-1zM25 51h1v1h-1z"/><path fill="#f88b22" d="M20 4h1v1h-1zM33 4h1v1h-1zM36 4h1v1h-1zM29 5h1v1h-1zM33 5h1v1h-1zM21 6h1v1h-1zM52 6h1v1h-1zM26 7h2v1h-2zM31 7h1v1h-1zM56 7h1v1h-1zM54 8h1v1h-1zM38 9h1v1h-1zM52 9h2v1h-2zM22 10h1v1h-1zM31 10h1v1h-1zM51 10h1v1h-1zM56 10h1v1h-1zM21 11h1v1h-1zM24 11h1v1h-1zM36 11h1v1h-1zM41 11h1v1h-1zM46 11h1v1h-1zM53 11h1v1h-1zM23 12h1v1h-1zM25 12h1v1h-1zM57 12h1v1h-1zM23 13h1v1h-1zM38 13h1v1h-1zM24 14h1v1h-1zM46 14h1v1h-1zM59 14h1v1h-1zM91 14h1v1h-1zM15 15h1v1h-1zM40 15h1v1h-1zM57 15h1v1h-1zM22 16h1v1h-1zM44 16h1v1h-1zM47 16h1v1h-1zM52 16h1v1h-1zM88 16h1v1h-1zM22 17h1v1h-1zM25 17h2v1h-2zM62 18h1v1h-1zM84 18h1v1h-1zM26 19h1v1h-1zM32 19h1v1h-1zM38 19h1v1h-1zM22 20h1v1h-1zM36 20h1v1h-1zM46 21h1v1h-1zM37 22h1v1h-1zM55 22h1v1h-1zM36 23h1v1h-1zM45 23h1v1h-1zM59 23h1v1h-1zM73 23h1v1h-1zM75 23h1v1h-1zM42 24h1v1h-1zM46 24h2v1h-2zM56 24h1v1h-1zM62 24h1v1h-1zM27 25h1v1h-1zM29 25h1v1h-1zM21 26h2v1h-2zM26 26h1v1h-1zM20 27h1v1h-1zM23 27h1v1h-1zM25 27h1v1h-1zM32 27h1v1h-1zM37 27h1v1h-1zM52 27h1v1h-1zM57 27h1v1h-1zM27 28h1v1h-1zM30 28h1v1h-1zM32 28h1v1h-1zM41 28h1v1h-1zM46 28h1v1h-1zM52 28h1v1h-1zM62 28h1v1h-1zM30 29h1v1h-1zM42 29h1v1h-1zM47 29h1v1h-1zM67 29h1v1h-1zM37 30h2v1h-2zM41 30h1v1h-1zM17 31h1v1h-1zM26 31h1v1h-1zM31 31h1v1h-1zM33 31h1v1h-1zM37 31h1v1h-1zM51 31h1v1h-1zM53 31h3v1h-3zM67 31h1v1h-1zM20 32h1v1h-1zM40 32h1v1h-1zM56 32h1v1h-1zM42 33h1v1h-1zM19 34h1v1h-1zM21 34h1v1h-1zM30 34h1v1h-1zM52 34h1v1h-1zM27 35h1v1h-1zM29 35h1v1h-1zM40 35h1v1h-1zM44 35h1v1h-1zM51 35h1v1h-1zM54 36h1v1h-1zM31 37h1v1h-1zM51 37h1v1h-1zM63 37h1v1h-1zM42 38h1v1h-1zM45 38h1v1h-1zM47 38h1v1h-1zM61 38h1v1h-1zM22 39h1v1h-1zM27 39h1v1h-1zM34 39h1v1h-1zM45 39h1v1h-1zM52 39h1v1h-1zM56 39h1v1h-1zM28 40h1v1h-1zM49 40h1v1h-1zM54 40h1v1h-1zM17 41h1v1h-1zM28 41h1v1h-1zM34 41h1v1h-1zM21 42h1v1h-1zM31 42h1v1h-1zM50 43h1v1h-1zM28 44h2v1h-2zM38 44h1v1h-1zM19 45h1v1h-1zM21 45h1v1h-1zM23 45h1v1h-1zM25 45h1v1h-1zM37 45h1v1h-1zM39 45h1v1h-1zM42 45h1v1h-1zM23 46h1v1h-1zM34 46h1v1h-1zM25 49h1v1h-1zM27 49h1v1h-1zM29 49h1v1h-1zM33 49h1v1h-1zM35 49h1v1h-1zM33 50h1v1h-1zM35 51h1v1h-1zM40 51h1v1h-1zM35 52h1v1h-1zM39 52h1v1h-1zM28 54h1v1h-1zM27 56h1v1h-1z"/><path fill="#993404" d="M30 4h1v1h-1zM34 4h1v1h-1zM40 4h1v1h-1zM36 5h1v1h-1zM48 5h2v1h-2zM23 8h1v1h-1zM34 8h1v1h-1zM42 8h2v1h-2zM48 8h1v1h-1zM61 8h1v1h-1zM41 9h1v1h-1zM43 9h1v1h-1zM39 10h1v1h-1zM44 10h1v1h-1zM62 10h1v1h-1zM76 10h1v1h-1zM38 11h1v1h-1zM52 11h1v1h-1zM58 11h1v1h-1zM61 11h1v1h-1zM53 12h1v1h-1zM62 12h2v1h-2zM74 12h1v1h-1zM81 12h1v1h-1zM25 13h1v1h-1zM47 13h1v1h-1zM60 13h1v1h-1zM66 13h1v1h-1zM71 13h1v1h-1zM87 13h1v1h-1zM91 13h1v1h-1zM73 14h1v1h-1zM33 15h1v1h-1zM38 15h1v1h-1zM49 15h1v1h-1zM64 15h1v1h-1zM39 16h1v1h-1zM56 16h1v1h-1zM78 16h1v1h-1zM33 17h1v1h-1zM44 17h1v1h-1zM56 17h1v1h-1zM88 17h1v1h-1zM80 18h3v1h-3zM85 18h1v1h-1zM42 19h1v1h-1zM55 19h1v1h-1zM57 19h1v1h-1zM72 19h1v1h-1zM25 21h1v1h-1zM53 21h1v1h-1zM32 22h1v1h-1zM47 22h1v1h-1zM49 22h1v1h-1zM35 23h1v1h-1zM39 23h1v1h-1zM48 23h1v1h-1zM62 23h1v1h-1zM65 23h1v1h-1zM34 25h1v1h-1zM46 25h1v1h-1zM48 25h1v1h-1zM29 27h1v1h-1zM46 27h1v1h-1zM55 27h1v1h-1zM61 27h1v1h-1zM69 27h1v1h-1zM49 29h1v1h-1zM62 29h1v1h-1zM98 29h1v1h-1zM90 30h1v1h-1zM97 30h1v1h-1zM87 31h1v1h-1zM89 31h1v1h-1zM91 31h1v1h-1zM87 32h2v1h-2zM91 32h1v1h-1zM78 37h1v1h-1zM56 38h1v1h-1zM48 40h1v1h-1zM66 40h1v1h-1zM52 41h1v1h-1zM61 41h1v1h-1zM46 42h1v1h-1zM56 42h1v1h-1zM59 42h1v1h-1zM54 43h1v1h-1zM38 46h1v1h-1zM40 46h2v1h-2zM48 46h1v1h-1zM43 47h1v1h-1zM48 47h1v1h-1zM55 47h1v1h-1zM57 47h1v1h-1zM46 49h1v1h-1zM56 49h1v1h-1zM27 50h1v1h-1zM52 50h1v1h-1zM49 51h1v1h-1zM40 52h1v1h-1zM48 52h1v1h-1zM25 55h1v1h-1z"/><path fill="#662506" d="M32 4h1v1h-1zM44 5h1v1h-1zM46 5h1v1h-1zM50 7h1v1h-1zM73 9h3v1h-3zM46 10h1v1h-1zM58 10h1v1h-1zM65 10h1v1h-1zM78 10h1v1h-1zM62 11h1v1h-1zM75 11h2v1h-2zM82 11h1v1h-1zM87 11h2v1h-2zM72 12h1v1h-1zM85 12h1v1h-1zM90 12h1v1h-1zM72 13h1v1h-1zM78 13h2v1h-2zM69 14h1v1h-1zM79 14h1v1h-1zM77 15h1v1h-1zM85 15h1v1h-1zM91 15h1v1h-1zM29 16h1v1h-1zM57 16h1v1h-1zM63 16h1v1h-1zM57 17h1v1h-1zM75 17h2v1h-2zM79 17h1v1h-1zM77 18h1v1h-1zM87 18h1v1h-1zM44 19h1v1h-1zM59 19h1v1h-1zM68 19h1v1h-1zM70 19h1v1h-1zM79 19h1v1h-1zM64 20h1v1h-1zM42 21h1v1h-1zM72 21h1v1h-1zM76 21h1v1h-1zM39 22h1v1h-1zM66 22h1v1h-1zM70 22h1v1h-1zM75 22h1v1h-1zM60 23h1v1h-1zM64 23h1v1h-1zM62 25h2v1h-2zM60 26h1v1h-1zM71 27h1v1h-1zM66 29h1v1h-1zM91 29h1v1h-1zM64 30h1v1h-1zM98 30h1v1h-1zM90 31h1v1h-1zM63 32h1v1h-1zM86 32h1v1h-1zM87 33h2v1h-2zM90 33h2v1h-2zM79 35h2v1h-2zM78 36h3v1h-3zM79 37h2v1h-2zM79 38h1v1h-1zM66 39h1v1h-1zM64 41h1v1h-1zM58 43h1v1h-1zM63 43h2v1h-2zM55 44h1v1h-1zM61 44h3v1h-3zM63 45h1v1h-1zM55 46h1v1h-1zM60 46h2v1h-2zM46 47h1v1h-1zM51 47h1v1h-1zM54 47h1v1h-1zM50 48h3v1h-3zM55 48h2v1h-2zM51 49h1v1h-1zM53 49h1v1h-1zM46 50h1v1h-1zM48 50h1v1h-1zM48 51h1v1h-1zM52 51h2v1h-2zM45 52h1v1h-1zM52 52h1v1h-1z"/><path fill="#772a05" d="M37 4h1v1h-1zM45 5h1v1h-1zM63 8h1v1h-1zM68 9h1v1h-1zM67 10h1v1h-1zM71 10h1v1h-1zM40 11h1v1h-1zM89 11h1v1h-1zM64 12h1v1h-1zM70 12h1v1h-1zM78 12h1v1h-1zM58 13h1v1h-1zM83 13h1v1h-1zM29 14h1v1h-1zM50 14h1v1h-1zM74 14h2v1h-2zM71 15h1v1h-1zM58 17h1v1h-1zM67 17h2v1h-2zM64 19h1v1h-1zM39 21h1v1h-1zM65 22h1v1h-1zM71 22h1v1h-1zM65 24h1v1h-1zM61 29h1v1h-1zM97 29h1v1h-1zM66 30h1v1h-1zM86 31h1v1h-1zM92 31h1v1h-1zM92 33h1v1h-1zM90 34h1v1h-1zM59 37h1v1h-1zM53 38h1v1h-1zM57 39h1v1h-1zM55 41h1v1h-1zM57 41h1v1h-1zM59 43h1v1h-1zM64 44h1v1h-1zM57 45h1v1h-1zM59 45h1v1h-1zM50 46h1v1h-1zM63 46h1v1h-1zM53 47h1v1h-1zM16 49h1v1h-1zM43 50h1v1h-1zM44 51h1v1h-1zM46 52h1v1h-1z"/><path fill="#882f05" d="M42 4h1v1h-1zM38 5h1v1h-1zM24 6h1v1h-1zM44 6h1v1h-1zM35 7h1v1h-1zM46 8h1v1h-1zM62 9h1v1h-1zM65 9h1v1h-1zM48 10h1v1h-1zM72 10h1v1h-1zM77 10h1v1h-1zM26 11h1v1h-1zM32 11h1v1h-1zM65 11h1v1h-1zM69 11h1v1h-1zM71 11h1v1h-1zM83 11h1v1h-1zM90 11h1v1h-1zM34 12h1v1h-1zM40 12h1v1h-1zM80 12h1v1h-1zM40 13h1v1h-1zM69 13h1v1h-1zM77 13h1v1h-1zM86 13h1v1h-1zM58 14h1v1h-1zM70 14h1v1h-1zM80 14h1v1h-1zM86 14h1v1h-1zM90 14h1v1h-1zM89 15h1v1h-1zM75 16h1v1h-1zM89 16h1v1h-1zM35 17h1v1h-1zM84 17h1v1h-1zM38 18h1v1h-1zM56 18h1v1h-1zM79 18h1v1h-1zM54 19h1v1h-1zM56 19h1v1h-1zM65 19h1v1h-1zM71 19h1v1h-1zM31 20h1v1h-1zM56 20h1v1h-1zM54 21h1v1h-1zM58 21h1v1h-1zM31 22h1v1h-1zM30 23h1v1h-1zM70 23h1v1h-1zM67 24h1v1h-1zM70 25h1v1h-1zM66 26h1v1h-1zM59 27h1v1h-1zM48 29h1v1h-1zM96 29h1v1h-1zM61 30h1v1h-1zM88 30h1v1h-1zM50 31h1v1h-1zM93 33h1v1h-1zM91 34h1v1h-1zM67 35h1v1h-1zM66 37h1v1h-1zM38 39h1v1h-1zM50 39h1v1h-1zM58 39h1v1h-1zM68 39h1v1h-1zM59 41h1v1h-1zM57 42h1v1h-1zM44 44h1v1h-1zM56 44h1v1h-1zM47 45h1v1h-1zM56 45h1v1h-1zM62 45h1v1h-1zM47 46h1v1h-1zM24 47h1v1h-1zM40 49h2v1h-2zM43 49h1v1h-1zM50 49h1v1h-1zM55 49h1v1h-1zM54 50h1v1h-1zM36 51h1v1h-1zM34 54h1v1h-1z"/><path fill="#ffffe5" d="M18 5h1v1h-1zM15 7h1v1h-1zM15 8h1v1h-1zM9 10h1v1h-1zM11 10h1v1h-1zM16 10h1v1h-1z"/><path fill="#e1640e" d="M51 5h1v1h-1zM56 5h2v1h-2zM46 6h1v1h-1zM55 6h1v1h-1zM28 7h2v1h-2zM39 7h1v1h-1zM57 7h2v1h-2zM45 8h1v1h-1zM56 8h1v1h-1zM58 9h1v1h-1zM30 10h1v1h-1zM32 10h1v1h-1zM36 10h1v1h-1zM49 10h1v1h-1zM61 10h1v1h-1zM33 11h1v1h-1zM47 11h1v1h-1zM59 11h1v1h-1zM35 12h1v1h-1zM51 12h1v1h-1zM56 12h1v1h-1zM53 13h1v1h-1zM63 13h1v1h-1zM48 14h1v1h-1zM54 14h1v1h-1zM67 14h1v1h-1zM11 15h1v1h-1zM18 15h2v1h-2zM25 15h1v1h-1zM28 15h2v1h-2zM35 15h1v1h-1zM48 15h1v1h-1zM78 15h2v1h-2zM81 15h1v1h-1zM14 16h1v1h-1zM32 16h1v1h-1zM46 16h1v1h-1zM50 16h1v1h-1zM66 16h2v1h-2zM81 16h1v1h-1zM28 17h1v1h-1zM41 17h1v1h-1zM81 17h1v1h-1zM25 18h1v1h-1zM29 18h1v1h-1zM41 18h1v1h-1zM45 18h1v1h-1zM55 18h1v1h-1zM58 18h1v1h-1zM65 18h1v1h-1zM72 18h1v1h-1zM34 19h2v1h-2zM47 19h1v1h-1zM62 19h1v1h-1zM81 19h1v1h-1zM23 20h1v1h-1zM37 20h1v1h-1zM46 20h1v1h-1zM49 20h1v1h-1zM55 20h1v1h-1zM65 20h1v1h-1zM74 20h2v1h-2zM79 20h1v1h-1zM22 21h2v1h-2zM37 21h1v1h-1zM67 22h1v1h-1zM29 23h1v1h-1zM32 23h2v1h-2zM71 23h2v1h-2zM36 24h2v1h-2zM40 24h1v1h-1zM70 24h1v1h-1zM21 25h1v1h-1zM28 25h1v1h-1zM36 25h1v1h-1zM50 25h1v1h-1zM30 27h1v1h-1zM39 27h1v1h-1zM21 28h1v1h-1zM23 28h1v1h-1zM69 28h1v1h-1zM97 28h1v1h-1zM24 29h1v1h-1zM26 29h1v1h-1zM37 29h1v1h-1zM39 29h1v1h-1zM53 29h1v1h-1zM25 30h1v1h-1zM62 30h1v1h-1zM91 30h1v1h-1zM16 31h1v1h-1zM36 31h1v1h-1zM57 31h3v1h-3zM52 32h1v1h-1zM58 32h1v1h-1zM66 32h1v1h-1zM28 33h1v1h-1zM44 33h3v1h-3zM60 33h2v1h-2zM22 34h1v1h-1zM32 34h1v1h-1zM36 34h1v1h-1zM56 34h1v1h-1zM58 34h1v1h-1zM65 34h1v1h-1zM67 34h1v1h-1zM30 35h1v1h-1zM33 35h1v1h-1zM46 35h1v1h-1zM54 35h1v1h-1zM60 35h2v1h-2zM26 36h1v1h-1zM43 36h1v1h-1zM55 36h1v1h-1zM62 36h1v1h-1zM23 37h1v1h-1zM49 37h1v1h-1zM53 37h1v1h-1zM64 37h1v1h-1zM22 38h1v1h-1zM41 38h1v1h-1zM63 38h1v1h-1zM46 39h1v1h-1zM17 40h1v1h-1zM25 40h1v1h-1zM41 40h1v1h-1zM19 41h1v1h-1zM30 41h1v1h-1zM36 41h1v1h-1zM48 41h1v1h-1zM26 42h1v1h-1zM53 42h1v1h-1zM29 43h1v1h-1zM36 43h1v1h-1zM44 43h1v1h-1zM51 43h1v1h-1zM53 43h1v1h-1zM40 44h1v1h-1zM42 44h1v1h-1zM48 44h1v1h-1zM18 45h1v1h-1zM51 45h1v1h-1zM17 46h1v1h-1zM22 46h1v1h-1zM39 46h1v1h-1zM57 46h1v1h-1zM28 47h1v1h-1zM34 47h1v1h-1zM16 48h1v1h-1zM28 48h1v1h-1zM34 49h1v1h-1zM38 49h2v1h-2zM47 50h1v1h-1zM31 51h1v1h-1zM37 51h1v1h-1zM34 52h1v1h-1zM43 52h1v1h-1zM24 53h1v1h-1zM24 54h1v1h-1zM30 54h1v1h-1zM28 57h1v1h-1z"/><path fill="#fff0ae" d="M54 5h1v1h-1zM4 6h1v1h-1zM13 7h2v1h-2zM17 7h1v1h-1zM21 7h1v1h-1zM11 9h1v1h-1zM9 11h2v1h-2zM14 11h1v1h-1zM17 11h1v1h-1zM13 12h1v1h-1zM11 13h1v1h-1zM13 13h1v1h-1zM15 14h1v1h-1zM6 15h1v1h-1zM13 15h1v1h-1z"/><path fill="#fffcd7" d="M12 8h1v1h-1zM11 16h1v1h-1z"/></g>
<path d="M211.9,188.1 211.8,185.7 213.2,183.8 211.6,183.1 212.6,181.1 210.5,179.1 209.9,176.5 207.2,174.5 207.8,171.9 210.5,170.6 213.7,169.2 217.0,168.2 219.1,166.6 222.4,163.7 224.5,162.9 228.9,165.3 231.7,165.9 237.5,165.8 243.0,165.5 244.6,164.5 247.3,165.9 251.6,166.9 256.5,167.7 261.4,167.9 266.8,166.9 271.1,167.7 275.4,168.2 278.7,167.7 283.0,169.0 286.5,169.0 288.6,168.2 290.6,169.9 292.8,171.9 297.1,173.2 300.4,175.2 304.7,175.8 307.9,177.2 312.3,177.2 315.5,175.2 318.8,176.5 323.6,178.5 326.9,179.8 329.6,181.1 335.0,180.7 340.4,180.5 342.3,180.7 343.9,182.2 342.1,183.8 342.6,186.4 340.4,189.0 338.3,190.8 335.0,193.0 331.8,194.3 327.4,196.6 323.1,198.0 319.9,198.9 317.7,201.6 317.1,203.6 314.4,205.5 311.7,209.5 309.0,212.1 306.9,214.8 304.7,219.4 305.2,223.4 307.9,226.7 310.4,229.3 307.9,231.3 304.7,233.3 302.5,235.2 300.9,239.2 299.8,243.2 300.4,244.5 297.1,244.7 293.9,245.1 290.1,247.8 287.9,251.1 286.3,254.4 284.2,256.1 281.4,254.6 278.7,256.6 275.4,255.8 270.0,256.1 264.6,255.7 260.1,256.1 257.0,259.0 253.8,260.1 250.5,263.0 248.9,264.9 247.3,265.6 244.0,263.0 241.9,261.0 239.7,258.3 238.6,255.0 235.4,251.7 232.1,249.8 227.8,250.0 227.3,245.8 226.7,244.5 229.4,239.9 232.1,238.5 231.0,236.6 228.9,233.3 230.5,230.0 232.1,226.7 231.0,224.7 228.9,220.7 226.7,217.4 232.1,217.2 233.2,214.1 233.8,209.5 234.3,208.2 233.8,204.9 234.3,201.6 233.2,199.6 236.5,197.0 239.7,194.3 240.8,191.7 237.5,190.8 237.0,187.1 233.2,187.1 230.0,187.7 225.6,188.4 222.4,188.1 220.2,189.0 219.1,185.1 215.3,185.7ZM333.4,218.7 335.6,216.8 338.3,214.8 341.5,213.5 342.6,214.8 341.5,216.1 345.3,216.5 344.2,220.1 341.5,222.7 339.9,221.4 337.7,219.4 335.6,220.1ZM349.3,212.8 352.3,211.7 354.5,214.4 352.3,214.8 349.6,214.1ZM320.9,226.7 323.1,224.7 325.3,225.3 324.7,227.6 322.6,228.0Z" fill="none" stroke="#4a5064" stroke-opacity="0.85" stroke-width="0.55" stroke-linejoin="round" shape-rendering="auto"/>
<path d="M231.7,165.9 232.7,168.6 233.8,171.2 233.8,174.5 232.7,176.5 233.8,179.8 232.1,182.4 231.6,185.1 233.2,187.1M233.8,171.2 237.5,173.2 243.0,173.2 248.4,172.5 253.8,171.2 256.5,171.2 258.7,169.2 259.2,167.7M256.5,171.2 259.2,172.5 261.9,174.5 264.6,175.8 267.3,175.2 270.6,172.5 273.3,171.2 273.8,168.3M273.3,171.2 274.9,173.2 275.4,176.5 277.6,178.5 280.9,179.1 283.6,177.8 282.5,175.2 285.2,173.9 286.3,170.6 288.4,168.4M283.6,177.8 286.3,180.5 288.4,184.4 290.6,187.1 293.3,185.7 294.9,181.8 297.1,177.8 299.8,174.9M275.4,176.5 274.4,177.8 274.9,181.1 276.5,184.4 279.8,186.4 284.1,187.1 287.4,186.4 288.4,184.4M287.4,186.4 287.4,191.7 286.3,195.6 285.7,197.6M285.7,197.6 280.9,197.0 275.4,196.3 271.1,197.6 266.8,200.3 263.0,202.9 260.8,206.2 258.7,209.5 253.8,210.8 248.4,210.2 243.0,208.8 238.6,208.8 233.8,209.5M271.1,197.6 273.3,200.3 274.9,204.9 274.4,210.2 271.7,212.8 267.9,214.1 264.1,212.1 260.8,209.5 258.7,209.5M253.8,210.8 250.0,214.1 253.8,219.4 251.6,224.0 254.3,227.3 253.8,229.3M253.8,229.3 250.5,231.9 247.3,235.9 244.0,237.9 239.7,239.2 235.4,237.9 231.0,238.5M253.8,229.3 259.2,231.9 264.6,233.9 270.0,234.6 275.4,233.3 280.3,234.6 281.4,237.9 284.1,239.9 286.3,242.5 287.9,246.5 290.1,247.6M281.4,237.9 282.5,235.2 286.3,233.3 289.5,231.9 293.9,230.6 296.6,231.9 297.1,235.9 297.7,239.2 299.8,241.2M296.6,231.9 296.6,228.0 292.8,225.3 291.7,221.4 294.9,217.4 291.7,212.8 293.3,210.8 298.2,212.8 301.4,211.5 304.7,208.8 308.5,204.9 311.2,203.6 313.6,205.9M285.7,197.6 286.8,200.3 289.0,202.9 290.6,206.9 289.5,208.8 291.2,210.8 293.3,210.8M315.5,175.2 315.5,179.8 314.4,183.8 311.7,187.1 311.7,191.7 311.2,195.6 310.1,199.6 311.2,203.6" fill="none" stroke="#5a5e62" stroke-opacity="0.7" stroke-width="0.45" stroke-linejoin="round" shape-rendering="auto"/>
</g>
<rect x="206.2" y="159.5" width="152.1" height="108.1" fill="none" stroke="#666" stroke-width="1" shape-rendering="auto"/>
<line x1="204.5" x2="206" y1="160.0" y2="160.0" stroke="#333" stroke-width="0.8"/>
<text transform="translate(203.50,162.50) scale(1.08,1)" font-size="7.3" text-anchor="end">44N</text>
<line x1="204.5" x2="206" y1="186.4" y2="186.4" stroke="#333" stroke-width="0.8"/>
<text transform="translate(203.50,188.90) scale(1.08,1)" font-size="7.3" text-anchor="end">42N</text>
<line x1="204.5" x2="206" y1="212.8" y2="212.8" stroke="#333" stroke-width="0.8"/>
<text transform="translate(203.50,215.30) scale(1.08,1)" font-size="7.3" text-anchor="end">40N</text>
<line x1="204.5" x2="206" y1="239.2" y2="239.2" stroke="#333" stroke-width="0.8"/>
<text transform="translate(203.50,241.70) scale(1.08,1)" font-size="7.3" text-anchor="end">38N</text>
<line x1="204.5" x2="206" y1="265.6" y2="265.6" stroke="#333" stroke-width="0.8"/>
<text transform="translate(203.50,268.10) scale(1.08,1)" font-size="7.3" text-anchor="end">36N</text>
<line x1="221.3" x2="221.3" y1="269" y2="270.2" stroke="#555" stroke-width="0.7"/>
<text transform="translate(221.30,277.80) scale(1.08,1)" font-size="7.3" text-anchor="middle">8W</text>
<line x1="243.0" x2="243.0" y1="269" y2="270.2" stroke="#555" stroke-width="0.7"/>
<text transform="translate(242.96,277.80) scale(1.08,1)" font-size="7.3" text-anchor="middle">6W</text>
<line x1="264.6" x2="264.6" y1="269" y2="270.2" stroke="#555" stroke-width="0.7"/>
<text transform="translate(264.62,277.80) scale(1.08,1)" font-size="7.3" text-anchor="middle">4W</text>
<line x1="286.3" x2="286.3" y1="269" y2="270.2" stroke="#555" stroke-width="0.7"/>
<text transform="translate(286.28,277.80) scale(1.08,1)" font-size="7.3" text-anchor="middle">2W</text>
<line x1="307.9" x2="307.9" y1="269" y2="270.2" stroke="#555" stroke-width="0.7"/>
<text transform="translate(307.94,277.80) scale(1.08,1)" font-size="7.3" text-anchor="middle">0</text>
<line x1="329.6" x2="329.6" y1="269" y2="270.2" stroke="#555" stroke-width="0.7"/>
<text transform="translate(329.60,277.80) scale(1.08,1)" font-size="7.3" text-anchor="middle">2E</text>
<line x1="351.3" x2="351.3" y1="269" y2="270.2" stroke="#555" stroke-width="0.7"/>
<text transform="translate(351.26,277.80) scale(1.08,1)" font-size="7.3" text-anchor="middle">4E</text>
<polygon points="206,284.0 213,281.5 351.6,281.5 359,284.0 351.6,286.5 213,286.5" fill="url(#cg)" stroke="#444" stroke-width="0.5" shape-rendering="auto"/>
<line x1="213.0" x2="213.0" y1="286.5" y2="288.0" stroke="#333" stroke-width="0.6"/>
<text transform="translate(213.00,295.30) scale(1.08,1)" font-size="7.3" text-anchor="middle">0</text>
<line x1="259.2" x2="259.2" y1="286.5" y2="288.0" stroke="#333" stroke-width="0.6"/>
<text transform="translate(259.20,295.30) scale(1.08,1)" font-size="7.3" text-anchor="middle">10</text>
<line x1="305.4" x2="305.4" y1="286.5" y2="288.0" stroke="#333" stroke-width="0.6"/>
<text transform="translate(305.40,295.30) scale(1.08,1)" font-size="7.3" text-anchor="middle">20</text>
<line x1="351.6" x2="351.6" y1="286.5" y2="288.0" stroke="#333" stroke-width="0.6"/>
<text transform="translate(351.60,295.30) scale(1.08,1)" font-size="7.3" text-anchor="middle">30</text>
<text transform="translate(282.30,305.20) scale(1.08,1)" font-size="7.3" text-anchor="middle">rel. False bias [%]</text>
<clipPath id="cp5"><rect x="392" y="160" width="152" height="108"/></clipPath><g clip-path="url(#cp5)">
<g transform="translate(387.89,158.68) scale(1.5162,1.8480)" shape-rendering="auto"><path fill="#fed97b" d="M13 2h1v1h-1zM12 3h1v1h-1zM21 3h1v1h-1zM17 4h1v1h-1zM15 5h1v1h-1zM53 5h1v1h-1zM57 5h1v1h-1zM8 6h1v1h-1zM14 6h1v1h-1zM16 6h1v1h-1zM54 6h1v1h-1zM4 7h2v1h-2zM16 7h1v1h-1zM18 7h1v1h-1zM6 8h1v1h-1zM11 8h1v1h-1zM21 8h1v1h-1zM5 9h1v1h-1zM10 9h1v1h-1zM15 9h1v1h-1zM17 9h1v1h-1zM14 11h1v1h-1zM9 12h1v1h-1zM32 12h1v1h-1zM7 13h1v1h-1zM9 13h1v1h-1zM14 13h1v1h-1zM88 13h1v1h-1zM75 16h1v1h-1zM68 20h1v1h-1zM33 22h1v1h-1zM23 25h1v1h-1zM20 29h1v1h-1zM18 31h1v1h-1zM25 31h2v1h-2zM32 31h1v1h-1zM15 32h1v1h-1zM36 32h1v1h-1zM19 33h1v1h-1zM26 33h1v1h-1zM19 34h1v1h-1zM49 34h1v1h-1zM61 34h1v1h-1zM22 35h1v1h-1zM30 35h1v1h-1zM38 36h1v1h-1zM48 36h1v1h-1zM26 37h1v1h-1zM66 37h1v1h-1zM21 39h1v1h-1zM33 39h1v1h-1zM26 41h1v1h-1zM44 41h1v1h-1zM18 43h1v1h-1zM25 43h1v1h-1zM24 44h1v1h-1zM26 44h1v1h-1zM40 44h1v1h-1zM27 45h1v1h-1zM36 45h1v1h-1zM21 46h1v1h-1zM34 47h1v1h-1zM24 48h1v1h-1zM23 49h1v1h-1zM22 50h2v1h-2zM26 50h1v1h-1zM28 50h1v1h-1zM35 51h1v1h-1zM52 52h1v1h-1zM31 54h1v1h-1zM26 55h1v1h-1zM29 57h1v1h-1z"/><path fill="#fffcd7" d="M14 2h1v1h-1zM15 3h1v1h-1zM14 7h1v1h-1z"/><path fill="#fece65" d="M15 2h1v1h-1zM13 4h1v1h-1zM15 4h1v1h-1zM20 4h1v1h-1zM8 5h1v1h-1zM13 5h1v1h-1zM11 6h1v1h-1zM56 6h1v1h-1zM58 6h1v1h-1zM10 7h1v1h-1zM22 7h1v1h-1zM55 7h2v1h-2zM10 8h1v1h-1zM13 8h1v1h-1zM54 8h1v1h-1zM8 9h2v1h-2zM13 9h2v1h-2zM9 10h1v1h-1zM6 11h1v1h-1zM21 11h2v1h-2zM8 12h1v1h-1zM14 12h1v1h-1zM30 12h1v1h-1zM78 12h1v1h-1zM27 13h1v1h-1zM7 14h1v1h-1zM14 14h1v1h-1zM20 15h1v1h-1zM86 15h1v1h-1zM82 16h1v1h-1zM88 16h1v1h-1zM76 17h1v1h-1zM74 18h1v1h-1zM76 18h1v1h-1zM56 19h1v1h-1zM75 23h1v1h-1zM28 25h1v1h-1zM68 25h1v1h-1zM21 27h1v1h-1zM29 27h1v1h-1zM23 29h1v1h-1zM16 31h1v1h-1zM50 31h1v1h-1zM92 31h1v1h-1zM17 32h1v1h-1zM20 32h1v1h-1zM92 32h1v1h-1zM24 34h1v1h-1zM40 35h1v1h-1zM22 36h1v1h-1zM23 37h1v1h-1zM43 38h1v1h-1zM18 39h1v1h-1zM23 39h1v1h-1zM32 40h1v1h-1zM36 40h1v1h-1zM56 40h1v1h-1zM19 41h1v1h-1zM20 42h1v1h-1zM26 42h1v1h-1zM30 43h2v1h-2zM34 43h1v1h-1zM18 44h2v1h-2zM23 44h1v1h-1zM32 45h1v1h-1zM18 46h1v1h-1zM24 46h1v1h-1zM27 46h1v1h-1zM21 48h1v1h-1zM31 50h1v1h-1zM22 51h1v1h-1zM23 53h1v1h-1z"/><path fill="#fff7bc" d="M13 3h1v1h-1zM16 3h1v1h-1zM19 5h1v1h-1zM15 7h1v1h-1zM16 9h1v1h-1zM8 11h1v1h-1zM10 14h1v1h-1zM21 36h1v1h-1zM24 37h1v1h-1zM26 48h1v1h-1z"/><path fill="#fee391" d="M18 3h1v1h-1zM12 4h1v1h-1zM5 6h1v1h-1zM7 7h1v1h-1zM15 8h1v1h-1zM20 8h1v1h-1zM13 10h2v1h-2zM10 11h1v1h-1zM12 11h2v1h-2zM5 13h1v1h-1zM12 13h1v1h-1zM8 14h1v1h-1zM12 14h1v1h-1zM15 15h1v1h-1zM31 17h1v1h-1zM67 23h1v1h-1zM67 27h1v1h-1zM21 29h1v1h-1zM49 30h1v1h-1zM20 34h1v1h-1zM30 34h1v1h-1zM31 35h2v1h-2zM27 37h1v1h-1zM34 38h1v1h-1zM57 38h1v1h-1zM30 41h1v1h-1zM37 43h1v1h-1zM23 45h1v1h-1zM25 45h1v1h-1zM38 45h1v1h-1zM17 46h1v1h-1zM30 47h1v1h-1zM24 53h1v1h-1zM29 54h1v1h-1zM28 57h1v1h-1z"/><path fill="#fe9929" d="M19 3h1v1h-1zM23 3h2v1h-2zM16 4h1v1h-1zM23 4h1v1h-1zM39 4h1v1h-1zM26 5h1v1h-1zM30 5h1v1h-1zM35 5h1v1h-1zM43 5h1v1h-1zM32 6h1v1h-1zM50 6h1v1h-1zM27 7h1v1h-1zM30 7h1v1h-1zM53 7h1v1h-1zM3 8h1v1h-1zM60 8h1v1h-1zM19 9h1v1h-1zM23 9h1v1h-1zM25 9h1v1h-1zM27 9h1v1h-1zM8 10h1v1h-1zM52 10h1v1h-1zM5 11h1v1h-1zM28 11h1v1h-1zM91 11h1v1h-1zM84 12h1v1h-1zM18 13h1v1h-1zM42 13h2v1h-2zM71 13h1v1h-1zM78 13h1v1h-1zM44 14h1v1h-1zM46 14h1v1h-1zM86 14h1v1h-1zM6 15h1v1h-1zM19 15h1v1h-1zM23 15h2v1h-2zM41 15h1v1h-1zM90 15h1v1h-1zM23 16h1v1h-1zM81 16h1v1h-1zM89 16h1v1h-1zM32 17h1v1h-1zM67 17h1v1h-1zM72 17h1v1h-1zM77 17h2v1h-2zM83 17h1v1h-1zM24 18h1v1h-1zM57 18h1v1h-1zM30 19h1v1h-1zM76 19h1v1h-1zM78 19h1v1h-1zM25 20h1v1h-1zM71 21h1v1h-1zM74 21h1v1h-1zM76 21h1v1h-1zM20 22h1v1h-1zM22 22h1v1h-1zM58 22h1v1h-1zM72 22h1v1h-1zM74 22h1v1h-1zM20 23h1v1h-1zM27 24h3v1h-3zM32 24h1v1h-1zM73 24h1v1h-1zM21 25h1v1h-1zM70 25h1v1h-1zM36 26h1v1h-1zM39 26h1v1h-1zM59 26h1v1h-1zM69 26h1v1h-1zM27 27h1v1h-1zM30 27h1v1h-1zM46 27h1v1h-1zM68 27h1v1h-1zM42 28h1v1h-1zM44 28h1v1h-1zM24 29h1v1h-1zM26 29h1v1h-1zM46 29h1v1h-1zM68 29h1v1h-1zM73 29h1v1h-1zM90 29h1v1h-1zM21 30h1v1h-1zM26 30h1v1h-1zM42 30h1v1h-1zM59 30h1v1h-1zM62 30h1v1h-1zM64 30h1v1h-1zM73 30h1v1h-1zM31 31h1v1h-1zM44 31h1v1h-1zM56 31h1v1h-1zM93 31h1v1h-1zM21 32h2v1h-2zM40 32h1v1h-1zM59 32h1v1h-1zM29 33h1v1h-1zM46 33h2v1h-2zM37 34h1v1h-1zM39 34h1v1h-1zM44 34h1v1h-1zM66 34h2v1h-2zM92 34h1v1h-1zM21 35h1v1h-1zM23 35h1v1h-1zM25 35h1v1h-1zM58 35h1v1h-1zM18 36h1v1h-1zM25 36h1v1h-1zM27 36h1v1h-1zM40 36h1v1h-1zM47 36h1v1h-1zM55 36h1v1h-1zM25 37h1v1h-1zM28 37h1v1h-1zM33 37h2v1h-2zM40 37h1v1h-1zM44 37h1v1h-1zM21 38h1v1h-1zM37 38h1v1h-1zM40 38h1v1h-1zM46 38h1v1h-1zM55 38h1v1h-1zM67 38h1v1h-1zM69 38h1v1h-1zM26 39h1v1h-1zM37 39h1v1h-1zM42 39h1v1h-1zM47 39h1v1h-1zM54 39h1v1h-1zM67 39h1v1h-1zM17 40h1v1h-1zM26 40h1v1h-1zM40 40h1v1h-1zM18 42h1v1h-1zM23 42h2v1h-2zM57 42h1v1h-1zM22 43h1v1h-1zM36 43h1v1h-1zM44 43h1v1h-1zM64 43h1v1h-1zM31 44h3v1h-3zM36 44h1v1h-1zM48 44h1v1h-1zM64 44h1v1h-1zM34 45h1v1h-1zM55 45h1v1h-1zM31 46h1v1h-1zM33 46h1v1h-1zM50 46h1v1h-1zM26 47h2v1h-2zM36 47h1v1h-1zM32 48h1v1h-1zM26 49h1v1h-1zM31 49h1v1h-1zM42 49h1v1h-1zM20 50h1v1h-1zM27 51h1v1h-1zM34 51h1v1h-1zM36 52h1v1h-1zM39 52h1v1h-1zM49 52h1v1h-1zM35 53h1v1h-1zM30 54h1v1h-1z"/><path fill="#f27e1b" d="M27 3h1v1h-1zM11 4h1v1h-1zM34 4h1v1h-1zM34 5h1v1h-1zM45 5h1v1h-1zM21 6h1v1h-1zM25 6h1v1h-1zM46 6h1v1h-1zM28 7h1v1h-1zM54 7h1v1h-1zM7 8h1v1h-1zM28 9h1v1h-1zM49 9h1v1h-1zM55 9h1v1h-1zM22 10h1v1h-1zM30 10h1v1h-1zM42 10h1v1h-1zM18 11h2v1h-2zM31 11h1v1h-1zM33 11h1v1h-1zM51 11h1v1h-1zM18 12h1v1h-1zM22 12h1v1h-1zM27 12h1v1h-1zM33 12h1v1h-1zM54 12h1v1h-1zM79 12h1v1h-1zM21 13h1v1h-1zM24 13h1v1h-1zM77 13h1v1h-1zM86 13h1v1h-1zM91 13h1v1h-1zM28 14h2v1h-2zM36 14h1v1h-1zM39 14h1v1h-1zM48 14h1v1h-1zM53 14h1v1h-1zM88 14h1v1h-1zM29 15h1v1h-1zM34 15h2v1h-2zM55 15h1v1h-1zM58 15h1v1h-1zM61 15h1v1h-1zM74 15h1v1h-1zM79 15h1v1h-1zM33 16h1v1h-1zM47 16h1v1h-1zM50 16h1v1h-1zM52 16h1v1h-1zM64 16h1v1h-1zM25 17h1v1h-1zM29 17h1v1h-1zM35 17h1v1h-1zM57 17h1v1h-1zM33 18h1v1h-1zM40 18h1v1h-1zM42 18h1v1h-1zM58 18h1v1h-1zM63 18h1v1h-1zM65 18h1v1h-1zM70 18h1v1h-1zM73 18h1v1h-1zM79 18h2v1h-2zM83 18h1v1h-1zM29 19h1v1h-1zM32 19h2v1h-2zM36 19h1v1h-1zM45 19h1v1h-1zM55 19h1v1h-1zM59 19h1v1h-1zM63 19h2v1h-2zM66 19h1v1h-1zM73 19h1v1h-1zM28 20h1v1h-1zM52 20h1v1h-1zM81 20h1v1h-1zM27 21h1v1h-1zM36 21h1v1h-1zM63 21h1v1h-1zM72 21h1v1h-1zM24 22h1v1h-1zM37 23h1v1h-1zM62 23h1v1h-1zM40 24h1v1h-1zM52 24h1v1h-1zM57 24h1v1h-1zM63 24h1v1h-1zM66 24h1v1h-1zM30 25h1v1h-1zM33 25h1v1h-1zM40 25h1v1h-1zM65 25h2v1h-2zM69 25h1v1h-1zM72 25h1v1h-1zM20 26h1v1h-1zM24 26h1v1h-1zM33 26h1v1h-1zM41 26h1v1h-1zM46 26h1v1h-1zM48 27h1v1h-1zM64 27h1v1h-1zM52 28h1v1h-1zM67 28h1v1h-1zM22 29h1v1h-1zM30 29h1v1h-1zM32 29h1v1h-1zM47 29h1v1h-1zM67 29h1v1h-1zM91 29h1v1h-1zM22 30h1v1h-1zM28 30h1v1h-1zM32 30h1v1h-1zM39 30h1v1h-1zM63 30h1v1h-1zM37 31h2v1h-2zM42 31h1v1h-1zM51 31h1v1h-1zM54 31h1v1h-1zM63 31h1v1h-1zM31 32h1v1h-1zM34 33h1v1h-1zM52 33h1v1h-1zM29 34h1v1h-1zM32 34h1v1h-1zM47 34h1v1h-1zM64 35h1v1h-1zM68 35h1v1h-1zM23 36h1v1h-1zM45 36h2v1h-2zM57 36h2v1h-2zM50 37h1v1h-1zM33 38h1v1h-1zM41 38h1v1h-1zM51 38h2v1h-2zM64 38h1v1h-1zM22 39h1v1h-1zM41 39h1v1h-1zM60 39h1v1h-1zM27 40h1v1h-1zM43 40h1v1h-1zM64 40h1v1h-1zM34 41h4v1h-4zM51 41h1v1h-1zM56 41h2v1h-2zM28 42h1v1h-1zM30 42h1v1h-1zM44 42h1v1h-1zM48 42h1v1h-1zM26 43h1v1h-1zM42 43h1v1h-1zM53 43h1v1h-1zM17 44h1v1h-1zM42 44h2v1h-2zM37 45h1v1h-1zM32 46h1v1h-1zM34 46h1v1h-1zM48 46h1v1h-1zM60 46h1v1h-1zM29 47h1v1h-1zM56 47h1v1h-1zM25 48h1v1h-1zM27 48h1v1h-1zM43 48h1v1h-1zM21 49h1v1h-1zM40 49h1v1h-1zM38 50h1v1h-1zM32 51h1v1h-1zM41 51h1v1h-1zM48 52h1v1h-1zM27 53h1v1h-1zM24 54h1v1h-1z"/><path fill="#feb642" d="M28 3h1v1h-1zM31 4h1v1h-1zM50 5h1v1h-1zM27 6h2v1h-2zM30 6h1v1h-1zM49 6h1v1h-1zM52 6h2v1h-2zM9 7h1v1h-1zM11 7h1v1h-1zM19 7h1v1h-1zM49 7h2v1h-2zM22 8h1v1h-1zM29 8h1v1h-1zM45 8h1v1h-1zM55 8h1v1h-1zM12 9h1v1h-1zM16 10h1v1h-1zM32 10h1v1h-1zM9 11h1v1h-1zM30 11h1v1h-1zM76 11h1v1h-1zM7 12h1v1h-1zM11 12h2v1h-2zM16 12h1v1h-1zM19 12h2v1h-2zM23 12h1v1h-1zM29 12h1v1h-1zM86 12h1v1h-1zM89 12h1v1h-1zM6 13h1v1h-1zM16 13h1v1h-1zM19 13h1v1h-1zM17 14h1v1h-1zM20 14h1v1h-1zM68 14h1v1h-1zM12 15h1v1h-1zM39 15h1v1h-1zM45 15h1v1h-1zM78 15h1v1h-1zM87 15h1v1h-1zM11 16h1v1h-1zM25 16h2v1h-2zM38 16h1v1h-1zM74 16h1v1h-1zM22 17h1v1h-1zM28 17h1v1h-1zM64 17h1v1h-1zM77 18h1v1h-1zM61 20h1v1h-1zM23 21h1v1h-1zM61 21h1v1h-1zM69 21h1v1h-1zM65 22h1v1h-1zM21 24h1v1h-1zM63 25h1v1h-1zM71 25h1v1h-1zM23 26h1v1h-1zM31 26h1v1h-1zM72 26h1v1h-1zM71 27h1v1h-1zM26 28h2v1h-2zM42 29h1v1h-1zM45 29h1v1h-1zM56 29h1v1h-1zM74 29h1v1h-1zM36 30h2v1h-2zM65 30h1v1h-1zM39 31h1v1h-1zM45 31h2v1h-2zM19 32h1v1h-1zM24 32h1v1h-1zM48 32h1v1h-1zM64 32h1v1h-1zM66 32h1v1h-1zM17 33h2v1h-2zM24 33h1v1h-1zM41 33h1v1h-1zM43 33h1v1h-1zM66 33h1v1h-1zM93 33h1v1h-1zM26 34h1v1h-1zM28 34h1v1h-1zM40 34h1v1h-1zM54 34h2v1h-2zM27 35h1v1h-1zM60 35h1v1h-1zM26 36h1v1h-1zM42 36h1v1h-1zM64 36h1v1h-1zM69 36h1v1h-1zM20 37h2v1h-2zM49 37h1v1h-1zM52 37h1v1h-1zM25 38h2v1h-2zM29 38h1v1h-1zM47 38h1v1h-1zM53 38h1v1h-1zM19 39h2v1h-2zM25 39h1v1h-1zM65 39h1v1h-1zM29 40h1v1h-1zM28 41h1v1h-1zM46 41h1v1h-1zM50 41h1v1h-1zM27 42h1v1h-1zM24 43h1v1h-1zM55 43h1v1h-1zM21 44h1v1h-1zM16 45h1v1h-1zM35 45h1v1h-1zM16 46h1v1h-1zM19 46h1v1h-1zM22 46h1v1h-1zM26 46h1v1h-1zM29 46h1v1h-1zM56 46h1v1h-1zM20 47h1v1h-1zM28 47h1v1h-1zM33 48h2v1h-2zM20 49h1v1h-1zM28 49h1v1h-1zM24 51h1v1h-1zM29 51h1v1h-1zM53 51h1v1h-1zM23 52h1v1h-1zM25 52h2v1h-2zM28 52h1v1h-1zM32 53h1v1h-1z"/><path fill="#fea736" d="M29 3h1v1h-1zM24 4h2v1h-2zM28 4h1v1h-1zM24 5h1v1h-1zM29 5h1v1h-1zM47 5h1v1h-1zM4 6h1v1h-1zM10 6h1v1h-1zM19 6h1v1h-1zM24 7h1v1h-1zM57 7h1v1h-1zM4 8h1v1h-1zM30 8h1v1h-1zM34 8h1v1h-1zM4 9h1v1h-1zM24 9h1v1h-1zM44 9h1v1h-1zM54 9h1v1h-1zM26 10h1v1h-1zM35 10h1v1h-1zM25 12h1v1h-1zM15 13h1v1h-1zM47 13h1v1h-1zM79 13h2v1h-2zM27 14h1v1h-1zM38 14h1v1h-1zM87 14h1v1h-1zM17 15h2v1h-2zM22 15h1v1h-1zM38 15h1v1h-1zM39 16h1v1h-1zM45 16h1v1h-1zM68 16h1v1h-1zM73 16h1v1h-1zM77 16h1v1h-1zM85 16h1v1h-1zM23 17h1v1h-1zM34 17h1v1h-1zM36 18h1v1h-1zM58 19h1v1h-1zM70 19h2v1h-2zM56 20h1v1h-1zM73 20h1v1h-1zM53 21h2v1h-2zM79 21h1v1h-1zM63 22h1v1h-1zM75 22h1v1h-1zM22 23h1v1h-1zM45 23h1v1h-1zM58 23h1v1h-1zM20 24h1v1h-1zM22 24h1v1h-1zM27 25h1v1h-1zM52 25h1v1h-1zM54 26h1v1h-1zM67 26h2v1h-2zM54 27h1v1h-1zM38 28h1v1h-1zM40 28h1v1h-1zM70 28h1v1h-1zM49 29h1v1h-1zM60 29h1v1h-1zM20 30h1v1h-1zM24 30h1v1h-1zM41 30h1v1h-1zM91 30h1v1h-1zM40 31h1v1h-1zM64 31h1v1h-1zM87 31h1v1h-1zM38 32h1v1h-1zM51 32h1v1h-1zM56 32h1v1h-1zM63 32h1v1h-1zM65 32h1v1h-1zM20 33h1v1h-1zM23 33h1v1h-1zM28 33h1v1h-1zM51 33h1v1h-1zM55 33h1v1h-1zM67 33h1v1h-1zM48 34h1v1h-1zM52 34h1v1h-1zM37 35h1v1h-1zM39 35h1v1h-1zM44 35h1v1h-1zM53 35h1v1h-1zM55 35h1v1h-1zM19 36h1v1h-1zM29 37h1v1h-1zM56 37h1v1h-1zM58 37h1v1h-1zM63 37h2v1h-2zM68 37h1v1h-1zM27 38h2v1h-2zM44 38h1v1h-1zM24 39h1v1h-1zM27 39h1v1h-1zM34 39h1v1h-1zM44 39h1v1h-1zM59 39h1v1h-1zM62 39h1v1h-1zM21 40h1v1h-1zM25 40h1v1h-1zM37 40h2v1h-2zM51 40h1v1h-1zM22 41h2v1h-2zM39 41h1v1h-1zM45 41h1v1h-1zM21 42h1v1h-1zM25 42h1v1h-1zM36 42h1v1h-1zM19 43h1v1h-1zM27 43h1v1h-1zM18 45h2v1h-2zM42 45h1v1h-1zM28 46h1v1h-1zM30 46h1v1h-1zM37 46h1v1h-1zM24 47h1v1h-1zM31 47h1v1h-1zM17 48h1v1h-1zM22 48h1v1h-1zM28 48h1v1h-1zM31 48h1v1h-1zM40 48h1v1h-1zM25 49h1v1h-1zM29 49h1v1h-1zM44 49h1v1h-1zM21 50h1v1h-1zM25 50h1v1h-1zM30 50h1v1h-1zM37 50h1v1h-1zM28 51h1v1h-1zM24 52h1v1h-1zM29 52h1v1h-1zM26 53h1v1h-1zM28 53h2v1h-2zM25 54h2v1h-2zM33 54h1v1h-1z"/><path fill="#feea9f" d="M10 4h1v1h-1zM9 5h1v1h-1zM9 6h1v1h-1zM14 8h1v1h-1zM17 8h1v1h-1zM10 10h1v1h-1zM17 10h1v1h-1zM15 12h1v1h-1zM8 13h1v1h-1zM11 14h1v1h-1zM87 16h1v1h-1zM23 31h1v1h-1zM41 34h1v1h-1zM22 38h1v1h-1zM46 40h1v1h-1zM18 41h1v1h-1zM39 43h1v1h-1zM29 45h1v1h-1zM18 49h1v1h-1zM29 56h1v1h-1z"/><path fill="#fec44f" d="M18 4h1v1h-1zM21 4h1v1h-1zM32 4h1v1h-1zM10 5h1v1h-1zM21 5h1v1h-1zM25 5h1v1h-1zM20 6h1v1h-1zM6 7h1v1h-1zM8 7h1v1h-1zM21 7h1v1h-1zM25 7h1v1h-1zM12 8h1v1h-1zM16 8h1v1h-1zM18 8h2v1h-2zM3 9h1v1h-1zM4 10h1v1h-1zM11 10h1v1h-1zM15 10h1v1h-1zM19 10h1v1h-1zM11 11h1v1h-1zM27 11h1v1h-1zM90 11h1v1h-1zM6 12h1v1h-1zM13 12h1v1h-1zM17 12h1v1h-1zM90 12h1v1h-1zM10 13h2v1h-2zM13 13h1v1h-1zM20 13h1v1h-1zM82 13h1v1h-1zM84 13h1v1h-1zM22 14h1v1h-1zM81 14h1v1h-1zM48 15h1v1h-1zM59 15h1v1h-1zM83 16h1v1h-1zM53 18h1v1h-1zM72 18h1v1h-1zM84 18h1v1h-1zM21 21h1v1h-1zM68 21h1v1h-1zM69 22h1v1h-1zM71 22h1v1h-1zM71 23h1v1h-1zM20 28h1v1h-1zM35 28h1v1h-1zM45 28h1v1h-1zM38 29h1v1h-1zM64 29h1v1h-1zM34 30h1v1h-1zM43 30h1v1h-1zM50 30h1v1h-1zM52 30h1v1h-1zM29 31h1v1h-1zM34 31h1v1h-1zM25 32h1v1h-1zM33 32h1v1h-1zM45 32h1v1h-1zM50 32h1v1h-1zM58 32h1v1h-1zM16 33h1v1h-1zM22 33h1v1h-1zM35 33h1v1h-1zM34 34h1v1h-1zM46 34h1v1h-1zM90 34h1v1h-1zM18 35h1v1h-1zM24 35h1v1h-1zM62 35h1v1h-1zM24 36h1v1h-1zM30 37h1v1h-1zM61 37h1v1h-1zM20 38h1v1h-1zM32 38h1v1h-1zM58 38h1v1h-1zM29 39h1v1h-1zM31 39h1v1h-1zM46 39h1v1h-1zM56 39h1v1h-1zM63 39h2v1h-2zM19 40h1v1h-1zM24 40h1v1h-1zM58 40h1v1h-1zM61 40h1v1h-1zM17 41h1v1h-1zM55 41h1v1h-1zM63 42h1v1h-1zM23 43h1v1h-1zM28 43h2v1h-2zM25 44h1v1h-1zM34 44h1v1h-1zM28 45h1v1h-1zM40 45h1v1h-1zM35 46h1v1h-1zM42 46h1v1h-1zM19 47h1v1h-1zM39 47h1v1h-1zM16 48h1v1h-1zM38 49h1v1h-1zM30 51h1v1h-1zM38 52h1v1h-1zM27 54h2v1h-2zM30 55h1v1h-1z"/><path fill="#fff0ae" d="M19 4h1v1h-1zM11 5h1v1h-1zM16 5h1v1h-1zM54 5h1v1h-1zM56 5h1v1h-1zM18 6h1v1h-1zM13 7h1v1h-1zM17 7h1v1h-1zM12 10h1v1h-1zM15 14h1v1h-1zM24 31h1v1h-1zM48 35h1v1h-1zM33 36h1v1h-1zM25 51h1v1h-1zM28 56h1v1h-1z"/><path fill="#aa3c03" d="M30 4h1v1h-1zM28 5h1v1h-1zM46 5h1v1h-1zM40 6h1v1h-1zM42 7h1v1h-1zM38 9h1v1h-1zM43 9h1v1h-1zM76 9h1v1h-1zM24 10h1v1h-1zM34 10h1v1h-1zM36 11h1v1h-1zM48 11h1v1h-1zM64 11h1v1h-1zM68 11h1v1h-1zM70 11h1v1h-1zM74 11h1v1h-1zM69 12h2v1h-2zM76 12h1v1h-1zM37 13h1v1h-1zM41 13h1v1h-1zM48 13h1v1h-1zM65 13h1v1h-1zM73 13h2v1h-2zM63 15h1v1h-1zM68 15h1v1h-1zM35 16h1v1h-1zM67 16h1v1h-1zM70 16h1v1h-1zM26 17h1v1h-1zM43 18h1v1h-1zM48 18h1v1h-1zM67 18h1v1h-1zM62 19h1v1h-1zM29 20h1v1h-1zM67 20h1v1h-1zM80 20h1v1h-1zM24 21h1v1h-1zM29 21h1v1h-1zM33 21h1v1h-1zM62 21h1v1h-1zM67 21h1v1h-1zM67 22h1v1h-1zM41 23h2v1h-2zM49 23h1v1h-1zM70 23h1v1h-1zM35 24h1v1h-1zM54 24h1v1h-1zM70 24h1v1h-1zM31 25h1v1h-1zM61 25h1v1h-1zM73 25h1v1h-1zM25 26h1v1h-1zM37 26h1v1h-1zM45 26h1v1h-1zM48 26h1v1h-1zM52 27h1v1h-1zM58 27h1v1h-1zM50 28h1v1h-1zM66 30h2v1h-2zM54 33h1v1h-1zM58 33h1v1h-1zM62 33h1v1h-1zM61 36h1v1h-1zM53 37h1v1h-1zM80 37h1v1h-1zM45 38h1v1h-1zM62 38h1v1h-1zM27 41h1v1h-1zM52 41h1v1h-1zM45 42h1v1h-1zM50 43h1v1h-1zM47 44h1v1h-1zM52 45h1v1h-1zM41 46h1v1h-1zM57 46h1v1h-1zM23 47h1v1h-1zM49 48h1v1h-1zM50 49h1v1h-1zM47 50h1v1h-1zM32 54h1v1h-1z"/><path fill="#e1640e" d="M35 4h1v1h-1zM32 5h1v1h-1zM36 5h1v1h-1zM39 5h1v1h-1zM38 6h1v1h-1zM47 6h1v1h-1zM51 7h1v1h-1zM61 8h1v1h-1zM26 9h1v1h-1zM47 9h1v1h-1zM57 9h1v1h-1zM23 10h1v1h-1zM33 10h1v1h-1zM49 10h1v1h-1zM59 10h1v1h-1zM71 10h1v1h-1zM32 11h1v1h-1zM44 11h1v1h-1zM52 11h1v1h-1zM54 11h2v1h-2zM58 11h1v1h-1zM72 11h1v1h-1zM79 11h1v1h-1zM81 11h2v1h-2zM36 12h1v1h-1zM58 12h1v1h-1zM66 12h1v1h-1zM73 12h1v1h-1zM82 12h1v1h-1zM23 13h1v1h-1zM26 13h1v1h-1zM44 13h1v1h-1zM6 14h1v1h-1zM25 14h1v1h-1zM31 14h1v1h-1zM35 14h1v1h-1zM41 14h1v1h-1zM49 14h1v1h-1zM79 14h1v1h-1zM82 14h1v1h-1zM84 14h1v1h-1zM91 14h1v1h-1zM30 15h1v1h-1zM32 15h1v1h-1zM42 15h1v1h-1zM60 15h1v1h-1zM65 15h1v1h-1zM83 15h1v1h-1zM88 15h1v1h-1zM56 16h1v1h-1zM50 17h1v1h-1zM59 17h1v1h-1zM61 17h2v1h-2zM68 17h1v1h-1zM71 17h1v1h-1zM56 18h1v1h-1zM66 18h1v1h-1zM69 18h1v1h-1zM38 19h1v1h-1zM50 19h1v1h-1zM68 19h1v1h-1zM77 19h1v1h-1zM79 19h1v1h-1zM30 20h1v1h-1zM32 20h1v1h-1zM39 20h1v1h-1zM51 21h1v1h-1zM59 21h1v1h-1zM78 21h1v1h-1zM28 22h1v1h-1zM35 22h2v1h-2zM46 22h1v1h-1zM52 22h1v1h-1zM23 23h1v1h-1zM27 23h1v1h-1zM52 23h1v1h-1zM56 23h1v1h-1zM59 24h2v1h-2zM71 24h1v1h-1zM26 25h1v1h-1zM32 25h1v1h-1zM45 25h1v1h-1zM29 26h1v1h-1zM23 27h1v1h-1zM35 27h2v1h-2zM43 27h1v1h-1zM23 28h1v1h-1zM31 28h1v1h-1zM60 28h1v1h-1zM69 28h1v1h-1zM33 29h1v1h-1zM40 29h1v1h-1zM59 29h1v1h-1zM66 29h1v1h-1zM38 30h1v1h-1zM68 30h1v1h-1zM52 31h1v1h-1zM62 31h1v1h-1zM91 31h1v1h-1zM39 32h1v1h-1zM53 32h1v1h-1zM89 32h1v1h-1zM91 32h1v1h-1zM88 33h1v1h-1zM33 34h1v1h-1zM35 34h1v1h-1zM56 34h1v1h-1zM63 34h2v1h-2zM33 35h1v1h-1zM42 35h1v1h-1zM31 36h1v1h-1zM39 36h1v1h-1zM43 36h1v1h-1zM53 36h1v1h-1zM60 36h1v1h-1zM62 36h1v1h-1zM65 36h1v1h-1zM36 37h1v1h-1zM39 37h1v1h-1zM43 37h1v1h-1zM67 37h1v1h-1zM54 38h1v1h-1zM30 39h1v1h-1zM68 39h1v1h-1zM28 40h1v1h-1zM33 40h1v1h-1zM50 40h1v1h-1zM40 41h1v1h-1zM43 41h1v1h-1zM48 41h1v1h-1zM61 41h1v1h-1zM34 42h2v1h-2zM37 42h1v1h-1zM59 42h1v1h-1zM61 42h1v1h-1zM46 43h1v1h-1zM59 43h1v1h-1zM63 43h1v1h-1zM29 44h1v1h-1zM49 44h1v1h-1zM60 44h1v1h-1zM61 45h1v1h-1zM20 46h1v1h-1zM25 46h1v1h-1zM40 46h1v1h-1zM51 46h1v1h-1zM41 47h1v1h-1zM44 47h1v1h-1zM57 47h1v1h-1zM37 48h2v1h-2zM37 49h1v1h-1zM52 49h1v1h-1zM41 50h1v1h-1zM45 50h1v1h-1zM49 50h1v1h-1zM31 51h1v1h-1zM31 52h1v1h-1zM40 52h1v1h-1zM47 52h1v1h-1zM33 53h1v1h-1zM35 54h1v1h-1z"/><path fill="#ec7014" d="M36 4h1v1h-1zM41 4h1v1h-1zM22 5h2v1h-2zM31 5h1v1h-1zM37 5h1v1h-1zM52 5h1v1h-1zM22 6h1v1h-1zM24 6h1v1h-1zM33 6h1v1h-1zM44 6h1v1h-1zM51 6h1v1h-1zM57 6h1v1h-1zM58 7h1v1h-1zM56 8h1v1h-1zM29 9h1v1h-1zM31 9h1v1h-1zM45 9h2v1h-2zM56 9h1v1h-1zM68 9h1v1h-1zM5 10h1v1h-1zM28 10h1v1h-1zM31 10h1v1h-1zM61 10h1v1h-1zM39 11h1v1h-1zM43 11h1v1h-1zM28 12h1v1h-1zM38 12h1v1h-1zM52 12h1v1h-1zM64 12h1v1h-1zM91 12h1v1h-1zM22 13h1v1h-1zM29 13h2v1h-2zM34 13h1v1h-1zM38 13h1v1h-1zM52 13h1v1h-1zM54 13h1v1h-1zM61 13h1v1h-1zM67 13h1v1h-1zM89 13h2v1h-2zM30 14h1v1h-1zM43 14h1v1h-1zM47 14h1v1h-1zM54 14h1v1h-1zM63 14h1v1h-1zM77 14h1v1h-1zM90 14h1v1h-1zM92 14h1v1h-1zM21 15h1v1h-1zM31 15h1v1h-1zM33 15h1v1h-1zM49 15h1v1h-1zM52 15h1v1h-1zM57 15h1v1h-1zM76 15h1v1h-1zM82 15h1v1h-1zM27 16h2v1h-2zM31 16h1v1h-1zM48 16h1v1h-1zM69 16h1v1h-1zM80 16h1v1h-1zM84 16h1v1h-1zM24 17h1v1h-1zM37 17h1v1h-1zM42 17h1v1h-1zM74 17h2v1h-2zM81 17h1v1h-1zM84 17h2v1h-2zM75 18h1v1h-1zM85 18h2v1h-2zM53 19h1v1h-1zM61 19h1v1h-1zM75 19h1v1h-1zM23 20h1v1h-1zM42 20h1v1h-1zM49 20h2v1h-2zM70 20h2v1h-2zM78 20h1v1h-1zM22 21h1v1h-1zM26 21h1v1h-1zM28 21h1v1h-1zM32 21h1v1h-1zM34 21h2v1h-2zM41 21h1v1h-1zM56 21h1v1h-1zM58 21h1v1h-1zM75 21h1v1h-1zM29 22h1v1h-1zM50 22h1v1h-1zM57 22h1v1h-1zM21 23h1v1h-1zM28 23h1v1h-1zM63 23h1v1h-1zM41 24h1v1h-1zM51 24h1v1h-1zM56 24h1v1h-1zM58 24h1v1h-1zM67 24h1v1h-1zM64 25h1v1h-1zM22 26h1v1h-1zM38 26h1v1h-1zM43 26h1v1h-1zM63 26h1v1h-1zM71 26h1v1h-1zM24 27h1v1h-1zM31 27h1v1h-1zM38 27h1v1h-1zM55 27h1v1h-1zM22 28h1v1h-1zM46 28h1v1h-1zM68 28h1v1h-1zM27 29h1v1h-1zM34 29h1v1h-1zM37 29h1v1h-1zM39 29h1v1h-1zM44 29h1v1h-1zM52 29h1v1h-1zM63 29h1v1h-1zM33 30h1v1h-1zM40 30h1v1h-1zM97 30h1v1h-1zM22 31h1v1h-1zM30 31h1v1h-1zM60 31h1v1h-1zM65 31h1v1h-1zM86 31h1v1h-1zM89 31h1v1h-1zM32 32h1v1h-1zM34 32h1v1h-1zM37 32h1v1h-1zM47 32h1v1h-1zM53 33h1v1h-1zM57 33h1v1h-1zM60 33h1v1h-1zM89 33h1v1h-1zM19 35h1v1h-1zM47 35h1v1h-1zM52 35h1v1h-1zM66 35h1v1h-1zM29 36h1v1h-1zM19 37h1v1h-1zM32 37h1v1h-1zM46 37h1v1h-1zM48 37h1v1h-1zM54 37h1v1h-1zM79 37h1v1h-1zM18 38h1v1h-1zM31 38h1v1h-1zM50 38h1v1h-1zM32 39h1v1h-1zM45 39h1v1h-1zM57 39h1v1h-1zM30 40h1v1h-1zM34 40h1v1h-1zM39 40h1v1h-1zM42 40h1v1h-1zM59 40h1v1h-1zM32 41h2v1h-2zM41 41h1v1h-1zM64 41h1v1h-1zM64 42h1v1h-1zM37 44h1v1h-1zM51 44h4v1h-4zM63 44h1v1h-1zM20 45h1v1h-1zM33 45h1v1h-1zM43 45h1v1h-1zM45 45h1v1h-1zM54 45h1v1h-1zM59 45h1v1h-1zM63 45h1v1h-1zM45 46h1v1h-1zM58 46h1v1h-1zM18 47h1v1h-1zM21 47h1v1h-1zM42 47h1v1h-1zM45 47h1v1h-1zM41 48h1v1h-1zM32 49h1v1h-1zM36 49h1v1h-1zM39 49h1v1h-1zM26 51h1v1h-1zM47 51h1v1h-1zM54 51h1v1h-1zM34 53h1v1h-1zM36 53h1v1h-1z"/><path fill="#f88b22" d="M40 4h1v1h-1zM50 4h1v1h-1zM33 5h1v1h-1zM51 5h1v1h-1zM23 7h1v1h-1zM29 7h1v1h-1zM31 7h1v1h-1zM48 7h1v1h-1zM5 8h1v1h-1zM23 8h1v1h-1zM26 8h3v1h-3zM43 8h1v1h-1zM48 8h1v1h-1zM57 8h1v1h-1zM20 9h2v1h-2zM6 10h1v1h-1zM36 10h1v1h-1zM44 10h1v1h-1zM20 11h1v1h-1zM34 11h1v1h-1zM10 12h1v1h-1zM31 12h1v1h-1zM37 12h1v1h-1zM41 12h1v1h-1zM33 13h1v1h-1zM13 14h1v1h-1zM40 14h1v1h-1zM70 14h1v1h-1zM72 14h1v1h-1zM74 14h1v1h-1zM85 14h1v1h-1zM5 15h1v1h-1zM13 15h1v1h-1zM16 15h1v1h-1zM27 15h2v1h-2zM37 15h1v1h-1zM54 15h1v1h-1zM84 15h2v1h-2zM14 16h1v1h-1zM22 16h1v1h-1zM24 16h1v1h-1zM37 16h1v1h-1zM42 16h1v1h-1zM72 16h1v1h-1zM76 16h1v1h-1zM27 17h1v1h-1zM30 17h1v1h-1zM38 17h1v1h-1zM70 17h1v1h-1zM25 18h1v1h-1zM29 18h2v1h-2zM81 18h1v1h-1zM25 19h1v1h-1zM39 19h1v1h-1zM43 19h1v1h-1zM69 19h1v1h-1zM74 19h1v1h-1zM80 19h1v1h-1zM41 20h1v1h-1zM74 20h1v1h-1zM79 20h1v1h-1zM30 21h1v1h-1zM42 22h1v1h-1zM53 22h2v1h-2zM61 22h1v1h-1zM70 22h1v1h-1zM26 23h1v1h-1zM35 23h1v1h-1zM40 23h1v1h-1zM50 23h1v1h-1zM72 23h1v1h-1zM26 24h1v1h-1zM30 24h1v1h-1zM45 24h1v1h-1zM50 24h1v1h-1zM61 24h1v1h-1zM74 24h1v1h-1zM24 25h1v1h-1zM42 25h1v1h-1zM46 25h1v1h-1zM22 27h1v1h-1zM66 27h1v1h-1zM69 27h1v1h-1zM28 28h1v1h-1zM36 28h1v1h-1zM48 28h1v1h-1zM66 28h1v1h-1zM28 29h2v1h-2zM31 29h1v1h-1zM35 29h2v1h-2zM43 29h1v1h-1zM50 29h1v1h-1zM53 29h1v1h-1zM46 30h1v1h-1zM20 31h1v1h-1zM41 31h1v1h-1zM23 32h1v1h-1zM28 32h1v1h-1zM42 32h1v1h-1zM52 32h1v1h-1zM55 32h1v1h-1zM88 32h1v1h-1zM93 32h1v1h-1zM36 33h2v1h-2zM44 33h1v1h-1zM90 33h1v1h-1zM21 34h1v1h-1zM43 34h1v1h-1zM45 34h1v1h-1zM91 34h1v1h-1zM35 35h1v1h-1zM38 35h1v1h-1zM46 35h1v1h-1zM50 35h1v1h-1zM67 35h1v1h-1zM49 36h1v1h-1zM66 36h1v1h-1zM31 37h1v1h-1zM35 37h1v1h-1zM42 37h1v1h-1zM70 37h1v1h-1zM24 38h1v1h-1zM35 38h1v1h-1zM39 38h1v1h-1zM48 38h1v1h-1zM65 38h1v1h-1zM68 38h1v1h-1zM48 39h1v1h-1zM53 39h1v1h-1zM31 40h1v1h-1zM45 40h1v1h-1zM52 40h1v1h-1zM20 41h1v1h-1zM25 41h1v1h-1zM38 41h1v1h-1zM47 41h1v1h-1zM59 41h1v1h-1zM63 41h1v1h-1zM65 41h1v1h-1zM29 42h1v1h-1zM38 42h4v1h-4zM54 42h1v1h-1zM33 43h1v1h-1zM41 43h1v1h-1zM22 44h1v1h-1zM27 44h2v1h-2zM30 44h1v1h-1zM39 44h1v1h-1zM55 44h1v1h-1zM17 45h1v1h-1zM44 45h1v1h-1zM47 45h1v1h-1zM51 45h1v1h-1zM38 46h1v1h-1zM16 47h1v1h-1zM46 47h1v1h-1zM23 48h1v1h-1zM35 48h1v1h-1zM42 48h1v1h-1zM17 49h1v1h-1zM30 49h1v1h-1zM35 49h1v1h-1zM55 49h1v1h-1zM24 50h1v1h-1zM27 50h1v1h-1zM32 50h1v1h-1zM34 50h1v1h-1zM36 50h1v1h-1zM46 50h1v1h-1zM52 50h1v1h-1zM40 51h1v1h-1zM44 51h1v1h-1zM52 51h1v1h-1zM35 52h1v1h-1zM31 55h1v1h-1z"/><path fill="#d75808" d="M42 4h1v1h-1zM38 5h1v1h-1zM35 6h1v1h-1zM42 6h1v1h-1zM34 7h1v1h-1zM41 7h1v1h-1zM59 7h1v1h-1zM62 8h1v1h-1zM36 9h1v1h-1zM50 9h1v1h-1zM75 9h1v1h-1zM38 10h1v1h-1zM45 10h1v1h-1zM50 10h1v1h-1zM53 10h1v1h-1zM57 10h1v1h-1zM79 10h2v1h-2zM41 11h1v1h-1zM45 11h1v1h-1zM57 11h1v1h-1zM66 11h1v1h-1zM34 12h1v1h-1zM50 12h1v1h-1zM17 13h1v1h-1zM32 13h1v1h-1zM40 13h1v1h-1zM46 13h1v1h-1zM49 13h1v1h-1zM63 13h1v1h-1zM23 14h1v1h-1zM26 14h1v1h-1zM33 14h1v1h-1zM42 14h1v1h-1zM52 14h1v1h-1zM55 14h1v1h-1zM67 14h1v1h-1zM69 14h1v1h-1zM73 14h1v1h-1zM80 14h1v1h-1zM26 15h1v1h-1zM43 15h1v1h-1zM69 15h1v1h-1zM32 16h1v1h-1zM46 16h1v1h-1zM53 16h1v1h-1zM59 16h1v1h-1zM63 16h1v1h-1zM65 16h1v1h-1zM71 16h1v1h-1zM49 17h1v1h-1zM51 17h1v1h-1zM69 17h1v1h-1zM45 18h2v1h-2zM49 18h1v1h-1zM51 18h1v1h-1zM62 18h1v1h-1zM71 18h1v1h-1zM40 19h2v1h-2zM22 20h1v1h-1zM26 20h1v1h-1zM33 20h1v1h-1zM36 20h1v1h-1zM47 20h1v1h-1zM53 20h2v1h-2zM58 20h1v1h-1zM77 20h1v1h-1zM25 21h1v1h-1zM46 21h1v1h-1zM73 21h1v1h-1zM77 21h1v1h-1zM30 22h1v1h-1zM39 22h2v1h-2zM49 22h1v1h-1zM55 22h2v1h-2zM66 22h1v1h-1zM25 23h1v1h-1zM53 23h1v1h-1zM55 23h1v1h-1zM61 23h1v1h-1zM69 23h1v1h-1zM31 24h1v1h-1zM34 24h1v1h-1zM39 25h1v1h-1zM48 25h1v1h-1zM53 25h1v1h-1zM62 25h1v1h-1zM34 26h1v1h-1zM40 26h1v1h-1zM42 26h1v1h-1zM60 26h1v1h-1zM34 27h1v1h-1zM40 27h1v1h-1zM51 27h1v1h-1zM56 27h1v1h-1zM61 27h1v1h-1zM65 27h1v1h-1zM34 28h1v1h-1zM37 28h1v1h-1zM41 28h1v1h-1zM49 28h1v1h-1zM57 29h1v1h-1zM99 29h1v1h-1zM30 30h2v1h-2zM45 30h1v1h-1zM48 30h1v1h-1zM61 30h1v1h-1zM89 30h2v1h-2zM47 31h1v1h-1zM35 32h1v1h-1zM65 33h1v1h-1zM92 33h1v1h-1zM59 34h1v1h-1zM41 35h1v1h-1zM49 35h1v1h-1zM57 35h1v1h-1zM59 35h1v1h-1zM36 36h2v1h-2zM44 36h1v1h-1zM67 36h1v1h-1zM80 36h1v1h-1zM42 38h1v1h-1zM59 38h1v1h-1zM66 38h1v1h-1zM79 38h1v1h-1zM40 39h1v1h-1zM50 39h2v1h-2zM60 40h1v1h-1zM62 40h1v1h-1zM65 40h1v1h-1zM29 41h1v1h-1zM49 41h1v1h-1zM54 41h1v1h-1zM50 42h1v1h-1zM52 43h1v1h-1zM54 43h1v1h-1zM60 43h2v1h-2zM57 44h1v1h-1zM48 45h1v1h-1zM57 45h1v1h-1zM46 46h2v1h-2zM62 46h1v1h-1zM22 47h1v1h-1zM33 47h1v1h-1zM18 48h1v1h-1zM36 48h1v1h-1zM39 48h1v1h-1zM48 48h1v1h-1zM50 48h1v1h-1zM54 48h1v1h-1zM27 49h1v1h-1zM45 49h1v1h-1zM47 49h1v1h-1zM49 49h1v1h-1zM35 50h1v1h-1zM40 50h1v1h-1zM39 51h1v1h-1zM45 51h1v1h-1zM51 51h1v1h-1zM37 52h1v1h-1zM41 52h1v1h-1zM28 55h1v1h-1z"/><path fill="#fffaca" d="M17 5h1v1h-1zM17 6h1v1h-1zM27 33h1v1h-1z"/><path fill="#cc4c02" d="M40 5h2v1h-2zM26 6h1v1h-1zM45 6h1v1h-1zM39 7h1v1h-1zM46 7h2v1h-2zM47 8h1v1h-1zM59 9h1v1h-1zM25 10h1v1h-1zM37 10h1v1h-1zM43 10h1v1h-1zM46 11h1v1h-1zM61 11h1v1h-1zM21 12h1v1h-1zM43 12h1v1h-1zM55 12h1v1h-1zM59 12h2v1h-2zM62 12h1v1h-1zM31 13h1v1h-1zM60 13h1v1h-1zM81 13h1v1h-1zM50 14h1v1h-1zM56 14h1v1h-1zM59 14h1v1h-1zM64 14h1v1h-1zM75 14h1v1h-1zM78 14h1v1h-1zM89 14h1v1h-1zM51 15h1v1h-1zM53 15h1v1h-1zM54 16h1v1h-1zM61 16h1v1h-1zM78 16h1v1h-1zM46 17h1v1h-1zM55 17h2v1h-2zM39 18h1v1h-1zM44 19h1v1h-1zM51 19h1v1h-1zM67 19h1v1h-1zM72 19h1v1h-1zM46 20h1v1h-1zM51 20h1v1h-1zM55 20h1v1h-1zM65 20h2v1h-2zM40 21h1v1h-1zM51 22h1v1h-1zM73 22h1v1h-1zM29 23h1v1h-1zM32 23h1v1h-1zM39 23h1v1h-1zM51 23h1v1h-1zM54 23h1v1h-1zM24 24h1v1h-1zM44 24h1v1h-1zM49 24h1v1h-1zM53 24h1v1h-1zM64 24h1v1h-1zM50 25h1v1h-1zM55 25h1v1h-1zM21 26h1v1h-1zM28 26h1v1h-1zM44 26h1v1h-1zM49 26h1v1h-1zM51 26h1v1h-1zM65 26h1v1h-1zM26 27h1v1h-1zM32 27h2v1h-2zM41 27h1v1h-1zM44 27h1v1h-1zM33 28h1v1h-1zM51 28h1v1h-1zM97 28h1v1h-1zM51 29h1v1h-1zM55 29h1v1h-1zM61 29h1v1h-1zM98 29h1v1h-1zM27 30h1v1h-1zM55 30h2v1h-2zM54 32h1v1h-1zM86 32h2v1h-2zM91 33h1v1h-1zM63 35h1v1h-1zM79 35h1v1h-1zM20 36h1v1h-1zM60 37h1v1h-1zM78 37h1v1h-1zM36 39h1v1h-1zM43 39h1v1h-1zM58 39h1v1h-1zM18 40h1v1h-1zM44 40h1v1h-1zM49 40h1v1h-1zM58 41h1v1h-1zM46 42h1v1h-1zM62 42h1v1h-1zM43 43h1v1h-1zM47 43h1v1h-1zM41 44h1v1h-1zM49 45h1v1h-1zM62 45h1v1h-1zM49 46h1v1h-1zM46 48h1v1h-1zM55 48h1v1h-1zM48 49h1v1h-1zM53 49h1v1h-1zM42 50h1v1h-1zM54 50h1v1h-1zM34 52h1v1h-1zM45 52h1v1h-1zM53 52h1v1h-1zM34 54h1v1h-1z"/><path fill="#bb4403" d="M44 5h1v1h-1zM48 5h1v1h-1zM32 7h1v1h-1zM45 7h1v1h-1zM60 7h1v1h-1zM37 9h1v1h-1zM62 9h1v1h-1zM27 10h1v1h-1zM55 10h1v1h-1zM62 10h1v1h-1zM72 10h1v1h-1zM50 11h1v1h-1zM56 11h1v1h-1zM60 11h1v1h-1zM80 11h1v1h-1zM87 11h1v1h-1zM61 12h1v1h-1zM39 13h1v1h-1zM72 13h1v1h-1zM75 13h1v1h-1zM44 15h1v1h-1zM73 15h1v1h-1zM77 15h1v1h-1zM60 16h1v1h-1zM62 16h1v1h-1zM66 16h1v1h-1zM41 17h1v1h-1zM44 17h1v1h-1zM54 17h1v1h-1zM73 17h1v1h-1zM86 17h1v1h-1zM27 18h1v1h-1zM44 18h1v1h-1zM47 18h1v1h-1zM64 18h1v1h-1zM27 19h2v1h-2zM31 19h1v1h-1zM46 19h2v1h-2zM82 19h1v1h-1zM31 20h1v1h-1zM43 20h2v1h-2zM63 20h1v1h-1zM60 21h1v1h-1zM65 21h1v1h-1zM25 22h1v1h-1zM37 22h2v1h-2zM41 22h1v1h-1zM47 22h1v1h-1zM62 22h1v1h-1zM33 23h1v1h-1zM64 23h1v1h-1zM37 24h1v1h-1zM48 24h1v1h-1zM34 25h1v1h-1zM38 25h1v1h-1zM41 25h1v1h-1zM44 25h1v1h-1zM51 25h1v1h-1zM47 26h1v1h-1zM52 26h1v1h-1zM64 26h1v1h-1zM60 27h1v1h-1zM70 27h1v1h-1zM30 28h1v1h-1zM65 28h1v1h-1zM41 29h1v1h-1zM97 29h1v1h-1zM51 30h1v1h-1zM57 30h1v1h-1zM60 30h1v1h-1zM88 30h1v1h-1zM98 30h2v1h-2zM17 31h1v1h-1zM48 31h1v1h-1zM53 31h1v1h-1zM59 31h1v1h-1zM88 31h1v1h-1zM16 32h1v1h-1zM90 32h1v1h-1zM45 33h1v1h-1zM87 33h1v1h-1zM50 36h1v1h-1zM54 36h1v1h-1zM78 36h2v1h-2zM39 39h1v1h-1zM55 39h1v1h-1zM41 40h1v1h-1zM58 42h1v1h-1zM44 44h1v1h-1zM53 45h1v1h-1zM60 45h1v1h-1zM44 46h1v1h-1zM52 46h1v1h-1zM54 46h1v1h-1zM61 46h1v1h-1zM63 46h1v1h-1zM50 47h1v1h-1zM52 47h2v1h-2zM55 50h1v1h-1zM50 51h1v1h-1zM42 52h1v1h-1z"/><path fill="#993404" d="M49 5h1v1h-1zM36 6h1v1h-1zM42 9h1v1h-1zM63 9h1v1h-1zM66 9h1v1h-1zM58 10h1v1h-1zM63 11h1v1h-1zM65 11h1v1h-1zM39 12h1v1h-1zM68 13h1v1h-1zM24 14h1v1h-1zM44 16h1v1h-1zM40 17h1v1h-1zM47 17h1v1h-1zM35 18h1v1h-1zM37 18h1v1h-1zM50 18h1v1h-1zM26 19h1v1h-1zM37 19h1v1h-1zM27 20h1v1h-1zM38 20h1v1h-1zM82 20h1v1h-1zM31 21h1v1h-1zM55 21h1v1h-1zM31 22h1v1h-1zM43 22h1v1h-1zM43 24h1v1h-1zM55 24h1v1h-1zM37 25h1v1h-1zM57 25h1v1h-1zM24 28h1v1h-1zM53 28h1v1h-1zM54 29h1v1h-1zM74 30h1v1h-1zM42 34h1v1h-1zM50 34h1v1h-1zM35 39h1v1h-1zM61 44h1v1h-1zM50 45h1v1h-1zM43 47h1v1h-1zM49 47h1v1h-1zM51 47h1v1h-1zM54 47h1v1h-1zM43 49h1v1h-1zM48 50h1v1h-1z"/><path fill="#882f05" d="M31 6h1v1h-1zM37 6h1v1h-1zM61 7h1v1h-1zM48 9h1v1h-1zM64 9h2v1h-2zM76 10h1v1h-1zM35 11h1v1h-1zM40 11h1v1h-1zM42 11h1v1h-1zM67 11h1v1h-1zM77 11h1v1h-1zM74 12h1v1h-1zM51 13h1v1h-1zM69 13h1v1h-1zM62 14h1v1h-1zM43 16h1v1h-1zM65 17h1v1h-1zM38 18h1v1h-1zM41 18h1v1h-1zM48 19h2v1h-2zM40 20h1v1h-1zM49 21h2v1h-2zM59 22h1v1h-1zM60 25h1v1h-1zM57 31h1v1h-1zM60 34h1v1h-1zM38 43h1v1h-1zM55 47h1v1h-1zM53 48h1v1h-1zM54 49h1v1h-1zM53 50h1v1h-1z"/><path fill="#662506" d="M41 6h1v1h-1zM36 7h1v1h-1zM44 8h1v1h-1zM69 9h1v1h-1zM48 10h1v1h-1zM54 10h1v1h-1zM65 10h3v1h-3zM70 10h1v1h-1zM73 10h1v1h-1zM71 11h1v1h-1zM73 11h1v1h-1zM49 12h1v1h-1zM36 13h1v1h-1zM55 13h1v1h-1zM46 15h1v1h-1zM24 19h1v1h-1zM45 20h1v1h-1zM37 21h1v1h-1zM34 22h1v1h-1zM34 23h1v1h-1zM50 27h1v1h-1zM98 28h1v1h-1zM96 29h1v1h-1zM53 30h1v1h-1zM80 35h1v1h-1zM58 44h1v1h-1zM52 48h1v1h-1z"/><path fill="#772a05" d="M41 8h1v1h-1zM60 9h1v1h-1zM77 9h1v1h-1zM47 10h1v1h-1zM63 10h1v1h-1zM46 12h1v1h-1zM51 12h1v1h-1zM71 12h1v1h-1zM59 13h1v1h-1zM76 13h1v1h-1zM45 14h1v1h-1zM38 23h1v1h-1zM66 23h1v1h-1zM57 28h1v1h-1zM90 31h1v1h-1zM55 40h1v1h-1zM53 41h1v1h-1zM59 44h1v1h-1zM53 46h1v1h-1zM51 49h1v1h-1z"/></g>
<path d="M396.9,188.1 396.8,185.7 398.2,183.8 396.6,183.1 397.6,181.1 395.5,179.1 394.9,176.5 392.2,174.5 392.8,171.9 395.5,170.6 398.7,169.2 402.0,168.2 404.1,166.6 407.4,163.7 409.5,162.9 413.9,165.3 416.7,165.9 422.5,165.8 428.0,165.5 429.6,164.5 432.3,165.9 436.6,166.9 441.5,167.7 446.4,167.9 451.8,166.9 456.1,167.7 460.4,168.2 463.7,167.7 468.0,169.0 471.5,169.0 473.6,168.2 475.6,169.9 477.8,171.9 482.1,173.2 485.4,175.2 489.7,175.8 492.9,177.2 497.3,177.2 500.5,175.2 503.8,176.5 508.6,178.5 511.9,179.8 514.6,181.1 520.0,180.7 525.4,180.5 527.3,180.7 528.9,182.2 527.1,183.8 527.6,186.4 525.4,189.0 523.3,190.8 520.0,193.0 516.8,194.3 512.4,196.6 508.1,198.0 504.9,198.9 502.7,201.6 502.1,203.6 499.4,205.5 496.7,209.5 494.0,212.1 491.9,214.8 489.7,219.4 490.2,223.4 492.9,226.7 495.4,229.3 492.9,231.3 489.7,233.3 487.5,235.2 485.9,239.2 484.8,243.2 485.4,244.5 482.1,244.7 478.9,245.1 475.1,247.8 472.9,251.1 471.3,254.4 469.2,256.1 466.4,254.6 463.7,256.6 460.4,255.8 455.0,256.1 449.6,255.7 445.1,256.1 442.0,259.0 438.8,260.1 435.5,263.0 433.9,264.9 432.3,265.6 429.0,263.0 426.9,261.0 424.7,258.3 423.6,255.0 420.4,251.7 417.1,249.8 412.8,250.0 412.3,245.8 411.7,244.5 414.4,239.9 417.1,238.5 416.0,236.6 413.9,233.3 415.5,230.0 417.1,226.7 416.0,224.7 413.9,220.7 411.7,217.4 417.1,217.2 418.2,214.1 418.8,209.5 419.3,208.2 418.8,204.9 419.3,201.6 418.2,199.6 421.5,197.0 424.7,194.3 425.8,191.7 422.5,190.8 422.0,187.1 418.2,187.1 415.0,187.7 410.6,188.4 407.4,188.1 405.2,189.0 404.1,185.1 400.3,185.7ZM518.4,218.7 520.6,216.8 523.3,214.8 526.5,213.5 527.6,214.8 526.5,216.1 530.3,216.5 529.2,220.1 526.5,222.7 524.9,221.4 522.7,219.4 520.6,220.1ZM534.3,212.8 537.3,211.7 539.5,214.4 537.3,214.8 534.6,214.1ZM505.9,226.7 508.1,224.7 510.3,225.3 509.7,227.6 507.6,228.0Z" fill="none" stroke="#4a5064" stroke-opacity="0.85" stroke-width="0.55" stroke-linejoin="round" shape-rendering="auto"/>
<path d="M416.7,165.9 417.7,168.6 418.8,171.2 418.8,174.5 417.7,176.5 418.8,179.8 417.1,182.4 416.6,185.1 418.2,187.1M418.8,171.2 422.5,173.2 428.0,173.2 433.4,172.5 438.8,171.2 441.5,171.2 443.7,169.2 444.2,167.7M441.5,171.2 444.2,172.5 446.9,174.5 449.6,175.8 452.3,175.2 455.6,172.5 458.3,171.2 458.8,168.3M458.3,171.2 459.9,173.2 460.4,176.5 462.6,178.5 465.9,179.1 468.6,177.8 467.5,175.2 470.2,173.9 471.3,170.6 473.4,168.4M468.6,177.8 471.3,180.5 473.4,184.4 475.6,187.1 478.3,185.7 479.9,181.8 482.1,177.8 484.8,174.9M460.4,176.5 459.4,177.8 459.9,181.1 461.5,184.4 464.8,186.4 469.1,187.1 472.4,186.4 473.4,184.4M472.4,186.4 472.4,191.7 471.3,195.6 470.7,197.6M470.7,197.6 465.9,197.0 460.4,196.3 456.1,197.6 451.8,200.3 448.0,202.9 445.8,206.2 443.7,209.5 438.8,210.8 433.4,210.2 428.0,208.8 423.6,208.8 418.8,209.5M456.1,197.6 458.3,200.3 459.9,204.9 459.4,210.2 456.7,212.8 452.9,214.1 449.1,212.1 445.8,209.5 443.7,209.5M438.8,210.8 435.0,214.1 438.8,219.4 436.6,224.0 439.3,227.3 438.8,229.3M438.8,229.3 435.5,231.9 432.3,235.9 429.0,237.9 424.7,239.2 420.4,237.9 416.0,238.5M438.8,229.3 444.2,231.9 449.6,233.9 455.0,234.6 460.4,233.3 465.3,234.6 466.4,237.9 469.1,239.9 471.3,242.5 472.9,246.5 475.1,247.6M466.4,237.9 467.5,235.2 471.3,233.3 474.5,231.9 478.9,230.6 481.6,231.9 482.1,235.9 482.7,239.2 484.8,241.2M481.6,231.9 481.6,228.0 477.8,225.3 476.7,221.4 479.9,217.4 476.7,212.8 478.3,210.8 483.2,212.8 486.4,211.5 489.7,208.8 493.5,204.9 496.2,203.6 498.6,205.9M470.7,197.6 471.8,200.3 474.0,202.9 475.6,206.9 474.5,208.8 476.2,210.8 478.3,210.8M500.5,175.2 500.5,179.8 499.4,183.8 496.7,187.1 496.7,191.7 496.2,195.6 495.1,199.6 496.2,203.6" fill="none" stroke="#5a5e62" stroke-opacity="0.7" stroke-width="0.45" stroke-linejoin="round" shape-rendering="auto"/>
</g>
<rect x="390.9" y="159.5" width="152.1" height="108.1" fill="none" stroke="#666" stroke-width="1" shape-rendering="auto"/>
<line x1="389.5" x2="391" y1="160.0" y2="160.0" stroke="#333" stroke-width="0.8"/>
<text transform="translate(388.50,162.50) scale(1.08,1)" font-size="7.3" text-anchor="end">44N</text>
<line x1="389.5" x2="391" y1="186.4" y2="186.4" stroke="#333" stroke-width="0.8"/>
<text transform="translate(388.50,188.90) scale(1.08,1)" font-size="7.3" text-anchor="end">42N</text>
<line x1="389.5" x2="391" y1="212.8" y2="212.8" stroke="#333" stroke-width="0.8"/>
<text transform="translate(388.50,215.30) scale(1.08,1)" font-size="7.3" text-anchor="end">40N</text>
<line x1="389.5" x2="391" y1="239.2" y2="239.2" stroke="#333" stroke-width="0.8"/>
<text transform="translate(388.50,241.70) scale(1.08,1)" font-size="7.3" text-anchor="end">38N</text>
<line x1="389.5" x2="391" y1="265.6" y2="265.6" stroke="#333" stroke-width="0.8"/>
<text transform="translate(388.50,268.10) scale(1.08,1)" font-size="7.3" text-anchor="end">36N</text>
<line x1="406.3" x2="406.3" y1="269" y2="270.2" stroke="#555" stroke-width="0.7"/>
<text transform="translate(406.30,277.80) scale(1.08,1)" font-size="7.3" text-anchor="middle">8W</text>
<line x1="428.0" x2="428.0" y1="269" y2="270.2" stroke="#555" stroke-width="0.7"/>
<text transform="translate(427.96,277.80) scale(1.08,1)" font-size="7.3" text-anchor="middle">6W</text>
<line x1="449.6" x2="449.6" y1="269" y2="270.2" stroke="#555" stroke-width="0.7"/>
<text transform="translate(449.62,277.80) scale(1.08,1)" font-size="7.3" text-anchor="middle">4W</text>
<line x1="471.3" x2="471.3" y1="269" y2="270.2" stroke="#555" stroke-width="0.7"/>
<text transform="translate(471.28,277.80) scale(1.08,1)" font-size="7.3" text-anchor="middle">2W</text>
<line x1="492.9" x2="492.9" y1="269" y2="270.2" stroke="#555" stroke-width="0.7"/>
<text transform="translate(492.94,277.80) scale(1.08,1)" font-size="7.3" text-anchor="middle">0</text>
<line x1="514.6" x2="514.6" y1="269" y2="270.2" stroke="#555" stroke-width="0.7"/>
<text transform="translate(514.60,277.80) scale(1.08,1)" font-size="7.3" text-anchor="middle">2E</text>
<line x1="536.3" x2="536.3" y1="269" y2="270.2" stroke="#555" stroke-width="0.7"/>
<text transform="translate(536.26,277.80) scale(1.08,1)" font-size="7.3" text-anchor="middle">4E</text>
<polygon points="391,284.0 398,281.5 536.6,281.5 544,284.0 536.6,286.5 398,286.5" fill="url(#cg)" stroke="#444" stroke-width="0.5" shape-rendering="auto"/>
<line x1="398.0" x2="398.0" y1="286.5" y2="288.0" stroke="#333" stroke-width="0.6"/>
<text transform="translate(398.00,295.30) scale(1.08,1)" font-size="7.3" text-anchor="middle">0</text>
<line x1="444.2" x2="444.2" y1="286.5" y2="288.0" stroke="#333" stroke-width="0.6"/>
<text transform="translate(444.20,295.30) scale(1.08,1)" font-size="7.3" text-anchor="middle">10</text>
<line x1="490.4" x2="490.4" y1="286.5" y2="288.0" stroke="#333" stroke-width="0.6"/>
<text transform="translate(490.40,295.30) scale(1.08,1)" font-size="7.3" text-anchor="middle">20</text>
<line x1="536.6" x2="536.6" y1="286.5" y2="288.0" stroke="#333" stroke-width="0.6"/>
<text transform="translate(536.60,295.30) scale(1.08,1)" font-size="7.3" text-anchor="middle">30</text>
<text transform="translate(467.30,305.20) scale(1.08,1)" font-size="7.3" text-anchor="middle">rel. False bias [%]</text>
</svg></body></html>
